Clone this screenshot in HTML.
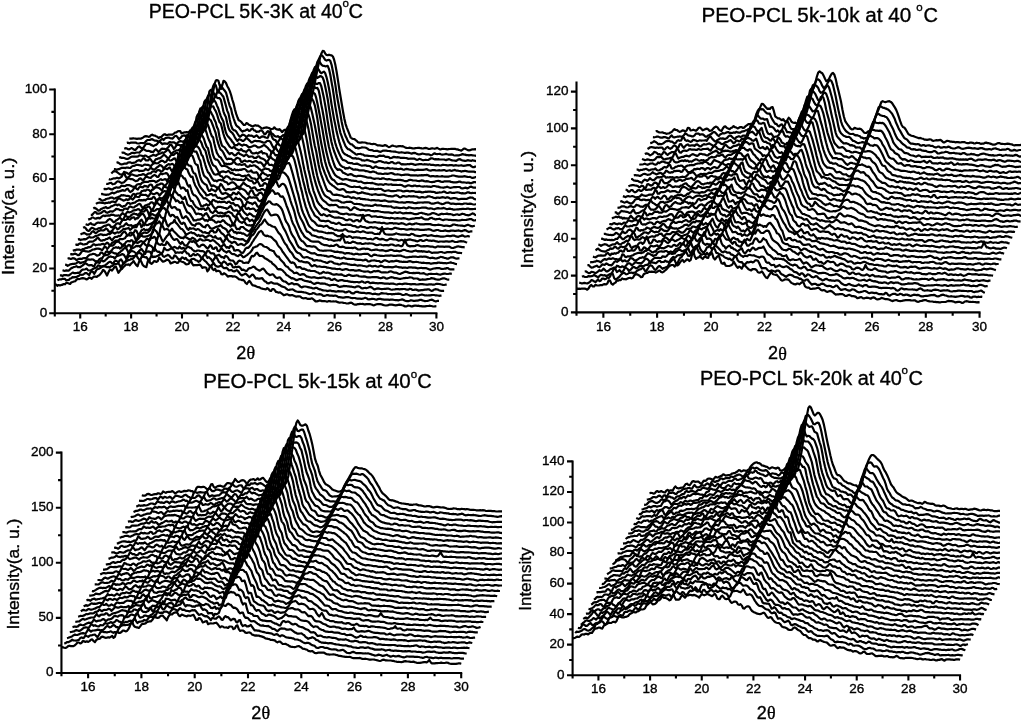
<!DOCTYPE html>
<html><head><meta charset="utf-8"><style>
html,body{margin:0;padding:0;background:#fff;}
svg{display:block;font-family:"Liberation Sans",sans-serif;will-change:transform;}
text{stroke:#000;stroke-width:0.35px;}
</style></head><body>
<svg width="1024" height="720" viewBox="0 0 1024 720">
<rect width="1024" height="720" fill="#fff"/>
<clipPath id="clip0"><rect x="52.8" y="0" width="423.2" height="720"/></clipPath>
<g clip-path="url(#clip0)" fill="none" stroke="#000" stroke-width="2.2" stroke-linejoin="round">
<path d="M54.8 284.3l1.3 0.2 1.2 1.3 1.3-0.8 1.3 0.5 1.3-0.6 1.2-0.1 1.3-0.8 1.3 0.3 1.2-1.4 1.3 0.1 1.3 0.5 1.3 0.5 1.2-1.6 1.3-0.4 1.3-0.5 1.3-0.3 1.2-1.4 1.3-1 1.3 0.3 1.2-0.3 1.3-0.4 1.3-0.3 1.3 0.3 1.2 0.3 1.3 0.8 1.3-0.7 1.2-1.2 1.3 0.2 1.3 1 1.3-1.5 1.2-0.8 1.3 0.2 1.3 0.2 1.2-1 1.3-0.7 1.3-1.5 1.3-1.6 1.2-2.2 1.3 0.8 1.3 2.2 1.3 2.6 1.2-2.7 1.3-2.5 1.3-0.6 1.2 0.8 1.3-1.6 1.3-2 1.3-0.2 1.2 2.9 1.3 3.2 1.3-1.8 1.2-1.5 1.3-0.8 1.3-1.8 1.3-1.1 1.2-1.3 1.3 0.3 1.3-0.4 1.2 0.9 1.3-1.7 1.3-1.1 1.3-1.4 1.2 2.1 1.3 1.8 1.3 1.3 1.3-3.8 1.2-2.7 1.3 1.8 1.3 3.1 1.2 1.3 1.3 0.7 1.3 0.4 1.3-5.7 1.2-1.8 1.3 3.5 1.3 0.7 1.2-1 1.3-1.7 1.3 0.3 1.3 0.5 1.2-0.8 1.3-3.6 1.3 1.5 1.2 1.4 1.3 1.3 1.3-0.3 1.3-0.7 1.2-1.1 1.3 0.2 1.3 1 1.3 2.6 1.2-0.5 1.3-0.5 1.3-0.6 1.2 0.2 1.3 1 1.3-0.4 1.3-2.2 1.2 0.8 1.3 0.5 1.3 0.4 1.2 0.8 1.3 1.2 1.3 0.2 1.3-0.3 1.2-1.5 1.3-1.9 1.3 3.1 1.2 1.7 1.3-0.2 1.3-0.1 1.3 0 1.2-0.2 1.3-0.2 1.3 1.1 1.3 2.1 1.2-0.6 1.3 0 1.3 0.4 1.2 3.7 1.3-1.6 1.3-3.3 1.3-0.4 1.2 3 1.3 1 1.3-1.4 1.2 2.6 1.3-0.4 1.3 0 1.3 0.8 1.2 2.5 1.3 0.2 1.3-1.2 1.2 0.7 1.3 1.1 1.3 1.6 1.3-0.5 1.2 0.1 1.3-0.1 1.3 0.5 1.3-0.3 1.2 0.3 1.3 0.7 1.3 1 1.2 1 1.3 0.2 1.3 0.6 1.3-0.2 1.2 0.9 1.3 2.2 1.3 1 1.2-1.8 1.3-1.4 1.3 1.7 1.3 2.1 1.2 0.9 1.3 0.1 1.3 0.5 1.2 0.7 1.3 0.4 1.3 0.2 1.3 0.9 1.2 0.3 1.3 0.4 1.3 0.2 1.3 0.1 1.2-1.2 1.3 0.9 1.3 1.7 1.2 0.3 1.3-1.8 1.3-0.2 1.3 1.3 1.2 1.7 1.3 0.2 1.3 0.5 1.2-0.4 1.3 0.8 1.3 1 1.3 1.2 1.2-0.4 1.3-0.6 1.3 0.1 1.2 0.7 1.3 0.3 1.3-0.2 1.3 0 1.2 0.5 1.3 0.7 1.3 0.2 1.3-0.3 1.2 0 1.3 0.2 1.3 1.2 1.2 0.4 1.3 0.2 1.3-0.3 1.3 0.4 1.2 0.5 1.3 0 1.3-0.1 1.2-0.5 1.3 0.7 1.3 1.1 1.3 1.3 1.2-0.1 1.3-0.2 1.3-0.7 1.2 0.2 1.3 0.5 1.3 0.1 1.3-0.2 1.2 0.3 1.3 0.4 1.3-0.5 1.3-0.1 1.2 0.3 1.3 0.1 1.3-0.2 1.2 0.2 1.3-0.2 1.3 0.6 1.3 0.5 1.2 0.2 1.3-0.1 1.3 0 1.2 0.4 1.3 0.1 1.3 0.3 1.3 0.2 1.2-0.1 1.3-0.6 1.3-0.2 1.2 0.7 1.3 1 1.3 0.3 1.3 0 1.2-0.4 1.3-0.1 1.3-0.2 1.3 0.1 1.2-0.1 1.3 0.4 1.3 0.1 1.2-0.3 1.3 0.1 1.3-0.2 1.3 0.2 1.2 0.3 1.3 0.6 1.3 0.2 1.2-0.5 1.3-0.5 1.3-0.3 1.3 0.2 1.2-0.1 1.3 0.2 1.3 0.6 1.2 0.3 1.3 0.3 1.3-0.1 1.3-0.3 1.2-0.4 1.3-0.2 1.3 0.2 1.3 0.2 1.2 0.3 1.3 0.1 1.3-0.1 1.2-0.3 1.3-0.2 1.3 0.1 1.3 0.4 1.2 0.3 1.3 0.8 1.3 0 1.2-0.2 1.3-0.6 1.3 0.3 1.3 0.5 1.2 0.1 1.3-0.5 1.3-0.2 1.2 0 1.3 0.1 1.3-0.1 1.3 0.4 1.2 0 1.3 0.3 1.3 0 1.3 0 1.2-0.2 1.3-0.2 1.3-0.1 1.2-0.2 1.3 0.3 1.3 0.3 1.3 0.2 1.2-0.2 1.3-0.1"/>
<path d="M57.4 280.4l1.2-0.7 1.3-0.4 1.3 0.1 1.3-0.6 1.2 0.1 1.3 0 1.3 1.6 1.2-0.4 1.3-0.2 1.3-1.4 1.3-0.3 1.2-1 1.3 0.2 1.3-0.4 1.3 0.1 1.2-0.9 1.3-0.5 1.3-1.2 1.2 0.3 1.3-0.1 1.3-0.8 1.3-0.9 1.2 0.2 1.3 0.9 1.3 0.9 1.2-2.4 1.3-1.5 1.3 0.9 1.3 1.8 1.2-2.2 1.3-2.1 1.3-0.6 1.2-0.3 1.3-0.8 1.3-1 1.3-1 1.2 0.7 1.3 0.2 1.3 0.5 1.3-0.3 1.2 0.8 1.3-1.3 1.3-0.4 1.2-0.9 1.3-1.2 1.3 0.3 1.3-0.4 1.2-0.4 1.3 1.7 1.3 3.3 1.2-3.1 1.3-2.4 1.3-0.4 1.3-1 1.2-0.8 1.3-0.6 1.3-0.3 1.2-0.8 1.3 0.2 1.3-1.5 1.3-1.6 1.2-1.3 1.3 2.7 1.3 1.7 1.3 1.3 1.2-3.2 1.3-1.5 1.3 1.1 1.2 0.4 1.3-0.1 1.3 1.8 1.3 2.6 1.2-3.4 1.3-2.7 1.3 1.7 1.2-0.6 1.3 0.3 1.3-0.7 1.3-0.5 1.2-0.7 1.3-0.7 1.3-0.8 1.2 2.6 1.3 0.8 1.3-0.8 1.3-0.6 1.2-0.7 1.3 0.9 1.3 1.6 1.3 1 1.2 0 1.3-2.8 1.3 0.5 1.2 1.3 1.3 1.7 1.3 0.6 1.3-0.6 1.2-1.6 1.3 0.4 1.3 1 1.2-0.9 1.3 1.9 1.3 0.7 1.3 0.6 1.2-1.3 1.3-0.8 1.3-0.2 1.2 0.5 1.3 1 1.3 0.4 1.3 1.1 1.2-0.5 1.3-1.9 1.3-1.4 1.3 1.8 1.2 1.1 1.3 0.9 1.3 1.7 1.2 1.2 1.3 1.6 1.3-0.9 1.3-1 1.2-1.4 1.3 2.3 1.3 0.9 1.2 0.5 1.3-0.1 1.3-0.6 1.3-0.6 1.2 1.8 1.3 1 1.3-0.1 1.2-0.4 1.3 1.3 1.3 1.5 1.3-0.3 1.2-0.1 1.3 1 1.3 0.3 1.3-0.5 1.2-0.7 1.3 1 1.3 1.6 1.2 1.6 1.3 1.1 1.3-0.8 1.3-0.5 1.2-0.7 1.3 1.2 1.3 1.3 1.2 1.1 1.3-1 1.3-1.5 1.3 0.3 1.2 1.8 1.3 1.9 1.3-0.4 1.2 0.4 1.3 0 1.3-0.2 1.3-0.2 1.2 1.5 1.3 1.5 1.3 0.6 1.3 1.4 1.2 0.2 1.3-0.5 1.3-0.7 1.2 0.6 1.3 0.7 1.3 0.2 1.3 0 1.2-0.1 1.3 1 1.3 0.5 1.2 1 1.3 0.5 1.3 0.4 1.3 0.5 1.2 1.2 1.3 1 1.3 0.3 1.2-0.4 1.3-0.1 1.3-0.2 1.3 0.9 1.2 0.8 1.3 0.5 1.3 0.3 1.3 0 1.2 0 1.3 0.1 1.3 0.3 1.2 0.2 1.3 0.1 1.3 0.5 1.3 0.5 1.2 0.6 1.3-0.1 1.3-0.3 1.2-0.7 1.3 0.3 1.3 0.7 1.3 0.5 1.2 0 1.3-0.4 1.3 0.3 1.2 0.4 1.3 1.1 1.3 0 1.3-0.4 1.2-0.5 1.3 0.2 1.3 0.5 1.3-0.1 1.2 0 1.3 0.2 1.3-0.1 1.2-0.1 1.3 0.7 1.3 0.9 1.3 0 1.2 0.1 1.3 0.3 1.3 0.1 1.2-0.3 1.3-0.3 1.3 0 1.3 0.1 1.2 0.3 1.3 0.5 1.3 0.2 1.2-0.2 1.3 0 1.3 0.4 1.3 0.2 1.2 0 1.3 0 1.3 0.2 1.3-0.1 1.2-0.4 1.3-0.5 1.3 0.4 1.2 0.9 1.3 0.2 1.3-0.1 1.3-0.3 1.2-0.1 1.3 0.2 1.3 0.5 1.2 0.2 1.3-0.6 1.3-0.3 1.3 0.1 1.2 0.4 1.3 0.1 1.3 0.3 1.2 0 1.3 0 1.3 0 1.3 0.2 1.2-0.2 1.3-0.1 1.3 0.1 1.3 0.3 1.2 0.1 1.3 0.1 1.3 0.2 1.2-0.4 1.3-0.3 1.3-0.3 1.3 0.4 1.2 0.7 1.3 0.4 1.3 0.3 1.2-0.1 1.3-0.3 1.3-0.6 1.3 0.3 1.2 0.4 1.3-0.1 1.3-0.1 1.2-0.1 1.3-0.2 1.3-0.6 1.3 0 1.2 0.6 1.3 0.3 1.3 0.4 1.3-0.1 1.2-0.1 1.3-0.4 1.3-0.5 1.2-0.3 1.3 0.1 1.3 1 1.3 0.5 1.2 0 1.3-0.5 1.3 0"/>
<path d="M59.9 275.3l1.3 0 1.3 0.8 1.3-1.1 1.2 0.2 1.3 0 1.3 0.1 1.2 0.1 1.3-0.9 1.3-1 1.3-1 1.2 0.6 1.3 0.1 1.3-0.2 1.2-0.3 1.3 0.2 1.3-1.1 1.3-1.6 1.2-0.6 1.3-0.1 1.3-0.3 1.3-0.6 1.2 1.6 1.3 0.3 1.3-0.1 1.2-0.6 1.3-0.9 1.3-0.6 1.3-0.6 1.2-0.5 1.3-1.9 1.3 0.4 1.2 0.6 1.3 0.1 1.3 0 1.3-0.7 1.2-0.8 1.3-1.1 1.3-1.2 1.2-0.8 1.3 0.1 1.3 1.6 1.3-0.4 1.2-1.9 1.3-0.5 1.3 0.7 1.3 1 1.2-2 1.3-1.1 1.3 1.9 1.2 2.9 1.3-1.6 1.3-2.2 1.3-2.2 1.2-1.9 1.3-0.2 1.3 0.5 1.2-0.3 1.3 0 1.3-0.4 1.3-1.3 1.2-1.6 1.3-1.3 1.3 1.6 1.2 0.6 1.3 3 1.3-2.7 1.3-1.3 1.2-1.4 1.3 0.2 1.3-0.2 1.3 0.6 1.2 2.5 1.3-4.4 1.3-2.4 1.2 1.5 1.3 1.9 1.3 0.7 1.3-0.2 1.2 1.5 1.3 0.6 1.3-2 1.2-3.9 1.3 1.5 1.3 0.9 1.3 0 1.2-0.6 1.3-0.9 1.3-0.3 1.2 1.1 1.3 1.2 1.3 2.5 1.3-0.9 1.2 0.3 1.3 0 1.3-0.3 1.3 0.7 1.2-1.4 1.3-1 1.3 1.2 1.2 1.7 1.3 0 1.3 2.4 1.3 0.2 1.2-1.1 1.3-1.1 1.3 1.3 1.2-0.1 1.3-1 1.3 0.6 1.3 1.2 1.2 1.9 1.3-0.1 1.3-2 1.2-2 1.3 2 1.3 2.1 1.3-0.7 1.2 1.1 1.3 1.2 1.3 2.4 1.3-2.5 1.2-1.5 1.3-0.6 1.3 2.2 1.2 2.5 1.3 0.9 1.3 1.7 1.3-2.2 1.2-0.9 1.3 0.9 1.3 1.5 1.2 1.3 1.3-1.2 1.3-0.2 1.3 1.1 1.2 2.4 1.3 0.3 1.3-0.7 1.2 0.5 1.3-0.6 1.3 0.1 1.3 1.4 1.2 1.8 1.3-0.4 1.3 0.6 1.3 0.7 1.2 0 1.3-1.9 1.3-0.9 1.2 0 1.3-0.7 1.3-0.8 1.3 0.4 1.2 1.5 1.3 0.9 1.3 0.7 1.2 0.6 1.3-0.8 1.3-1 1.3-0.2 1.2 1.4 1.3 1.9 1.3 1.4 1.2 0.7 1.3 1 1.3-0.4 1.3-0.4 1.2 0.5 1.3 1.8 1.3 1.2 1.3 0.3 1.2-0.6 1.3-0.2 1.3 1.7 1.2 1.5 1.3 0.9 1.3 0.1 1.3 0.8 1.2 1 1.3 1 1.3-0.6 1.2-0.5 1.3 0.2 1.3 0.9 1.3-0.1 1.2-0.1 1.3 0.3 1.3 1 1.2 1.2 1.3 0.8 1.3-0.5 1.3-0.4 1.2 0 1.3 0.3 1.3 0.3 1.3 0.3 1.2 0.3 1.3 0.2 1.3 0.6 1.2-0.1 1.3-0.6 1.3 0.1 1.3 0.8 1.2 0.6 1.3 0.1 1.3 0.7 1.2 0.2 1.3 0.2 1.3 0 1.3 0.6 1.2-0.3 1.3-0.2 1.3 0.1 1.2 0.4 1.3 0.1 1.3 0.2 1.3 0.2 1.2-0.2 1.3-0.3 1.3 0.2 1.3 0 1.2 0.1 1.3 0.1 1.3 0.8 1.2 0.1 1.3-0.5 1.3-0.6 1.3 0.5 1.2 1.1 1.3 0.5 1.3-0.1 1.2-1 1.3-0.4 1.3 0 1.3 0.5 1.2 0.2 1.3 0.2 1.3 0.1 1.2-0.1 1.3 0.3 1.3 0.2 1.3-0.1 1.2-0.1 1.3 0.2 1.3 0.5 1.3 0.3 1.2-0.3 1.3-0.1 1.3 0.5 1.2 0.2 1.3-0.1 1.3-0.7 1.3-0.5 1.2 0.2 1.3 0.2 1.3 0 1.2 0.2 1.3 0.4 1.3-0.1 1.3 0 1.2 0.4 1.3-0.2 1.3 0 1.2-0.4 1.3 0.1 1.3-0.3 1.3 0.2 1.2 0.3 1.3 0.7 1.3 0.2 1.3-0.3 1.2-0.6 1.3 0.3 1.3 0.7 1.2 0.5 1.3 0 1.3 0 1.3-0.3 1.2-0.2 1.3 0.3 1.3 0.1 1.2-0.1 1.3-0.4 1.3-0.3 1.3 0 1.2 0.3 1.3 0.5 1.3-0.1 1.2 0.1 1.3-0.2 1.3 0.1 1.3-0.2 1.2-0.2 1.3 0 1.3 0.3 1.3 0.1 1.2 0.1 1.3 0.3 1.3-0.1 1.2-0.1"/>
<path d="M62.5 270.3l1.3 0.3 1.3 0.2 1.2-0.4 1.3 0.2 1.3 0 1.2-1.3 1.3-1.2 1.3-0.5 1.3-0.6 1.2-0.3 1.3-0.5 1.3 0.9 1.2 0 1.3 0.1 1.3-1.1 1.3-0.8 1.2-1.2 1.3-1 1.3 0.9 1.3 0.9 1.2 0.5 1.3-0.2 1.3 0 1.2 0.9 1.3 0 1.3-2.8 1.3-2.2 1.2 1 1.3 1 1.3-2.2 1.2-0.6 1.3 1.1 1.3-0.5 1.3-1.2 1.2-1.1 1.3-1.3 1.3-0.6 1.2-0.3 1.3 0.6 1.3 0 1.3 1.6 1.2-1.8 1.3-0.9 1.3-0.3 1.3-0.3 1.2-0.6 1.3-0.6 1.3 0.4 1.2 1.7 1.3 2.3 1.3-2.7 1.3-2.4 1.2-1.2 1.3-1 1.3 0 1.2 0.3 1.3 1 1.3 1 1.3 0.1 1.2-2.1 1.3-1.5 1.3-1.2 1.2 1.7 1.3 1.5 1.3 1.9 1.3-5.2 1.2-4 1.3 0.4 1.3 0.5 1.3 0.7 1.2 1.6 1.3 3 1.3-6.3 1.2-3.3 1.3 2.3 1.3 0.9 1.3 0.4 1.2-1.1 1.3 1.1 1.3 0.3 1.2-0.4 1.3-3.1 1.3 1.3 1.3 1.8 1.2 1.5 1.3 1.9 1.3-0.6 1.2-0.8 1.3 0.6 1.3 0.9 1.3 0.1 1.2-1.9 1.3 1.6 1.3 0.5 1.3-0.8 1.2 1.1 1.3-0.2 1.3-1.7 1.2-0.4 1.3 1.1 1.3 0.2 1.3 1.6 1.2 1 1.3 0.8 1.3-0.1 1.2-0.7 1.3 0 1.3 0.4 1.3 0.3 1.2-0.2 1.3 0.5 1.3 1.1 1.2 0.3 1.3-2.4 1.3 0.3 1.3 1.9 1.2 0.8 1.3-0.3 1.3 0.4 1.3 2.7 1.2-0.5 1.3-0.5 1.3-0.6 1.2 1.2 1.3 1.2 1.3-0.1 1.3 1.2 1.2-2.3 1.3 0.4 1.3 1.2 1.2 2 1.3 0.9 1.3 0.1 1.3 0.1 1.2 1.3 1.3 2.4 1.3-0.7 1.2-2 1.3-1 1.3 0.4 1.3 0.3 1.2 1.4 1.3 0.3 1.3-0.3 1.3 0 1.2 0.1 1.3-2 1.3-3.1 1.2-1.9 1.3 0.5 1.3-0.9 1.3-2.1 1.2-0.6 1.3 1.8 1.3 1.5 1.2-0.1 1.3 0.1 1.3 0.8 1.3 1.5 1.2 0.4 1.3 0.8 1.3 0.9 1.2 1 1.3 0.3 1.3 1.9 1.3 0.9 1.2 1.1 1.3 1.4 1.3 1.9 1.3 0.5 1.2-0.3 1.3 0.5 1.3 0.8 1.2 1.4 1.3 1.2 1.3 1.9 1.3 0.6 1.2 1 1.3 0.8 1.3 1 1.2-0.1 1.3 0.6 1.3 0.8 1.3 0.5 1.2-0.2 1.3-0.8 1.3-0.1 1.2 0.1 1.3 0.9 1.3 0.6 1.3 0.3 1.2 0.2 1.3 0.3 1.3 0.4 1.3-0.1 1.2 0.9 1.3 0.8 1.3 0.6 1.2-0.6 1.3-0.5 1.3 0 1.3 0.3 1.2 0.5 1.3-0.3 1.3 0.3 1.2-0.2 1.3 0.6 1.3 0.3 1.3 0.7 1.2 0.5 1.3-0.4 1.3-0.2 1.2-0.3 1.3 0.3 1.3 0 1.3 0.6 1.2 0.9 1.3 0.4 1.3-0.3 1.3-0.2 1.2-0.5 1.3 0.2 1.3-0.1 1.2 0.3 1.3 0 1.3 0.3 1.3-0.1 1.2 0.5 1.3 0.2 1.3 0.1 1.2-0.7 1.3-0.2 1.3-0.1 1.3 0.9 1.2 0.9 1.3 0.3 1.3-0.4 1.2-0.1 1.3 0.2 1.3-0.3 1.3-0.5 1.2-0.4 1.3 0.5 1.3 1 1.3 0.9 1.2-0.1 1.3-0.6 1.3-0.2 1.2 0.2 1.3 0.4 1.3 0.1 1.3-0.1 1.2-0.1 1.3 0 1.3-0.2 1.2-0.2 1.3 0.5 1.3 0.5 1.3 0.3 1.2-0.3 1.3 0 1.3-0.4 1.2 0 1.3 0 1.3 0.2 1.3-0.1 1.2-0.1 1.3-0.1 1.3 0 1.3 0.4 1.2 0.2 1.3 0 1.3-0.8 1.2 0.2 1.3 0.8 1.3 0.2 1.3-0.4 1.2 0 1.3 0.5 1.3 0.5 1.2-0.3 1.3-0.1 1.3-0.1 1.3-0.2 1.2-0.2 1.3-0.1 1.3-0.2 1.2-0.1 1.3 0.8 1.3 0.8 1.3-0.2 1.2-1 1.3-0.5 1.3 0.1 1.3 0.3 1.2 0.6 1.3 0.4 1.3 0.2 1.2 0.1 1.3 0"/>
<path d="M65.1 264.6l1.3 0.2 1.2 1 1.3-0.6 1.3-0.9 1.2-0.1 1.3-0.4 1.3 0.1 1.3-0.2 1.2-0.5 1.3-1 1.3-0.1 1.2 1 1.3-0.5 1.3-0.4 1.3-0.4 1.2-0.4 1.3-1.3 1.3-0.9 1.2 0.5 1.3 0 1.3-0.3 1.3 0.1 1.2 0.8 1.3 1 1.3 1.4 1.3-1.8 1.2-1.8 1.3-0.7 1.3 0.2 1.2-2.1 1.3-1.2 1.3-0.1 1.3-0.3 1.2-0.3 1.3-1.2 1.3-1.4 1.2 0.3 1.3 0.5 1.3 0.6 1.3-0.1 1.2 2 1.3-2.1 1.3-0.8 1.2-1.3 1.3-0.8 1.3-1.6 1.3-0.8 1.2 0.3 1.3 2.1 1.3 3.4 1.3-3.2 1.2-1.7 1.3-0.6 1.3-0.6 1.2-0.7 1.3-1 1.3 0.4 1.3-0.5 1.2 1.1 1.3-2 1.3-1.5 1.2-0.8 1.3 2 1.3 1 1.3 0.3 1.2-4.7 1.3-3.4 1.3 0 1.2 0.1 1.3-1.1 1.3 0.8 1.3 3.7 1.2-4.3 1.3-2.7 1.3 2 1.3 3.4 1.2 1.9 1.3-1.8 1.3-2 1.2-1.7 1.3-1.1 1.3-2.5 1.3 2.7 1.2 2.2 1.3 1.7 1.3 0.9 1.2-0.7 1.3-0.3 1.3 1.9 1.3 2.1 1.2 0.8 1.3-1.8 1.3 1.7 1.2 1.7 1.3 0.2 1.3-0.6 1.3-1.9 1.2-1.8 1.3 0.1 1.3 0.5 1.3-1 1.2 1.3 1.3 0.8 1.3 2.4 1.2 1.2 1.3 0 1.3-1.5 1.3-0.4 1.2 0.2 1.3 1.1 1.3 1.5 1.2 0.8 1.3-1 1.3-2.2 1.3 1.3 1.2 2.2 1.3 0.3 1.3-1.4 1.2-0.2 1.3 3.7 1.3 0.3 1.3-1.6 1.2-1.8 1.3 1.9 1.3 1.3 1.3 0.6 1.2 0.8 1.3-1.1 1.3-0.4 1.2 1.5 1.3 1.3 1.3 0.4 1.3-0.2 1.2 1 1.3 0.8 1.3 0.3 1.2-1.1 1.3-0.6 1.3 1.4 1.3 1.5 1.2-0.3 1.3-1.1 1.3-0.8 1.2-1.1 1.3-1 1.3-1.3 1.3-1.7 1.2-2.4 1.3-0.4 1.3-0.6 1.3-0.4 1.2-1.3 1.3-0.8 1.3 0.1 1.2 0.6 1.3 1.5 1.3 0.4 1.3 0.3 1.2 0.6 1.3 0.9 1.3 1.5 1.2 0.2 1.3 0.6 1.3 0.2 1.3 2.7 1.2 1.6 1.3 1.4 1.3 0 1.2 2.3 1.3 1.4 1.3 1.4 1.3 1.3 1.2 2.2 1.3 1.2 1.3 0.4 1.3 1.8 1.2 1.1 1.3 0.9 1.3 0.9 1.2 1.5 1.3-0.1 1.3-0.4 1.3 0.9 1.2 1 1.3 0.4 1.3-0.6 1.2-0.2 1.3 0.3 1.3 1.1 1.3 1.1 1.2 0.1 1.3 0.4 1.3 0.3 1.2 0.2 1.3-0.3 1.3-0.1 1.3 0.4 1.2 0.3 1.3 0.3 1.3-0.3 1.3-0.1 1.2-0.1 1.3-0.4 1.3 0.2 1.2 0.7 1.3 0.3 1.3-0.3 1.3 0.4 1.2 1.2 1.3 0.2 1.3-0.7 1.2-0.4 1.3 0.9 1.3 0.9 1.3 0.1 1.2-0.5 1.3-0.2 1.3 0 1.2 0.6 1.3 0.1 1.3 0.2 1.3-0.1 1.2 0.5 1.3 0.2 1.3 0.2 1.3 0.1 1.2 0.2 1.3 0 1.3-0.1 1.2 0 1.3 0.5 1.3-0.4 1.3-0.7 1.2 0.2 1.3 0.9 1.3 0.3 1.2-0.8 1.3-0.1 1.3 0.5 1.3 0.8 1.2-0.3 1.3-0.2 1.3 0.2 1.2 0.2 1.3 0 1.3 0.2 1.3-0.1 1.2-0.1 1.3 0 1.3 0.2 1.3 0.3 1.2 0 1.3 0.1 1.3 0 1.2 0.1 1.3-0.2 1.3 0 1.3 0 1.2 0.4 1.3 0.3 1.3 0.2 1.2-0.5 1.3-0.2 1.3 0.2 1.3 0.3 1.2-0.4 1.3-0.3 1.3 0 1.2 0.2 1.3 0.2 1.3 0.1 1.3 0.3 1.2-0.2 1.3-0.1 1.3 0 1.3 0.4 1.2 0 1.3-0.2 1.3-0.2 1.2 0.1 1.3-0.1 1.3 0.2 1.3 0.2 1.2 0.2 1.3 0 1.3-0.3 1.2 0 1.3-0.1 1.3 0.4 1.3 0 1.2-0.4 1.3-0.5 1.3 0 1.2 0.2 1.3 0.2 1.3 0.3 1.3 0.4 1.2 0.1 1.3-0.3 1.3-0.1"/>
<path d="M67.6 258.7l1.3-0.5 1.3 0.7 1.3-0.1 1.2-0.6 1.3 0.1 1.3 0.7 1.3 1.2 1.2-0.9 1.3-0.4 1.3-0.2 1.2 0.3 1.3-0.7 1.3-0.3 1.3 0.5 1.2-0.8 1.3-1.6 1.3-1.1 1.2-0.5 1.3-0.2 1.3-0.4 1.3 0.1 1.2 0.6 1.3 1.1 1.3-0.3 1.3-0.7 1.2-2.2 1.3 0.2 1.3 1.2 1.2 0.7 1.3-2.6 1.3-0.9 1.3 1.3 1.2-0.3 1.3-1 1.3-1.4 1.2-1.6 1.3-0.3 1.3-0.6 1.3 0.7 1.2-0.7 1.3 1.3 1.3-0.8 1.2-1.2 1.3-0.9 1.3-0.5 1.3 2.1 1.2-0.9 1.3-1.5 1.3 0.4 1.3 2.9 1.2-2.6 1.3-2.7 1.3-0.6 1.2 0.3 1.3 0.6 1.3-0.9 1.3-0.8 1.2-0.3 1.3 0.8 1.3-0.2 1.2-0.8 1.3-1.8 1.3-0.2 1.3 0.8 1.2 0 1.3-5.8 1.3-3.9 1.2-0.8 1.3 1.4 1.3 1.1 1.3 2.7 1.2 0.6 1.3-7.1 1.3-3.4 1.3 2.6 1.2 2.5 1.3-0.3 1.3-0.4 1.2 0.6 1.3 1.6 1.3-0.4 1.3-2.1 1.2 2.1 1.3 1.3 1.3 1.3 1.2 1.2 1.3 1.4 1.3 1.1 1.3 0.9 1.2-0.2 1.3 0.6 1.3-1.9 1.2 0.9 1.3 0.7 1.3 0.9 1.3 0.5 1.2-0.3 1.3-1.4 1.3 0.6 1.3 0.9 1.2 1.5 1.3 0.5 1.3-1.2 1.2-0.9 1.3 0.4 1.3 0.9 1.3 0.1 1.2-0.1 1.3-0.7 1.3 0.1 1.2 0.4 1.3 1 1.3-0.4 1.3-0.9 1.2 0.7 1.3 1.1 1.3 1.2 1.2 0.9 1.3 1.2 1.3 1.7 1.3-0.4 1.2-1 1.3-1.2 1.3 2 1.3 1.6 1.2-0.6 1.3 1 1.3-2.5 1.2 0.7 1.3 0.8 1.3 3.4 1.3 0.1 1.2-0.6 1.3 0.1 1.3 0.6 1.2 1.3 1.3 1 1.3-0.4 1.3-2.1 1.2-2.1 1.3-0.7 1.3 0.2 1.2-1.4 1.3-1.5 1.3-2.5 1.3-1.9 1.2-2 1.3-1.6 1.3-2.1 1.3-2.1 1.2-1.2 1.3-0.7 1.3 1.1 1.2 2.5 1.3 1 1.3 0.6 1.3-0.5 1.2 0.7 1.3 0.2 1.3 0.6 1.2 1 1.3 1.5 1.3 1 1.3 1.3 1.2 2.6 1.3 2 1.3 1.2 1.2 1.6 1.3 2.4 1.3 1.6 1.3 1.9 1.2 1.6 1.3 1.7 1.3 1.9 1.3 1.8 1.2 0.7 1.3-0.5 1.3 0.6 1.2 1.6 1.3 2.8 1.3 0 1.3-0.3 1.2 0.1 1.3 1.4 1.3 0.2 1.2-0.2 1.3 0.8 1.3 0.5 1.3 0.7 1.2-0.3 1.3 0.7 1.3 0 1.2 0 1.3 0 1.3 0.6 1.3 0.7 1.2 0.3 1.3 1 1.3-0.1 1.3-0.8 1.2-0.9 1.3 0.7 1.3 0.3 1.2-0.1 1.3 0 1.3 0.4 1.3 0.5 1.2 0.6 1.3 0.5 1.3-0.1 1.2-0.4 1.3 0.2 1.3 0.3 1.3-0.1 1.2-0.2 1.3 0.5 1.3 0.7 1.2 0.4 1.3 0 1.3-0.7 1.3-0.7 1.2 0.4 1.3 0.7 1.3 0.2 1.3-0.1 1.2-0.1 1.3-0.3 1.3 0.1 1.2 0.7 1.3 0.3 1.3 0.2 1.3-0.1 1.2-0.2 1.3 0.2 1.3 0.6 1.2 0.1 1.3 0 1.3 0 1.3-0.1 1.2-0.2 1.3 0.1 1.3 0 1.2 0.1 1.3 0.2 1.3 0.5 1.3 0.4 1.2-0.4 1.3-0.5 1.3 0.1 1.3 0.9 1.2 0.2 1.3-0.4 1.3-0.4 1.2-0.5 1.3-0.1 1.3 0.3 1.3 0.7 1.2 0 1.3 0.1 1.3 0.3 1.2 0.2 1.3 0 1.3-0.3 1.3-0.3 1.2-0.1 1.3-0.2 1.3 0.1 1.2-0.3 1.3-0.3 1.3 0.1 1.3 0.3 1.2 0.9 1.3-0.2 1.3 0 1.3 0 1.2 0.9 1.3 0.5 1.3-0.2 1.2-0.3 1.3 0.2 1.3 0.1 1.3-0.3 1.2-0.2 1.3-0.2 1.3-0.3 1.2-0.6 1.3 0.2 1.3 0.3 1.3 0.5 1.2 0.4 1.3 0.2 1.3-0.1 1.2-0.3 1.3-0.5 1.3-0.4 1.3-0.1 1.2 0.4 1.3 0.5 1.3 0.4 1.3 0.1"/>
<path d="M70.2 254.5l1.3-0.4 1.3 0.3 1.2-0.5 1.3-0.2 1.3 0.6 1.3 0.9 1.2-0.3 1.3-1.3 1.3-2 1.2-0.8 1.3 0.1 1.3 0.4 1.3 0 1.2 0.4 1.3-0.3 1.3-0.5 1.2-0.8 1.3-0.6 1.3-0.1 1.3-0.5 1.2-0.3 1.3 0 1.3 0.3 1.2 0.4 1.3 0.9 1.3-1.6 1.3-1.9 1.2 0.3 1.3 2 1.3-1.3 1.3-1.8 1.2-0.4 1.3 0.1 1.3-0.5 1.2-1.4 1.3-1.7 1.3-0.2 1.3-0.3 1.2 1.4 1.3 0.7 1.3 2.2 1.2-1.4 1.3-0.8 1.3-1.7 1.3-0.8 1.2 0.1 1.3 0.1 1.3-1.1 1.2 0.4 1.3 3 1.3-1.8 1.3-1.8 1.2-0.5 1.3-1.5 1.3-1.7 1.3-1 1.2 1.1 1.3 0.3 1.3-0.1 1.2-0.3 1.3-0.2 1.3-0.7 1.3-0.6 1.2-0.9 1.3-1.5 1.3-5.7 1.2-3.2 1.3 0 1.3-0.6 1.3-1.6 1.2 2.1 1.3 2.7 1.3-4.7 1.2-3.8 1.3 3 1.3 4 1.3 1.9 1.2-1.7 1.3-1.2 1.3-0.6 1.3-0.7 1.2-2.5 1.3 2.9 1.3 1.1 1.2 1.6 1.3 1.7 1.3 1.7 1.3 0.3 1.2 1.4 1.3 1.8 1.3 2.8 1.2-1.1 1.3-0.6 1.3-0.7 1.3-0.5 1.2 0.9 1.3-0.1 1.3 0.8 1.2 1 1.3 1.1 1.3-0.9 1.3 1.3 1.2-0.8 1.3 0.1 1.3 0.6 1.3 1.5 1.2-0.7 1.3-0.7 1.3-0.9 1.2 0.1 1.3 0.5 1.3 1.2 1.3 0.3 1.2-1.4 1.3 2 1.3 0.6 1.2 0.1 1.3-0.7 1.3 2.3 1.3 2.2 1.2-1.2 1.3-2.3 1.3-1.5 1.2 2.3 1.3 1.5 1.3 0.4 1.3 1.4 1.2-0.9 1.3-0.4 1.3 0.4 1.3 1.8 1.2 0.9 1.3-0.5 1.3-0.6 1.2 0.2 1.3 0.9 1.3 0.4 1.3-1.5 1.2-1 1.3-1.3 1.3-2.3 1.2-2.6 1.3-1.4 1.3-0.8 1.3-2.1 1.2-2.5 1.3-1.2 1.3-1.7 1.2-1.9 1.3-0.6 1.3-1.4 1.3-2.3 1.2-1.3 1.3 2.2 1.3 1.7 1.3 1.3 1.2 0.2 1.3 0.8 1.3 0.8 1.2 0.3 1.3 0.3 1.3 2 1.3 2.2 1.2 1.9 1.3 1.1 1.3 2.2 1.2 2.6 1.3 2.5 1.3 2.2 1.3 1.3 1.2 2.4 1.3 2.1 1.3 2.1 1.2 1 1.3 1.8 1.3 2.5 1.3 1.3 1.2 0.6 1.3 0.9 1.3 1.3 1.3 0.2 1.2-0.1 1.3 0.7 1.3 0.3 1.2 0.1 1.3-0.2 1.3 0.4 1.3 0.9 1.2 1.7 1.3 1.2 1.3-0.6 1.2-0.6 1.3 0.5 1.3 1 1.3-0.1 1.2-0.1 1.3 0.3 1.3 0.3 1.2-0.1 1.3 0 1.3 0.1 1.3 0.7 1.2 0 1.3 0.3 1.3 0.2 1.3 0.5 1.2-0.2 1.3 0.1 1.3 0.4 1.2 0.1 1.3-0.1 1.3-0.1 1.3 0.6 1.2 0.4 1.3-0.2 1.3-0.5 1.2-0.1 1.3 0.3 1.3 0.6 1.3 0.3 1.2-0.3 1.3 0.2 1.3 0 1.2 0.5 1.3-0.1 1.3-0.2 1.3-0.3 1.2 0.3 1.3 0.6 1.3 0.3 1.3 0.4 1.2-0.1 1.3-0.1 1.3-0.1 1.2 0.4 1.3 0.6 1.3-0.2 1.3-0.6 1.2-0.5 1.3 0.2 1.3-0.1 1.2-0.3 1.3 0.4 1.3 0.7 1.3 0.5 1.2-0.2 1.3 0 1.3 0 1.2 0.2 1.3-0.3 1.3-0.6 1.3-0.3 1.2 0.4 1.3 0.7 1.3 0.2 1.3 0 1.2 0.4 1.3 0.7 1.3 0.3 1.2-0.4 1.3-0.6 1.3-0.6 1.3-0.6 1.2-0.1 1.3 0.4 1.3 0.5 1.2 0.3 1.3 0.1 1.3 0.1 1.3-0.2 1.2 0.2 1.3-0.2 1.3-0.1 1.2 0 1.3 0.7 1.3 0 1.3-0.2 1.2-0.2 1.3 0.8 1.3 0.6 1.3 0.1 1.2-0.6 1.3-0.1 1.3-0.1 1.2 0.2 1.3 0 1.3 0 1.3-0.3 1.2 0.4 1.3 0.4 1.3 0.2 1.2-0.4 1.3-0.4 1.3-0.3 1.3 0.1 1.2 0.3 1.3 0 1.3-0.3 1.2-0.1 1.3 0.2"/>
<path d="M72.8 250.7l1.3-0.5 1.2 0.2 1.3-0.9 1.3 0.1 1.3-0.1 1.2 0.5 1.3-0.3 1.3-0.7 1.2-0.2 1.3-0.7 1.3-0.1 1.3-0.8 1.2 0.1 1.3-0.4 1.3-1.2 1.2-1.3 1.3-0.1 1.3 1 1.3-0.5 1.2-0.1 1.3-0.2 1.3 0.1 1.2-0.5 1.3-0.3 1.3 1 1.3-1.2 1.2-1 1.3 0.9 1.3 2 1.3-1.3 1.2-1.4 1.3-0.4 1.3-1.2 1.2-0.7 1.3 0.2 1.3-0.4 1.3-1.2 1.2-0.1 1.3 0.2 1.3-0.5 1.2-0.4 1.3-1.9 1.3-1.3 1.3-0.1 1.2 0.6 1.3-0.3 1.3-1.4 1.2 1 1.3 3.3 1.3 3.1 1.3-4.5 1.2-2.8 1.3-0.4 1.3 0.6 1.3-1 1.2-0.6 1.3 0 1.3 0.4 1.2-0.5 1.3-1.2 1.3-1.8 1.3-2.2 1.2 0.1 1.3-1.1 1.3-1.5 1.2-6.8 1.3-4.3 1.3 0.2 1.3 2.7 1.2 1.1 1.3 0.6 1.3 2 1.2-6.1 1.3-4.1 1.3 1.6 1.3 3.3 1.2 1.3 1.3-1.5 1.3 0.2 1.3 1.5 1.2 1.2 1.3-0.9 1.3 2.1 1.2 2.5 1.3 2 1.3 0.5 1.3-1.3 1.2 0.8 1.3 3.2 1.3 2.3 1.2 0.9 1.3-1.8 1.3 0.8 1.3-0.3 1.2-0.2 1.3 1 1.3 0.7 1.2-1 1.3 0.3 1.3 1.2 1.3 0.6 1.2 1.2 1.3 0.2 1.3-0.4 1.3 0.9 1.2 0.2 1.3 0.2 1.3-2.1 1.2-0.4 1.3-0.6 1.3 2.1 1.3 0 1.2-0.5 1.3-2.9 1.3 0.7 1.2 1.9 1.3 1.6 1.3 0.8 1.3 1.3 1.2 1.9 1.3-1 1.3-1.7 1.2-0.3 1.3 2.2 1.3 0.6 1.3 0.1 1.2 1.3 1.3 0 1.3 0.3 1.3 0.3 1.2 0.4 1.3 0 1.3-0.2 1.2 0.2 1.3 1.1 1.3 0.9 1.3-0.2 1.2-1.4 1.3-2.5 1.3-3.2 1.2-2.3 1.3-1.2 1.3-2.6 1.3-2 1.2-1.6 1.3-1.6 1.3-1.8 1.2-2.5 1.3-2.8 1.3-2.5 1.3-2 1.2-1.3 1.3-0.2 1.3 2.2 1.3 2.3 1.2 1.3 1.3-0.3 1.3-0.4 1.2-0.1 1.3-0.1 1.3 0.7 1.3 1.9 1.2 2.7 1.3 3.1 1.3 3.2 1.2 2.5 1.3 2.1 1.3 2.8 1.3 3 1.2 3.1 1.3 2.2 1.3 2 1.2 1.9 1.3 2.3 1.3 2.2 1.3 1.7 1.2 0.9 1.3 0.3 1.3 0.9 1.3 1.9 1.2 1.2 1.3 0.4 1.3-0.3 1.2-0.3 1.3 0.4 1.3 0.7 1.3 0.4 1.2 0.3 1.3 1.3 1.3 0.5 1.2-0.4 1.3-0.1 1.3 0.4 1.3 0.1 1.2 0 1.3 0.7 1.3 0.4 1.2 0.3 1.3 0.6 1.3 0.4 1.3-0.8 1.2-0.7 1.3 0 1.3 0.5 1.3 0.9 1.2 0.6 1.3 0.2 1.3 0.1 1.2 0.7 1.3 0 1.3-0.7 1.3-0.6 1.2 0.2 1.3 0.2 1.3 0 1.2 0.5 1.3 0.2 1.3 0.3 1.3 0.2 1.2 0.2 1.3-0.3 1.3 0.2 1.2 0.4 1.3 0.3 1.3-0.2 1.3 0 1.2 0.1 1.3 0.3 1.3 0.2 1.3 0.3 1.2 0.3 1.3-0.4 1.3-0.7 1.2 0.2 1.3 0.6 1.3 0.1 1.3-0.4 1.2-0.1 1.3 0.6 1.3 0.3 1.2-0.4 1.3-0.8 1.3 0.4 1.3 0.5 1.2 0.7 1.3 0 1.3-0.1 1.2-0.2 1.3 0.2 1.3 0.1 1.3 0.2 1.2-0.2 1.3-0.5 1.3-0.3 1.3 0.4 1.2 0.3 1.3 0.3 1.3 0 1.2 0.4 1.3-0.2 1.3 0.1 1.3 0 1.2 0.3 1.3-0.6 1.3-0.1 1.2 0 1.3 0.3 1.3-0.1 1.3 0.1 1.2 0.3 1.3 0.4 1.3-0.1 1.2-0.2 1.3-0.2 1.3 0.4 1.3 0 1.2 0 1.3 0 1.3 0.5 1.3 0.7 1.2 0.2 1.3-0.4 1.3-0.4 1.2-0.3 1.3-0.2 1.3-0.2 1.3 0.1 1.2-0.2 1.3 0.6 1.3 0.2 1.2 0.2 1.3-0.3 1.3-0.1 1.3-0.5 1.2 0.1 1.3 0.9 1.3 0.3 1.2-0.1 1.3 0.1 1.3 0"/>
<path d="M75.4 244.9l1.2-0.3 1.3 0.3 1.3-1.2 1.2-0.3 1.3 0.4 1.3 0.7 1.3-0.1 1.2-0.2 1.3-0.2 1.3-1.5 1.3-0.8 1.2 0 1.3 0 1.3-0.2 1.2-1 1.3-0.8 1.3-1.6 1.3-0.1 1.2 1.7 1.3 0.9 1.3 0.1 1.2-0.6 1.3 0 1.3-0.9 1.3-0.2 1.2-0.8 1.3-0.7 1.3 1.8 1.2 1.1 1.3-2 1.3-1.4 1.3-0.1 1.2-0.1 1.3-0.9 1.3 0.4 1.3-1.4 1.2-1.7 1.3-1.4 1.3 0.1 1.2 1.6 1.3 2 1.3-0.9 1.3-2.1 1.2 0.2 1.3 0.7 1.3-0.9 1.2-2.3 1.3 0.5 1.3 2.8 1.3 2.2 1.2-2.9 1.3-2.5 1.3-0.6 1.2-0.8 1.3 1.5 1.3-0.7 1.3 0.3 1.2-0.8 1.3-1.1 1.3-2.7 1.3-2 1.2-0.9 1.3-0.6 1.3-1.5 1.2-3.5 1.3-5.8 1.3-3 1.3 0.6 1.2-0.4 1.3-0.3 1.3 1.8 1.2 1.4 1.3-5.4 1.3-2.4 1.3 3.3 1.2 1.4 1.3-0.8 1.3-0.3 1.2 0.9 1.3 1.8 1.3-0.1 1.3 0.4 1.2 4.2 1.3 3.5 1.3 0.4 1.3-1.1 1.2-0.9 1.3 1.5 1.3 2.1 1.2 2 1.3 2 1.3 1.2 1.3 0.4 1.2 0.5 1.3-1.9 1.3-0.3 1.2-0.2 1.3 0.4 1.3 1.3 1.3 1.3 1.2 0.5 1.3 0.4 1.3-2.1 1.2-0.4 1.3 1.2 1.3 2.1 1.3 0.6 1.2-0.2 1.3-0.6 1.3-0.6 1.3-0.6 1.2-0.1 1.3-0.5 1.3-1 1.2 1.1 1.3 1.6 1.3 0.3 1.3 0.9 1.2 0.9 1.3 2.7 1.3-1.1 1.2-1.4 1.3-1 1.3 1.7 1.3 1.7 1.2-0.5 1.3 1.5 1.3-1.1 1.2 0.5 1.3-0.2 1.3 0.9 1.3-0.2 1.2 0.7 1.3 1 1.3 0.8 1.3-0.8 1.2-1.5 1.3-1.9 1.3-2.5 1.2-3.4 1.3-3.1 1.3-2.4 1.3-0.8 1.2-1.6 1.3-2.4 1.3-3.3 1.2-1.6 1.3-3.1 1.3-2.4 1.3-1.2 1.2-1 1.3-1.6 1.3 0.2 1.2 1.7 1.3 1 1.3 0.3 1.3 0.2 1.2-0.6 1.3 0.6 1.3 1.1 1.3 1.2 1.2 1.6 1.3 2.7 1.3 4 1.2 4.2 1.3 2.7 1.3 1.7 1.3 2.7 1.2 4 1.3 3.3 1.3 2.1 1.2 1.6 1.3 2.6 1.3 3.3 1.3 2.5 1.2 1.5 1.3 0.4 1.3 1.2 1.2 0.3 1.3 0.5 1.3 0 1.3 1 1.2 0.9 1.3 0.5 1.3 0.8 1.3 0.3 1.2 0 1.3-0.2 1.3 0.7 1.2 0.9 1.3 0.3 1.3 0 1.3 0 1.2 0.4 1.3 0 1.3 0.4 1.2 0 1.3 0.5 1.3 0.3 1.3-0.3 1.2-0.4 1.3 0.1 1.3 0.6 1.2 0.4 1.3 0.5 1.3 0.3 1.3-0.1 1.2 0.7 1.3-0.1 1.3-0.3 1.3-0.7 1.2 0.7 1.3 0.5 1.3 0.2 1.2 0 1.3 0.2 1.3 0 1.3-0.2 1.2 0.2 1.3 0.6 1.3 0.1 1.2 0.2 1.3-0.1 1.3 0.1 1.3 0.1 1.2 0.5 1.3-0.4 1.3-0.5 1.2 0.5 1.3 1.2 1.3 0.2 1.3-0.6 1.2-0.4 1.3 0 1.3-0.2 1.3 0.4 1.2 0.2 1.3 0.1 1.3 0.1 1.2 1 1.3-0.2 1.3-1 1.3-0.6 1.2 0.1 1.3 0.6 1.3 0.6 1.2 0.2 1.3-0.5 1.3-0.1 1.3 0.1 1.2-0.2 1.3-0.4 1.3 0.2 1.2 0.2 1.3 0.5 1.3-0.1 1.3 0.5 1.2-0.3 1.3 0.1 1.3 0.1 1.3 0.1 1.2-0.7 1.3-0.2 1.3 0.4 1.2 0.6 1.3 0.1 1.3-0.2 1.3-0.1 1.2 0.1 1.3 0.3 1.3 0.2 1.2 0.3 1.3 0 1.3-0.1 1.3 0.3 1.2 0.1 1.3 0.1 1.3-0.1 1.2 0.5 1.3 0.1 1.3-0.4 1.3-0.2 1.2 0.1 1.3-0.1 1.3-0.5 1.3-0.1 1.2 0.4 1.3-0.1 1.3 0.3 1.2 0 1.3 0.1 1.3 0.1 1.3-0.3 1.2-0.3 1.3-0.3 1.3 0.4 1.2 0.2 1.3 0.5 1.3 0.5 1.3 0.1"/>
<path d="M77.9 239.3l1.3-0.2 1.3 1 1.2-0.5 1.3-0.2 1.3-0.3 1.3 0.2 1.2-0.6 1.3-1 1.3-0.7 1.3 0.6 1.2-0.1 1.3-0.1 1.3-0.8 1.2-0.5 1.3-0.4 1.3-0.3 1.3-0.9 1.2-0.3 1.3 0.4 1.3 0.5 1.2-0.3 1.3 0.2 1.3-0.4 1.3-0.8 1.2 0.3 1.3-1 1.3-1 1.2 0.7 1.3 0.8 1.3-0.9 1.3-0.5 1.2 0.4 1.3-0.3 1.3-1.3 1.3-1 1.2-1.2 1.3 0.6 1.3-0.9 1.2-0.1 1.3-0.4 1.3 1.9 1.3-1.1 1.2-1.3 1.3-0.2 1.3-0.2 1.2 0.1 1.3-2.7 1.3-1.3 1.3 0.6 1.2 3.5 1.3-2.2 1.3-1 1.2 0.2 1.3 0.8 1.3-0.1 1.3-0.7 1.2-0.4 1.3-0.7 1.3-0.7 1.3-1.7 1.2-1.7 1.3-2.5 1.3-1.2 1.2-3.4 1.3-3.1 1.3-6.4 1.3-2.7 1.2-0.5 1.3 0.4 1.3 0.9 1.2 2.5 1.3 1.9 1.3-5.1 1.3-4.7 1.2 2 1.3 1.5 1.3 2.6 1.2-1 1.3 0.9 1.3 1.5 1.3 0.2 1.2-1.3 1.3 2.2 1.3 3.5 1.3 2.6 1.2 2.5 1.3 0.4 1.3 1.1 1.2 2 1.3 1.9 1.3 2.7 1.3-0.3 1.2 0.3 1.3-1 1.3 0.2 1.2-0.3 1.3-0.6 1.3-0.8 1.3 1.5 1.2 1.1 1.3-0.5 1.3 1.1 1.2-1.6 1.3-0.2 1.3 0.2 1.3 0.6 1.2 0.6 1.3 1.4 1.3 0.5 1.3-1.1 1.2 0.1 1.3 0.5 1.3-1 1.2-1 1.3 0.8 1.3 1.8 1.3 0.8 1.2 1 1.3 0.2 1.3 1.9 1.2-1.4 1.3-1.4 1.3 0 1.3 3.3 1.2 2 1.3-0.4 1.3 0.5 1.2-2.3 1.3 0 1.3 0.2 1.3 1.3 1.2 1 1.3 0.8 1.3 0.9 1.3-0.4 1.2-1 1.3-2.2 1.3-2.6 1.2-2.6 1.3-4.3 1.3-2.7 1.3-2.3 1.2-1.8 1.3-2.1 1.3-0.7 1.2-2.5 1.3-4.1 1.3-4 1.3-2.4 1.2-1.4 1.3-1.6 1.3-2 1.2-0.3 1.3 1.5 1.3 2.1 1.3-0.1 1.2-0.5 1.3 0.8 1.3 2.2 1.3 0.6 1.2-0.4 1.3 2.1 1.3 3.5 1.2 3.7 1.3 3.1 1.3 3.5 1.3 3.5 1.2 4 1.3 3.7 1.3 2.3 1.2 2.5 1.3 3.2 1.3 3.2 1.3 2.8 1.2 2.1 1.3 1.4 1.3 0.6 1.2 1.3 1.3 1.8 1.3 1.4 1.3 0 1.2 0 1.3 0.2 1.3 0.4 1.3-0.3 1.2 0.1 1.3 0.7 1.3 1.3 1.2 1.2 1.3 0.6 1.3 0.2 1.3 0.2 1.2 0.1 1.3-0.3 1.3 0.1 1.2-0.1 1.3 0 1.3 0 1.3 0.1 1.2 0.4 1.3 0.4 1.3 0.5 1.2-0.1 1.3-0.2 1.3 0.4 1.3 0.4 1.2-0.2 1.3 0.3 1.3 0.6 1.3 0.5 1.2-0.4 1.3 0 1.3-0.1 1.2 0.4 1.3 0.1 1.3 0.5 1.3 0.3 1.2-0.5 1.3-0.1 1.3 0.1 1.2 0.6 1.3-0.1 1.3-0.1 1.3-0.3 1.2-0.1 1.3 0 1.3-0.1 1.2 0.1 1.3 1 1.3 1.1 1.3 0.3 1.2-1.1 1.3-0.6 1.3 0.2 1.3 0.4 1.2 0.3 1.3 0.2 1.3 0.2 1.2 0 1.3 0.1 1.3-0.2 1.3-0.3 1.2 0.2 1.3-0.1 1.3 0 1.2-0.2 1.3 0.1 1.3 0.4 1.3 0 1.2 0.1 1.3-0.5 1.3 0.1 1.2-0.1 1.3 0.2 1.3 0.6 1.3 0.3 1.2 0.4 1.3 0.4 1.3 0 1.3-0.2 1.2-0.3 1.3 0.1 1.3-0.4 1.2 0 1.3 0 1.3 0.1 1.3 0.3 1.2-0.1 1.3-0.2 1.3-0.1 1.2 0.2 1.3-0.3 1.3 0.1 1.3 0.2 1.2 0.6 1.3 0.4 1.3 0.3 1.2-0.3 1.3-0.1 1.3 0.4 1.3 0.4 1.2-0.1 1.3-0.4 1.3-0.4 1.3-0.7 1.2 0.1 1.3 0.4 1.3 0.4 1.2 0.2 1.3 0.6 1.3 0.1 1.3-0.6 1.2-0.7 1.3-0.1 1.3 0 1.2 0.7 1.3 0.4 1.3 0.2 1.3-0.3 1.2 0"/>
<path d="M80.5 234.4l1.3-0.6 1.2-0.4 1.3-0.5 1.3 0.8 1.3 0.9 1.2-0.3 1.3 0.3 1.3-0.9 1.2-1.8 1.3-0.8 1.3 1.3 1.3 0.8 1.2-0.9 1.3-1.2 1.3-0.4 1.3-0.7 1.2 0.5 1.3-0.1 1.3-0.6 1.2-1.4 1.3 0.8 1.3 2 1.3 0.9 1.2-0.7 1.3-0.8 1.3-1.9 1.2-1.5 1.3 0.3 1.3 1.9 1.3-0.7 1.2-1.3 1.3-1 1.3 0.1 1.2-0.5 1.3-1.4 1.3-1.4 1.3 1.5 1.2 0.7 1.3-0.1 1.3-0.2 1.3 1.9 1.2-1.3 1.3-0.4 1.3-0.4 1.2-0.5 1.3-1.8 1.3-2 1.3-0.9 1.2 2.1 1.3 3.7 1.3-2.9 1.2-2.7 1.3-1.3 1.3-0.5 1.3 0.6 1.2-1.1 1.3 0.9 1.3 0 1.2 0.4 1.3-2.8 1.3-1.5 1.3-2.8 1.2-2.1 1.3-2.6 1.3-2.3 1.3-6.4 1.2-4.6 1.3-1.6 1.3 0.7 1.2 0.2 1.3 2.3 1.3 1.3 1.3-4 1.2-2.8 1.3 2.3 1.3 1.4 1.2 1.5 1.3-0.1 1.3 1.6 1.3 2.1 1.2 0.2 1.3-2.1 1.3 3 1.2 4.4 1.3 1.3 1.3 0.7 1.3 0 1.2 1.6 1.3 1.8 1.3 2.7 1.3 1.9 1.2-0.5 1.3 0 1.3 0.4 1.2 0 1.3 1.8 1.3-0.4 1.3-1.8 1.2-0.5 1.3 2 1.3 2.1 1.2 2.3 1.3-1.7 1.3-1.4 1.3-0.8 1.2-0.2 1.3-0.1 1.3 0.6 1.2 0.4 1.3-0.7 1.3 0.9 1.3-0.5 1.2 0.1 1.3-1.1 1.3 1.2 1.3-0.6 1.2 1.1 1.3 3 1.3 2.2 1.2 3.7 1.3-2.6 1.3-2.9 1.3-2.9 1.2 2.7 1.3 1.6 1.3 0.6 1.2 0.7 1.3-1.1 1.3 0.3 1.3 2.1 1.2 0.8 1.3 0.3 1.3-0.1 1.2 0.5 1.3-0.7 1.3-0.3 1.3-2.3 1.2-2.9 1.3-3.7 1.3-3.5 1.3-3.5 1.2-2.5 1.3-1.7 1.3-1.8 1.2-2.7 1.3-3.9 1.3-3.3 1.3-3.8 1.2-3 1.3-2.7 1.3-1.6 1.2-2.1 1.3-0.3 1.3 2 1.3 3.3 1.2 2.1 1.3-1 1.3-1.6 1.2-0.4 1.3 0.5 1.3 1.5 1.3 2.9 1.2 3.6 1.3 3.7 1.3 4.5 1.3 3.9 1.2 2.9 1.3 3.8 1.3 5.3 1.2 4.6 1.3 3.3 1.3 3.2 1.3 2.6 1.2 2.2 1.3 1.9 1.3 2.2 1.2 1 1.3 0.9 1.3 0.8 1.3 1 1.2 0.9 1.3 0.4 1.3 0.2 1.2-0.1 1.3 0.2 1.3 0 1.3-0.1 1.2 0.8 1.3 1.1 1.3 0.8 1.3 0.4 1.2 0.5 1.3-0.1 1.3 0.3 1.2 0.3 1.3 0.5 1.3-0.6 1.3 0.4 1.2 0 1.3-0.7 1.3-0.7 1.2 0.5 1.3 1.3 1.3 0.6 1.3 0.1 1.2-0.5 1.3 0.4 1.3 0.6 1.2 0.3 1.3-0.1 1.3 0 1.3 0.2 1.2-0.1 1.3 0.2 1.3-0.4 1.3 0 1.2 0.8 1.3 0.8 1.3 0.2 1.2-0.1 1.3-0.6 1.3-0.2 1.3 0 1.2 0.5 1.3-0.4 1.3 0.1 1.2 0.4 1.3 0.8 1.3 0.3 1.3-0.3 1.2-0.2 1.3-0.1 1.3-0.1 1.2 0.4 1.3 0.3 1.3 0 1.3-0.1 1.2 0.2 1.3 0.3 1.3 0.4 1.3-0.2 1.2-0.2 1.3-0.6 1.3-0.3 1.2 0.2 1.3 0.6 1.3 0.4 1.3-0.3 1.2 0.1 1.3 0.4 1.3 0.1 1.2-0.4 1.3-0.6 1.3-0.4 1.3 0.1 1.2 0.5 1.3 0.5 1.3 0.2 1.2 0.3 1.3 0.2 1.3-0.1 1.3-0.6 1.2-0.3 1.3 0 1.3 0.6 1.3-0.1 1.2 0.1 1.3-0.2 1.3 0.5 1.2-0.4 1.3 0.5 1.3 0.1 1.3 0 1.2-0.4 1.3 0.7 1.3 0.7 1.2 0 1.3-0.3 1.3 0.1 1.3 0.1 1.2-0.1 1.3-0.3 1.3-0.3 1.2 0 1.3 0.5 1.3 0.3 1.3-0.2 1.2-0.4 1.3-0.2 1.3 0.1 1.3 0 1.2 0.2 1.3-0.4 1.3-0.1 1.2 0.1 1.3 0.7 1.3 0.2 1.3 0 1.2 0.2 1.3 0.2"/>
<path d="M83.1 227.8l1.2-0.6 1.3 1 1.3 1.8 1.3 0.9 1.2-0.3 1.3-2 1.3-0.8 1.2 0.4 1.3 1 1.3 0.2 1.3-0.4 1.2-0.6 1.3-0.2 1.3-0.3 1.3-0.6 1.2-1 1.3-0.4 1.3-0.2 1.2-0.6 1.3-0.6 1.3 0.7 1.3 1.8 1.2 0.4 1.3-1 1.3-0.7 1.2-1.8 1.3-0.6 1.3 0.1 1.3 1 1.2-2.6 1.3-1.8 1.3-0.2 1.2 0.2 1.3-0.3 1.3-1 1.3 0.5 1.2 0.4 1.3-1.4 1.3-0.7 1.3-0.2 1.2 2.1 1.3-1.2 1.3 0.1 1.2-1.4 1.3-1.6 1.3-1.4 1.3-0.1 1.2 1.5 1.3 2.4 1.3 3.1 1.2-2.4 1.3-1.3 1.3-2 1.3-1 1.2 0.3 1.3 0.8 1.3 0.5 1.2-1.2 1.3-0.6 1.3-2.3 1.3-1 1.2-3.6 1.3-3 1.3-4.5 1.3-1.8 1.2-5.4 1.3-4.6 1.3-1.3 1.2 0.8 1.3-0.6 1.3 0.6 1.3 2.3 1.2-4.4 1.3-4.4 1.3 1.7 1.2 3.2 1.3 2.9 1.3-0.8 1.3 0 1.2 1.2 1.3 1.9 1.3-0.7 1.2 4.8 1.3 3.6 1.3 2.5 1.3 0.1 1.2 2.7 1.3 1.8 1.3 1.7 1.3 0.4 1.2 1.6 1.3-0.6 1.3 0.6 1.2-0.5 1.3-0.3 1.3 1.5 1.3-0.4 1.2-2.1 1.3 1.1 1.3 2.8 1.2 1 1.3 0.7 1.3-1.5 1.3-1.2 1.2 0.9 1.3 1.4 1.3 0.5 1.2-0.7 1.3 0.4 1.3 0.5 1.3 0.4 1.2-1 1.3-0.2 1.3-0.9 1.3 0.2 1.2 0.9 1.3 0.5 1.3 2.4 1.2 0.8 1.3 1.3 1.3-3.4 1.3-0.7 1.2-0.4 1.3 2.5 1.3 1.9 1.2 1 1.3 1.7 1.3-2 1.3-0.3 1.2 1.1 1.3 1.9 1.3-0.8 1.2-0.6 1.3 1.5 1.3 0.5 1.3-2.4 1.2-3.8 1.3-3.5 1.3-3.9 1.3-3.9 1.2-4.1 1.3-2.8 1.3-2.9 1.2-2.7 1.3-2.4 1.3-3 1.3-2.3 1.2-3.5 1.3-3.4 1.3-3.5 1.2-2.5 1.3-2.6 1.3-0.2 1.3 1.7 1.2 1.8 1.3 0.7 1.3-0.3 1.2 0.5 1.3 1.1 1.3 1.6 1.3 1.6 1.2 3 1.3 4.2 1.3 4.2 1.3 4.4 1.2 3.9 1.3 4.7 1.3 4.6 1.2 5.3 1.3 3.8 1.3 3.2 1.3 2.2 1.2 2.3 1.3 3 1.3 3.3 1.2 2.3 1.3 0.5 1.3 0.7 1.3 1.3 1.2 1.5 1.3 0.1 1.3 0.4 1.2 0.2 1.3 0.8 1.3 0.4 1.3 0 1.2-0.1 1.3 0.1 1.3 1 1.3 0.2 1.2 0.3 1.3 0.2 1.3 0.8 1.2-0.3 1.3 0.2 1.3 0.6 1.3 0.5 1.2-0.2 1.3-0.1 1.3-0.2 1.2-0.4 1.3 0.5 1.3-2.2 1.3-4.2 1.2 5.1 1.3 3.5 1.3 0 1.2-0.4 1.3 0.8 1.3 0 1.3-0.6 1.2-0.8 1.3 0.4 1.3 0.4 1.3 0.7 1.2 0.2 1.3 0.1 1.3-0.3 1.2 0.7 1.3 0.2 1.3-0.3 1.3-0.3 1.2 0.1 1.3 0.1 1.3-0.2 1.2 0.1 1.3 0 1.3 0.3 1.3 0.5 1.2 0.6 1.3 0.3 1.3-0.2 1.2-0.5 1.3 0 1.3 0.5 1.3 0.3 1.2-0.2 1.3-0.1 1.3 0.2 1.3 0.2 1.2-0.5 1.3-0.4 1.3 0 1.2 0.4 1.3 0.6 1.3 0.3 1.3-0.4 1.2-0.2 1.3 0.6 1.3 0.5 1.2-0.4 1.3-2.4 1.3-3.9 1.3 3.7 1.2 2.1 1.3 0.5 1.3 0.5 1.2-0.3 1.3 0 1.3 0.1 1.3-0.2 1.2-0.7 1.3-0.3 1.3 0.5 1.3 0.6 1.2 0.2 1.3 0.1 1.3-0.2 1.2 0.1 1.3-0.2 1.3 0.1 1.3 0.1 1.2 0.4 1.3-0.2 1.3 0.2 1.2 0.4 1.3 0.3 1.3-0.6 1.3-0.5 1.2 0.3 1.3 0 1.3 0 1.2 0.1 1.3 0.1 1.3-0.2 1.3-0.1 1.2 0.1 1.3 0 1.3 0.9 1.3 0.5 1.2 0 1.3-0.6 1.3-0.3 1.2-0.5 1.3-0.3 1.3 0.4 1.3 0.2 1.2 0.2 1.3 0 1.3 0.2"/>
<path d="M85.6 224.2l1.3 0.4 1.3 0.2 1.3-0.9 1.2-0.7 1.3 1.1 1.3 0.3 1.2 0.4 1.3-1.3 1.3-0.8 1.3-0.4 1.2 0.3 1.3-0.2 1.3-0.1 1.2 0.1 1.3-0.1 1.3-0.3 1.3-1.4 1.2-1.2 1.3-0.7 1.3 0.7 1.3 1.3 1.2 1.3 1.3-0.4 1.3-1.5 1.2-0.6 1.3-1 1.3-1 1.3 1.4 1.2 1.1 1.3-1.9 1.3-2.3 1.2 0.2 1.3 0.9 1.3-0.2 1.3-0.2 1.2-1.7 1.3-0.7 1.3-0.9 1.2 0.8 1.3-0.1 1.3 1.4 1.3-1.7 1.2-1 1.3-1.5 1.3 0.4 1.3-0.2 1.2-1.5 1.3-0.4 1.3 2.4 1.2 3.5 1.3-3.1 1.3-2 1.3 0.4 1.2 0.1 1.3-0.7 1.3-1 1.2-0.1 1.3 0.2 1.3-0.5 1.3-1.9 1.2-2.4 1.3-3 1.3-2.9 1.2-3.7 1.3-3.3 1.3-7.8 1.3-5.1 1.2-1.4 1.3 1.4 1.3 0.6 1.3 3 1.2 2.1 1.3-4.2 1.3-5 1.2 0.1 1.3 0.8 1.3 2.2 1.3 0 1.2 2.7 1.3 3.6 1.3 1.9 1.2-1.3 1.3 4.3 1.3 3.9 1.3 1.8 1.2 0.2 1.3 1.1 1.3 1.9 1.2 2.2 1.3 3.4 1.3 2.4 1.3 0 1.2-1 1.3-0.2 1.3-1 1.3 1.2 1.2-0.3 1.3-1.6 1.3-0.1 1.2 2.4 1.3 1.9 1.3 1.4 1.3-1.2 1.2-1 1.3-0.1 1.3 0 1.2 0.5 1.3 0.1 1.3 0.6 1.3 0 1.2 0.9 1.3-0.8 1.3-1.2 1.2-1 1.3 2.2 1.3 2.2 1.3 0.3 1.2-0.3 1.3 0 1.3 2 1.3-1.2 1.2-1.5 1.3-0.8 1.3 2.6 1.2 1.4 1.3 1.1 1.3 1.5 1.3-1 1.2-1 1.3 0.8 1.3 1.1 1.2 1.2 1.3-0.2 1.3 0.6 1.3-2.1 1.2-2.2 1.3-3.5 1.3-3.5 1.2-3.9 1.3-4 1.3-3.6 1.3-2.9 1.2-2.5 1.3-3.8 1.3-3.7 1.3-4.2 1.2-3.3 1.3-3.7 1.3-3 1.2-4 1.3-3.1 1.3-1.4 1.3 0.6 1.2 1.7 1.3 2.2 1.3 1.3 1.2 0.2 1.3-1 1.3-0.3 1.3 0 1.2 2.6 1.3 4.4 1.3 4.5 1.2 4.7 1.3 4.9 1.3 5.5 1.3 4.3 1.2 5.1 1.3 5.3 1.3 5.2 1.3 3.4 1.2 2.7 1.3 2.6 1.3 3.1 1.2 2.8 1.3 2.1 1.3 1.1 1.3 1 1.2 1.3 1.3 0.7 1.3-0.2 1.2 0.4 1.3 0.8 1.3 0.2 1.3 0 1.2 0.1 1.3 0.4 1.3 0.3 1.2 0.5 1.3 0.3 1.3-0.4 1.3 0.3 1.2-0.3 1.3 0.3 1.3 0.2 1.3 1.4 1.2 0.5 1.3 0.8 1.3 0.1 1.2 0 1.3-1.1 1.3 0 1.3 0.4 1.2 0.8 1.3 0.5 1.3 0.1 1.2-0.7 1.3 0.1 1.3 0.9 1.3 0.8 1.2-0.7 1.3 0 1.3 0 1.2 0.4 1.3-0.1 1.3 0.6 1.3 0.1 1.2-0.1 1.3-0.1 1.3 0.1 1.3 0.5 1.2 0.4 1.3-0.1 1.3-0.1 1.2 0.4 1.3 0.2 1.3-1 1.3-0.6 1.2 0.1 1.3 0.9 1.3 0.4 1.2 0.1 1.3-0.5 1.3 0.2 1.3 0.7 1.2 0.3 1.3 0.3 1.3-0.8 1.2-0.7 1.3-0.3 1.3 0.6 1.3 0.2 1.2 0.1 1.3 0 1.3 0.6 1.3 0.6 1.2-0.2 1.3-0.6 1.3 0.1 1.2 0.8 1.3-0.1 1.3-0.3 1.3-0.5 1.2-0.3 1.3-0.2 1.3 0.3 1.2 0.5 1.3 0.2 1.3 0.2 1.3 0.5 1.2 0.2 1.3-0.6 1.3-0.6 1.2 0.1 1.3 0.8 1.3-0.1 1.3-0.7 1.2-0.4 1.3 0.5 1.3 0.4 1.3 0 1.2 0.1 1.3-0.2 1.3 0.1 1.2 0.4 1.3 0.3 1.3 0.4 1.3-0.1 1.2-0.2 1.3 0 1.3 0.2 1.2-0.1 1.3-0.2 1.3-0.1 1.3 0.3 1.2 0 1.3-0.1 1.3-0.6 1.2 0.4 1.3 0.5 1.3 0.2 1.3 0 1.2-0.4 1.3-0.3 1.3-0.2 1.3 0.2 1.2 0 1.3 0.4 1.3 0.5 1.2 0.3"/>
<path d="M88.2 219.6l1.3-0.5 1.3-0.4 1.2-1.2 1.3 0 1.3 1 1.2 0.1 1.3-0.5 1.3-0.2 1.3 0.5 1.2-1 1.3-1.2 1.3-0.6 1.2 0.5 1.3-0.5 1.3 0.1 1.3-0.3 1.2 0.2 1.3-1 1.3 0.2 1.3 0.1 1.2 0.8 1.3 0 1.3 0 1.2-0.4 1.3 0.9 1.3-1.8 1.3-1.3 1.2 1 1.3 1.1 1.3-2.1 1.2-1.5 1.3 0.7 1.3-0.2 1.3-0.3 1.2-1 1.3-0.5 1.3-0.2 1.2-0.2 1.3-0.8 1.3 0.2 1.3 1.6 1.2-0.8 1.3-1.1 1.3-0.9 1.3-0.2 1.2-0.5 1.3-0.6 1.3-0.3 1.2 2 1.3 2.3 1.3-2.1 1.3-2.7 1.2-1.9 1.3-1.4 1.3 1 1.2 1.1 1.3 0.6 1.3-0.6 1.3 0.6 1.2-1.3 1.3-2.1 1.3-5.2 1.2-4.2 1.3-4.7 1.3-3.7 1.3-8.4 1.2-6 1.3-2 1.3 0.9 1.3 0.8 1.2 3.2 1.3 2 1.3-4.2 1.2-4.2 1.3 1.6 1.3-0.3 1.3 1.5 1.2 0.5 1.3 3.5 1.3 2.4 1.2 1.5 1.3-0.3 1.3 4.9 1.3 3.6 1.2 2 1.3 2.2 1.3 2.7 1.2 1.9 1.3 1.4 1.3 1.8 1.3 1.3 1.2-0.3 1.3 0.7 1.3 1.2 1.3 1.1 1.2 1.2 1.3-0.3 1.3-2.2 1.2 0.1 1.3 1.3 1.3 0.1 1.3 0.9 1.2-0.7 1.3 0.6 1.3-0.1 1.2-0.3 1.3-0.2 1.3 0.8 1.3 0.6 1.2-1.2 1.3-0.1 1.3 1.3 1.2 0.6 1.3-0.6 1.3 1.6 1.3 1 1.2-0.6 1.3 0.6 1.3 1.5 1.3 2.2 1.2-2.5 1.3-1.5 1.3 0.3 1.2 3.1 1.3 0.3 1.3-1.2 1.3 1.4 1.2-0.2 1.3-0.3 1.3 0 1.2 0.9 1.3 1.6 1.3-0.8 1.3-1.1 1.2-2.4 1.3-1.4 1.3-3.6 1.2-3.9 1.3-4.7 1.3-3.8 1.3-3.7 1.2-2 1.3-3 1.3-3.5 1.3-5.3 1.2-4.2 1.3-4.5 1.3-3.3 1.2-4 1.3-2.3 1.3-2.7 1.3-1.7 1.2 0 1.3 1.4 1.3 1.4 1.2 0.5 1.3 1.1 1.3 0.9 1.3 1.1 1.2 0 1.3 0.8 1.3 3.1 1.2 4.7 1.3 5.4 1.3 6.3 1.3 5.2 1.2 5.5 1.3 4.9 1.3 6 1.3 4.7 1.2 4.3 1.3 3.6 1.3 3.4 1.2 2.9 1.3 2.3 1.3 1.7 1.3 0.8 1.2 0.9 1.3 1.6 1.3 1.5 1.2 0.5 1.3-0.1 1.3 0.2 1.3 0.2 1.2 0.7 1.3-0.5 1.3-0.4 1.2 0 1.3 1.4 1.3 0.8 1.3 0 1.2 0.4 1.3 0.9 1.3 0.7 1.3-0.4 1.2 0.7 1.3 0.2 1.3 0.1 1.2-0.3 1.3 0.2 1.3-1 1.3-0.4 1.2 0.7 1.3 1.1 1.3 0.5 1.2 0 1.3 0.1 1.3 0.3 1.3 0.2 1.2-0.1 1.3-0.7 1.3 0.1 1.2 0.4 1.3 0.3 1.3-0.3 1.3-0.6 1.2 0.4 1.3 0.7 1.3 0.4 1.3 0.2 1.2-0.4 1.3 0.2 1.3-0.1 1.2 0.6 1.3 0.7 1.3 0.1 1.3-0.1 1.2-0.2 1.3 0.4 1.3-2.5 1.2-4.5 1.3 4.2 1.3 2.5 1.3 0.5 1.2 0.2 1.3 0.1 1.3 0.1 1.2-0.2 1.3 0.2 1.3-0.3 1.3-0.3 1.2-0.8 1.3 0.5 1.3 0.3 1.3 0.4 1.2 0.2 1.3 0 1.3-0.1 1.2 0 1.3 0 1.3 0.4 1.3 0.2 1.2-0.3 1.3-1 1.3 0.1 1.2 0.6 1.3 0.9 1.3 0.2 1.3 0.1 1.2 0.3 1.3 0.1 1.3-0.5 1.2-0.3 1.3-0.3 1.3 0 1.3 0.3 1.2 0.5 1.3-0.2 1.3-0.4 1.3-0.1 1.2 0.4 1.3 0.4 1.3 0.2 1.2-0.3 1.3 0.2 1.3 0.2 1.3 0.4 1.2-0.2 1.3 0.2 1.3-0.2 1.2-0.3 1.3-0.4 1.3 0.1 1.3 0.2 1.2 0 1.3-0.4 1.3-0.2 1.2 0.2 1.3 0.7 1.3 0.2 1.3 0.2 1.2-0.5 1.3-0.4 1.3-0.5 1.3 0.5 1.2 0.7 1.3-0.1 1.3-0.3 1.2 0 1.3 0.5"/>
<path d="M90.8 214.9l1.3 0 1.2-1.3 1.3-1.5 1.3 0.1 1.2 1.5 1.3-0.1 1.3-0.2 1.3-0.4 1.2-0.9 1.3-1 1.3-0.2 1.2 1.3 1.3 0.6 1.3-0.5 1.3-1 1.2 0 1.3 0.4 1.3-0.8 1.2-0.8 1.3-1.2 1.3 0.3 1.3 0.1 1.2 0.9 1.3-0.1 1.3 0.6 1.3-1.6 1.2-0.6 1.3 0.2 1.3 0.6 1.2-2.1 1.3-0.8 1.3 0.6 1.3 0.5 1.2 0 1.3-1.3 1.3-0.5 1.2-1.1 1.3-0.7 1.3 0.4 1.3 2.4 1.2 1.6 1.3-1.7 1.3-1.3 1.2-0.2 1.3-0.6 1.3-0.4 1.3-1.5 1.2-0.3 1.3 0.7 1.3 2.3 1.3-3.3 1.2-2 1.3-0.6 1.3-0.4 1.2 1 1.3 0.3 1.3-0.2 1.3-0.6 1.2 0.5 1.3-0.8 1.3-2.5 1.2-4.6 1.3-4.7 1.3-4.6 1.3-3.6 1.2-8.4 1.3-7.1 1.3-2.5 1.2-0.1 1.3 1.6 1.3 3.7 1.3 2.8 1.2-6 1.3-3.9 1.3 1.7 1.3 3.1 1.2 1.4 1.3 0.2 1.3 0.8 1.2 4.2 1.3 2.5 1.3 0.3 1.3 3.3 1.2 3.6 1.3 4.1 1.3 2.4 1.2 1.7 1.3 1.4 1.3 1.8 1.3 1.3 1.2 2.3 1.3-0.2 1.3-0.5 1.2-0.7 1.3 0 1.3 1.4 1.3-0.1 1.2-0.7 1.3 2.2 1.3 1.2 1.3-0.3 1.2 0.5 1.3 0.9 1.3-0.5 1.2-0.2 1.3-0.5 1.3-0.7 1.3-1 1.2 0.5 1.3 0.3 1.3 2.1 1.2 1 1.3-0.8 1.3-1.6 1.3 1.1 1.2 0.4 1.3-0.5 1.3 1.2 1.2 2.1 1.3 4.2 1.3-0.2 1.3-1.7 1.2-2.9 1.3 1.1 1.3 0.6 1.3 0.1 1.2 1.1 1.3-1.1 1.3-0.9 1.2 1.5 1.3 2.4 1.3 0.8 1.3-1.1 1.2-1.4 1.3-1.4 1.3-2.6 1.2-3.5 1.3-4.8 1.3-4.5 1.3-4.4 1.2-3.5 1.3-3.5 1.3-3.1 1.2-4 1.3-4.1 1.3-3.6 1.3-3.3 1.2-4.1 1.3-4 1.3-2.4 1.3-2.7 1.2-2.5 1.3-1.7 1.3 2 1.2 2.6 1.3 1.7 1.3-0.1 1.3-0.4 1.2-0.5 1.3 0.1 1.3 2.2 1.2 5 1.3 5.2 1.3 5.3 1.3 5.2 1.2 5.9 1.3 6 1.3 5 1.2 5.1 1.3 4.7 1.3 5 1.3 3.9 1.2 3.4 1.3 2.4 1.3 2.2 1.3 2.7 1.2 1 1.3 0.8 1.3 0.9 1.2 2.2 1.3 0.5 1.3 0.1 1.3-0.1 1.2 0.4 1.3 0.1 1.3-0.4 1.2 0 1.3 0.7 1.3 1 1.3 0.3 1.2 0 1.3 0.7 1.3 0.4 1.2-0.6 1.3-0.7 1.3 0.8 1.3 1.1 1.2 0.4 1.3 0 1.3-0.1 1.3-0.3 1.2 0 1.3 0.2 1.3-0.1 1.2 0.6 1.3 0.7 1.3 0.1 1.3 0 1.2 1 1.3 0.4 1.3-0.6 1.2-0.8 1.3 0.5 1.3 0.4 1.3 0.2 1.2 0.2 1.3 0.7 1.3-0.2 1.2-0.5 1.3-0.2 1.3 0 1.3 0.5 1.2-0.4 1.3 0.2 1.3 0.5 1.3 0.9 1.2 0 1.3-0.3 1.3 0.3 1.2 0.1 1.3 0.2 1.3-0.4 1.3-0.1 1.2 0 1.3 0.3 1.3 0.1 1.2 0 1.3-0.6 1.3-0.7 1.3 0.1 1.2 0.5 1.3 0.2 1.3 0.4 1.2 0.1 1.3-0.1 1.3 0 1.3 0.3 1.2 0.3 1.3 0.1 1.3-0.4 1.3-0.1 1.2-0.3 1.3 0.5 1.3 0 1.2 0.3 1.3-0.3 1.3 0 1.3 0.2 1.2 0.2 1.3 0.1 1.3-0.1 1.2 0 1.3-0.2 1.3 0 1.3-0.3 1.2-0.1 1.3 0.4 1.3 0.6 1.2 0.4 1.3 0.2 1.3-0.4 1.3-0.4 1.2 0 1.3 0.5 1.3 0.4 1.3 0.1 1.2 0 1.3-0.4 1.3-0.2 1.2 0.5 1.3 0.3 1.3-0.1 1.3-0.5 1.2 0.1 1.3 0 1.3 0.1 1.2 0 1.3-0.1 1.3-0.3 1.3 0.3 1.2 0.4 1.3 0 1.3-0.6 1.2-0.4 1.3 0.3 1.3 0.8 1.3 0.6 1.2-0.2 1.3-0.3 1.3 0"/>
<path d="M93.3 208.5l1.2-0.7 1.3 0.7 1.3 0.9 1.2 1.3 1.3-0.3 1.3-1.4 1.3-0.4 1.2-0.7 1.3-0.3 1.3-0.5 1.2 1 1.3-0.2 1.3-0.4 1.3-1.2 1.2-0.2 1.3-0.7 1.3-0.6 1.2-0.3 1.3 0.8 1.3-0.8 1.3 0.6 1.2 1.1 1.3 0.7 1.3-0.9 1.3-0.2 1.2-1.1 1.3-1.8 1.3 0.1 1.2 0.9 1.3-0.4 1.3-0.4 1.3-0.4 1.2-0.1 1.3-1.4 1.3-0.4 1.2-0.9 1.3 0.5 1.3-0.3 1.3 0.4 1.2-0.7 1.3 0.6 1.3-1.2 1.2-0.4 1.3 0.2 1.3-0.3 1.3 0.1 1.2-1.6 1.3 0 1.3 2 1.3 2.8 1.2-2.7 1.3-1.4 1.3 0.5 1.2-0.3 1.3-0.4 1.3-1.8 1.3-0.5 1.2-0.2 1.3 0.4 1.3-3.1 1.2-3.2 1.3-5.2 1.3-4 1.3-5.2 1.2-5.8 1.3-9.1 1.3-5 1.2-0.5 1.3 0.7 1.3 0.9 1.3 3 1.2 1.6 1.3-4.4 1.3-3.1 1.3 1.9 1.2 0.1 1.3-0.1 1.3 0.8 1.2 3.1 1.3 4.1 1.3 1.5 1.3 0.4 1.2 5.7 1.3 5.9 1.3 3.6 1.2 1.9 1.3 1.2 1.3 1 1.3 0.6 1.2 3.5 1.3 2.5 1.3-0.3 1.2-1.6 1.3 1 1.3 0.5 1.3 0.9 1.2-1.3 1.3-2.6 1.3 1.4 1.3 2.6 1.2 1.9 1.3 0.6 1.3-0.7 1.2-0.3 1.3 0.5 1.3 0.8 1.3 0.9 1.2 0.1 1.3-0.7 1.3-1.9 1.2 0.4 1.3 1 1.3 0.1 1.3-2 1.2 1 1.3 1.4 1.3 1.5 1.2 1.1 1.3 0.8 1.3 1.8 1.3-0.9 1.2-0.9 1.3-1.5 1.3 1.2 1.3 0 1.2-0.4 1.3 0.4 1.3-0.5 1.2 1.2 1.3 2.2 1.3 0.7 1.3-0.8 1.2-0.9 1.3 0.5 1.3-1 1.2-2.8 1.3-3.8 1.3-3.8 1.3-4.3 1.2-5.7 1.3-5.3 1.3-3.7 1.2-2.9 1.3-2.7 1.3-4.7 1.3-4.9 1.2-4.5 1.3-3.6 1.3-4.2 1.3-3.8 1.2-2.5 1.3-2.4 1.3-0.9 1.2 1.4 1.3 2.7 1.3 1.6 1.3 0.3 1.2-0.2 1.3 0.1 1.3 0.6 1.2 2.6 1.3 4.5 1.3 5 1.3 5.7 1.2 6.7 1.3 6.4 1.3 5.5 1.2 5.1 1.3 6.6 1.3 5.1 1.3 3 1.2 2.9 1.3 4.2 1.3 4 1.3 2.1 1.2 1.7 1.3 1.7 1.3 1.9 1.2 1.1 1.3 0.2 1.3-0.9 1.3 0.6 1.2 0.9 1.3 0.4 1.3-0.8 1.2-0.2 1.3 0.9 1.3 0.8 1.3 0.5 1.2 0.3 1.3-0.1 1.3 0.1 1.2-0.2 1.3 0.3 1.3 0.3 1.3 0.3 1.2 0.5 1.3 0.9 1.3 0.4 1.3 0 1.2-0.7 1.3 0.1 1.3 0.5 1.2 1.2 1.3 0.2 1.3-0.9 1.3-0.5 1.2 0.2 1.3 1.1 1.3 0 1.2-2.2 1.3-4.3 1.3 4.1 1.3 2 1.2 0.5 1.3 0.5 1.3 0.6 1.2 0 1.3 0 1.3-0.2 1.3-0.3 1.2 0.2 1.3 0.3 1.3 0.2 1.3-0.2 1.2 0.5 1.3 0.1 1.3-0.2 1.2 0 1.3 0.6 1.3 0.2 1.3-0.2 1.2-0.4 1.3-0.1 1.3 0.1 1.2 0.5 1.3-0.3 1.3 0.1 1.3 0.1 1.2 0.4 1.3-0.3 1.3-0.4 1.2 0.1 1.3 0.3 1.3 0.7 1.3 0.5 1.2-0.3 1.3-0.6 1.3-0.3 1.3 0.7 1.2 0.1 1.3-0.2 1.3-0.7 1.2-0.1 1.3 0.3 1.3 0.3 1.3 0.4 1.2-0.1 1.3 0.1 1.3 0 1.2-0.2 1.3-0.1 1.3-0.1 1.3 0.1 1.2 0 1.3 0.5 1.3 0.4 1.2 0.1 1.3 0.1 1.3-0.2 1.3-0.3 1.2 0.1 1.3 0.2 1.3 0.3 1.3 0.3 1.2 0.2 1.3-0.1 1.3 0 1.2 0.1 1.3 0.4 1.3-0.3 1.3-0.6 1.2-0.8 1.3 0 1.3 0.5 1.2 0.1 1.3 0.4 1.3 0 1.3 0.1 1.2 0 1.3 0.3 1.3 0.2 1.2-0.6 1.3-0.6 1.3 0 1.3 0.7 1.2 0.6 1.3 0.2 1.3-0.4 1.3-0.3"/>
<path d="M95.9 203.9l1.3-0.8 1.3-0.3 1.2-0.3 1.3 0.1 1.3 0.3 1.3 0 1.2 0.5 1.3-0.5 1.3 0.1 1.2-0.6 1.3 0.4 1.3-0.9 1.3-0.2 1.2 0 1.3 0.6 1.3-1 1.2-2 1.3-1.1 1.3 0.6 1.3 0.8 1.2 0.5 1.3 0.5 1.3-0.6 1.2-0.7 1.3 0.6 1.3-0.5 1.3-1.4 1.2 0.6 1.3 0.9 1.3-1.4 1.3-2.1 1.2 0.7 1.3 0.3 1.3-0.1 1.2-1.7 1.3-0.6 1.3 0.2 1.3 0.2 1.2-0.2 1.3 0.7 1.3 1.3 1.2-1.8 1.3-1.7 1.3 0 1.3 0.9 1.2 0 1.3-0.9 1.3-0.4 1.2 0.8 1.3 2 1.3-1.7 1.3-1.5 1.2-0.8 1.3-0.7 1.3 0.5 1.3-0.3 1.2 0.4 1.3-1.1 1.3-2 1.2-2.8 1.3-2.2 1.3-4.6 1.3-5.5 1.2-7.3 1.3-5.7 1.3-8.8 1.2-5.1 1.3-1.4 1.3 0.6 1.3 1.4 1.2 2.8 1.3 3.2 1.3-4.1 1.2-2.6 1.3 0.9 1.3 2.1 1.3 2.1 1.2 0.1 1.3 0.1 1.3 3 1.3 4 1.2 2.1 1.3 6.2 1.3 5.2 1.2 3.5 1.3 1.1 1.3 1 1.3 1.4 1.2 2.5 1.3 2.6 1.3 2.1 1.2-1 1.3 0.5 1.3 0.6 1.3 1.3 1.2-0.1 1.3-0.8 1.3-2.9 1.2 0.8 1.3 2.4 1.3 1.9 1.3 1.2 1.2-0.8 1.3-0.5 1.3 0.2 1.3 0.5 1.2-0.1 1.3-0.7 1.3 0.2 1.2-1 1.3-0.3 1.3 0.4 1.3 1.1 1.2-1 1.3 0.7 1.3 0.6 1.2 0.6 1.3 1.3 1.3 1.9 1.3 1.3 1.2-2.9 1.3-1.3 1.3 0 1.2 2.9 1.3 1.9 1.3 0 1.3 0 1.2-1.8 1.3-0.7 1.3-0.2 1.3 1.7 1.2 2.3 1.3 0.2 1.3-0.9 1.2-1.4 1.3-2.4 1.3-4.5 1.3-4.5 1.2-4 1.3-5.4 1.3-5.6 1.2-3.6 1.3-3.7 1.3-4.7 1.3-4 1.2-3.8 1.3-4.5 1.3-5.9 1.2-5 1.3-3.8 1.3-2.2 1.3-1.5 1.2 0 1.3 1.9 1.3 1.7 1.3 1.2 1.2 0.5 1.3 0 1.3-0.3 1.2 0.3 1.3 2.5 1.3 4.1 1.3 5.4 1.2 6.1 1.3 7.3 1.3 6.4 1.2 6.7 1.3 5.4 1.3 5.9 1.3 5.2 1.2 4.9 1.3 3.6 1.3 3.5 1.2 3.5 1.3 2 1.3 1.6 1.3 1.1 1.2 1.7 1.3 0.8 1.3 1 1.3-0.3 1.2 0.6 1.3 0.9 1.3 1.2 1.2-0.1 1.3-0.3 1.3 0.2 1.3-0.1 1.2 0.1 1.3 0.5 1.3 0.9 1.2 0.6 1.3 0.2 1.3 0.3 1.3 0 1.2-0.3 1.3-0.3 1.3 0.5 1.2 0.7 1.3 0 1.3-0.4 1.3 0 1.2 0.1 1.3 0.5 1.3 0.3 1.3 0.3 1.2-0.2 1.3-0.1 1.3 0.1 1.2 0.4 1.3 0.1 1.3-0.1 1.3-0.5 1.2-0.2 1.3 0.2 1.3 0.9 1.2 0.7 1.3-0.3 1.3-0.2 1.3 0 1.2 0.5 1.3 0.2 1.3-0.2 1.2 0 1.3 0.2 1.3 0.6 1.3 0.1 1.2 0.1 1.3 0.2 1.3 0.2 1.3 0.2 1.2-0.6 1.3 0.2 1.3 0.3 1.2 0.5 1.3-0.4 1.3-0.2 1.3 0.1 1.2 0.2 1.3 0.1 1.3-0.2 1.2-0.2 1.3 0.1 1.3 0.4 1.3 0.4 1.2 0.2 1.3-0.2 1.3-0.3 1.2-0.2 1.3 0.1 1.3-0.5 1.3-0.2 1.2 0.2 1.3 0 1.3-0.5 1.3-0.3 1.2 0.9 1.3 0.7 1.3 0.4 1.2-0.1 1.3 0.2 1.3-0.7 1.3-0.8 1.2-0.2 1.3 0.8 1.3 0.3 1.2 0.5 1.3-0.3 1.3-0.1 1.3-0.3 1.2 0.5 1.3 0.5 1.3 0.4 1.2-0.4 1.3-0.2 1.3 0 1.3 0.3 1.2 0 1.3 0.1 1.3 0.3 1.3-0.1 1.2-0.1 1.3 0.1 1.3 0.2 1.2 0.2 1.3-0.2 1.3-0.2 1.3-0.3 1.2 0.2 1.3 0 1.3 0 1.2-0.4 1.3-0.2 1.3-0.4 1.3 0.1 1.2 0.6 1.3 0.8 1.3-0.1 1.2-0.3 1.3 0"/>
<path d="M98.5 198.8l1.3 0.2 1.2 0.9 1.3 0.7 1.3-0.3 1.3-0.4 1.2-0.9 1.3-0.3 1.3-0.2 1.2-0.6 1.3-0.4 1.3 0.2 1.3 0.9 1.2-0.1 1.3-0.8 1.3-0.5 1.2-0.5 1.3-0.5 1.3-1 1.3 0.1 1.2-0.1 1.3 0.3 1.3 0.5 1.2-0.1 1.3 0.2 1.3 1.2 1.3-1 1.2-2.1 1.3-0.3 1.3 1.4 1.3-1.5 1.2-0.3 1.3-0.1 1.3-0.2 1.2-2.2 1.3-0.2 1.3-0.4 1.3 0.4 1.2-1.3 1.3 0.3 1.3 0.5 1.2 1.6 1.3-2 1.3-0.5 1.3-1.3 1.2-0.6 1.3-0.2 1.3 0.5 1.2 0.4 1.3 1.3 1.3 1.1 1.3-3.6 1.2-1.2 1.3 1.4 1.3 0.7 1.3-0.7 1.2-1.5 1.3 0.1 1.3 0.5 1.2 0.3 1.3-2.9 1.3-3.9 1.3-5.6 1.2-5.1 1.3-5.8 1.3-4.1 1.2-8.7 1.3-7.3 1.3-3.1 1.3 1.5 1.2 1.5 1.3 1.9 1.3 2 1.2-3.8 1.3-2.4 1.3 0.9 1.3 1.9 1.2 2.4 1.3 0.8 1.3 1.5 1.3 2.5 1.2 3.9 1.3 1.6 1.3 4.5 1.2 4 1.3 4 1.3 3.3 1.3 1.3 1.2 2.2 1.3 2.3 1.3 1.9 1.2 1.1 1.3-0.4 1.3 0.9 1.3-1 1.2-0.4 1.3-0.1 1.3 0.6 1.2-0.6 1.3 1.8 1.3 0.2 1.3 0.6 1.2 1.9 1.3-0.7 1.3-0.9 1.3-0.4 1.2-0.1 1.3 1 1.3 1.3 1.2 1.9 1.3 0.2 1.3 0.7 1.3-1.8 1.2-1.4 1.3-1.6 1.3 1.4 1.2 0.8 1.3 1.1 1.3 0.1 1.3 1 1.2 1.6 1.3-0.3 1.3-0.8 1.2-0.2 1.3 2 1.3 1.4 1.3-0.6 1.2 0 1.3-1.1 1.3 0 1.3 0.8 1.2 0.7 1.3 1.3 1.3-0.1 1.2-0.1 1.3-2.3 1.3-2.4 1.3-3.5 1.2-4 1.3-5.1 1.3-5.6 1.2-5.2 1.3-4.9 1.3-3.3 1.3-4.4 1.2-4.7 1.3-5.2 1.3-3.9 1.2-4.2 1.3-4.5 1.3-3.8 1.3-4.2 1.2-2.8 1.3-1 1.3 1.4 1.3 2.1 1.2 2.2 1.3 1.1 1.3 0.3 1.2-0.1 1.3-0.1 1.3 1.9 1.3 4.3 1.2 5.5 1.3 6.4 1.3 7.6 1.2 6.4 1.3 6.6 1.3 6.8 1.3 6.2 1.2 4.6 1.3 4.6 1.3 4 1.2 3.4 1.3 2.9 1.3 3 1.3 1.8 1.2 1.3 1.3 0.8 1.3 1 1.3 1.5 1.2 0.8 1.3 0.5 1.3-0.5 1.2 0.2 1.3 0.1 1.3-0.4 1.3 0.2 1.2 1 1.3 1.2 1.3 0.2 1.2-0.1 1.3-0.1 1.3 0.1 1.3 0.2 1.2-0.1 1.3 0.4 1.3 1.1 1.2 1.3 1.3-0.3 1.3-1.5 1.3-1.2 1.2 0.5 1.3 0.9 1.3 0.5 1.3 0.6 1.2 0.4 1.3-0.2 1.3-0.1 1.2 0.2 1.3 0.6 1.3-0.2 1.3-0.2 1.2 0 1.3 0.5 1.3 0.3 1.2 0.2 1.3 0.2 1.3-0.3 1.3 0 1.2 0.1 1.3 0.3 1.3 0.3 1.2 0.2 1.3 0.2 1.3 0.1 1.3 0 1.2 0.1 1.3 0 1.3 0.2 1.3 0.3 1.2 0.3 1.3-0.5 1.3-0.5 1.2 0.4 1.3 0.4 1.3-0.4 1.3-0.3 1.2 0.5 1.3 0.5 1.3 0 1.2-0.2 1.3-0.2 1.3 0.3 1.3 0 1.2-0.3 1.3 0.2 1.3 0.4 1.2 0.4 1.3 0.3 1.3-0.1 1.3-0.2 1.2-0.6 1.3-0.3 1.3-0.2 1.3 0.6 1.2 0.1 1.3 0.6 1.3 0.1 1.2 0.4 1.3-0.2 1.3-0.3 1.3-0.8 1.2-0.3 1.3 0.3 1.3 0.4 1.2 0.6 1.3 0.5 1.3-0.2 1.3-0.5 1.2-0.4 1.3 0.4 1.3-0.1 1.2-0.1 1.3-0.3 1.3 0.5 1.3-0.1 1.2 0.2 1.3 0.3 1.3 0.7 1.3-0.2 1.2-0.5 1.3-0.2 1.3 0.5 1.2 0 1.3-0.4 1.3-0.7 1.3 0.3 1.2 0.4 1.3 0.6 1.3 0.1 1.2 0.2 1.3-0.4 1.3-0.8 1.3-0.7 1.2 0.3 1.3 1.1 1.3 0.3 1.2 0.2 1.3-0.1"/>
<path d="M101.1 194.1l1.2-0.2 1.3 0.6 1.3 0.2 1.2 0.2 1.3-0.4 1.3 0.1 1.3-0.7 1.2-0.7 1.3-0.6 1.3 0.8 1.3-0.6 1.2-0.6 1.3-0.8 1.3 0.2 1.2-0.5 1.3-0.5 1.3-0.5 1.3 0.5 1.2 0 1.3-1.5 1.3-0.4 1.2 2 1.3 1.4 1.3-0.7 1.3-1.3 1.2-1.9 1.3-0.5 1.3 1.2 1.2 0.6 1.3-2.1 1.3-0.7 1.3 0.5 1.2 0.1 1.3-1.4 1.3 0.2 1.3 0.3 1.2 0.5 1.3-1.9 1.3-0.5 1.2 0.6 1.3 2.8 1.3-0.3 1.3-1.2 1.2-1.3 1.3-0.5 1.3-0.2 1.2-0.9 1.3 0.1 1.3 1 1.3 2.3 1.2-2.1 1.3-1.7 1.3-1.8 1.2-0.5 1.3 0.9 1.3 0 1.3-0.9 1.2-0.7 1.3 0.4 1.3-1.3 1.3-2.8 1.2-5.6 1.3-5.9 1.3-7.2 1.2-6.6 1.3-8.7 1.3-5.3 1.3-1 1.2 0.3 1.3 1.9 1.3 4.4 1.2 2.3 1.3-5.9 1.3-4.2 1.3 1.4 1.2 1.6 1.3 1.1 1.3 1.9 1.2 1.9 1.3 4 1.3 2.2 1.3 1.7 1.2 4.6 1.3 5.2 1.3 3.5 1.3 3.2 1.2 2.9 1.3 2.4 1.3 1.8 1.2 0.3 1.3-0.1 1.3-0.9 1.3 1.1 1.2 1.3 1.3 0.4 1.3 1.7 1.2-0.2 1.3-1.5 1.3-0.1 1.3 0.6 1.2 1.1 1.3 1.3 1.3 0.3 1.2-1 1.3 0.7 1.3 0.1 1.3 0.4 1.2-0.1 1.3 0.3 1.3-0.4 1.3 0.5 1.2 0.4 1.3-0.9 1.3-1.9 1.2 1.1 1.3 1.3 1.3 0.5 1.3 0.3 1.2 0.3 1.3 2.2 1.3-0.1 1.2-1.1 1.3-1.2 1.3 2.3 1.3 2.7 1.2-0.4 1.3 0.1 1.3-2.3 1.2-0.2 1.3 0.7 1.3 1.8 1.3 0.4 1.2-0.3 1.3-0.1 1.3-0.3 1.3-2.4 1.2-4.4 1.3-6.1 1.3-4.5 1.2-5.2 1.3-3.8 1.3-5.2 1.3-3.7 1.2-5.1 1.3-5.3 1.3-5.5 1.2-4.5 1.3-4.2 1.3-5.6 1.3-4.9 1.2-3.5 1.3-2.2 1.3-0.1 1.2 1.8 1.3 2.6 1.3 0.9 1.3 0.3 1.2 0.2 1.3 0.8 1.3 0.7 1.3 2.2 1.2 4.3 1.3 5.8 1.3 7.5 1.2 7.8 1.3 6.8 1.3 6.3 1.3 6.5 1.2 6.4 1.3 5.9 1.3 4.6 1.2 3.7 1.3 3.3 1.3 3.4 1.3 2.6 1.2 1.8 1.3 1 1.3 0.8 1.2 0.6 1.3 1.2 1.3 0.9 1.3 0.6 1.2 0 1.3 0 1.3-0.1 1.3-0.1 1.2 0.7 1.3 0.5 1.3 0.9 1.2 0.1 1.3 0.1 1.3-0.4 1.3-0.3 1.2 0 1.3-0.1 1.3-0.1 1.2 0.3 1.3 1.1 1.3 0.8 1.3 0.1 1.2-0.1 1.3 0.1 1.3 0.1 1.2 0.2 1.3 0.3 1.3 0.8 1.3 0.3 1.2-0.3 1.3-0.1 1.3 0.3 1.3 0.1 1.2 0.1 1.3 0.2 1.3-0.4 1.2-0.8 1.3-0.1 1.3 0.8 1.3-0.1 1.2-0.1 1.3 0 1.3 0.7 1.2 0.2 1.3 0 1.3-0.1 1.3 0.2 1.2 0.1 1.3 0.1 1.3-0.1 1.2 0.9 1.3 0.4 1.3 0.1 1.3-0.4 1.2 0.2 1.3 0.2 1.3 0.3 1.3-0.1 1.2-0.2 1.3-0.3 1.3 0.5 1.2 0.5 1.3-0.5 1.3-0.8 1.3 0.3 1.2 0.4 1.3 0.3 1.3 0.1 1.2 0.1 1.3-0.3 1.3 0 1.3 0.2 1.2-0.3 1.3-0.3 1.3-0.2 1.2 0.1 1.3 0 1.3 0.3 1.3 0.6 1.2 0.1 1.3-0.3 1.3 0.2 1.3 0.5 1.2 0.3 1.3-0.5 1.3-0.4 1.2-0.3 1.3 0.3 1.3 0.1 1.3-0.1 1.2-0.5 1.3 0.3 1.3 0.6 1.2 0.3 1.3-0.2 1.3-0.3 1.3 0.3 1.2 0.2 1.3 0.6 1.3-0.1 1.2-0.1 1.3-0.1 1.3-0.1 1.3-0.1 1.2-0.1 1.3-0.2 1.3 0 1.3 0.1 1.2-0.1 1.3-0.3 1.3 0.1 1.2 0.4 1.3 0.1 1.3-0.1 1.3-0.1 1.2-0.1 1.3 0 1.3 0.2 1.2 0.7"/>
<path d="M103.6 189.1l1.3-0.2 1.3 0.3 1.2-0.5 1.3-0.4 1.3 0.6 1.3 0.5 1.2 0 1.3-1.1 1.3-0.4 1.3-0.6 1.2 0.4 1.3-0.1 1.3-0.5 1.2-1.5 1.3 0.2 1.3 0.3 1.3-0.1 1.2-0.9 1.3 0 1.3 0 1.2 0.4 1.3 0.7 1.3 0.7 1.3-0.4 1.2 0.4 1.3-2.1 1.3-0.5 1.2-0.3 1.3 0.7 1.3-1.8 1.3-0.4 1.2-0.5 1.3-0.2 1.3 0 1.3 0.1 1.2-0.8 1.3 0.1 1.3-0.4 1.2 0.1 1.3 0.1 1.3 1.3 1.3-0.8 1.2-0.7 1.3-1 1.3-0.6 1.2 0.8 1.3-0.3 1.3-0.5 1.3 0.2 1.2 2.1 1.3-3 1.3-1.1 1.2 0.7 1.3 0.9 1.3 0.1 1.3-2 1.2-1.3 1.3-0.2 1.3 1.7 1.3-1.8 1.2-4.5 1.3-6.5 1.3-5.2 1.2-6.8 1.3-5.5 1.3-8.4 1.3-5.4 1.2-2.9 1.3 1.7 1.3 0.5 1.2 3.1 1.3 1.4 1.3-3.6 1.3-3.7 1.2 0.8 1.3 1.9 1.3 2.2 1.2 2 1.3 2.7 1.3 4.4 1.3 3.3 1.2 1.1 1.3 5.7 1.3 4.6 1.3 4.1 1.2 2.4 1.3 1.1 1.3 0.6 1.2 2.1 1.3 2.4 1.3 2.5 1.3-1.6 1.2-0.4 1.3-0.2 1.3 0.3 1.2 0.5 1.3-0.5 1.3-0.9 1.3 1.2 1.2 1.1 1.3-0.2 1.3 0.8 1.2 0.7 1.3 0.6 1.3-0.1 1.3-0.2 1.2 0.1 1.3 0.9 1.3 0.5 1.3-0.1 1.2-0.4 1.3 0.1 1.3-0.3 1.2-0.8 1.3 1.6 1.3 1.4 1.3 0.8 1.2 0 1.3 0.2 1.3 1.7 1.2-1.2 1.3-1.3 1.3-1.4 1.3 2.6 1.2 1.7 1.3-0.8 1.3-0.6 1.2-1 1.3 0.6 1.3 0.4 1.3 1 1.2 0.8 1.3 1.1 1.3 0.3 1.3-1.2 1.2-2.5 1.3-3 1.3-3.8 1.2-4.7 1.3-6.2 1.3-6 1.3-5.1 1.2-4.9 1.3-5.3 1.3-4.3 1.2-3.7 1.3-4.8 1.3-6.7 1.3-5.2 1.2-3.7 1.3-2.7 1.3-3.8 1.2-0.6 1.3 1.5 1.3 2.9 1.3 0.9 1.2 0 1.3 0 1.3 1.6 1.3 0.9 1.2 2.2 1.3 4.1 1.3 5.6 1.2 7 1.3 7.6 1.3 7 1.3 5.2 1.2 6.8 1.3 7 1.3 5.8 1.2 3.8 1.3 3.5 1.3 3.7 1.3 3.7 1.2 3 1.3 2.5 1.3 0.4 1.2 0.3 1.3 1.2 1.3 1.9 1.3 0.3 1.2 0.1 1.3-0.2 1.3 0.2 1.3 0.3 1.2 0.2 1.3 0.1 1.3 0.5 1.2 0.8 1.3 0.1 1.3 0 1.3-0.5 1.2 0.4 1.3 0.6 1.3 0.7 1.2-0.7 1.3 0.2 1.3 0.7 1.3 0.3 1.2-0.3 1.3-0.3 1.3 0.9 1.2 0 1.3 0.2 1.3 0 1.3 0.3 1.2 0.1 1.3 0.1 1.3 0.4 1.3 0.3 1.2-0.2 1.3-0.1 1.3 0.1 1.2 0.4 1.3-0.2 1.3 0 1.3 0.3 1.2 0.2 1.3 0 1.3-0.2 1.2-0.2 1.3 0.4 1.3 0.4 1.3 0.4 1.2 0 1.3 0 1.3-0.3 1.2 0.1 1.3 0.3 1.3 0.2 1.3 0.2 1.2 0.4 1.3 0 1.3-0.1 1.3 0 1.2 0.3 1.3-0.1 1.3-0.4 1.2-0.2 1.3 0.1 1.3 0.2 1.3 0 1.2 0.1 1.3 0.6 1.3 0.1 1.2 0 1.3-0.5 1.3 0 1.3-0.1 1.2 0 1.3 0.2 1.3-0.3 1.2-0.1 1.3 0 1.3 0.1 1.3 0.1 1.2 0.7 1.3 0.4 1.3 0 1.3-0.2 1.2-0.4 1.3-0.3 1.3-0.1 1.2 0.6 1.3 0.4 1.3 0.6 1.3-0.2 1.2-0.6 1.3-0.6 1.3-0.3 1.2 0.1 1.3 0.6 1.3 0.6 1.3-0.2 1.2 0.1 1.3 0.1 1.3 0.3 1.2-0.2 1.3-0.1 1.3 0.1 1.3 0.3 1.2 0 1.3-0.5 1.3-0.2 1.3 0 1.2 0.4 1.3 0 1.3-0.2 1.2 0.1 1.3 0.4 1.3 0.3 1.3-0.2 1.2-0.3 1.3-0.5 1.3-0.4"/>
<path d="M106.2 183.8l1.3 0.2 1.2-0.5 1.3-0.5 1.3-0.1 1.3 1.4 1.2-0.3 1.3-0.4 1.3-1.4 1.2-0.8 1.3 0.1 1.3 0.8 1.3 0.6 1.2-0.3 1.3-0.4 1.3-1.3 1.3-1.3 1.2-0.9 1.3-0.2 1.3 0.6 1.2-0.1 1.3 0.4 1.3 0.8 1.3 0.9 1.2-0.2 1.3-0.5 1.3-1.6 1.2-0.5 1.3 1.1 1.3 1.5 1.3-2.3 1.2-1.5 1.3-0.5 1.3 0.8 1.2 0.3 1.3 0.3 1.3-1.4 1.3-1 1.2-0.7 1.3 0.8 1.3 1.1 1.3 0 1.2-2.1 1.3-1 1.3 0.6 1.2-0.5 1.3-0.3 1.3-0.4 1.3 0.5 1.2 2 1.3 2.6 1.3-3.1 1.2-1.8 1.3-0.6 1.3-0.5 1.3-0.1 1.2 0.4 1.3 0.3 1.3-1.6 1.2-0.1 1.3-1.5 1.3-3.2 1.3-7.3 1.2-5.9 1.3-4.9 1.3-4.1 1.3-8.3 1.2-6.6 1.3-2 1.3 0 1.2 0.3 1.3 2.4 1.3 1.5 1.3-5 1.2-4.3 1.3 1.3 1.3 1.8 1.2 2.3 1.3 2 1.3 3.6 1.3 4.5 1.2 2.9 1.3 2.7 1.3 6.2 1.2 5.4 1.3 3.3 1.3 1.4 1.3-0.1 1.2 1 1.3 2.1 1.3 2.4 1.3 1.2 1.2-0.4 1.3 0 1.3 0.4 1.2 0.4 1.3 1 1.3 0.9 1.3 0.4 1.2 1.2 1.3 0.1 1.3-1 1.2 1.1 1.3-0.4 1.3 0.4 1.3-0.6 1.2 0.2 1.3-0.5 1.3-0.4 1.2 0 1.3 1 1.3 1.7 1.3-0.2 1.2-0.2 1.3-1 1.3 2 1.3 0.4 1.2-0.1 1.3-0.4 1.3 1.1 1.2 3 1.3-0.6 1.3-2 1.3-1.6 1.2 1.3 1.3 0.8 1.3 0.6 1.2 1.2 1.3-0.8 1.3-0.2 1.3 1.3 1.2 0.4 1.3-0.6 1.3 0.3 1.2 2 1.3 1 1.3-1.2 1.3-3.9 1.2-5.2 1.3-5.4 1.3-6.6 1.3-6.6 1.2-4.9 1.3-3.5 1.3-4.4 1.2-5.7 1.3-5.3 1.3-5 1.3-5 1.2-5.8 1.3-5.2 1.3-4.7 1.2-2.3 1.3 0.2 1.3 2.2 1.3 1.7 1.2 1.4 1.3-0.2 1.3-0.3 1.2-0.4 1.3 1.7 1.3 3.5 1.3 5.2 1.2 5.5 1.3 6.1 1.3 7 1.3 6.8 1.2 7.1 1.3 7.7 1.3 7.5 1.2 5.3 1.3 3.5 1.3 3.4 1.3 3 1.2 3.2 1.3 2 1.3 1.8 1.2 0.8 1.3 1.2 1.3 0.7 1.3 1.1 1.2 0.9 1.3 1 1.3 0.3 1.2 0.2 1.3-0.4 1.3-0.4 1.3 0.6 1.2 1.1 1.3 1.5 1.3 0 1.3 0.2 1.2-0.1 1.3-0.1 1.3-0.3 1.2-0.2 1.3 0.6 1.3 0.3 1.3 0.9 1.2-0.3 1.3-0.2 1.3-0.8 1.2 0.4 1.3 0.6 1.3 0.2 1.3 0.3 1.2 0.1 1.3 0.5 1.3 0.2 1.2 0.4 1.3-0.4 1.3-0.2 1.3-0.1 1.2 0.4 1.3 0.3 1.3 0 1.3-0.3 1.2 0 1.3 0 1.3 0.3 1.2 0.5 1.3 0.4 1.3 0.3 1.3-0.1 1.2 0.4 1.3-0.1 1.3-0.2 1.2-0.6 1.3-0.3 1.3 0.5 1.3 1 1.2 0.7 1.3-0.4 1.3-0.9 1.2-0.1 1.3 0.5 1.3 0.2 1.3-0.2 1.2-0.5 1.3 0.3 1.3 0.1 1.3 0 1.2-0.2 1.3 0.3 1.3 0.1 1.2 0.5 1.3 0.5 1.3 0 1.3-0.6 1.2 0.1 1.3 0.4 1.3 0 1.2-0.5 1.3-0.7 1.3 0 1.3 0.4 1.2 0.3 1.3 0.6 1.3 0.4 1.2 0.1 1.3-0.5 1.3 0 1.3 0.2 1.2-0.1 1.3-0.5 1.3 0.1 1.3 0.3 1.2 0.2 1.3-0.6 1.3 0.4 1.2 0.6 1.3 0.6 1.3-0.4 1.3-0.2 1.2-0.2 1.3 0.3 1.3 0.5 1.2 0.6 1.3-0.2 1.3-0.4 1.3 0.1 1.2 0 1.3 0 1.3 0.1 1.2-0.4 1.3-0.6 1.3-0.6 1.3 0.3 1.2 0 1.3 1 1.3 0.6 1.3-0.1 1.2-0.5 1.3-0.3"/>
<path d="M108.8 179.1l1.2 0.4 1.3-0.3 1.3-0.5 1.3-0.4 1.2 0.2 1.3-0.6 1.3 0 1.2 0.5 1.3-0.7 1.3-0.9 1.3-2.1 1.2-2.9 1.3 4 1.3 2 1.3-0.3 1.2-0.9 1.3-1.4 1.3-0.9 1.2 0.4 1.3 0.5 1.3 0.5 1.3 0.2 1.2-0.3 1.3-0.6 1.3 0 1.2-0.4 1.3-0.5 1.3 0.4 1.3 1.3 1.2-1.1 1.3-1.1 1.3-0.2 1.2 0.1 1.3-1.7 1.3-0.4 1.3-0.1 1.2 0.8 1.3-1.8 1.3-0.3 1.3 0.3 1.2 1.5 1.3-0.5 1.3-1.5 1.2-1.2 1.3 0.1 1.3 0.5 1.3-1.1 1.2-0.6 1.3 2.6 1.3 1.6 1.2-3.3 1.3-1.4 1.3 0.4 1.3-0.6 1.2 0.5 1.3 0.1 1.3 0.4 1.2-1 1.3 0.3 1.3-1.1 1.3-3 1.2-6 1.3-6 1.3-6.7 1.3-5.5 1.2-7.7 1.3-5.6 1.3-3.7 1.2-1.3 1.3 1.3 1.3 3.7 1.3 2.7 1.2-4.8 1.3-4.3 1.3 0.6 1.2 0.9 1.3 2.6 1.3 1.7 1.3 3.7 1.2 4 1.3 3.5 1.3 1.3 1.2 5.8 1.3 5.3 1.3 4.4 1.3 2.1 1.2 1.8 1.3 0.6 1.3 2.3 1.3 1.7 1.2 2.7 1.3-0.6 1.3 0.7 1.2-0.3 1.3 0.2 1.3-0.2 1.3-0.6 1.2-1.8 1.3 0.8 1.3 1.7 1.2 0.5 1.3 0.1 1.3-0.5 1.3 0.7 1.2 0 1.3-0.4 1.3-0.2 1.2 1.8 1.3 0.8 1.3-0.1 1.3-1.4 1.2 0.7 1.3-0.3 1.3-0.4 1.3 0.2 1.2 1.1 1.3 0.5 1.3 1.6 1.2 0.8 1.3 1.3 1.3-1 1.3-0.6 1.2-0.9 1.3 0.6 1.3 0.1 1.2 0.4 1.3 1.7 1.3-0.2 1.3-0.6 1.2-0.6 1.3 0.2 1.3 0.2 1.2 1.5 1.3 1.3 1.3 0.1 1.3-1.5 1.2-2 1.3-4.3 1.3-6.5 1.3-7.1 1.2-5 1.3-4.4 1.3-4.2 1.2-5.3 1.3-5 1.3-6 1.3-6 1.2-6.6 1.3-5.1 1.3-3.9 1.2-3.3 1.3-2.9 1.3-0.7 1.3 1.1 1.2 2.7 1.3 2 1.3 1.1 1.2-0.5 1.3-0.2 1.3-0.2 1.3 2.4 1.2 3.7 1.3 6.3 1.3 7.2 1.3 9.1 1.2 7.9 1.3 7.2 1.3 6.4 1.2 5.9 1.3 5.9 1.3 4.7 1.3 4 1.2 2.8 1.3 3.4 1.3 2.3 1.2 1.2 1.3 0.4 1.3 1.6 1.3 1.5 1.2 1.2 1.3-0.3 1.3-0.2 1.2-0.2 1.3 0.3 1.3 0.2 1.3 0.2 1.2 0.8 1.3 0.6 1.3 0.7 1.3 0.3 1.2 0.3 1.3 0 1.3-0.5 1.2 0.3 1.3 0.2 1.3 0 1.3-0.3 1.2 0.9 1.3 0.8 1.3 0 1.2-0.5 1.3-0.3 1.3 0.5 1.3 0.3 1.2 0.7 1.3-0.4 1.3 0.1 1.2-0.1 1.3 0.7 1.3-0.3 1.3 0 1.2-0.3 1.3 0.2 1.3-0.1 1.3 0.8 1.2 0.8 1.3 0.6 1.3-0.3 1.2-0.3 1.3-0.1 1.3 0.4 1.3 0.4 1.2 0 1.3-0.1 1.3-0.1 1.2-0.2 1.3-0.4 1.3 0 1.3 0.1 1.2 0.2 1.3 0.6 1.3 0.1 1.2-0.3 1.3-0.3 1.3 0.1 1.3 0.4 1.2 0.1 1.3-0.2 1.3-0.2 1.3 0.3 1.2 0.5 1.3 0 1.3 0.1 1.2-0.3 1.3 0.3 1.3 0.5 1.3 0 1.2-0.4 1.3-0.3 1.3 0.2 1.2-0.2 1.3-0.1 1.3 0.1 1.3 0.1 1.2 0.1 1.3 0.1 1.3 0.8 1.2 0.1 1.3-0.2 1.3-0.3 1.3 0.1 1.2-0.3 1.3-0.5 1.3 0 1.3 0.8 1.2 0.5 1.3-0.2 1.3-0.4 1.2 0 1.3 0.6 1.3-0.1 1.3-0.1 1.2-0.3 1.3-0.1 1.3 0.1 1.2 0.4 1.3 0.4 1.3-0.1 1.3 0.1 1.2 0.2 1.3-0.6 1.3-0.6 1.2 0.1 1.3 0.5 1.3 0.2 1.3-0.2 1.2 0.1 1.3-0.1 1.3 0.2 1.3 0 1.2 0.3"/>
<path d="M111.3 173.5l1.3-1.3 1.3-1.1 1.3 0.2 1.2 0.3 1.3 1.1 1.3 0.9 1.2 0.8 1.3 0.1 1.3-0.6 1.3-0.8 1.2-0.8 1.3 0.5 1.3 0.8 1.2 0.2 1.3-1.1 1.3-1.5 1.3-0.7 1.2-0.1 1.3-0.1 1.3-0.3 1.3 0.1 1.2 1 1.3-0.3 1.3 0 1.2 0.1 1.3-0.7 1.3-1.3 1.3 0.8 1.2 0.5 1.3-1.2 1.3-1.6 1.2 1.3 1.3 0.5 1.3 0.3 1.3-1.1 1.2-1.2 1.3-0.7 1.3-1.4 1.2 0.3 1.3 1 1.3 1.9 1.3-1 1.2-1.2 1.3-1.2 1.3-0.8 1.3 0.6 1.2-0.4 1.3-0.4 1.3 0.7 1.2 3.3 1.3-2 1.3-0.2 1.3-0.7 1.2-1.1 1.3-1.1 1.3-0.7 1.2-0.3 1.3-1.1 1.3 0.9 1.3-1.2 1.2-3.1 1.3-6.7 1.3-5.9 1.2-5.6 1.3-5.7 1.3-8.8 1.3-7.6 1.2-2.6 1.3-0.2 1.3 2.1 1.3 4.3 1.2 2.5 1.3-4 1.3-3.8 1.2 1.8 1.3 0.7 1.3 1.2 1.3 1.1 1.2 2.5 1.3 3.4 1.3 3.7 1.2 3.2 1.3 5.8 1.3 4.7 1.3 3.7 1.2 2.6 1.3 0.9 1.3 1.9 1.2 2.5 1.3 2.6 1.3 1.8 1.3-0.7 1.2 0.1 1.3 0 1.3 0.8 1.3 1 1.2-0.5 1.3-1.6 1.3-0.7 1.2 0.5 1.3 0.4 1.3 3.1 1.3 0 1.2-0.8 1.3-0.6 1.3 0.8 1.2 0.3 1.3-0.6 1.3 0.1 1.3 0.6 1.2 0.8 1.3-0.6 1.3-0.6 1.2-0.1 1.3 1.2 1.3 0.5 1.3-0.5 1.2 0.7 1.3 1.4 1.3 2.3 1.3-2.2 1.2-1.6 1.3-0.3 1.3 2.2 1.2 0.2 1.3-0.3 1.3 0.9 1.3-0.4 1.2 0.1 1.3 0.5 1.3 0.3 1.2-0.2 1.3 0.1 1.3 1.9 1.3 1.1 1.2-1.3 1.3-3.3 1.3-3.4 1.2-5.1 1.3-6.6 1.3-6.7 1.3-4.8 1.2-4.9 1.3-5.7 1.3-6.2 1.3-5.4 1.2-4.7 1.3-4.8 1.3-5 1.2-4.4 1.3-4.5 1.3-3 1.3-0.2 1.2 1.6 1.3 1.4 1.3 1.3 1.2 0.5 1.3-0.4 1.3-0.5 1.3 1 1.2 3.5 1.3 5.8 1.3 6.5 1.2 6.1 1.3 7.3 1.3 6.8 1.3 7.8 1.2 6.9 1.3 7 1.3 5.2 1.3 5 1.2 3.8 1.3 2.7 1.3 2.4 1.2 2.5 1.3 2 1.3 1 1.3 0.8 1.2 0.6 1.3 0.9 1.3 0.5 1.2 0.7 1.3-0.3 1.3-0.2 1.3 0 1.2 0.3 1.3 0.6 1.3 0.1 1.2 0.5 1.3-0.1 1.3 0.2 1.3 0 1.2 0.5 1.3 0.3 1.3 0.2 1.3-0.3 1.2 0.6 1.3 0.7 1.3 0.4 1.2 0 1.3-0.3 1.3 0.1 1.3 0 1.2 0.2 1.3-0.3 1.3 0.4 1.2 0.3 1.3 0.6 1.3 0.2 1.3 0.2 1.2-0.2 1.3-0.1 1.3 0.3 1.2 0.3 1.3-0.7 1.3-0.1 1.3 0.4 1.2 0.2 1.3-0.2 1.3-0.1 1.3 0.5 1.2-0.1 1.3 0 1.3 0 1.2 0.2 1.3 0 1.3-0.2 1.3 0.2 1.2 0.6 1.3 0.8 1.3 0.3 1.2-0.7 1.3-0.6 1.3 0 1.3 0.3 1.2 0.4 1.3 0 1.3-0.5 1.2 0 1.3 0.6 1.3 0 1.3-0.4 1.2 0.4 1.3 0.3 1.3 0.2 1.3-0.3 1.2 0.1 1.3-0.1 1.3 0.2 1.2 0.1 1.3 0.1 1.3-0.2 1.3-0.6 1.2 0 1.3 0.3 1.3 0.3 1.2 0 1.3 0.5 1.3 0.3 1.3 0.1 1.2 0.3 1.3-0.4 1.3-0.3 1.2-0.4 1.3 0.6 1.3 0.3 1.3 0.2 1.2-0.3 1.3-0.3 1.3-0.1 1.3 0 1.2-0.1 1.3 0 1.3 0.2 1.2 0.9 1.3 0.3 1.3-0.3 1.3-0.4 1.2 0.2 1.3 0.5 1.3-0.7 1.2-0.8 1.3-0.2 1.3 0.7 1.3 0.3 1.2-0.2 1.3 0.2 1.3-0.1 1.2 0.1"/>
<path d="M113.9 169.0l1.3 0.1 1.3 0.7 1.2-0.4 1.3-0.2 1.3-0.7 1.2-0.6 1.3-0.1 1.3 0 1.3 0.3 1.2-0.5 1.3 0.1 1.3 0.2 1.2 0.1 1.3-1.4 1.3-0.7 1.3 0 1.2-0.7 1.3-0.4 1.3 0.1 1.3 0.3 1.2 0.1 1.3 0.7 1.3-0.5 1.2-1 1.3 0.2 1.3 0.1 1.3 0.1 1.2 0.5 1.3 0.9 1.3-1.7 1.2-0.9 1.3-0.7 1.3 0.2 1.3 0.1 1.2-0.3 1.3-1.1 1.3-1 1.2-0.3 1.3 0.7 1.3 1 1.3-0.5 1.2-1.9 1.3-0.4 1.3 1 1.3-0.2 1.2-0.5 1.3-1.2 1.3-0.2 1.2 2.5 1.3 3 1.3-2.5 1.3-1.8 1.2-0.5 1.3-0.3 1.3 0.4 1.2-0.2 1.3-0.6 1.3-1.3 1.3 0 1.2-1.3 1.3-2.6 1.3-6 1.2-6.5 1.3-6.6 1.3-5.6 1.3-8.9 1.2-7.7 1.3-3.4 1.3 0.8 1.3 3.2 1.2 4.4 1.3 2 1.3-4.7 1.2-3.8 1.3 0.7 1.3 0.3 1.3 2.6 1.2 2.2 1.3 3.6 1.3 2.4 1.2 4.7 1.3 2.7 1.3 7.1 1.3 5.2 1.2 3.7 1.3 1 1.3 0.8 1.2 1.7 1.3 1.8 1.3 1.9 1.3 1.4 1.2-1.1 1.3 0 1.3 1.5 1.3 0.9 1.2-0.5 1.3-1.5 1.3-0.9 1.2 1.4 1.3 0.6 1.3 0.6 1.3 1 1.2-0.7 1.3-1.2 1.3 1.2 1.2 1.4 1.3-0.2 1.3-0.2 1.3 0 1.2 1.4 1.3 0 1.3-0.1 1.2-1.2 1.3-0.3 1.3 1.5 1.3 0.7 1.2 0.2 1.3 0.7 1.3 1 1.3 2.1 1.2-1.6 1.3-1.9 1.3-2.5 1.2 1.7 1.3 1 1.3 0.7 1.3 1.3 1.2-0.9 1.3-0.6 1.3 0.8 1.2 1.1 1.3 0.5 1.3-0.1 1.3 0.3 1.2-1.1 1.3-0.9 1.3-2.1 1.2-2.9 1.3-4.9 1.3-5.6 1.3-6.3 1.2-5 1.3-5.5 1.3-5.9 1.3-6.7 1.2-5.5 1.3-4.5 1.3-4.9 1.2-5.8 1.3-5.1 1.3-3.9 1.3-2.4 1.2 0.3 1.3 1.6 1.3 2.1 1.2 0.4 1.3 0.1 1.3-0.4 1.3 0.8 1.2-0.3 1.3 2.6 1.3 5.9 1.2 7.7 1.3 6.4 1.3 7.3 1.3 7.8 1.2 7.7 1.3 6.9 1.3 6.6 1.3 5 1.2 4.2 1.3 4.2 1.3 3.8 1.2 3.1 1.3 1.5 1.3 1.3 1.3-0.5 1.2 0.4 1.3 0.9 1.3 1.9 1.2 0.4 1.3 0.7 1.3 0.7 1.3 0.7 1.2-0.6 1.3-0.4 1.3 0.3 1.2 0.9 1.3 0.7 1.3 0.2 1.3 0.1 1.2-0.4 1.3-0.1 1.3 0 1.3 0.4 1.2 0.2 1.3 0.2 1.3 0.4 1.2 0.4 1.3 0.2 1.3-0.1 1.3 0.2 1.2 0.6 1.3 0.3 1.3 0.3 1.2-0.4 1.3 0 1.3 0 1.3 0.5 1.2-0.1 1.3-0.5 1.3-0.1 1.2 0.4 1.3 0.4 1.3 0.2 1.3-0.1 1.2 0 1.3 0.3 1.3 0.3 1.3 0.4 1.2 0 1.3-0.1 1.3-0.3 1.2 0.1 1.3 0 1.3 0.2 1.3 0.2 1.2 0.5 1.3 0.3 1.3 0.1 1.2-0.5 1.3-0.6 1.3-0.3 1.3 0.2 1.2 0.5 1.3 0 1.3 0 1.2 0.2 1.3 0.3 1.3 0.1 1.3-0.4 1.2-0.3 1.3 0.2 1.3 0.5 1.3 0.2 1.2-0.1 1.3 0.1 1.3 0.4 1.2 0.3 1.3 0.2 1.3-0.3 1.3-0.1 1.2-0.5 1.3-0.3 1.3-0.1 1.2 0.2 1.3 0.5 1.3 0.2 1.3 0 1.2-0.5 1.3 0.1 1.3-0.1 1.2 0.1 1.3 0 1.3 0.5 1.3 0.2 1.2 0.3 1.3 0 1.3 0 1.3-0.2 1.2-0.5 1.3-0.1 1.3 0.5 1.2 0.4 1.3-0.1 1.3 0.1 1.3 0.3 1.2-0.2 1.3 0 1.3 0.5 1.2 0.1 1.3-0.6 1.3-0.5 1.3 0.1 1.2 0.2 1.3-0.2 1.3-0.1"/>
<path d="M116.5 162.8l1.3-0.4 1.2 0.8 1.3 1 1.3 0.1 1.2-0.2 1.3-0.4 1.3-0.2 1.3 0.1 1.2-1 1.3-0.2 1.3 0 1.2 0.8 1.3-0.4 1.3-0.1 1.3-0.5 1.2-1.2 1.3-0.6 1.3-0.2 1.2 0.9 1.3-1.3 1.3-1.4 1.3 0 1.2 1.9 1.3 0.1 1.3-0.1 1.3-1.7 1.2 1 1.3 1.8 1.3 1.6 1.2-2.1 1.3-1.9 1.3 0.1 1.3-0.8 1.2 0 1.3-0.8 1.3-1.2 1.2-1.3 1.3 0.2 1.3 1.2 1.3 1.4 1.2 0.7 1.3-2 1.3-1.6 1.2-0.2 1.3 0.2 1.3-1.2 1.3-0.9 1.2 0.3 1.3 2.3 1.3 1.6 1.3-2.8 1.2-0.8 1.3 0.1 1.3-0.6 1.2-0.2 1.3 0.9 1.3 1.2 1.3-0.3 1.2-1.2 1.3-2.6 1.3-3.2 1.2-5.5 1.3-6 1.3-6 1.3-6.5 1.2-9.1 1.3-6.7 1.3-1.3 1.2 0 1.3 1.6 1.3 2.8 1.3 2.5 1.2-3.5 1.3-3 1.3-0.3 1.3-0.2 1.2 2.7 1.3 2.1 1.3 3.2 1.2 4.1 1.3 3.7 1.3 1.4 1.3 4.9 1.2 5.1 1.3 4 1.3 2.9 1.2 2.3 1.3 2 1.3 2 1.3 1 1.2 0.4 1.3-1 1.3 0.6 1.2 1.2 1.3 0.6 1.3 0.8 1.3-0.2 1.2-1.1 1.3 1.5 1.3 0.7 1.3 0.2 1.2 0.7 1.3-1.5 1.3-0.8 1.2 0.4 1.3 2.1 1.3 1 1.3 0 1.2-0.2 1.3-0.4 1.3 0.9 1.2-1 1.3-0.5 1.3-0.9 1.3 2.3 1.2-0.5 1.3 0.5 1.3 0.3 1.2 2.7 1.3 1.4 1.3-2.2 1.3-4 1.2-0.5 1.3 2.3 1.3 1.9 1.3-0.4 1.2 0.9 1.3-1 1.3 0.1 1.2 0.7 1.3 0.5 1.3 0.5 1.3 1.3 1.2 1.3 1.3-0.2 1.3-2.5 1.2-2.6 1.3-3.5 1.3-4.8 1.3-6.4 1.2-5.3 1.3-4.7 1.3-4.6 1.2-6.2 1.3-5.5 1.3-6.1 1.3-5 1.2-5.7 1.3-5.7 1.3-4.9 1.3-4.4 1.2-3.3 1.3-1.4 1.3 1.3 1.2 2.4 1.3 2.1 1.3 1.7 1.3-0.2 1.2-0.8 1.3 0.1 1.3 3.1 1.2 5.4 1.3 5.8 1.3 7.2 1.3 7.8 1.2 8.3 1.3 7.8 1.3 7.1 1.2 6.1 1.3 5.1 1.3 4.2 1.3 3.4 1.2 3.1 1.3 3 1.3 2.5 1.3 2.2 1.2 0.9 1.3 0.9 1.3 0.3 1.2 1.4 1.3-0.6 1.3 0.2 1.3-0.9 1.2 0.7 1.3 0.7 1.3 0.8 1.2 0.1 1.3-0.3 1.3 0.3 1.3 0.2 1.2 0.5 1.3 0 1.3-0.1 1.2 0 1.3 0.3 1.3 0.6 1.3 0 1.2 0.3 1.3 0.6 1.3 0.1 1.3-0.5 1.2-0.2 1.3 0.5 1.3 0.4 1.2 0.9 1.3 0.4 1.3-0.1 1.3 0.1 1.2 0.3 1.3 0 1.3-0.5 1.2 0.1 1.3 0.3 1.3-0.2 1.3-0.4 1.2-0.3 1.3 0.4 1.3 0.5 1.2 0.6 1.3 0 1.3-0.3 1.3 0.3 1.2 0.3 1.3 0.5 1.3-0.3 1.3-0.2 1.2-0.2 1.3-0.1 1.3 0.1 1.2 0.3 1.3 0.4 1.3 0 1.3 0 1.2 0 1.3 0.1 1.3 0 1.2 0.3 1.3-0.4 1.3 0 1.3-0.1 1.2 0.2 1.3-0.3 1.3 0.1 1.2-0.3 1.3 0.3 1.3 0.8 1.3 0.5 1.2-0.4 1.3-0.1 1.3 0.3 1.3 0 1.2-0.2 1.3 0.3 1.3 0.1 1.2 0 1.3-0.4 1.3 0.4 1.3 0.1 1.2 0.1 1.3-0.1 1.3 0 1.2-0.3 1.3-0.3 1.3-0.5 1.3 0 1.2 0.3 1.3 0.4 1.3 0.2 1.2 0.2 1.3 0 1.3 0 1.3 0 1.2-0.2 1.3-0.2 1.3 0.5 1.3 0.2 1.2 0.1 1.3-0.1 1.3 0.7 1.2 0.4 1.3-0.4 1.3-0.4 1.3-0.1 1.2 0"/>
<path d="M119.0 157.5l1.3-0.3 1.3 0.8 1.3-0.3 1.2 0.3 1.3 0.6 1.3 0.2 1.3 0.1 1.2-0.7 1.3-0.9 1.3-0.7 1.2 0.1 1.3-0.1 1.3 0.1 1.3-0.1 1.2-0.2 1.3-1 1.3 0.1 1.2 0.3 1.3 0.7 1.3-0.8 1.3-0.1 1.2 0.8 1.3 0.8 1.3-0.5 1.3-0.6 1.2-0.6 1.3-0.8 1.3 0.7 1.2 0.4 1.3-1.1 1.3-0.7 1.3-0.4 1.2-0.4 1.3-0.8 1.3 0.6 1.2-0.9 1.3-0.9 1.3-1.5 1.3 0.3 1.2 1.9 1.3 1.7 1.3-0.6 1.2-1.3 1.3-0.5 1.3-0.9 1.3 0.2 1.2-0.5 1.3-1 1.3 0.7 1.3 3.2 1.2-0.8 1.3-1.3 1.3-0.9 1.2-1 1.3-0.1 1.3-0.9 1.3-0.3 1.2-0.6 1.3 0.2 1.3-0.4 1.2-2.8 1.3-5 1.3-5.9 1.3-6.4 1.2-8.6 1.3-10.4 1.3-5.8 1.2-1.7 1.3 0.6 1.3 0.1 1.3 2.9 1.2 1.6 1.3-3.2 1.3-3 1.3 1.5 1.2 1.6 1.3 3.3 1.3 2.9 1.2 3.9 1.3 3.7 1.3 3 1.3 2.4 1.2 6.1 1.3 4.9 1.3 2.9 1.2 1.5 1.3 1.3 1.3 1.5 1.3 2.1 1.2 1.3 1.3 2.6 1.3-0.6 1.2 0 1.3-1.6 1.3 0.8 1.3 0.8 1.2 0.6 1.3-1.2 1.3 0.5 1.3 0.1 1.2 1 1.3 1.3 1.3-0.2 1.2-0.5 1.3-0.5 1.3-0.6 1.3 0 1.2 0.7 1.3 1 1.3 0 1.2-0.2 1.3-0.6 1.3-0.8 1.3-0.9 1.2 1 1.3 1.1 1.3 1.1 1.2 1.6 1.3 1 1.3 2.4 1.3-1.7 1.2-2.1 1.3-2.1 1.3 2.6 1.3 1.7 1.2 0.3 1.3 0.7 1.3-1.7 1.2 0.5 1.3 1.7 1.3 1.3 1.3-0.3 1.2-1.5 1.3 1 1.3 0.3 1.2 0.2 1.3-3 1.3-4.7 1.3-6 1.2-6.7 1.3-5.3 1.3-4.8 1.2-4.7 1.3-5.6 1.3-5.7 1.3-6.6 1.2-6 1.3-5.6 1.3-5.3 1.3-4.7 1.2-4 1.3-2.7 1.3-0.6 1.2 2.2 1.3 2.6 1.3 1.1 1.3-0.8 1.2-0.9 1.3 0.3 1.3 1 1.2 3.1 1.3 5.5 1.3 6.4 1.3 6.8 1.2 8.2 1.3 8 1.3 7.6 1.2 7.4 1.3 7.4 1.3 5.3 1.3 4 1.2 3.2 1.3 3 1.3 2.6 1.3 2.6 1.2 1.6 1.3 0.1 1.3 0.5 1.2 0.9 1.3 1.2 1.3 0.1 1.3 0.3 1.2-0.1 1.3 0.6 1.3 0.3 1.2-0.2 1.3-0.2 1.3 0.5 1.3 0.7 1.2 0.4 1.3 0.4 1.3-0.1 1.2-0.1 1.3-0.1 1.3 0.6 1.3 0 1.2 0.1 1.3 0.7 1.3 1.1 1.3 0 1.2-1 1.3-0.4 1.3 0.9 1.2 0.5 1.3 0.1 1.3 0.1 1.3 0.2 1.2 0 1.3 0.5 1.3-0.3 1.2-0.5 1.3 0.2 1.3 0.6 1.3-0.2 1.2-0.1 1.3 0.3 1.3 0.1 1.2-0.1 1.3 0.4 1.3 0.1 1.3-0.5 1.2 0.1 1.3 0.7 1.3 0.3 1.3-0.5 1.2-0.4 1.3 0.2 1.3 0.4 1.2 0.2 1.3-0.1 1.3 0.3 1.3 0.4 1.2-0.1 1.3-0.3 1.3-0.2 1.2 0.2 1.3-0.1 1.3 0.1 1.3-0.1 1.2-0.1 1.3-0.3 1.3-0.2 1.2 0.8 1.3 0.5 1.3 0.1 1.3-0.4 1.2-0.1 1.3 0.1 1.3 0.2 1.3 0.1 1.2-0.2 1.3-0.1 1.3 0.3 1.2-0.2 1.3-0.1 1.3-0.1 1.3 0.8 1.2-0.1 1.3-0.3 1.3-0.3 1.2 0.6 1.3-0.2 1.3-0.4 1.3-0.3 1.2 0.7 1.3-0.1 1.3 0.3 1.2 0.2 1.3 0.6 1.3-0.4 1.3-0.1 1.2-0.3 1.3 0.3 1.3 0.3 1.3 0.2 1.2 0.1 1.3 0 1.3-0.2 1.2 0.1 1.3 0.5 1.3 0 1.3-0.5"/>
<path d="M121.6 152.9l1.3-0.4 1.3 0.4 1.2 0.8 1.3 0.6 1.3 0.5 1.3-0.5 1.2-0.6 1.3-0.9 1.3 0.1 1.2 0.2 1.3-0.4 1.3-0.2 1.3 0 1.2 0.1 1.3-1.3 1.3-1.2 1.2-1.2 1.3 0.7 1.3 0.9 1.3 0.5 1.2-0.2 1.3 0.2 1.3 0.9 1.2-0.2 1.3 0.3 1.3-1.9 1.3-0.8 1.2 1.2 1.3 1.5 1.3-1.1 1.3-1.7 1.2-0.6 1.3 0.2 1.3 0.1 1.2 0.6 1.3-1.4 1.3-1.3 1.3-2.2 1.2 0 1.3 2 1.3 2.4 1.2-1.3 1.3-2.1 1.3-0.7 1.3-0.1 1.2 0.7 1.3-0.4 1.3 0 1.2 1.1 1.3 2.3 1.3-1.9 1.3-1.8 1.2-1.1 1.3-1.1 1.3 0.1 1.3 0 1.2 0.9 1.3 0.9 1.3-0.2 1.2-2 1.3-3.9 1.3-5.2 1.3-5.9 1.2-7.2 1.3-6.6 1.3-9.5 1.2-5.4 1.3-3 1.3-0.5 1.3 0.4 1.2 3.6 1.3 2.5 1.3-3.9 1.2-2.3 1.3 2.3 1.3 0.4 1.3 0.1 1.2 1.6 1.3 5.5 1.3 6 1.3 3.5 1.2 2.2 1.3 5.9 1.3 5.2 1.2 2.4 1.3 1.4 1.3 1.1 1.3 1.8 1.2 2.4 1.3 2.2 1.3 1.6 1.2-1.6 1.3 0 1.3 0.6 1.3 0.9 1.2-0.1 1.3-1.3 1.3-1.7 1.2 0.9 1.3 1.2 1.3 1.2 1.3 1.4 1.2-0.4 1.3-0.9 1.3-0.4 1.3 0.3 1.2 0.1 1.3-0.1 1.3 0.2 1.2 0.6 1.3 0.5 1.3 0.2 1.3-0.1 1.2-1.2 1.3-0.5 1.3 0.2 1.2 0.8 1.3 2.6 1.3 2.5 1.3 2.1 1.2-2.6 1.3-2.2 1.3-1.2 1.2 2.2 1.3 0.4 1.3 0.4 1.3 1 1.2-0.4 1.3-0.7 1.3 0.9 1.3 0.8 1.2-0.1 1.3-0.5 1.3 0.8 1.2 0.6 1.3-0.8 1.3-2.8 1.3-4.8 1.2-5 1.3-6.1 1.3-5.5 1.2-5.1 1.3-5 1.3-5.9 1.3-5.9 1.2-5.9 1.3-4.5 1.3-5 1.2-6.1 1.3-5.8 1.3-4.5 1.3-2.6 1.2-0.6 1.3 1.4 1.3 1.9 1.3 2.3 1.2 1.1 1.3-0.8 1.3-0.8 1.2 1.3 1.3 3.9 1.3 5.2 1.3 6.5 1.2 6.9 1.3 8.7 1.3 7.5 1.2 7 1.3 6.3 1.3 6.7 1.3 5.1 1.2 4.6 1.3 4 1.3 3.8 1.2 3 1.3 1.5 1.3 0.9 1.3 0.5 1.2 0.9 1.3 0.3 1.3 0.8 1.3 1 1.2 0.4 1.3-0.1 1.3-0.1 1.2 0.6 1.3-0.3 1.3 0.5 1.3 0.4 1.2 0.9 1.3 0.1 1.3 0.2 1.2-0.3 1.3-0.4 1.3 0.3 1.3 0.6 1.2 0.3 1.3 0.2 1.3 0.6 1.2 0.5 1.3-0.1 1.3-0.6 1.3-0.5 1.2-0.2 1.3 0.3 1.3 0.6 1.3 0.4 1.2 0.3 1.3-0.3 1.3 0.6 1.2 0.2 1.3-0.4 1.3-0.6 1.3 0.1 1.2 0.9 1.3 0.4 1.3-0.1 1.2-0.8 1.3-0.1 1.3 0.9 1.3 0.9 1.2-0.1 1.3 0.1 1.3 0 1.2 0 1.3-0.3 1.3 0.3 1.3-0.4 1.2 0 1.3 0.2 1.3 0.6 1.3 0.2 1.2-0.4 1.3-0.2 1.3-0.1 1.2 0 1.3 0 1.3 0.3 1.3-0.3 1.2 0.2 1.3 0 1.3 0.3 1.2-0.4 1.3 0.5 1.3 0.1 1.3 0 1.2 0.3 1.3 0.1 1.3-0.2 1.2 0 1.3 0.4 1.3 0 1.3-0.6 1.2-0.1 1.3 0.2 1.3 0.1 1.3 0.3 1.2 0 1.3-0.2 1.3-0.2 1.2 0.2 1.3 0.4 1.3-0.2 1.3-0.2 1.2 0.3 1.3 0.1 1.3-0.1 1.2-0.3 1.3 0.5 1.3 0.1 1.3-0.1 1.2-0.3 1.3-0.3 1.3 0 1.2 0.1 1.3 1.1 1.3 0.8 1.3 0.1 1.2-0.6 1.3 0.1 1.3 0.6"/>
<path d="M124.2 148.7l1.3-0.5 1.2 0.1 1.3 0.9 1.3 0.1 1.3-0.7 1.2-0.6 1.3 1 1.3 0.9 1.2-0.1 1.3-1.6 1.3-1.5 1.3-0.3 1.2 1.3 1.3 0.9 1.3-0.8 1.2-1.8 1.3-1.8 1.3-0.6 1.3 0.3 1.2-0.1 1.3 1.1 1.3 0.5 1.2 0.8 1.3-0.9 1.3-0.4 1.3-1.1 1.2-2.1 1.3 0 1.3 1.2 1.3 1.3 1.2-0.6 1.3-0.2 1.3 0.3 1.2 0.1 1.3-1 1.3-0.8 1.3 0.5 1.2-0.2 1.3 0 1.3 0.7 1.2 1.2 1.3-1.4 1.3-1.1 1.3-0.6 1.2 0.2 1.3 0.5 1.3-0.7 1.2-0.6 1.3 0.8 1.3 1.8 1.3-3 1.2-0.9 1.3 0.2 1.3-0.1 1.3-1.2 1.2-0.2 1.3 0.7 1.3 0.1 1.2 0.5 1.3-2.4 1.3-3.2 1.3-6.5 1.2-4.8 1.3-6.8 1.3-6.4 1.2-10.1 1.3-7.5 1.3-1.7 1.3 0.8 1.2 1.9 1.3 1.7 1.3 2 1.2-3.8 1.3-2.1 1.3 2.2 1.3 1.1 1.2 1.6 1.3 1.6 1.3 4.6 1.3 4.6 1.2 4.6 1.3 3 1.3 6.3 1.2 5.1 1.3 3.7 1.3 1.4 1.3 0.3 1.2 1 1.3 2.1 1.3 2 1.2 1.4 1.3-1.1 1.3-1.1 1.3 0.1 1.2 0.8 1.3 1.1 1.3-0.5 1.2-1 1.3 0.6 1.3-0.3 1.3 0.7 1.2 0.8 1.3-0.7 1.3-1 1.3 1.2 1.2 1.3 1.3-0.2 1.3-1 1.2-0.2 1.3 0.2 1.3 0.9 1.3 0.3 1.2-0.2 1.3-3.5 1.3-3.3 1.2 5.4 1.3 2.7 1.3 1 1.3 0.2 1.2 2.6 1.3-1.2 1.3-1.4 1.2-2.4 1.3 1.2 1.3 1.4 1.3 1.3 1.2 1.8 1.3-1 1.3-1 1.3 0.1 1.2 0.6 1.3 0.1 1.3 0.2 1.2 1 1.3 0.2 1.3-0.3 1.3-1.6 1.2-3.3 1.3-6.4 1.3-7.1 1.2-6.7 1.3-5.1 1.3-4.8 1.3-5.9 1.2-5.5 1.3-5.8 1.3-4.2 1.2-5.4 1.3-5.7 1.3-4.8 1.3-5.1 1.2-4.3 1.3-1.8 1.3 2.9 1.3 2 1.2 0.9 1.3 0.2 1.3 0.5 1.2-0.2 1.3-0.3 1.3 3.3 1.3 5.7 1.2 7.1 1.3 7.1 1.3 8.6 1.2 8.5 1.3 7.5 1.3 7.3 1.3 6.6 1.2 5.3 1.3 3.6 1.3 3.6 1.2 2.9 1.3 3.2 1.3 1.8 1.3 1.3 1.2 0.2 1.3 1 1.3 0.9 1.3 1 1.2 0.8 1.3 1.2 1.3 0.3 1.2-0.6 1.3 0 1.3-0.1 1.3 0.6 1.2 0.1 1.3 1 1.3 0 1.2 0 1.3 0.2 1.3 0.2 1.3 0.1 1.2-0.1 1.3 0.1 1.3 0.4 1.2 0.4 1.3-0.1 1.3-0.8 1.3-0.4 1.2 0.2 1.3 0 1.3-0.1 1.3 0.9 1.2 0.3 1.3 0 1.3 0.2 1.2 1 1.3-0.1 1.3-0.6 1.3-0.5 1.2 0.2 1.3 0.2 1.3-0.1 1.2 0.1 1.3 0.5 1.3 0.1 1.3 0 1.2-0.1 1.3 0.2 1.3 0.1 1.2 0.6 1.3 0.1 1.3-0.3 1.3 0.1 1.2 0.1 1.3-0.1 1.3 0.6 1.3 0.7 1.2-0.2 1.3-0.9 1.3 0.5 1.2 0.5 1.3 0.5 1.3-0.3 1.3-0.2 1.2 0.2 1.3 0 1.3-0.7 1.2-1 1.3 0 1.3 0.4 1.3 0.7 1.2-0.2 1.3 0.2 1.3-0.3 1.2 0.4 1.3 0 1.3 0 1.3 0 1.2 0.2 1.3 0.4 1.3-0.5 1.3-0.4 1.2 0.2 1.3 0.7 1.3 0.3 1.2 0.1 1.3 0.1 1.3 0.3 1.3-0.9 1.2-0.7 1.3-0.2 1.3 0.9 1.2 0.4 1.3 0.2 1.3 0.3 1.3-0.3 1.2-0.4 1.3 0.2 1.3 0.3 1.2 0.1 1.3-0.6 1.3 0.5 1.3 0.2 1.2 0.4 1.3-0.3"/>
<path d="M126.8 142.9l1.2-0.3 1.3 0.7 1.3-0.6 1.2 0 1.3-0.1 1.3 0.1 1.3-0.1 1.2 0.6 1.3 0.3 1.3-0.2 1.3-0.3 1.2 0 1.3 0.2 1.3-0.4 1.2-1.4 1.3-1.2 1.3-0.2 1.3 0 1.2-0.6 1.3-0.3 1.3 0.9 1.2 0.6 1.3 0.1 1.3 0.2 1.3 1.4 1.2-1.4 1.3-1.2 1.3-0.9 1.2 1.2 1.3-1.6 1.3-0.6 1.3-0.2 1.2-0.1 1.3 0.6 1.3 0.2 1.3 0.3 1.2-1.4 1.3-1.2 1.3-0.1 1.2 1.4 1.3 1.9 1.3-1 1.3-1.5 1.2-1 1.3-0.3 1.3 0.5 1.2-0.6 1.3-0.2 1.3 1.8 1.3 1.8 1.2-2.7 1.3-0.9 1.3 0.7 1.2-0.6 1.3-1.2 1.3 0.1 1.3 0.2 1.2-0.7 1.3-0.6 1.3-0.9 1.3-2.4 1.2-5.9 1.3-5.8 1.3-5.6 1.2-5.7 1.3-9.6 1.3-7 1.3-4.4 1.2-1.7 1.3 1.3 1.3 4.7 1.2 2.6 1.3-4.4 1.3-3 1.3 2.2 1.2 1.9 1.3 1.3 1.3 2 1.2 4.2 1.3 4.9 1.3 4.4 1.3 2.9 1.2 5.4 1.3 4.1 1.3 3.7 1.3 3 1.2 1.3 1.3 0.8 1.3 1.7 1.2 1.5 1.3 1.1 1.3-0.8 1.3-0.1 1.2-0.8 1.3-0.5 1.3 1.5 1.2-0.2 1.3-1.7 1.3-0.3 1.3 1.7 1.2 0.2 1.3 1.4 1.3-0.5 1.2 0.1 1.3-1.1 1.3-0.1 1.3 1.4 1.2 2.1 1.3 0.2 1.3-1.7 1.3-1.3 1.2 0.9 1.3 0.8 1.3 0.6 1.2 0.8 1.3 1.6 1.3 0.7 1.3 0.2 1.2-0.6 1.3 1.5 1.3-0.5 1.2-0.9 1.3-1.2 1.3 1.3 1.3 0.2 1.2-0.9 1.3 0.8 1.3-0.2 1.2 0.4 1.3 0.5 1.3 0.6 1.3 0.3 1.2 0.4 1.3 1.1 1.3 0.4 1.3-0.5 1.2-2.3 1.3-3.9 1.3-5.4 1.2-6.6 1.3-6.8 1.3-5.3 1.3-5.1 1.2-6.3 1.3-6.5 1.3-5.6 1.2-4.8 1.3-5.9 1.3-6.5 1.3-5.1 1.2-4.1 1.3-2.7 1.3-1.5 1.2 1 1.3 1.9 1.3 2 1.3 0.7 1.2-0.5 1.3-0.3 1.3 1.1 1.3 3.9 1.2 5.9 1.3 6.8 1.3 7.6 1.2 8.4 1.3 7.5 1.3 7 1.3 7.1 1.2 6.9 1.3 6 1.3 4.5 1.2 3.5 1.3 2.6 1.3 3 1.3 1.4 1.2 1.2 1.3 0.1 1.3 1.4 1.2 1 1.3 1.2 1.3 0 1.3 0.5 1.2-0.3 1.3-0.3 1.3-0.4 1.3 0.1 1.2 0 1.3 0.3 1.3 0.6 1.2 1 1.3 0.6 1.3 0.1 1.3 0.1 1.2 0.6 1.3 0.2 1.3-0.2 1.2 0 1.3 0.6 1.3 0.4 1.3-0.2 1.2-0.7 1.3-0.4 1.3 0.2 1.2 0 1.3 0.2 1.3 0.1 1.3 0.2 1.2 0.2 1.3 0.1 1.3 0.1 1.3 0 1.2 0.4 1.3 0.3 1.3 0.4 1.2-0.2 1.3-0.3 1.3 0.3 1.3 0.3 1.2 0.1 1.3-0.3 1.3 0 1.2 0.2 1.3 0.4 1.3 0.5 1.3-0.6 1.2-0.2 1.3 0.2 1.3 0.8 1.2 0.4 1.3 0.1 1.3-0.3 1.3-0.4 1.2 0 1.3 0.3 1.3 0.3 1.3 0.1 1.2-0.1 1.3 0.3 1.3 0.7 1.2-0.3 1.3-1 1.3-0.7 1.3 0.7 1.2 0.1 1.3-0.1 1.3-0.1 1.2 0.4 1.3 0.3 1.3-0.1 1.3-0.3 1.2-0.3 1.3 0.4 1.3 0.3 1.2 0.1 1.3-0.3 1.3 0.2 1.3 0.6 1.2 0.3 1.3-0.2 1.3 0 1.3 0.1 1.2-0.4 1.3-0.4 1.3-0.5 1.2 0.5 1.3 0 1.3 0.5 1.3-0.1 1.2 0.4 1.3-0.2 1.3 0 1.2 0.1 1.3 0.2 1.3 0.1 1.3 0.3 1.2 0"/>
<path d="M129.3 138.6l1.3-0.1 1.3 0.2 1.2-0.5 1.3 0.3 1.3 0.2 1.3 0.2 1.2-0.2 1.3 0 1.3 0 1.3-0.6 1.2-0.8 1.3-1 1.3-0.1 1.2 0.1 1.3 0.5 1.3-0.2 1.3-1.3 1.2-0.7 1.3 0.9 1.3 0.1 1.2 0.6 1.3 0.6 1.3 1.2 1.3-0.8 1.2-0.1 1.3-1.3 1.3-1.2 1.2-0.4 1.3 0.8 1.3 0 1.3-0.5 1.2 0.2 1.3-0.1 1.3 0 1.3-0.9 1.2-1.2 1.3-0.2 1.3-1 1.2-0.3 1.3 0.2 1.3 2.1 1.3-0.4 1.2-0.5 1.3-0.1 1.3-0.2 1.2 0.2 1.3-0.4 1.3-0.4 1.3 0.6 1.2 1.4 1.3-2.1 1.3-1.1 1.2-0.5 1.3-0.6 1.3 0.3 1.3 0 1.2-0.2 1.3-0.2 1.3 0.7 1.3-1.4 1.2-3.1 1.3-6.7 1.3-6.1 1.2-6.3 1.3-5.4 1.3-9.8 1.3-7.2 1.2-3.2 1.3-0.5 1.3 0.7 1.2 4.3 1.3 3.9 1.3-3.5 1.3-4.6 1.2 0.4 1.3 1.7 1.3 3.2 1.2 2 1.3 2.9 1.3 3.9 1.3 5 1.2 3.7 1.3 5.6 1.3 4.6 1.3 3.6 1.2 2.7 1.3 0.7 1.3 1.1 1.2 1.5 1.3 1.4 1.3 0.1 1.3-1.9 1.2 0.5 1.3 1.2 1.3 0.4 1.2 0.8 1.3 0.5 1.3-0.7 1.3-0.6 1.2 0.4 1.3-0.1 1.3 0.9 1.2 0.8 1.3 1.2 1.3 0.1 1.3-0.7 1.2-0.2 1.3-0.2 1.3 0.3 1.3 0.4 1.2 0.9 1.3 0 1.3-0.3 1.2-1.4 1.3 1.5 1.3 0.6 1.3 0.4 1.2-0.7 1.3 1.3 1.3 1.7 1.2-1.2 1.3-1.1 1.3 0 1.3 1.7 1.2 1.2 1.3-0.2 1.3 0.5 1.2-2.3 1.3-0.2 1.3 1 1.3 1.3 1.2 0.1 1.3-0.8 1.3 0.7 1.3 0.7 1.2 1.2 1.3-1.3 1.3-3.9 1.2-7 1.3-7.1 1.3-6 1.3-4.7 1.2-5.5 1.3-5.4 1.3-5.5 1.2-6.3 1.3-6.7 1.3-6.6 1.3-5.7 1.2-5.2 1.3-4.4 1.3-2.5 1.2 0.1 1.3 2.5 1.3 1.4 1.3 0.3 1.2-0.5 1.3 0.4 1.3 0.3 1.3 1.1 1.2 3.2 1.3 5.4 1.3 7.2 1.2 7.5 1.3 8.8 1.3 7.9 1.3 7.8 1.2 7.2 1.3 6.9 1.3 5.7 1.2 3.5 1.3 3.3 1.3 3.3 1.3 3.3 1.2 1 1.3 0.5 1.3 0.2 1.2 1 1.3 1 1.3 1.3 1.3 0.1 1.2 0 1.3-0.2 1.3 0.1 1.3 0 1.2 0.3 1.3 0.6 1.3 0.1 1.2 0 1.3 0.5 1.3 0.2 1.3-0.3 1.2 0.1 1.3 0.6 1.3 0.7 1.2 0 1.3 0.1 1.3 0.3 1.3 0.2 1.2-0.3 1.3-0.5 1.3 0.4 1.2 0.9 1.3 0.7 1.3-0.4 1.3-0.6 1.2-0.6 1.3 0.5 1.3 0.3 1.3 0.4 1.2-0.4 1.3-0.2 1.3-0.1 1.2 0.3 1.3-0.1 1.3 0.7 1.3 0.7 1.2 0.3 1.3 0.1 1.3-0.3 1.2 0.1 1.3 0.3 1.3 0.4 1.3-0.2 1.2-0.2 1.3-0.1 1.3-0.2 1.2 0.1 1.3 0.3 1.3 0.2 1.3 0.1 1.2-0.4 1.3-0.2 1.3 0.3 1.3 0.6 1.2 0.2 1.3-0.4 1.3-0.4 1.2 0.3 1.3 0.3 1.3-0.4 1.3-0.6 1.2 0.8 1.3 0.7 1.3 0 1.2-0.4 1.3 0 1.3 0.1 1.3 0.1 1.2 0.2 1.3-0.2 1.3-0.1 1.2-0.1 1.3-0.1 1.3 0.1 1.3 0 1.2 0.4 1.3 0.1 1.3 0.5 1.3 0.3 1.2 0.4 1.3-0.9 1.3-1 1.2 0 1.3 0.7 1.3 0.7 1.3 0.2 1.2-0.1 1.3-0.6 1.3-0.3 1.2 0 1.3-0.2 1.3 0.3 1.3 0.2"/>
</g>
<path d="M54.80 88.45V313.20H437.40" fill="none" stroke="#000" stroke-width="2.1"/>
<path d="M54.80 313.20v3.3M80.24 313.20v5.3M105.68 313.20v3.3M131.12 313.20v5.3M156.56 313.20v3.3M182.00 313.20v5.3M207.44 313.20v3.3M232.88 313.20v5.3M258.32 313.20v3.3M283.76 313.20v5.3M309.20 313.20v3.3M334.64 313.20v5.3M360.08 313.20v3.3M385.52 313.20v5.3M410.96 313.20v3.3M436.40 313.20v5.3M54.80 313.20h-5.6M54.80 290.82h-3.4M54.80 268.45h-5.6M54.80 246.07h-3.4M54.80 223.70h-5.6M54.80 201.32h-3.4M54.80 178.95h-5.6M54.80 156.57h-3.4M54.80 134.20h-5.6M54.80 111.83h-3.4M54.80 89.45h-5.6" fill="none" stroke="#000" stroke-width="2.1"/>
<text x="80.2" y="330.9" text-anchor="middle" font-size="13.5">16</text>
<text x="131.1" y="330.9" text-anchor="middle" font-size="13.5">18</text>
<text x="182.0" y="330.9" text-anchor="middle" font-size="13.5">20</text>
<text x="232.9" y="330.9" text-anchor="middle" font-size="13.5">22</text>
<text x="283.8" y="330.9" text-anchor="middle" font-size="13.5">24</text>
<text x="334.6" y="330.9" text-anchor="middle" font-size="13.5">26</text>
<text x="385.5" y="330.9" text-anchor="middle" font-size="13.5">28</text>
<text x="436.4" y="330.9" text-anchor="middle" font-size="13.5">30</text>
<text x="47.2" y="316.6" text-anchor="end" font-size="13.5">0</text>
<text x="47.2" y="271.8" text-anchor="end" font-size="13.5">20</text>
<text x="47.2" y="227.1" text-anchor="end" font-size="13.5">40</text>
<text x="47.2" y="182.3" text-anchor="end" font-size="13.5">60</text>
<text x="47.2" y="137.6" text-anchor="end" font-size="13.5">80</text>
<text x="47.2" y="92.9" text-anchor="end" font-size="13.5">100</text>
<clipPath id="clip1"><rect x="574.5" y="0" width="446.5" height="720"/></clipPath>
<g clip-path="url(#clip1)" fill="none" stroke="#000" stroke-width="2.2" stroke-linejoin="round">
<path d="M576.5 288.4l1.3 0.5 1.4-0.2 1.3 0.1 1.4-0.3 1.3 0.2 1.4-0.1 1.3 0.3 1.3 0.8 1.4-1.3 1.3-2.3 1.4-1.2 1.3 1.4 1.4 0.2 1.3-1.7 1.4 0.5 1.3 0.2 1.3-0.2 1.4-0.3 1.3 0.2 1.4-0.8 1.3-0.2 1.4 0.3 1.3-1.1 1.3-3.1 1.4 0.3 1.3 3 1.4 1 1.3-1.2 1.4-0.8 1.3-2 1.3 0.1 1.4-0.8 1.3 0.2 1.4-1.7 1.3 0.7 1.4 0.1 1.3 0.1 1.4-0.7 1.3-0.6 1.3-0.2 1.4 0.6 1.3-0.7 1.4-2.3 1.3-1.3 1.4 0.2 1.3 0.7 1.3 0.7 1.4 1.4 1.3-0.1 1.4-2.7 1.3-0.8 1.4-0.5 1.3-0.2 1.3-1.2 1.4 0.3 1.3-0.3 1.4 0.3 1.3-0.1 1.4 0.8 1.3-0.7 1.4-1.1 1.3-0.3 1.3 1.5 1.4 0.4 1.3-0.8 1.4-1.3 1.3-0.9 1.4-1.8 1.3-1.3 1.3-1 1.4-0.3 1.3 0 1.4 1.6 1.3-1.9 1.4 0.8 1.3-0.9 1.3-2 1.4-1.7 1.3-1.1 1.4 2.2 1.3-1 1.4-1.6 1.3 0.2 1.4 1.4 1.3-1.1 1.3-5.1 1.4-3.4 1.3 5 1.4 2.5 1.3-1.2 1.4-0.3 1.3-1.6 1.3 2.1 1.4 1.1 1.3-1.9 1.4-0.5 1.3 1.1 1.4 0.2 1.3-4.4 1.4-1.1 1.3 1.2 1.3 4.2 1.4 1.7 1.3-1.7 1.4-1.5 1.3-0.5 1.4 4.2 1.3 3.3 1.3 0.5 1.4-1.2 1.3 3 1.4 0.3 1.3 0.1 1.4-0.2 1.3-0.4 1.3-0.8 1.4-3 1.3 2.2 1.4 2.5 1.3 1.5 1.4-1.2 1.3 0.6 1.4 1.4 1.3-2.7 1.3-1.3 1.4 1.9 1.3 1.2 1.4 1.5 1.3 0.7 1.4 0.5 1.3-1.3 1.3 0.1 1.4 0 1.3 0.8 1.4 2.3 1.3 0.3 1.4-0.2 1.3-0.9 1.3 1.7 1.4 2.4 1.3 1.8 1.4 0.7 1.3-2.1 1.4-2.2 1.3-2.2 1.4 2.4 1.3 0.5 1.3 0.3 1.4-0.1 1.3 1.6 1.4 1.5 1.3 1.9 1.4 0.9 1.3-0.3 1.3-0.9 1.4 0.1 1.3-0.1 1.4 0.5 1.3 1.5 1.4 1.5 1.3 0.7 1.3 0.6 1.4 0.3 1.3-0.9 1.4 0 1.3 0.7 1.4-1.3 1.3-0.9 1.4 0.6 1.3 3.4 1.3 1.2 1.4 0.4 1.3 0 1.4 1.1 1.3 0.2 1.4-0.4 1.3 0.1 1.3-0.2 1.4-0.5 1.3-0.4 1.4 1.1 1.3 1.2 1.4 0.6 1.3-0.5 1.3 0.6 1.4 1 1.3 0.2 1.4-0.6 1.3-0.3 1.4 0.5 1.3 1 1.4 1.2 1.3 1 1.3-0.3 1.4 0 1.3-0.2 1.4-0.1 1.3 0.1 1.4 0.8 1.3 1.1 1.3 0 1.4-0.8 1.3-0.4 1.4 0.6 1.3 0.8 1.4 0 1.3 0.2 1.3 0.5 1.4 1.3 1.3-0.3 1.4-0.5 1.3-0.4 1.4 1.1 1.3 0.3 1.4-0.4 1.3-0.4 1.3 0.2 1.4 0.4 1.3 0.5 1.4-0.9 1.3-0.4 1.4 0.5 1.3 1.1 1.3 0.5 1.4-0.3 1.3-0.5 1.4-0.8 1.3 0.3 1.4 0.5 1.3 0.5 1.3-0.2 1.4 0.3 1.3 0.5 1.4 0.6 1.3 0.7 1.4-0.5 1.3-0.3 1.4-0.3 1.3 0.6 1.3 0.3 1.4 0.2 1.3-0.1 1.4-0.4 1.3-0.3 1.4-0.2 1.3-0.1 1.3 0.2 1.4-0.1 1.3 0.3 1.4 0.1 1.3-0.1 1.4 0 1.3 1 1.3 0.4 1.4-0.2 1.3-0.6 1.4-0.1 1.3-0.5 1.4-0.3 1.3 0 1.4 0.6 1.3 0.5 1.3 0.2 1.4 0.1 1.3 0 1.4 0.5 1.3-0.2 1.4 0.3 1.3 0.1 1.3 0.2 1.4-0.1 1.3-0.3 1.4 0 1.3 0 1.4-0.2 1.3-0.5 1.3-0.4 1.4 0.3 1.3-0.1 1.4 0.3 1.3 0.4 1.4 0.6 1.3-0.3 1.4-0.2 1.3-0.1 1.3 0.4 1.4 0.7 1.3-0.3 1.4-1.1 1.3-0.3 1.4 0.1 1.3 0.5 1.3 0 1.4 0.2 1.3-0.2 1.4 0.2 1.3 0.1 1.4 0.2 1.3-0.1 1.4 0.1"/>
<path d="M579.2 282.7l1.4 0.3 1.3 0.5 1.4-0.3 1.3-0.3 1.3 0.3 1.4 0.3 1.3-0.7 1.4-1 1.3-1.7 1.4 0.3 1.3 0.9 1.4 0.8 1.3-1.2 1.3-1.5 1.4 1.7 1.3-0.4 1.4-2 1.3-0.2 1.4 0.8 1.3-0.6 1.3-1.2 1.4 0.5 1.3-1.4 1.4-3.5 1.3 0.9 1.4 4.2 1.3 1.2 1.3-0.5 1.4-1.2 1.3-1.1 1.4-1.8 1.3-1.2 1.4-0.9 1.3 0.6 1.4 1 1.3-0.3 1.3-1 1.4-0.2 1.3-0.3 1.4 0.7 1.3-0.6 1.4-0.2 1.3-1.8 1.3-0.5 1.4-0.7 1.3-0.3 1.4-1.1 1.3 0.6 1.4 2.4 1.3-0.2 1.3-2.1 1.4-2.4 1.3-1.1 1.4 0.5 1.3 1.7 1.4 2.1 1.3 0.4 1.4-1.9 1.3-1.6 1.3-0.3 1.4 1.4 1.3 1.3 1.4-0.8 1.3-0.4 1.4-0.5 1.3-0.9 1.3-2.8 1.4-1.6 1.3-1.3 1.4-1.3 1.3 0.8 1.4 3.4 1.3 0.4 1.3-3 1.4-2.7 1.3-0.7 1.4-2.4 1.3-1.2 1.4-2.9 1.3 2 1.4 2.8 1.3 0.3 1.3-1.5 1.4-3.6 1.3-1.3 1.4-2.2 1.3-1.4 1.4 3.3 1.3 2.9 1.3 1.2 1.4 1.3 1.3-0.5 1.4-0.6 1.3 1.5 1.4-2.3 1.3 1.6 1.3 0.6 1.4-1 1.3-5.2 1.4-1.2 1.3 1.8 1.4 3.5 1.3 0.2 1.4 1.1 1.3 0.1 1.3 0.9 1.4 0.4 1.3 1.5 1.4 0.8 1.3 0.3 1.4 0.9 1.3-0.5 1.3 1.2 1.4 0.7 1.3-2.5 1.4-1.6 1.3 0.7 1.4 3.4 1.3 1.3 1.4 0.4 1.3-0.2 1.3 1.8 1.4 1.2 1.3-1.5 1.4-1.5 1.3 0.5 1.4-0.5 1.3-0.4 1.3 0.8 1.4-0.5 1.3-1.5 1.4-0.1 1.3 0.4 1.4 2.6 1.3 3 1.3 2.1 1.4-0.2 1.3 0 1.4-0.1 1.3 1.6 1.4 1.3 1.3 0 1.4-0.6 1.3 0.3 1.3 0.5 1.4 0.6 1.3-1.1 1.4-0.2 1.3 0.8 1.4 2.3 1.3 0.9 1.3 0.6 1.4 0.9 1.3 0.8 1.4-1.1 1.3-0.8 1.4-0.2 1.3 0.4 1.3 0.5 1.4 1.2 1.3 0.4 1.4 0.2 1.3 0.4 1.4 1.1 1.3-0.2 1.4 1.3 1.3 0.7 1.3-0.1 1.4-1.1 1.3 0 1.4 2 1.3 1.4 1.4 1.7 1.3-0.5 1.3-0.2 1.4-0.1 1.3 1 1.4 0.1 1.3 0 1.4-1 1.3-0.3 1.3 0.4 1.4 1.2 1.3 0.7 1.4 0.2 1.3-0.2 1.4 0.1 1.3 0.9 1.4 0.3 1.3-0.4 1.3-1.3 1.4 0.4 1.3 1.6 1.4 1.6 1.3 0.9 1.4-0.4 1.3-0.3 1.3-0.3 1.4 0.7 1.3 0.7 1.4 0.3 1.3-0.3 1.4-1 1.3 0.1 1.3 0.3 1.4 1.1 1.3 0.8 1.4 0.6 1.3-0.2 1.4-0.3 1.3-0.3 1.4-0.5 1.3 0 1.3 0.7 1.4 1 1.3 0.4 1.4-0.4 1.3 0 1.4 0.2 1.3 0.2 1.3-0.3 1.4 0.7 1.3 0.6 1.4 0.1 1.3 0 1.4 0.3 1.3-0.4 1.3-1.2 1.4 0.5 1.3 1.6 1.4 0.7 1.3-0.8 1.4-0.8 1.3-0.3 1.4 0 1.3 0.8 1.3 0.4 1.4-0.5 1.3-0.7 1.4 0.4 1.3 1 1.4-0.1 1.3-0.5 1.3 0 1.4 0.5 1.3 0.5 1.4 0.2 1.3-0.6 1.4-0.5 1.3 0.1 1.3 0.3 1.4-0.2 1.3 0.4 1.4 0.8 1.3 0.3 1.4 0 1.3-0.4 1.4-0.2 1.3 0.1 1.3-0.2 1.4-0.3 1.3-0.3 1.4 0 1.3-0.2 1.4 0.5 1.3 0.8 1.3 0.1 1.4-0.2 1.3-0.7 1.4-0.5 1.3-0.2 1.4 0.6 1.3 0.2 1.3 0.6 1.4 0.3 1.3 0.1 1.4-0.3 1.3 0.3 1.4 0.1 1.3 0.3 1.4-0.3 1.3-0.1 1.3-0.3 1.4-0.3 1.3-0.1 1.4 0.3 1.3 0.5 1.4-0.1 1.3-0.3 1.3 0.3 1.4 1 1.3 0.2 1.4-0.9 1.3-0.3 1.4 0.2 1.3 0.4 1.3-0.4 1.4 0.3 1.3-0.3 1.4 0.2"/>
<path d="M582.0 276.8l1.3-0.7 1.3 0.8 1.4 0.1 1.3-0.2 1.4-0.7 1.3 0.2 1.4-0.1 1.3-0.3 1.4-0.9 1.3 0.7 1.3 0.8 1.4 0.9 1.3-1.4 1.4-1.2 1.3 0.3 1.4 0.4 1.3-0.4 1.3 0.9 1.4-0.4 1.3-0.8 1.4-0.7 1.3-0.1 1.4-3 1.3-3.5 1.3 1.8 1.4 2.8 1.3-0.9 1.4-1.1 1.3 1.7 1.4-0.1 1.3-1.2 1.4-2.8 1.3 0.3 1.3 1 1.4 2 1.3-1.1 1.4-1.5 1.3-1.4 1.4 0.1 1.3 1 1.3 0 1.4-0.9 1.3-1.3 1.4 0.2 1.3 0.1 1.4-0.1 1.3-0.9 1.3-0.3 1.4-0.1 1.3-1.9 1.4-0.1 1.3-0.6 1.4 0.5 1.3 0.2 1.4 0.4 1.3-1.2 1.3-1.1 1.4-0.2 1.3 1.4 1.4-0.2 1.3-0.2 1.4-1.2 1.3 1 1.3 0.1 1.4 0.8 1.3-2.9 1.4-1.6 1.3-1.1 1.4 1 1.3-1.1 1.3-1.3 1.4-0.5 1.3 0.4 1.4-1.1 1.3 0.3 1.4-1.3 1.3-3.1 1.4-1.4 1.3-0.9 1.3 3.4 1.4 2 1.3 0.8 1.4-1.5 1.3-3.1 1.4-1.5 1.3-1.7 1.3-1.5 1.4 4.1 1.3 2 1.4 1.2 1.3-0.1 1.4-1.8 1.3-2.8 1.3-0.3 1.4-1.5 1.3 2.3 1.4 1.2 1.3-1.1 1.4-2.3 1.3 0.4 1.4 1.2 1.3 1.4 1.3 1.4 1.4 1.6 1.3 0.7 1.4-1 1.3 0.2 1.4 1.1 1.3-0.2 1.3 0.1 1.4 2.1 1.3 0 1.4 0.9 1.3 1.1 1.4-0.9 1.3-1.5 1.3-1.3 1.4 2.2 1.3 0.7 1.4 0.9 1.3-0.9 1.4-0.2 1.3 0.5 1.4-1.2 1.3-0.1 1.3 0.3 1.4 0.3 1.3-0.3 1.4 0.7 1.3 0.6 1.4 0.4 1.3 0.7 1.3-0.8 1.4-0.3 1.3 0.3 1.4 1.8 1.3 3.2 1.4 1 1.3-0.3 1.4 1.5 1.3 1.2 1.3-0.2 1.4-0.2 1.3 2.2 1.4-0.6 1.3-0.5 1.4-0.9 1.3 1.1 1.3 0.8 1.4 0.2 1.3-0.2 1.4-0.8 1.3 0.7 1.4 0.9 1.3 1.4 1.3 0.2 1.4 1.4 1.3 1.1 1.4 0.3 1.3 0.5 1.4 1.2 1.3 1.1 1.4-1.5 1.3-0.1 1.3 1.2 1.4 2 1.3-0.8 1.4-1.4 1.3 0.4 1.4 1 1.3 1.2 1.3 0.4 1.4-0.3 1.3-0.8 1.4 0.2 1.3 1.6 1.4 0.9 1.3 0.5 1.3 0.9 1.4-0.3 1.3-0.9 1.4-0.3 1.3 0.8 1.4 0.8 1.3-0.3 1.4 0.6 1.3-0.2 1.3 0.5 1.4-0.6 1.3-0.1 1.4 0.3 1.3 1 1.4 1.6 1.3 0.8 1.3 0.7 1.4 0.5 1.3-0.1 1.4-0.8 1.3-0.4 1.4 0.9 1.3 0.4 1.3 0.4 1.4 0.4 1.3-0.1 1.4-0.6 1.3-0.9 1.4 1 1.3 0.2 1.4 0.9 1.3-1.2 1.3-0.2 1.4 0.1 1.3 1.4 1.4 0.3 1.3 0 1.4-0.3 1.3 0.1 1.3 0 1.4 0.2 1.3 0.2 1.4 0.7 1.3 0.1 1.4 0.3 1.3-0.4 1.3 0.1 1.4-0.1 1.3 0.1 1.4 0.1 1.3 0 1.4 0.5 1.3-0.6 1.4 0.2 1.3 0.7 1.3 1.5 1.4 0.4 1.3-0.6 1.4-1.3 1.3-0.5 1.4 0.6 1.3 0.5 1.3-0.2 1.4 0 1.3 0.3 1.4 0 1.3 0 1.4-0.1 1.3 0.3 1.3 0 1.4 0.4 1.3-0.5 1.4-0.8 1.3-0.4 1.4 0.8 1.3 1.1 1.4 0.4 1.3-0.2 1.3-0.3 1.4 0.3 1.3 0.2 1.4 0.2 1.3-0.6 1.4-0.5 1.3-0.2 1.3 0.2 1.4 0.2 1.3 0.5 1.4 0.3 1.3-0.2 1.4-0.2 1.3 0 1.3 0.1 1.4-0.3 1.3 0.4 1.4 0.6 1.3 0.3 1.4-0.2 1.3-0.3 1.4 0.1 1.3-0.2 1.3-0.3 1.4-0.1 1.3 0.3 1.4 0 1.3 0 1.4 0.2 1.3 0 1.3 0.3 1.4-0.2 1.3-0.1 1.4 0 1.3 0.7 1.4 0.4 1.3-0.4 1.3-0.1 1.4-0.2 1.3-0.4 1.4-0.5 1.3 0.8 1.4 1 1.3 0.2"/>
<path d="M584.7 271.5l1.3-0.2 1.4 1.1 1.3 0.7 1.4-0.2 1.3-1 1.4 0.1 1.3 0.5 1.3 0.7 1.4-0.8 1.3-1 1.4-1.2 1.3 0.7 1.4-0.6 1.3-1.6 1.3 1.1 1.4 1.6 1.3-0.1 1.4-0.8 1.3-1.3 1.4-0.3 1.3-0.8 1.3 0.3 1.4-0.5 1.3-2.2 1.4 0.4 1.3 1.1 1.4-0.1 1.3-0.8 1.4 0.6 1.3-0.2 1.3-1.5 1.4-1.7 1.3-0.3 1.4 0.6 1.3 1.5 1.4-1 1.3-1.2 1.3-1 1.4 0.7 1.3 0.3 1.4 0 1.3 0.5 1.4-1.4 1.3-1.2 1.3-1.9 1.4-0.4 1.3 0.8 1.4 1.6 1.3 1.3 1.4-2.2 1.3-1.2 1.4-1.1 1.3 0.1 1.3-0.2 1.4 0.1 1.3 0.1 1.4-0.1 1.3-1.6 1.4 0.3 1.3 0.3 1.3-0.8 1.4-1.7 1.3-0.7 1.4-0.4 1.3 0.7 1.4-0.3 1.3-0.2 1.3-1.8 1.4-0.9 1.3-1.2 1.4 0.4 1.3 0.7 1.4 0.8 1.3-1.1 1.4-0.1 1.3-0.5 1.3-2.7 1.4-2 1.3-3.1 1.4 4.1 1.3 2 1.4-0.9 1.3-1.4 1.3-0.4 1.4-1.9 1.3-2.7 1.4-3.2 1.3 5 1.4 1.4 1.3 0.8 1.3-0.9 1.4 0.5 1.3 0 1.4 0.7 1.3-2.8 1.4 1.6 1.3 1.2 1.4-1.3 1.3-5.4 1.3-1.8 1.4 2.6 1.3 4.3 1.4 2.2 1.3 0.6 1.4 2.3 1.3-1.5 1.3-1.1 1.4-0.5 1.3 2.3 1.4-0.2 1.3 1.6 1.4 0.3 1.3 1.2 1.3 0.9 1.4-1.5 1.3-0.9 1.4-0.9 1.3 3.3 1.4 1.6 1.3-0.5 1.4-2.1 1.3-0.8 1.3 1.3 1.4-1.8 1.3-1.7 1.4 0.7 1.3 1.5 1.4-0.4 1.3-1 1.3-0.5 1.4-0.1 1.3-0.2 1.4-1.1 1.3 2.5 1.4 2.8 1.3 2.2 1.3 0.7 1.4 0.5 1.3 1.5 1.4 1.2 1.3 1.4 1.4-1.1 1.3 0.8 1.4-0.5 1.3 0.5 1.3-0.2 1.4 0.5 1.3-0.1 1.4 1.1 1.3 0.8 1.4 1.5 1.3 0.8 1.3 1.1 1.4 0.4 1.3 0.7 1.4-1 1.3 0.3 1.4 0.7 1.3 1.8 1.4 0.7 1.3 0.3 1.3-0.6 1.4-1.1 1.3 0.3 1.4 1.7 1.3 1.5 1.4-0.2 1.3-0.3 1.3 0.8 1.4 0.8 1.3 0.1 1.4 0.5 1.3 0.7 1.4 0.8 1.3-0.3 1.3 0 1.4-0.2 1.3 0 1.4 0.1 1.3 0.5 1.4 0.5 1.3 1 1.4 0.2 1.3-0.1 1.3-0.3 1.4-0.1 1.3-0.7 1.4 0.3 1.3 0.7 1.4 1 1.3 0.5 1.3 1.2 1.4 0.6 1.3 0.1 1.4-0.5 1.3 0 1.4 0.4 1.3-0.1 1.3-0.3 1.4 0.1 1.3 0.7 1.4 0.6 1.3 0.7 1.4 0.4 1.3 0.1 1.4-0.2 1.3-0.3 1.3-0.3 1.4 0.8 1.3 0.4 1.4-0.6 1.3-0.7 1.4 0.7 1.3 0.6 1.3 0.4 1.4-0.2 1.3 0.6 1.4 0.2 1.3 0.8 1.4-0.1 1.3 0.3 1.3-0.1 1.4-0.4 1.3 0.1 1.4 0.7 1.3 0.5 1.4-1 1.3-0.6 1.4 0.5 1.3 0.5 1.3-0.4 1.4-0.1 1.3-0.1 1.4 0.7 1.3 0.5 1.4 0.8 1.3-0.2 1.3 0.1 1.4-0.4 1.3-0.2 1.4-0.4 1.3 0.2 1.4 0.1 1.3-0.1 1.3-0.4 1.4 0 1.3 0.2 1.4 0.3 1.3 0.9 1.4 0.6 1.3 0.2 1.4 0.2 1.3 0.4 1.3-0.3 1.4-0.2 1.3-0.1 1.4 0.1 1.3-0.2 1.4 0 1.3-0.1 1.3-0.2 1.4-0.1 1.3 0.2 1.4 0.1 1.3 0.3 1.4 0.1 1.3-0.2 1.3-0.4 1.4 0.3 1.3 0.7 1.4-0.2 1.3-0.4 1.4-0.3 1.3 0.6 1.4 0 1.3-0.3 1.3 0 1.4-0.1 1.3 0.2 1.4-0.3 1.3-0.2 1.4-0.6 1.3 0.7 1.3 0.3 1.4 0 1.3-0.2 1.4 0.8 1.3 0.2 1.4-0.5 1.3 0.1 1.3 0.4 1.4 0 1.3-0.8 1.4-0.5 1.3 0 1.4 0.4 1.3 0.5 1.4 0.6 1.3-0.2 1.3-0.1"/>
<path d="M587.4 265.2l1.4 0 1.3 1.4 1.4 1.1 1.3-0.2 1.3-0.7 1.4-0.6 1.3-0.5 1.4 1.1 1.3 0.4 1.4-1.2 1.3-1.7 1.3 0.4 1.4 0.1 1.3-1.4 1.4 0.7 1.3 0.9 1.4 0.2 1.3 0.2 1.3-1.6 1.4-1.9 1.3-0.8 1.4 0.8 1.3-1 1.4-2.2 1.3 0.8 1.4 1.9 1.3-0.6 1.3-0.5 1.4 1.2 1.3-0.1 1.4-1.4 1.3-2 1.4 0.3 1.3 0.7 1.3 1.4 1.4 0 1.3-0.6 1.4-0.9 1.3-1 1.4 0 1.3-0.7 1.3 0.7 1.4-1.3 1.3-1.8 1.4-1.6 1.3 0.4 1.4 0.8 1.3 0.6 1.4 1 1.3-0.7 1.3-0.2 1.4-2.1 1.3-1.2 1.4-0.3 1.3-0.2 1.4 0.3 1.3 0.1 1.3-0.7 1.4 0 1.3 1.1 1.4 0 1.3-0.7 1.4 0.6 1.3-0.1 1.3-1.6 1.4-1.5 1.3-0.3 1.4-0.5 1.3-0.8 1.4-2.7 1.3-1.2 1.4 1.3 1.3 1.9 1.3-1 1.4-3.1 1.3-0.6 1.4-1.5 1.3 0.1 1.4-4.6 1.3 2.2 1.3 2.6 1.4 0.7 1.3-1.5 1.4-1.8 1.3-1.1 1.4-2.2 1.3-2.6 1.3 4.1 1.4 2.8 1.3-0.4 1.4 0.1 1.3 0.7 1.4 2.3 1.3 0.1 1.4-3 1.3 0.5 1.3 0.6 1.4-1.4 1.3-3.4 1.4-1.4 1.3 1.2 1.4 2.1 1.3 2 1.3 0.7 1.4-0.1 1.3 1 1.4 1.7 1.3 1.5 1.4-1.8 1.3 0 1.3 2.9 1.4 0.7 1.3 0.8 1.4 0.4 1.3-2.1 1.4-3.3 1.3-1.7 1.4 3.6 1.3 2.4 1.3 0 1.4-1.3 1.3-0.8 1.4 0.1 1.3-3.5 1.4-1.8 1.3 0.2 1.3 2.1 1.4 1.5 1.3-0.3 1.4-1.7 1.3-2 1.4 1.3 1.3 0.5 1.3 2.8 1.4 2.3 1.3 1.8 1.4 1.1 1.3 1.7 1.4 0.6 1.3 1 1.4 1.3 1.3 1.6 1.3 0 1.4 0.3 1.3 1.5 1.4 0.1 1.3-0.4 1.4-0.5 1.3 2.8 1.3 1.8 1.4 0.5 1.3-0.7 1.4-0.3 1.3 0.5 1.4 0.2 1.3-0.2 1.3-0.3 1.4-0.7 1.3 1.5 1.4 2.1 1.3 1.2 1.4-0.9 1.3-0.4 1.4 1.1 1.3 1.3 1.3 1.7 1.4 0.9 1.3-0.8 1.4-0.7 1.3-0.7 1.4 0.4 1.3 0 1.3 0.5 1.4-0.4 1.3 0.4 1.4 1.4 1.3 0.8 1.4 0.9 1.3 0.2 1.4-0.6 1.3-0.4 1.3 0.6 1.4 1 1.3 0.6 1.4 0.7 1.3-0.1 1.4-0.7 1.3-0.9 1.3 0.2 1.4 0.8 1.3 0.6 1.4-0.2 1.3 0.5 1.4 1.5 1.3 1.2 1.3-0.5 1.4-1.1 1.3 0 1.4 1.3 1.3 0.5 1.4-0.5 1.3-0.3 1.4 0.9 1.3 0.8 1.3 0.1 1.4 0.2 1.3-0.5 1.4-0.7 1.3 0.9 1.4 1 1.3-0.6 1.3-0.7 1.4 0.4 1.3 1.1 1.4-0.1 1.3 0 1.4-0.1 1.3 0.4 1.3 0.4 1.4-0.3 1.3 0 1.4-0.3 1.3 0.9 1.4 0.6 1.3 0.3 1.4-0.5 1.3-0.2 1.3 0.1 1.4 0 1.3-0.3 1.4-0.6 1.3 0.2 1.4 1.3 1.3 1.3 1.3-0.1 1.4-0.6 1.3-0.6 1.4 0.2 1.3-0.3 1.4 0.4 1.3 0 1.3 0.7 1.4 0.2 1.3 0.1 1.4-0.3 1.3 0.3 1.4-0.1 1.3-0.3 1.4-0.3 1.3 0.2 1.3-0.2 1.4 0.2 1.3 0.2 1.4 0.7 1.3-0.6 1.4-0.5 1.3-0.6 1.3 1.3 1.4 0.6 1.3 0.2 1.4-0.7 1.3 0 1.4-0.3 1.3 0 1.3-0.2 1.4 0.3 1.3 0.2 1.4 0.5 1.3 0.3 1.4-0.3 1.3-0.2 1.4-0.2 1.3 0.6 1.3 0.2 1.4 0 1.3-0.2 1.4 0.1 1.3 0.3 1.4-0.3 1.3-0.5 1.3-0.5 1.4 0.6 1.3 0.1 1.4 0.3 1.3 0 1.4 0.5 1.3 0.3 1.3-0.2 1.4-0.5 1.3-0.1 1.4 0.4 1.3 0.1 1.4-0.4 1.3-0.2 1.4-0.1 1.3 0.4 1.3 0.3 1.4 0.2 1.3-0.5 1.4 0"/>
<path d="M590.1 262.4l1.3-0.2 1.3-0.1 1.4-0.4 1.3-0.1 1.4-0.9 1.3 0.5 1.4 0.3 1.3 0.9 1.3-1.5 1.4-1.2 1.3-0.7 1.4 0.8 1.3-0.6 1.4-0.8 1.3 0.5 1.3-0.1 1.4-0.6 1.3 0.6 1.4 0.4 1.3 0 1.4 0.4 1.3 0.5 1.4-2 1.3-3.8 1.3 0.2 1.4 2.2 1.3 0.4 1.4-0.8 1.3 0 1.4 0 1.3-0.7 1.3-0.4 1.4-0.9 1.3-0.5 1.4-0.6 1.3-0.3 1.4-0.1 1.3 0.4 1.3-0.6 1.4-0.5 1.3-1.4 1.4 0.1 1.3-1.3 1.4 0.5 1.3 1 1.4 1.2 1.3 0.1 1.3-0.9 1.4 0.2 1.3-2.5 1.4-0.4 1.3-1.4 1.4 0.8 1.3 0.1 1.3 0.1 1.4-0.8 1.3-0.7 1.4-1 1.3 0.4 1.4 0.6 1.3-0.2 1.3-1.5 1.4-0.2 1.3 0.9 1.4-0.1 1.3-1.5 1.4-1.3 1.3 0.8 1.4 1 1.3-3 1.3-1.8 1.4 0.4 1.3 2.6 1.4-1.8 1.3 0 1.4-3 1.3-3.5 1.3-2.4 1.4-1.8 1.3 2.2 1.4 1.7 1.3 0.9 1.4 0.3 1.3 0.3 1.3-0.2 1.4-3.6 1.3-4.6 1.4 3.2 1.3 3.9 1.4 1 1.3-0.8 1.4-1.8 1.3 0.8 1.3 1 1.4-0.9 1.3 1.2 1.4 1.6 1.3-1.3 1.4-4.1 1.3-1.8 1.3 0.8 1.4 4.2 1.3 2.8 1.4 2.7 1.3 0.1 1.4-1.8 1.3-0.6 1.3 1.1 1.4 0.7 1.3-0.3 1.4 2.5 1.3 0.1 1.4 0.6 1.3 0.5 1.4-1.1 1.3-1.4 1.3-1.5 1.4 1.2 1.3 0.4 1.4-2.5 1.3-3.2 1.4-1.7 1.3 0.5 1.3-2.8 1.4-1 1.3 1.1 1.4 1.9 1.3 0.3 1.4-0.1 1.3-1.1 1.3-0.9 1.4-0.3 1.3 0.4 1.4 2.9 1.3 3.7 1.4 2.3 1.3 1.1 1.4 0.9 1.3 0.8 1.3 1.2 1.4 1.8 1.3 1.8 1.4 1.8 1.3 0.5 1.4 0.2 1.3 0.5 1.3-0.8 1.4-0.9 1.3 0.2 1.4 1.2 1.3 1.3 1.4 0.3 1.3 1.1 1.3 0.8 1.4 0.8 1.3-1.8 1.4-0.1 1.3 1 1.4 2 1.3 0.9 1.4 0.9 1.3 0 1.3-0.9 1.4-0.5 1.3 1.5 1.4 2.2 1.3 0 1.4-1.2 1.3 1.4 1.3 1.8 1.4 0.6 1.3-0.5 1.4 1.3 1.3 0.8 1.4-0.9 1.3-1.5 1.3-0.6 1.4 0.7 1.3 0.6 1.4-0.2 1.3-0.2 1.4 1 1.3 2.1 1.4 0.7 1.3-0.5 1.3-1.2 1.4-0.3 1.3 0.2 1.4 0.8 1.3 1 1.4 0.9 1.3-0.1 1.3 0.1 1.4 0.7 1.3 1.8 1.4 0.4 1.3-0.4 1.4-1.1 1.3-0.3 1.4 0.2 1.3 0.9 1.3 0.9 1.4 0.3 1.3-1.6 1.4-3.3 1.3 2.7 1.4 1.6 1.3 0.2 1.3 0.5 1.4-0.2 1.3-0.7 1.4-0.8 1.3 0.8 1.4 1.1 1.3 0.6 1.3 0.1 1.4 0.4 1.3 0.1 1.4 0.1 1.3 0.2 1.4 0.9 1.3 0 1.4-0.6 1.3-0.5 1.3 0.1 1.4 0 1.3-0.6 1.4 0.4 1.3 0.7 1.4 0.6 1.3 0.1 1.3 0.1 1.4-0.4 1.3-0.4 1.4-0.4 1.3 0.6 1.4 0.2 1.3 0.1 1.3-0.5 1.4 0.6 1.3 0.6 1.4 0 1.3-0.5 1.4 0 1.3 0.1 1.4 0.4 1.3 0.7 1.3 0.1 1.4 0.1 1.3 0.2 1.4-0.3 1.3-0.7 1.4-0.1 1.3 0.5 1.3 0.3 1.4 0 1.3 0.1 1.4-0.5 1.3-0.6 1.4-0.1 1.3 0.5 1.3 0.3 1.4-0.6 1.3-0.5 1.4 0.7 1.3 1.1 1.4 0.4 1.3-0.5 1.4 0 1.3 0.4 1.3 0 1.4-0.3 1.3 0.5 1.4 0.2 1.3-0.5 1.4-0.3 1.3 0.8 1.3 0.6 1.4-0.3 1.3-0.5 1.4-0.9 1.3-0.3 1.4 0.2 1.3 0.3 1.3 0.1 1.4-0.1 1.3-0.2 1.4 0.3 1.3 0.4 1.4 0.1 1.3-0.4 1.4 0.1 1.3 0.1 1.3 0.1 1.4 0 1.3 0.3 1.4 0.2 1.3 0.1 1.4 0.1 1.3 0.2"/>
<path d="M592.9 256.6l1.3 0.4 1.4 0.3 1.3-0.8 1.4-0.9 1.3 0 1.3-0.2 1.4 0.2 1.3 0.1 1.4-0.2 1.3-1.7 1.4-0.9 1.3 1.3 1.3 1.1 1.4-1.8 1.3 0.4 1.4-0.7 1.3 0.5 1.4-0.8 1.3-0.3 1.4-1.8 1.3-0.1 1.3 1 1.4-0.2 1.3-3.1 1.4 0.1 1.3 2.5 1.4 0 1.3-0.5 1.3-0.4 1.4 0.6 1.3-0.3 1.4-1.8 1.3-1.9 1.4 0.1 1.3 3.5 1.3 0.5 1.4-1.4 1.3-2.1 1.4 0.5 1.3 1.4 1.4 0 1.3-1.3 1.4-2 1.3 0.1 1.3 0.5 1.4-0.3 1.3-0.5 1.4-0.3 1.3 2.1 1.4-1.8 1.3-1.4 1.3-3.2 1.4-0.8 1.3 0.9 1.4 1.3 1.3 0.5 1.4-1.1 1.3-1.9 1.3-0.7 1.4 0.7 1.3 1.1 1.4-0.3 1.3-0.8 1.4-0.5 1.3-1 1.4-0.9 1.3 0.8 1.3 0.7 1.4 0 1.3-2.3 1.4-1.1 1.3 0.6 1.4 2.1 1.3-0.2 1.3-0.1 1.4-1.5 1.3-3.1 1.4-2.5 1.3-3.1 1.4 0.9 1.3 0.6 1.3-1.2 1.4-0.3 1.3-1.1 1.4 0 1.3-2.1 1.4-2.2 1.3 3.2 1.4 2.6 1.3 2.9 1.3 0.3 1.4-1.1 1.3-0.6 1.4 1 1.3-1.6 1.4 1 1.3 0.2 1.3-3.5 1.4-4.4 1.3-0.1 1.4 2.3 1.3 2.9 1.4 2.2 1.3 2.4 1.3 0 1.4-0.4 1.3 0.8 1.4 1.4 1.3 0.1 1.4-0.4 1.3 2.1 1.4-0.8 1.3-0.8 1.3 1.3 1.4 0.2 1.3-1 1.4-1.8 1.3 1.4 1.4-0.8 1.3-4.9 1.3-3.4 1.4-1.4 1.3 1.8 1.4-1.1 1.3 0.8 1.4 0.4 1.3 1.1 1.3-0.8 1.4 0.9 1.3-2.1 1.4-1.5 1.3-0.5 1.4 1.7 1.3 1.6 1.4 2.3 1.3 1.8 1.3 3.1 1.4 0.4 1.3 1.7 1.4 2.4 1.3 3.9 1.4 1.4 1.3 0.7 1.3 0.4 1.4-0.1 1.3 1.5 1.4 0.4 1.3 0.8 1.4-0.1 1.3 0.1 1.3 0.4 1.4-0.2 1.3 0.4 1.4 1.6 1.3 1.4 1.4-0.8 1.3-1.1 1.4 0.4 1.3 0.5 1.3 1.1 1.4 0.6 1.3 0.9 1.4-0.3 1.3 0.5 1.4 0.4 1.3 1.1 1.3 0.2 1.4 0.7 1.3 0.7 1.4 0.1 1.3-0.6 1.4 0.5 1.3 1.8 1.3 0.5 1.4-0.3 1.3-0.5 1.4 0.9 1.3-0.9 1.4-0.3 1.3-0.9 1.4 1 1.3 0.5 1.3 0.6 1.4 0.2 1.3 0.5 1.4 0.7 1.3 0 1.4 1.1 1.3 0.9 1.3 1 1.4-0.6 1.3-0.2 1.4 0.6 1.3 1.4 1.4 0.3 1.3-0.5 1.3-0.4 1.4 0.3 1.3 0.2 1.4-0.4 1.3-0.7 1.4-0.3 1.3 0.5 1.4 0.7 1.3 0.6 1.3 0.6 1.4-0.1 1.3 0.2 1.4 0.5 1.3 0.2 1.4-0.2 1.3 0 1.3 0.6 1.4 0.1 1.3 0.2 1.4 0.2 1.3 0.6 1.4 0 1.3-0.9 1.4-0.7 1.3 0.6 1.3 0.2 1.4 0.4 1.3-0.2 1.4 0.2 1.3-0.7 1.4 0.8 1.3 0.6 1.3 0.7 1.4-0.1 1.3 0 1.4-0.5 1.3 0.2 1.4 0.7 1.3-0.1 1.3-0.9 1.4-0.2 1.3 0.2 1.4-0.1 1.3-0.2 1.4 0.8 1.3 0.8 1.4 0.5 1.3-0.1 1.3-0.4 1.4-0.3 1.3 0 1.4-0.2 1.3 0.1 1.4 0.1 1.3 0.4 1.3 0.2 1.4 0.1 1.3-0.4 1.4 0.4 1.3 0.1 1.4-0.2 1.3-0.8 1.3 0.4 1.4 0.5 1.3 0.4 1.4-0.5 1.3 0.2 1.4 0.9 1.3 0.6 1.4-0.5 1.3-0.2 1.3 0.3 1.4-0.2 1.3-0.7 1.4-0.5 1.3 0 1.4 0.4 1.3 0.4 1.3 0.1 1.4 0.1 1.3 0.3 1.4-0.2 1.3-0.6 1.4 0.5 1.3 0.2 1.3 0 1.4-0.3 1.3 0.5 1.4 0.7 1.3-0.1 1.4-0.1 1.3-0.2 1.4 0 1.3-0.8 1.3-0.5 1.4 0.3 1.3 0.4 1.4-0.2 1.3-0.5 1.4 0 1.3 0.2 1.3 0.4 1.4 0.4 1.3 0.4"/>
<path d="M595.6 250.5l1.4-1.4 1.3-0.5 1.3 1.5 1.4 0.7 1.3 0.3 1.4 0.2 1.3 0.4 1.4-0.8 1.3-0.8 1.3-0.3 1.4-1.4 1.3 0.5 1.4-0.4 1.3-1.4 1.4-0.2 1.3 1.5 1.3 0.2 1.4-1.3 1.3-1 1.4 0.8 1.3-0.1 1.4-0.4 1.3-1 1.4-2.4 1.3 0.7 1.3 2.7 1.4 1.6 1.3-1.3 1.4-0.5 1.3-0.5 1.4-0.1 1.3-2.2 1.3-0.9 1.4-0.2 1.3 1.4 1.4-1.2 1.3-2.8 1.4-3.5 1.3 3.6 1.4 3.3 1.3 0.2 1.3-1.2 1.4-2.8 1.3 0.3 1.4 1.3 1.3 0.8 1.4-0.7 1.3 0.1 1.3 0.4 1.4-2.3 1.3-1.2 1.4-0.8 1.3 0.6 1.4 1.5 1.3 0.9 1.3-0.7 1.4-2.2 1.3-1.9 1.4-1.1 1.3-1 1.4 0.4 1.3 1.2 1.4 0.7 1.3 0.4 1.3-0.3 1.4-0.8 1.3-0.4 1.4-0.5 1.3-0.9 1.4-2.7 1.3 0.1 1.3 1.4 1.4 0.4 1.3-1.6 1.4-0.6 1.3-0.1 1.4-3.7 1.3-1.5 1.3-2.6 1.4 2.4 1.3-0.7 1.4-1.1 1.3 1.2 1.4-0.2 1.3-0.4 1.4-3.1 1.3-1.9 1.3 3.2 1.4 3.3 1.3 1.7 1.4 0.9 1.3-2.8 1.4-1.9 1.3-0.7 1.3 1.3 1.4 2.5 1.3 2.6 1.4-3 1.3-6.1 1.4-1.5 1.3 3.5 1.3 3.3 1.4 1.3 1.3 0.5 1.4 1.2 1.3-1.3 1.4 1.8 1.3 2.1 1.4 0.6 1.3-0.7 1.3 1.5 1.4-1.6 1.3-1.9 1.4 1.5 1.3 2.4 1.4 1.1 1.3-1.8 1.3-0.6 1.4-3.1 1.3-6.3 1.4-6.1 1.3-2 1.4 2.3 1.3-0.9 1.3-0.5 1.4 0.8 1.3 0.7 1.4-0.2 1.3 0.5 1.4 0.6 1.3-1.7 1.4 0 1.3 0.4 1.3 3.1 1.4 1.1 1.3 3 1.4 3.8 1.3 2.6 1.4 1.9 1.3 4.3 1.3 4.2 1.4 0.5 1.3-1.6 1.4-0.4 1.3 0.2 1.4 1.8 1.3 0.4 1.3-0.6 1.4 0.4 1.3 1.3 1.4 0.1 1.3-0.2 1.4 1.4 1.3 1.6 1.4 0.5 1.3-0.1 1.3-0.1 1.4-0.3 1.3-0.1 1.4 1.5 1.3 1 1.4-0.3 1.3-0.5 1.3 0.8 1.4 1.6 1.3 0.9 1.4 0.4 1.3-0.7 1.4-0.2 1.3 0.8 1.3 1.2 1.4 0.9 1.3 0.3 1.4 0.3 1.3-0.3 1.4 0 1.3 0.4 1.4 0.5 1.3 0.1 1.3 0 1.4 1 1.3 0.7 1.4 0 1.3-0.7 1.4-0.7 1.3 0 1.3 0.4 1.4 0.6 1.3 1 1.4 1.2 1.3 0.2 1.4-0.8 1.3 0.1 1.3 0.6 1.4 0.7 1.3 0.5 1.4 0.7 1.3-0.3 1.4-0.4 1.3-0.3 1.4 0.3 1.3-0.3 1.3 1.1 1.4-0.1 1.3 0.9 1.4 0.5 1.3 0.6 1.4-1.4 1.3-0.3 1.3-0.1 1.4 0.3 1.3 0 1.4 0.4 1.3 0.5 1.4 0.8 1.3 0.1 1.3-0.7 1.4-0.4 1.3 0.6 1.4 0.4 1.3 0.5 1.4 0.2 1.3-0.3 1.4-0.2 1.3 0.2 1.3 0.9 1.4-0.2 1.3-0.2 1.4-0.3 1.3 0.1 1.4-0.2 1.3 0.2 1.3-0.6 1.4 0.5 1.3 0.7 1.4 0.4 1.3-0.4 1.4 0 1.3 0.2 1.4-0.2 1.3 0 1.3 0.2 1.4 0.8 1.3 0 1.4-0.5 1.3 0 1.4 0.2 1.3 0 1.3-0.6 1.4-0.1 1.3-0.2 1.4 0.4 1.3 0.9 1.4 0.4 1.3 0 1.3-0.1 1.4 0.5 1.3-0.3 1.4-0.8 1.3-0.7 1.4 0 1.3 0.9 1.4 0.9 1.3 0.3 1.3-0.6 1.4 0.1 1.3 0.1 1.4 0 1.3 0.1 1.4-0.3 1.3 0.1 1.3-0.1 1.4 0.2 1.3 0 1.4 0.2 1.3 0.4 1.4-0.1 1.3-0.2 1.3 0 1.4 0.4 1.3 0.1 1.4-0.4 1.3-0.4 1.4-0.2 1.3-0.3 1.4 0.1 1.3 0.8 1.3 0.5 1.4-0.5 1.3-0.6 1.4 0 1.3 0.2 1.4 0.2 1.3 0.3 1.3-0.3 1.4-0.4 1.3-0.1 1.4 0.8 1.3-0.3 1.4 0"/>
<path d="M598.3 244.7l1.4 0.2 1.3 1 1.4-0.9 1.3-0.5 1.4-0.3 1.3 0.3 1.3 0.9 1.4 0.7 1.3-0.6 1.4-0.7 1.3-0.5 1.4 0.2 1.3-0.9 1.3-1.4 1.4 1.6 1.3 0.6 1.4-0.4 1.3-1 1.4-0.3 1.3-1.1 1.4-0.9 1.3 0.4 1.3-1.1 1.4-3.6 1.3-0.1 1.4 2.7 1.3 1.1 1.4-0.6 1.3-0.2 1.3 0.3 1.4-0.1 1.3-1.5 1.4-0.9 1.3 0.8 1.4 1.4 1.3-1.1 1.3-0.2 1.4-0.8 1.3-0.5 1.4-0.5 1.3 0.4 1.4 0.1 1.3-1.4 1.4 0.2 1.3-1.2 1.3-0.5 1.4-0.2 1.3 2.1 1.4 0.5 1.3-1.6 1.4-0.7 1.3 0.3 1.3-0.1 1.4-0.5 1.3-1.4 1.4-0.2 1.3 0.6 1.4-0.6 1.3-0.7 1.4-0.2 1.3 1 1.3 0.5 1.4 0 1.3-1 1.4-1.6 1.3-1.4 1.4 0.2 1.3-0.1 1.3-0.1 1.4-1.9 1.3-0.2 1.4 0.6 1.3 0.6 1.4-1.6 1.3-1.1 1.3-1.4 1.4-2.6 1.3-2.5 1.4-3 1.3 0.6 1.4 0.8 1.3-0.6 1.4-0.4 1.3-1.2 1.3-0.5 1.4 0.1 1.3-0.1 1.4 4.1 1.3 1.9 1.4 0.7 1.3-0.1 1.3-2.1 1.4 1.5 1.3 1.2 1.4-1.5 1.3 0.8 1.4 2.9 1.3-2.9 1.3-5.6 1.4-0.3 1.3 4.1 1.4 3.3 1.3 0.1 1.4-0.3 1.3 0.5 1.4 0.4 1.3 1.2 1.3-0.1 1.4-0.8 1.3-0.6 1.4 3.4 1.3 1 1.4 1 1.3-0.4 1.3-1.2 1.4-2.7 1.3-3.6 1.4-2.1 1.3-3.1 1.4-2.9 1.3-4.3 1.3-2.1 1.4 0.2 1.3-0.3 1.4 1.4 1.3 1.3 1.4 1 1.3-0.2 1.4 0.4 1.3-1.8 1.3-1.6 1.4 0 1.3 1.9 1.4 2.9 1.3 3.9 1.4 3.1 1.3 2.6 1.3 2.5 1.4 1.9 1.3 2.8 1.4 1.9 1.3 1.8 1.4 0.3 1.3 0.8 1.3 0.4 1.4 1.5 1.3-0.8 1.4 0 1.3 2.2 1.4 1.5 1.3 0.1 1.4-1.1 1.3 1.2 1.3 1.1 1.4 1.1 1.3-0.2 1.4-0.1 1.3 0.7 1.4 1.1 1.3 0.1 1.3-0.1 1.4-0.5 1.3 0.8 1.4 0.6 1.3 1.1 1.4 0.2 1.3 0.4 1.3 0.2 1.4 0.4 1.3 0.3 1.4 0.3 1.3 0.8 1.4 0.4 1.3-0.1 1.4-0.4 1.3 0.4 1.3 0.8 1.4 0.5 1.3 0.8 1.4-0.5 1.3 0.3 1.4-0.2 1.3 0.9 1.3 0.1 1.4 0.4 1.3-0.6 1.4 0 1.3 0.6 1.4 0.1 1.3 0.4 1.3 0.4 1.4 0.5 1.3 0.4 1.4 0.6 1.3 1.2 1.4 0.3 1.3-0.3 1.4-0.7 1.3 0.1 1.3 1 1.4 0 1.3-0.3 1.4-0.1 1.3 1.4 1.4 0.5 1.3-0.4 1.3-0.9 1.4-0.2 1.3 0.6 1.4 0.3 1.3-0.2 1.4-0.3 1.3 0.4 1.3-0.1 1.4-0.1 1.3 0.7 1.4 1.2 1.3 0.3 1.4-0.3 1.3-0.5 1.4 0.1 1.3-0.1 1.3 0 1.4 0.5 1.3 0.7 1.4 0 1.3-1 1.4 0.2 1.3 0.8 1.3 0.5 1.4-0.2 1.3 0.1 1.4-0.6 1.3 0.1 1.4 0.1 1.3 0.5 1.3 0 1.4 0.5 1.3-0.4 1.4 0 1.3 0.3 1.4 0.2 1.3-0.2 1.4-0.1 1.3-0.5 1.3-0.5 1.4-0.3 1.3 0.4 1.4 0.8 1.3 0.9 1.4-0.1 1.3-0.2 1.3 0.9 1.4 1 1.3-0.1 1.4-1.4 1.3-0.5 1.4 0.3 1.3 0.2 1.4-0.6 1.3-0.1 1.3-0.1 1.4 0.2 1.3 0.3 1.4 0.3 1.3 0.3 1.4-0.1 1.3-0.1 1.3-0.1 1.4 0.1 1.3-0.1 1.4-0.7 1.3-0.2 1.4 0.7 1.3 0.8 1.3 0.1 1.4 0 1.3-0.1 1.4 0.1 1.3-0.7 1.4 0.1 1.3 0.5 1.4 0.5 1.3-0.2 1.3-0.1 1.4 0.1 1.3 0.2 1.4-0.2 1.3 0 1.4-0.2 1.3 0 1.3 0.2 1.4 0.1 1.3-0.2 1.4-0.3 1.3 0 1.4 0.3 1.3 0.3 1.3 0.2 1.4 0.1"/>
<path d="M601.1 238.8l1.3-0.1 1.4 0.7 1.3 0.5 1.3-0.5 1.4 0.6 1.3-0.1 1.4 0.2 1.3-0.2 1.4 0.2 1.3-0.4 1.3-0.8 1.4 0.1 1.3-1.6 1.4-1.5 1.3 1.9 1.4 1.3 1.3 0 1.4-1.5 1.3-0.8 1.3-1 1.4 0.6 1.3 0 1.4-2.3 1.3-2.3 1.4 2.2 1.3 3.4 1.3 0 1.4-1.1 1.3-0.5 1.4-1.3 1.3-0.9 1.4-1.2 1.3 0.1 1.3 0.2 1.4 0.9 1.3-1.1 1.4-1.6 1.3 0 1.4 0.8 1.3 0.6 1.4-0.6 1.3 0.3 1.3-0.3 1.4-2 1.3-1 1.4 1.3 1.3 0.8 1.4 0.1 1.3 0.5 1.3-1.1 1.4-1.8 1.3-1.6 1.4 1.2 1.3 0.3 1.4 0.3 1.3-0.4 1.3 0.6 1.4-0.7 1.3-0.5 1.4-0.7 1.3-0.6 1.4-1.3 1.3-0.3 1.4-0.1 1.3 1.1 1.3-0.6 1.4-1.7 1.3-1 1.4-0.7 1.3 0.6 1.4-1.7 1.3 0.7 1.3-0.2 1.4 0.2 1.3-0.4 1.4-1.6 1.3-3.1 1.4-2.1 1.3-2.1 1.4 1.5 1.3 0.6 1.3-0.6 1.4 0.9 1.3 0 1.4-0.7 1.3-3.3 1.4-3.2 1.3 3.2 1.3 3.2 1.4 0.7 1.3 0.9 1.4-0.5 1.3 1.9 1.4-0.4 1.3-1.6 1.3-0.1 1.4 1.5 1.3-1.9 1.4-3.3 1.3-0.2 1.4 2 1.3 2.5 1.4 1 1.3 1.8 1.3 1.3 1.4-2.2 1.3 0.1 1.4 2.3 1.3 2.5 1.4-1.3 1.3 1.3 1.3 0.6 1.4 0.6 1.3-1.3 1.4-1.4 1.3-2.1 1.4-3.2 1.3-2.7 1.3-3 1.4-4.4 1.3-3.7 1.4-1.4 1.3 0.9 1.4-0.6 1.3 0.1 1.4 0.8 1.3 0.1 1.3 1.1 1.4 0.6 1.3-1.2 1.4-2.9 1.3 0.6 1.4 2.7 1.3 4.3 1.3 2.6 1.4 1.6 1.3 2.4 1.4 3.2 1.3 3.7 1.4 4.1 1.3 2.6 1.3 1 1.4 1.6 1.3 2.1 1.4 0.5 1.3 0.6 1.4-1.2 1.3-1 1.4-1.1 1.3 1.8 1.3 2.1 1.4 0 1.3-1 1.4 0 1.3 2.2 1.4 1 1.3 0.2 1.3-1.3 1.4 1.6 1.3 1.4 1.4 1.8 1.3-1 1.4 0.8 1.3-1 1.3 0.3 1.4 0.3 1.3 0.2 1.4-0.4 1.3 0.4 1.4 0.7 1.3-0.1 1.4 0.4 1.3 0.8 1.3 0.1 1.4-0.3 1.3 0 1.4 0.4 1.3 0.7 1.4 0.6 1.3-0.3 1.3-0.1 1.4 0.6 1.3 1.2 1.4-0.5 1.3-0.2 1.4 0.8 1.3 0.6 1.3-0.1 1.4 0.1 1.3 0.7 1.4 0.8 1.3 0.6 1.4 0.7 1.3-0.4 1.4 0.7 1.3 0 1.3-0.5 1.4-0.9 1.3 0.7 1.4 1 1.3 0.6 1.4-0.6 1.3-0.2 1.3-0.1 1.4 1.2 1.3 0.8 1.4 0.1 1.3-0.7 1.4 0.2 1.3 0.2 1.3-0.7 1.4-1.1 1.3 0.6 1.4 0.4 1.3 0.4 1.4 0.3 1.3 0.7 1.4 0.3 1.3-0.4 1.3 0 1.4 0 1.3 0 1.4 0.3 1.3 0.8 1.4 0.1 1.3-0.5 1.3-0.5 1.4 0.6 1.3 0.2 1.4 0.5 1.3 0 1.4 0 1.3-0.3 1.3 0 1.4 0.4 1.3 0.2 1.4 0.1 1.3-0.2 1.4 0.1 1.3 0.4 1.4 0 1.3-0.4 1.3-0.3 1.4 0 1.3 0.4 1.4 0.1 1.3 0.1 1.4-0.2 1.3 0 1.3 0.6 1.4 0.6 1.3 0 1.4 0 1.3 0.2 1.4 0.3 1.3-0.4 1.3-0.4 1.4 0.1 1.3 0.2 1.4 0 1.3-0.4 1.4-0.2 1.3-0.1 1.4 0.5 1.3 0.6 1.3 0.3 1.4-0.3 1.3-0.6 1.4-0.4 1.3 0.2 1.4 0.7 1.3 0 1.3 0.1 1.4 0.5 1.3 0.1 1.4-0.7 1.3-0.5 1.4 0.3 1.3 0.1 1.4 0 1.3-0.1 1.3 0 1.4 0.4 1.3 0.5 1.4 0.1 1.3 0 1.4 0.1 1.3 0.3 1.3 0 1.4-0.5 1.3-0.6 1.4-0.2 1.3 0.6 1.4 0.4 1.3-0.4 1.3-0.5 1.4-0.4 1.3 0.7 1.4 0.1 1.3 0.5"/>
<path d="M603.8 233.9l1.3-0.1 1.4 0.7 1.3 0.1 1.4 0.4 1.3-0.1 1.4 0.2 1.3-0.2 1.3-0.6 1.4-1.4 1.3 0.3 1.4 1.3 1.3 0.6 1.4-1.8 1.3-2.1 1.4 1.4 1.3 0.5 1.3-0.7 1.4-2 1.3-0.7 1.4 0.2 1.3 1.4 1.4 0.9 1.3-1.3 1.3-2.9 1.4 0.2 1.3 2.1 1.4 0.5 1.3-0.8 1.4 0.4 1.3-0.9 1.3-0.3 1.4-1.7 1.3 0.5 1.4 0.5 1.3 0.9 1.4-1.6 1.3-0.6 1.4-0.1 1.3 0.5 1.3 0.3 1.4-0.3 1.3-0.8 1.4-1.6 1.3-1.3 1.4 0.5 1.3 1.6 1.3 1.6 1.4-0.2 1.3-0.2 1.4-3.5 1.3-1.1 1.4-1.2 1.3 1.5 1.3 0 1.4-0.6 1.3-0.5 1.4 0 1.3 0.5 1.4-1 1.3-0.6 1.4-0.7 1.3 0.6 1.3 1 1.4 0 1.3-1.2 1.4-1.6 1.3 0.3 1.4-0.6 1.3-2.1 1.3-1.6 1.4 0.3 1.3 1.1 1.4-0.8 1.3 0 1.4 0.2 1.3-1.2 1.3-2.6 1.4-2.4 1.3-3.8 1.4 0.9 1.3 1.4 1.4 0.1 1.3-1.4 1.4-0.2 1.3-0.3 1.3-0.2 1.4-1.1 1.3 3.7 1.4 1 1.3 0.7 1.4 0.1 1.3 1 1.3 0.4 1.4 1.5 1.3-3 1.4 1.2 1.3 1.3 1.4-1.7 1.3-3.6 1.4-1.8 1.3 3 1.3 3.6 1.4 1.5 1.3-0.9 1.4 0 1.3 0 1.4 0.5 1.3 0.9 1.3 0.5 1.4-0.5 1.3 2.8 1.4 0.7 1.3 0.9 1.4-0.9 1.3-2.3 1.3-3.7 1.4-3.9 1.3-1.6 1.4-1.8 1.3-4 1.4-4.6 1.3-2.1 1.4 0.7 1.3-2.2 1.3 0.2 1.4 2.6 1.3 2.4 1.4 0.4 1.3-1.7 1.4-1.9 1.3-2.2 1.3 1.7 1.4 0.7 1.3 2.6 1.4 3 1.3 4.3 1.4 4.1 1.3 3.9 1.3 2.2 1.4 1.2 1.3 4.3 1.4 1.6 1.3 0.9 1.4 2.8 1.3 0.8 1.4 0.4 1.3-2.2 1.3-0.7 1.4 0.4 1.3 1.4 1.4 0 1.3-0.2 1.4 2.4 1.3 1.9 1.3 0.7 1.4-0.8 1.3-0.4 1.4-0.1 1.3 0.8 1.4 1.5 1.3 0.6 1.3-0.1 1.4-0.4 1.3 0 1.4 0.6 1.3-0.1 1.4 0.1 1.3 0.8 1.4 1.4 1.3 0.8 1.3-1 1.4-0.1 1.3 1.9 1.4 2 1.3-0.6 1.4-1.8 1.3-0.8 1.3 1.1 1.4 1 1.3-0.2 1.4-0.3 1.3 1.7 1.4 1.2 1.3-0.5 1.3-1.2 1.4 0.2 1.3 0.5 1.4 1.1 1.3 0.5 1.4-0.6 1.3-1.1 1.4 0.2 1.3 1 1.3 1.5 1.4 0.7 1.3 0.3 1.4-0.6 1.3 0.1 1.4-0.3 1.3 0.8 1.3 0 1.4-0.2 1.3-0.3 1.4 1.2 1.3 0.9 1.4-0.3 1.3-0.4 1.3-0.1 1.4 1 1.3 0.1 1.4-0.2 1.3-0.5 1.4 1.2 1.3 0.7 1.4 0.1 1.3-0.7 1.3 0.6 1.4 0.1 1.3-0.4 1.4-0.7 1.3 0.6 1.4 0.9 1.3 0.2 1.3 0.1 1.4-0.1 1.3-0.5 1.4-0.6 1.3 0.2 1.4 1.2 1.3 0.7 1.3-0.6 1.4-0.8 1.3-0.6 1.4 0.6 1.3 0.5 1.4 0.5 1.3-0.2 1.4-0.3 1.3 0.1 1.3 0.2 1.4 0.2 1.3 0.1 1.4 0.2 1.3-0.4 1.4 0.1 1.3 0.4 1.3 0.4 1.4 0 1.3 0.4 1.4 0.3 1.3-0.8 1.4-0.4 1.3 0.1 1.3 0.9 1.4 0 1.3-0.1 1.4-0.5 1.3-0.2 1.4 0 1.3-0.2 1.4 0.6 1.3 0.2 1.3 0 1.4 0.1 1.3 0.4 1.4 0.4 1.3 0.2 1.4 0.3 1.3-0.8 1.3-0.2 1.4 0.1 1.3 0.2 1.4 0.1 1.3 0.3 1.4-0.2 1.3 0.1 1.3 0.2 1.4-0.3 1.3-0.7 1.4 0 1.3 0.4 1.4-2.2 1.3-4 1.4 3.7 1.3 2.2 1.3 0 1.4 0.8 1.3 0.1 1.4-0.3 1.3-0.4 1.4 0.5 1.3 0.5 1.3 0 1.4 0.1 1.3 0.1 1.4-0.2 1.3-0.6 1.4-0.5 1.3 0.3 1.4 0.5"/>
<path d="M606.5 229.4l1.4-0.7 1.3-0.9 1.4-0.2 1.3 1 1.3 0.7 1.4 0.1 1.3-1.1 1.4 0.1 1.3-0.4 1.4 1.1 1.3 0.1 1.4-0.3 1.3-2.1 1.3-1.8 1.4 1.4 1.3 0.1 1.4 0 1.3-0.7 1.4 0.4 1.3-1 1.3-0.1 1.4 0.3 1.3-1.4 1.4-3.5 1.3 0.3 1.4 3.1 1.3 0.7 1.3-0.4 1.4 0.4 1.3-0.9 1.4-0.7 1.3-0.6 1.4 0.1 1.3 0.5 1.4 1.5 1.3-0.4 1.3-1.8 1.4-0.6 1.3 0.6 1.4 0.9 1.3-1.5 1.4-0.5 1.3-0.3 1.3 0.2 1.4-1.2 1.3-0.7 1.4 0.3 1.3 0.8 1.4 0.4 1.3-1.5 1.3-1.3 1.4-0.4 1.3 0.2 1.4-0.9 1.3-1.5 1.4 0.3 1.3 1.8 1.4-0.2 1.3-0.9 1.3-1.5 1.4-0.2 1.3 2.5 1.4 1.5 1.3-0.9 1.4-2.3 1.3-0.8 1.3 0.1 1.4-0.9 1.3 1.6 1.4 0.6 1.3 0.3 1.4-1.6 1.3-0.9 1.3-1.7 1.4-1.1 1.3-0.9 1.4-1.7 1.3-2.4 1.4-4.3 1.3 0 1.4 1.7 1.3 0.7 1.3 1.2 1.4-1.6 1.3-1.5 1.4-2.9 1.3-1.6 1.4 3.2 1.3 3.4 1.3 2.2 1.4 1.3 1.3-1.7 1.4 0.1 1.3 2.6 1.4-0.6 1.3-0.5 1.3-0.1 1.4-2.3 1.3-3.7 1.4-2.6 1.3 2.5 1.4 3.1 1.3 2.7 1.4 2.1 1.3 0.6 1.3-0.9 1.4 0.7 1.3 1.4 1.4-1.5 1.3-1.6 1.4 2.7 1.3 0.8 1.3 0.2 1.4-1.9 1.3-1.3 1.4-3.8 1.3-3.1 1.4-2.4 1.3-1 1.4-4.1 1.3-5.3 1.3-3.1 1.4 0.5 1.3 0.3 1.4 1.2 1.3 2 1.4 0.7 1.3-0.5 1.3-0.8 1.4-0.5 1.3-0.6 1.4 0.1 1.3 0.3 1.4 2.4 1.3 3.8 1.3 3.7 1.4 3.2 1.3 3.5 1.4 2.5 1.3 5.2 1.4 2.8 1.3 1.4 1.4 0 1.3 0.5 1.3 0.2 1.4 0.9 1.3 1.1 1.4-0.3 1.3-0.4 1.4 1.6 1.3 1.9 1.3 1.4 1.4 0.4 1.3 0.3 1.4-0.5 1.3-0.8 1.4 0.9 1.3 1.3 1.3 1.1 1.4 0.6 1.3 1.1 1.4 0.4 1.3-0.7 1.4-1.2 1.3-0.5 1.4-1.6 1.3 1.6 1.3 0.7 1.4 0.9 1.3 1.4 1.4-0.4 1.3-0.8 1.4 0.5 1.3 0.5 1.3 0.3 1.4-0.4 1.3 0.8 1.4 0.3 1.3 0.4 1.4 0.1 1.3 0.9 1.3 0.7 1.4 0.7 1.3-0.4 1.4-0.2 1.3 0.1 1.4 0.7 1.3 0 1.4-0.2 1.3 0 1.3 1.4 1.4 0 1.3 0.5 1.4 0.8 1.3 1.4 1.4 0 1.3-0.5 1.3-0.5 1.4-0.3 1.3 1.1 1.4 0.9 1.3-0.3 1.4-0.1 1.3 0.2 1.3 0.8 1.4 0 1.3-0.5 1.4-0.4 1.3 0.6 1.4 0.7 1.3-0.3 1.4-0.6 1.3 0.3 1.3 0.2 1.4 0.6 1.3 0.1 1.4 0.5 1.3-0.2 1.4-0.3 1.3-0.5 1.3 0.6 1.4 0.3 1.3 0.1 1.4-0.3 1.3 0.5 1.4-0.1 1.3-0.4 1.3 0.2 1.4 0.6 1.3 0.6 1.4-0.3 1.3 0.1 1.4-0.3 1.3-0.1 1.4 0.1 1.3 1.2 1.3 0.7 1.4-0.5 1.3-0.9 1.4-0.5 1.3 0 1.4-0.1 1.3 0.8 1.3 0.7 1.4 0.3 1.3-0.2 1.4-0.1 1.3-0.6 1.4-0.4 1.3-0.1 1.3 0.6 1.4 0.1 1.3 0.3 1.4 0 1.3 0.5 1.4 0.3 1.3-0.4 1.4-0.4 1.3-0.3 1.3 0.5 1.4-0.2 1.3 0 1.4 0.3 1.3 0.6 1.4 0.1 1.3 0 1.3 0.1 1.4 0.1 1.3-0.3 1.4 0.2 1.3 0.1 1.4-0.4 1.3-0.5 1.3 0.3 1.4 0.6 1.3 0.1 1.4-0.6 1.3-0.4 1.4-0.3 1.3 0.5 1.4 0.4 1.3 0.2 1.3 0.2 1.4 0.1 1.3-0.4 1.4-0.5 1.3 0.6 1.4 0.3 1.3-0.3 1.3 0 1.4 0.5 1.3-0.1 1.4-0.6 1.3-0.4 1.4 0.3 1.3 0.3 1.3-0.1 1.4 0.2 1.3 0.5 1.4 0.3"/>
<path d="M609.3 224.0l1.3 0.2 1.3 0.2 1.4-1 1.3-0.2 1.4 0.7 1.3 0.4 1.4-0.8 1.3 0.1 1.4 0.7 1.3-0.7 1.3-1.1 1.4 0.5 1.3-0.5 1.4-2.1 1.3 0.2 1.4 0.6 1.3 0.2 1.3-0.6 1.4-0.5 1.3-0.4 1.4 0.8 1.3 0.3 1.4-1.7 1.3-2.3 1.3 0.7 1.4 1.8 1.3-0.9 1.4-0.1 1.3 0.7 1.4 0.2 1.3-0.7 1.4-0.5 1.3 0 1.3-0.1 1.4 0.6 1.3-0.8 1.4-1 1.3-0.4 1.4 0.5 1.3-0.2 1.3-0.5 1.4 0.2 1.3-0.4 1.4-0.7 1.3-1.1 1.4-0.2 1.3 0.5 1.3 2.2 1.4 0.8 1.3-2.6 1.4-2.2 1.3-1.2 1.4-0.2 1.3 0.7 1.4 1.9 1.3 1.3 1.3-0.9 1.4-1.9 1.3-0.6 1.4-0.1 1.3-0.2 1.4-0.1 1.3 0.7 1.3 1.1 1.4-0.8 1.3-1 1.4-0.3 1.3 1.1 1.4-1.2 1.3-2.2 1.3-1.1 1.4 1.5 1.3 0.3 1.4-1.2 1.3-1.4 1.4-1.4 1.3-3.3 1.4-3.3 1.3-4.7 1.3 0.4 1.4 1.5 1.3-0.2 1.4-0.5 1.3 0.5 1.4 0.2 1.3-2.3 1.3-1.5 1.4 5.6 1.3 3.6 1.4-0.1 1.3-0.3 1.4-1 1.3 2 1.3 2 1.4-1.8 1.3-0.2 1.4-0.2 1.3-0.3 1.4-2.3 1.3-0.4 1.4 0.6 1.3 1.9 1.3 1.5 1.4 0.5 1.3 0.1 1.4-0.3 1.3 1.8 1.4 0.9 1.3-1.7 1.3 0 1.4 3.6 1.3 0.5 1.4-1.4 1.3-0.2 1.4-1.1 1.3-2.9 1.3-5.1 1.4-4.4 1.3-4 1.4-4.5 1.3-3 1.4-2 1.3 1.7 1.4-1.6 1.3 0.1 1.3 2.2 1.4 3.6 1.3 1 1.4-1.5 1.3-1.8 1.4-2.1 1.3 0.2 1.3 0 1.4 2.8 1.3 3.1 1.4 4.1 1.3 3.2 1.4 3.6 1.3 4.5 1.4 4.3 1.3 1.8 1.3 1.5 1.4 2.2 1.3 1.3 1.4 0.1 1.3 0.6 1.4 0.6 1.3 0.4 1.3 0.6 1.4 1.2 1.3 1 1.4 0.1 1.3-0.1 1.4-0.4 1.3 1.6 1.3 0.2 1.4 0.9 1.3-0.7 1.4 0.5 1.3 0.3 1.4 0.7 1.3-0.2 1.4 0.1 1.3-0.3 1.3 1.1 1.4-0.1 1.3-0.5 1.4-1.3 1.3-0.6 1.4 0.5 1.3 0.9 1.3 1.4 1.4 0 1.3-0.1 1.4-0.3 1.3 0.5 1.4 0.9 1.3 0.8 1.3-0.2 1.4-0.8 1.3 0.5 1.4 1.5 1.3 1.6 1.4 0.2 1.3-0.4 1.4-0.1 1.3 0.3 1.3 0.8 1.4 0.2 1.3 0.9 1.4-0.2 1.3 0.9 1.4 0.3 1.3 0.4 1.3 0.2 1.4 0.9 1.3 0.2 1.4-0.8 1.3-0.7 1.4 0.4 1.3 0.8 1.3 0.1 1.4-0.4 1.3 0 1.4 0.4 1.3 0.2 1.4 0.3 1.3 0.6 1.4 0.6 1.3-0.2 1.3-0.4 1.4-0.1 1.3 1.2 1.4 0.9 1.3-0.3 1.4-0.6 1.3 0.1 1.3 0.4 1.4-0.5 1.3-0.4 1.4 1 1.3 1.4 1.4 0.1 1.3-0.4 1.3-0.6 1.4 0 1.3-0.9 1.4 0.1 1.3 0.2 1.4 0.8 1.3-0.3 1.4 0.2 1.3-0.1 1.3 0.2 1.4-0.2 1.3 0.5 1.4 0 1.3 0 1.4-0.7 1.3-0.2 1.3 0.1 1.4 0.7 1.3 0.4 1.4 0.2 1.3-0.5 1.4-0.3 1.3 0.5 1.3 0.2 1.4-0.2 1.3-0.1 1.4 0.6 1.3 0.2 1.4 0.2 1.3 0.2 1.4 0.2 1.3 0.1 1.3-0.8 1.4-0.1 1.3 0.3 1.4 0.2 1.3-0.6 1.4-0.2 1.3 0.3 1.3 0.6 1.4 0.5 1.3 0.1 1.4-0.1 1.3 0 1.4 0.3 1.3-0.2 1.3 0 1.4-0.6 1.3 0.3 1.4 0.2 1.3 0.7 1.4-0.2 1.3-0.1 1.4-0.1 1.3 0.1 1.3-0.1 1.4-0.4 1.3 0.2 1.4 0.7 1.3 0.2 1.4-0.4 1.3-0.3 1.3 0 1.4 0 1.3-0.6 1.4-0.3 1.3-0.2 1.4 0.7 1.3 0.1 1.3-0.2 1.4-0.7 1.3 0.2 1.4 0.2 1.3 0.7 1.4 0.3 1.3 0.3"/>
<path d="M612.0 218.7l1.3-1 1.4-0.5 1.3-0.5 1.4 0.6 1.3-1 1.4 1.3 1.3-0.2 1.3 1.2 1.4-0.8 1.3 0.6 1.4 0 1.3 0.4 1.4-1.1 1.3-2.1 1.3 1.6 1.4 1.7 1.3 0 1.4-1.1 1.3-1.5 1.4-0.4 1.3 0.6 1.3 0.7 1.4-2.1 1.3-3.4 1.4 1.1 1.3 2.8 1.4-0.6 1.3-1.2 1.4 0.3 1.3 0 1.3-1.4 1.4-1 1.3 0.2 1.4-0.2 1.3 1 1.4 0 1.3 0 1.3-1 1.4-0.4 1.3 0.4 1.4-0.7 1.3-1 1.4-1.2 1.3 0.1 1.3-0.2 1.4 0.5 1.3 0.1 1.4 0.5 1.3 0.1 1.4-0.5 1.3-0.6 1.4-1.2 1.3-0.1 1.3-0.1 1.4-0.2 1.3 0.2 1.4 0.5 1.3-1 1.4-1.5 1.3-0.6 1.3 2.1 1.4 1.3 1.3 0 1.4-1.6 1.3-1.3 1.4-0.7 1.3-0.3 1.3 1.1 1.4 0.5 1.3-0.9 1.4-1.7 1.3-0.9 1.4-0.6 1.3-0.9 1.4 0.7 1.3-2.1 1.3-3.9 1.4-2.6 1.3-3.1 1.4 0.6 1.3 1.1 1.4 1.3 1.3 0.2 1.3-1 1.4-1.9 1.3-1.7 1.4-1.3 1.3 4.7 1.4 2.2 1.3 0.8 1.3 0.4 1.4-0.5 1.3 1.8 1.4 1.6 1.3-0.4 1.4 0.1 1.3-0.5 1.4-1.5 1.3-1.7 1.3 0.2 1.4 0.8 1.3 0.5 1.4 0.9 1.3 0.1 1.4 0.4 1.3 0.3 1.3 1.4 1.4 1.9 1.3 0.6 1.4-0.8 1.3 1.5 1.4 0.4 1.3 1.7 1.3-1.1 1.4-4.1 1.3-6.2 1.4-4.3 1.3-1.2 1.4-1.7 1.3-4.8 1.4-4.1 1.3-1.5 1.3 0.6 1.4-1.9 1.3 0.6 1.4 3.4 1.3 1.7 1.4 0.1 1.3-1.5 1.3-1.3 1.4-2.4 1.3 1.4 1.4 1.7 1.3 3.7 1.4 2.4 1.3 3.4 1.3 3.7 1.4 3.2 1.3 2.5 1.4 4.1 1.3 3.8 1.4 1.6 1.3 0.7 1.4 0.7 1.3 0.3 1.3 2.1 1.4 0.2 1.3-0.4 1.4-0.5 1.3 0.3 1.4 1.3 1.3 1.5 1.3 2.1 1.4 0 1.3-0.1 1.4-0.2 1.3-0.2 1.4 0.2 1.3 1.8 1.4 2.1 1.3 0.8 1.3-0.6 1.4-0.6 1.3-0.5 1.4 0.5 1.3 0.2 1.4 0 1.3-2 1.3-1.8 1.4-0.4 1.3 1 1.4 1.4 1.3 0.7 1.4-0.2 1.3-0.9 1.3 0.2 1.4 0.5 1.3 0.1 1.4 0.7 1.3 0.4 1.4 0.7 1.3 0.7 1.4 1.2 1.3 0.8 1.3-0.3 1.4 0.2 1.3 0.4 1.4 0.6 1.3 0.1 1.4 0.7 1.3 1.2 1.3 0.7 1.4 0.4 1.3 0.5 1.4 0.5 1.3 0.4 1.4-0.5 1.3-0.2 1.3-0.1 1.4 0.5 1.3 0.3 1.4 0.8 1.3 0.3 1.4-0.6 1.3-0.5 1.4 0.6 1.3 0.2 1.3 0.2 1.4-0.2 1.3 0.4 1.4-1.2 1.3-0.2 1.4 0.6 1.3 1.3 1.3 0.1 1.4-0.4 1.3 0.2 1.4 1.1 1.3 0.8 1.4-0.2 1.3-0.7 1.3-0.4 1.4 0.5 1.3 0.8 1.4 0.7 1.3-0.2 1.4-0.8 1.3-0.7 1.4 1 1.3 1.3 1.3-0.2 1.4-1.2 1.3-0.5 1.4 0.7 1.3 0.5 1.4-0.6 1.3-0.9 1.3 0.3 1.4 0.6 1.3 0.1 1.4-0.3 1.3 0.5 1.4 0.7 1.3-0.2 1.3-0.7 1.4-0.4 1.3 0.7 1.4-0.4 1.3-0.4 1.4 0.2 1.3 0.8 1.4 0.6 1.3 0.3 1.3-0.2 1.4-0.7 1.3-0.1 1.4 0.3 1.3 0.3 1.4 0.4 1.3 0.1 1.3 0.1 1.4 0.3 1.3-0.4 1.4-0.6 1.3 0.1 1.4 1 1.3 0.1 1.3-0.7 1.4-0.3 1.3 0.1 1.4 0.6 1.3-0.3 1.4 0 1.3 0.2 1.4 0.4 1.3 0.4 1.3 0.1 1.4 0.3 1.3-0.4 1.4-0.6 1.3-0.8 1.4 0.4 1.3 0.8 1.3 0.2 1.4-0.5 1.3 0 1.4 0 1.3 0 1.4-0.2 1.3-0.1 1.3 0.2 1.4 0.4 1.3 0.3 1.4 0 1.3-0.6 1.4 0 1.3-0.1 1.4 0.3 1.3-0.2 1.3 0.3"/>
<path d="M614.7 212.3l1.4 0 1.3 1.5 1.4-0.2 1.3-1.3 1.3-1.4 1.4 0.4 1.3 0 1.4 0.4 1.3 0.1 1.4 0.5 1.3 0.6 1.3-0.2 1.4-1.7 1.3-1.4 1.4 2.9 1.3 1.1 1.4-0.6 1.3-0.2 1.3-0.7 1.4-1 1.3-0.7 1.4-0.2 1.3-2 1.4-3.4 1.3 0.7 1.4 2.8 1.3 1.3 1.3-0.1 1.4 0.3 1.3-0.4 1.4-1.1 1.3-1.6 1.4-0.6 1.3 1.8 1.3 2 1.4-0.1 1.3-3 1.4-1.7 1.3 0 1.4 1.7 1.3 0 1.3-0.7 1.4-1.8 1.3-1.2 1.4-1.1 1.3 0.8 1.4 0.7 1.3 0.1 1.4 0.3 1.3-0.9 1.3-0.4 1.4-1.6 1.3 1 1.4 0.4 1.3 1.2 1.4-0.9 1.3 0.9 1.3-0.7 1.4 1.2 1.3-0.7 1.4-1.8 1.3-2.4 1.4-0.4 1.3 1.7 1.3-0.5 1.4-0.6 1.3-0.3 1.4-0.1 1.3-1.7 1.4-0.5 1.3 0.4 1.4 1 1.3-0.9 1.3-0.9 1.4-0.9 1.3-1.7 1.4-2.7 1.3-3.7 1.4-3.5 1.3-0.1 1.3 1.4 1.4-0.6 1.3 1 1.4 1.9 1.3 0.6 1.4-1.6 1.3-1.8 1.3 4.7 1.4 2.1 1.3 0.7 1.4 0.6 1.3-0.1 1.4 0.1 1.3 0.9 1.4-1.1 1.3-0.1 1.3-0.7 1.4-2.2 1.3-1.9 1.4 0.1 1.3 1.1 1.4 1.9 1.3 2.1 1.3 1.3 1.4 0.1 1.3 0.1 1.4 2.2 1.3 0.7 1.4-0.4 1.3-1.4 1.3 2.2 1.4 0.2 1.3-0.1 1.4-0.2 1.3-3.3 1.4-3.6 1.3-5.5 1.4-2 1.3-3.5 1.3-5.4 1.4-5.1 1.3-2 1.4 0.2 1.3-1.3 1.4 1.4 1.3 2.6 1.3 1.3 1.4 0.8 1.3 0.1 1.4-1.5 1.3-2.3 1.4 0.3 1.3 0.7 1.3 3.1 1.4 4.2 1.3 4.1 1.4 3.5 1.3 3.8 1.4 2.8 1.3 3.7 1.4 2.7 1.3 2.7 1.3 2.3 1.4 1.3 1.3 0.1 1.4 2.3 1.3 0.3 1.4-1.7 1.3-2.9 1.3 1.3 1.4 1.4 1.3 1.4 1.4 0.8 1.3 0.6 1.4 1.1 1.3 0.5 1.3 1.1 1.4 0.4 1.3 0.5 1.4 0.5 1.3 0.1 1.4 0 1.3-0.5 1.4 0.4 1.3-0.5 1.3-0.4 1.4-0.6 1.3-0.8 1.4-1.5 1.3-1 1.4 0.6 1.3 0.9 1.3 0.6 1.4-0.2 1.3-0.2 1.4-0.5 1.3 0.6 1.4 0.5 1.3 0.9 1.4 0.8 1.3 1.5 1.3 0.8 1.4 0.7 1.3 0.3 1.4 0.5 1.3 0.7 1.4 1.6 1.3 0.3 1.3 0.5 1.4 0 1.3 0.3 1.4-0.5 1.3-0.3 1.4 0.7 1.3 1.3 1.3 0.9 1.4-0.6 1.3-0.3 1.4 0.1 1.3 0.6 1.4-0.3 1.3 0.3 1.4 0.4 1.3 0.3 1.3 0 1.4 0.3 1.3 0.1 1.4 0.5 1.3 1.3 1.4 0.4 1.3-1.3 1.3-0.4 1.4 1 1.3 0.8 1.4-0.5 1.3-0.6 1.4-0.1 1.3 0.7 1.3 0.5 1.4-0.1 1.3-0.2 1.4-0.3 1.3 0.2 1.4-0.1 1.3 0.2 1.4-0.5 1.3-0.2 1.3 0.4 1.4 1.6 1.3 1.1 1.4-0.2 1.3-0.6 1.4-0.4 1.3 0.3 1.3 0.5 1.4 0.7 1.3-0.3 1.4-0.5 1.3-0.8 1.4-0.5 1.3 0.4 1.3 0.6 1.4 0.4 1.3-0.2 1.4-0.7 1.3-0.6 1.4 0.1 1.3 0.6 1.4 0.1 1.3 0.6 1.3 0.7 1.4 0.5 1.3 0.3 1.4 0 1.3-0.1 1.4-0.2 1.3 0.1 1.3-0.3 1.4-0.6 1.3-0.6 1.4 0.3 1.3 0.3 1.4 0.1 1.3-0.4 1.3 0.2 1.4 0.6 1.3 0 1.4-0.5 1.3-0.1 1.4 0.5 1.3 0.4 1.4-0.4 1.3-0.5 1.3 0.3 1.4 0.3 1.3 0.8 1.4-0.1 1.3-0.4 1.4-0.4 1.3 0.2 1.3 0 1.4-0.5 1.3 0.2 1.4 0.3 1.3 0.3 1.4 0.1 1.3 0.6 1.3 0.2 1.4-0.2 1.3-0.4 1.4 0.2 1.3 0.2 1.4-0.3 1.3-0.2 1.4 0 1.3 0.3 1.3 0 1.4 0.5 1.3-0.1 1.4 0"/>
<path d="M617.5 207.9l1.4-0.2 1.3-0.3 1.4-1.1 1.3 0 1.4 0.1 1.3 0.7 1.4 0.4 1.3-0.3 1.3-0.8 1.4-0.3 1.3 0.6 1.4 0.4 1.3-0.6 1.4-1.7 1.3 0.4 1.3 0.4 1.4 1 1.3 0.1 1.4 0.1 1.3-1.2 1.4-0.8 1.3 0.1 1.4-0.6 1.3-2.6 1.3-0.9 1.4 1.9 1.3 0.7 1.4 0.9 1.3 1 1.4-0.5 1.3-1.1 1.3-1.9 1.4 0.3 1.3-0.3 1.4 1.3 1.3-0.8 1.4-0.2 1.3-0.4 1.3-0.6 1.4-0.5 1.3-1.6 1.4-0.7 1.3-1.4 1.4 1.2 1.3-0.5 1.4 0.8 1.3 0.2 1.3 2 1.4 0.6 1.3-1.9 1.4-1.1 1.3-0.9 1.4-0.8 1.3 0.2 1.3 0.9 1.4 0.8 1.3-1 1.4-1 1.3-0.5 1.4-0.2 1.3-0.3 1.3 0.6 1.4 0.7 1.3-0.6 1.4-0.6 1.3-0.4 1.4 1 1.3-1.4 1.4-1.1 1.3-1.1 1.3 1.2 1.4 0.3 1.3-1.1 1.4-2.6 1.3-0.7 1.4-0.3 1.3-2.9 1.3-3.2 1.4-4.9 1.3 1 1.4 1.1 1.3 0 1.4-0.9 1.3 0 1.3 0.1 1.4-1 1.3-1.2 1.4 4.4 1.3 2.3 1.4 1 1.3 1.6 1.4 1.1 1.3 0.8 1.3 0.5 1.4-2.1 1.3 0.4 1.4 1.1 1.3-0.2 1.4-3.7 1.3-1.5 1.3 0.8 1.4 3.2 1.3 1.7 1.4 1.8 1.3 0.6 1.4-0.7 1.3-0.9 1.3 0.3 1.4 0.3 1.3-0.8 1.4 2 1.3 0.6 1.4 1.8 1.3-0.8 1.4-4.5 1.3-7 1.3-5.4 1.4-1.7 1.3-2.5 1.4-4.6 1.3-4.8 1.4-1.1 1.3 2 1.3-0.1 1.4-0.5 1.3 1.1 1.4 3.2 1.3 1.7 1.4 0 1.3-3.8 1.3-3.4 1.4-0.4 1.3 1.4 1.4 4.8 1.3 3.3 1.4 3 1.3 3.2 1.4 5.9 1.3 4.5 1.3 3.1 1.4 3.7 1.3 3.1 1.4 1.8 1.3 0 1.4-0.5 1.3 0.3 1.3-0.4 1.4 0.3 1.3 0.7 1.4 0.7 1.3 0.8 1.4 1.1 1.3 1.4 1.3 0.8 1.4 0.9 1.3-0.8 1.4-0.2 1.3-0.8 1.4 1.2 1.3 0.5 1.4 1.2 1.3-0.2 1.3-0.2 1.4 0.7 1.3 0.5 1.4-1 1.3-2.5 1.4-2.2 1.3-0.8 1.3-0.5 1.4-0.3 1.3 0.4 1.4 1.8 1.3 0.2 1.4-0.2 1.3 0 1.3 0.8 1.4 0.3 1.3 0.7 1.4 0.8 1.3 0.4 1.4 1.5 1.3 0.8 1.4 1.2 1.3 1.2 1.3 1.7 1.4 0.2 1.3-0.3 1.4-0.1 1.3 0.8 1.4 0.3 1.3 0.5 1.3-0.4 1.4 1.2 1.3 0.4 1.4 0.9 1.3-1 1.4 0.2 1.3 0 1.4 1 1.3 0.2 1.3 0 1.4-0.5 1.3 0.9 1.4 0.7 1.3 0.3 1.4-0.2 1.3 0.2 1.3 0.5 1.4-0.4 1.3-0.1 1.4-0.5 1.3 0.5 1.4-0.2 1.3 0 1.3 0.2 1.4 1 1.3 0.5 1.4-0.1 1.3-0.8 1.4 0.2 1.3 0.5 1.4 1.1 1.3 0.5 1.3 0.1 1.4-1.1 1.3-0.4 1.4 0 1.3 0.7 1.4 0.4 1.3 0 1.3-0.4 1.4-0.8 1.3 0.5 1.4-0.1 1.3 0.5 1.4-0.3 1.3 0.4 1.3-0.3 1.4 0.3 1.3 0.1 1.4 0 1.3-0.3 1.4-0.4 1.3 0.1 1.4 0.3 1.3 0.6 1.3 0.1 1.4 0.1 1.3 0 1.4-0.1 1.3 0 1.4 0.1 1.3 0.8 1.3 0 1.4-0.2 1.3-0.4 1.4 0.3 1.3-0.3 1.4-0.5 1.3 0.2 1.3 0.6 1.4 0.3 1.3 0 1.4 0 1.3 0.4 1.4-0.1 1.3 0.3 1.4-0.1 1.3-0.1 1.3-0.2 1.4 0 1.3 0 1.4 0.1 1.3 0.3 1.4 0.2 1.3 0 1.3 0 1.4-0.4 1.3-0.8 1.4-0.7 1.3-0.2 1.4 0.7 1.3 0.8 1.3 0.7 1.4 0.1 1.3 0.5 1.4-0.2 1.3-0.6 1.4-0.3 1.3 0.3 1.4 0.4 1.3-0.3 1.3-0.1 1.4-0.5 1.3 0.1 1.4 0 1.3 0.7 1.4 0 1.3 0.2"/>
<path d="M620.2 201.8l1.3-0.6 1.4 0.7 1.3 0.7 1.4-0.4 1.3-0.7 1.3 0.9 1.4 0.7 1.3 0.5 1.4-0.5 1.3-1.2 1.4-2.1 1.3-0.7 1.3-0.1 1.4-0.3 1.3 1.3 1.4 0.1 1.3-0.5 1.4 0 1.3 0.5 1.4 0 1.3-0.3 1.3 0.5 1.4-1.3 1.3-2 1.4 0.3 1.3 1.5 1.4-1.5 1.3-0.4 1.3 1.2 1.4 0.8 1.3-0.7 1.4-2 1.3-0.6 1.4 1 1.3 2.9 1.3-0.2 1.4-1.6 1.3-1.4 1.4 0.3 1.3 0.7 1.4-1.4 1.3-0.4 1.4-0.7 1.3 0.5 1.3-0.7 1.4 0.5 1.3 1 1.4-0.2 1.3-0.6 1.4-1.7 1.3 0.2 1.3-1.4 1.4-1 1.3-0.3 1.4 1.1 1.3 0.3 1.4 0 1.3 0.1 1.3 0.5 1.4-0.7 1.3-0.3 1.4 0.3 1.3-0.2 1.4-1.2 1.3-0.9 1.4 0 1.3 0.5 1.3-0.1 1.4-1 1.3-0.4 1.4-0.4 1.3 0.2 1.4 0.2 1.3-0.2 1.3-2.1 1.4-3.6 1.3-5.6 1.4-2 1.3-3 1.4 1.5 1.3 0.6 1.3 0.7 1.4 0.3 1.3-1.4 1.4 0.2 1.3-0.7 1.4 0.7 1.3 4.3 1.4 2.2 1.3-0.3 1.3-0.4 1.4-0.3 1.3 3 1.4 2.3 1.3-3 1.4-2.1 1.3 1.6 1.3-0.7 1.4-2.4 1.3-0.7 1.4 1.4 1.3 1.5 1.4 1.2 1.3 2.5 1.3 1.3 1.4-0.1 1.3 0.6 1.4 1.3 1.3 1 1.4-1.5 1.3 2.3 1.4-0.3 1.3-0.3 1.3-3.2 1.4-4.1 1.3-4.9 1.4-5.9 1.3-3.8 1.4-3.9 1.3-4.1 1.3-4 1.4-0.8 1.3 1.8 1.4 0.1 1.3 0.5 1.4 0.6 1.3 1.8 1.3 0.1 1.4-0.3 1.3-2.6 1.4-1.1 1.3 0.5 1.4 2 1.3 2.9 1.4 3.9 1.3 5 1.3 4.7 1.4 3 1.3 2.5 1.4 5.3 1.3 4.8 1.4 2 1.3 1.8 1.3 0.4 1.4 0.3 1.3 0.2 1.4 1.1 1.3-0.6 1.4-0.1 1.3 0.3 1.3 0.6 1.4-0.2 1.3 0.4 1.4 1.1 1.3 1.8 1.4 1 1.3 0.3 1.4-0.7 1.3-0.4 1.3 0.3 1.4 0.8 1.3 0.4 1.4-0.3 1.3 0.8 1.4-0.3 1.3-1.3 1.3-3 1.4-2.1 1.3-2.1 1.4-0.3 1.3 0.7 1.4 1.5 1.3 0.3 1.3-0.6 1.4-0.3 1.3 0.4 1.4 0.6 1.3 0.4 1.4 1.3 1.3 1.1 1.4 1.4 1.3 1.7 1.3 2.6 1.4 1.2 1.3-0.3 1.4-0.3 1.3 0.4 1.4 1.1 1.3-0.3 1.3 0.2 1.4 0.7 1.3 1.7 1.4 1.6 1.3 0.8 1.4-0.1 1.3-0.5 1.3-0.8 1.4-0.7 1.3 0.4 1.4 0.7 1.3-0.1 1.4 0 1.3 1 1.4 0.7 1.3-0.1 1.3-0.5 1.4-0.4 1.3 0.7 1.4 1.1 1.3 0.1 1.4-0.9 1.3-0.1 1.3 0.4 1.4 0.1 1.3-0.6 1.4 0.4 1.3 0.9 1.4 1.4 1.3 0.1 1.4-0.5 1.3-0.3 1.3 0.2 1.4 0.6 1.3 0.3 1.4 0 1.3-1.1 1.4-1.4 1.3 0.4 1.3 1.6 1.4 0.7 1.3-1.2 1.4 0.3 1.3 0.9 1.4 0 1.3-0.7 1.3 0 1.4 0.2 1.3 0.5 1.4 0.2 1.3 0.5 1.4 0.6 1.3 0.4 1.4-0.7 1.3-1.2 1.3-0.6 1.4 0.8 1.3 1 1.4 0 1.3-0.7 1.4-0.2 1.3 0.2 1.3 0.3 1.4 0.6 1.3 0.7 1.4 0 1.3-0.4 1.4-0.1 1.3 0.3 1.3-0.3 1.4-0.3 1.3-0.1 1.4 0.2 1.3-0.6 1.4 0.4 1.3 0.6 1.4 0.1 1.3 0.2 1.3-0.3 1.4-0.2 1.3-0.4 1.4 0.3 1.3-0.2 1.4 0.3 1.3-0.1 1.3 0.3 1.4 0.7 1.3 0.4 1.4-0.8 1.3-1.1 1.4-0.7 1.3-0.1 1.3 0.6 1.4 0.6 1.3 0.8 1.4 0.3 1.3 0.1 1.4-0.2 1.3-0.2 1.4-0.2 1.3 0.3 1.3 0.3 1.4-0.4 1.3-0.4 1.4 0 1.3-0.2 1.4-0.2 1.3 0.2 1.3 0.8 1.4 0.4 1.3 0.2"/>
<path d="M622.9 196.1l1.4 0.5 1.3 0.6 1.3-0.9 1.4-0.3 1.3 0.5 1.4-0.2 1.3-0.3 1.4 0.5 1.3 0.5 1.3 0.4 1.4-0.4 1.3-0.1 1.4-0.9 1.3-1.6 1.4 0.8 1.3 0.5 1.3 0.1 1.4-0.2 1.3-0.7 1.4-0.3 1.3-0.1 1.4 0.4 1.3-1.8 1.4-3.2 1.3 0.8 1.3 3 1.4-0.1 1.3-1.2 1.4-0.4 1.3 0.2 1.4-0.2 1.3-0.8 1.3-0.8 1.4 0.3 1.3 0.9 1.4-0.2 1.3-0.3 1.4 0 1.3 0 1.4 0.9 1.3 0.5 1.3-0.3 1.4-2.8 1.3-1.8 1.4-0.7 1.3 0.2 1.4 0.8 1.3 1 1.3 1 1.4-0.7 1.3-0.3 1.4-0.9 1.3 0.1 1.4 0.4 1.3-0.5 1.3-2 1.4 0.8 1.3 0.3 1.4 1 1.3-0.4 1.4 0.1 1.3-0.7 1.4 0 1.3 0.4 1.3-0.9 1.4-2.4 1.3-0.7 1.4 0.5 1.3 0.7 1.4-0.7 1.3-1.3 1.3-1 1.4 0.5 1.3 0.6 1.4 0.2 1.3-3.4 1.4-4.3 1.3-3.7 1.3-2.4 1.4 0.8 1.3 1.1 1.4 0.1 1.3 1.3 1.4-1.2 1.3-1.6 1.4-2.4 1.3-0.6 1.3 4 1.4 3.5 1.3 1 1.4 1.6 1.3 0.4 1.4 0.7 1.3-0.2 1.3-2 1.4 0.8 1.3 2.4 1.4-0.7 1.3-2.9 1.4-0.9 1.3 1.3 1.3 1.3 1.4 0.7 1.3 1.1 1.4 0.6 1.3 0.8 1.4 1.9 1.3 1.6 1.4-0.3 1.3-1.4 1.3 2.3 1.4 0.9 1.3-0.2 1.4-2.8 1.3-5.7 1.4-6.9 1.3-6.5 1.3-2.7 1.4-2.4 1.3-3.9 1.4-3.7 1.3-1.5 1.4 1.9 1.3-0.1 1.3 1 1.4 1.6 1.3 1.7 1.4-1.1 1.3 0 1.4-0.2 1.3-1.6 1.4-1.9 1.3-0.3 1.3 3.2 1.4 5 1.3 5.4 1.4 4.3 1.3 2.7 1.4 3.2 1.3 5 1.3 4.8 1.4 2.6 1.3 1.1 1.4 0.5 1.3-0.7 1.4 1.4 1.3 1.1 1.3 0.6 1.4-1.2 1.3 0.2 1.4 1.3 1.3 1.6 1.4 0.8 1.3 0.5 1.4 0.2 1.3 0.9 1.3 1 1.4-0.3 1.3-0.2 1.4-0.2 1.3 0.3 1.4-1 1.3 0.2 1.3 1 1.4 0.6 1.3-2.5 1.4-4.3 1.3-3.2 1.4-0.5 1.3 0.3 1.3-0.3 1.4 0.2 1.3 1 1.4-0.1 1.3-0.2 1.4 0.8 1.3 0.8 1.4 0.3 1.3 1.9 1.3 2 1.4 1.8 1.3 1.1 1.4 1.2 1.3 0.5 1.4 1.4 1.3 0.9 1.3 0.1 1.4-0.1 1.3 0.2 1.4 0.8 1.3 1 1.4 1 1.3 0.5 1.3-0.2 1.4 0.2 1.3 0.6 1.4-0.1 1.3 0.1 1.4 0.5 1.3 1 1.4 0 1.3 0.2 1.3-0.2 1.4-0.5 1.3 0 1.4 0.7 1.3 0.4 1.4 0 1.3 1 1.3 0.5 1.4-0.4 1.3-0.6 1.4 0.1 1.3 0.7 1.4 0.3 1.3 0.7 1.3-0.3 1.4-0.9 1.3-0.3 1.4 0.1 1.3 0.8 1.4-0.5 1.3 0.3 1.4 0.5 1.3 0.5 1.3-0.2 1.4-0.3 1.3 0.4 1.4-0.1 1.3 0.1 1.4 0 1.3 0 1.3 0.2 1.4 0.4 1.3-0.1 1.4-0.7 1.3 0 1.4 0.1 1.3 0.1 1.4-0.4 1.3-0.3 1.3 0 1.4 1 1.3 0.4 1.4-0.4 1.3-0.3 1.4 0.5 1.3 0 1.3 0 1.4 0.4 1.3 0.6 1.4 0 1.3 0.1 1.4 0.2 1.3 0.5 1.3 0.3 1.4-0.2 1.3-0.2 1.4-0.5 1.3 0 1.4-0.2 1.3 0 1.4-0.2 1.3 0.1 1.3 0.3 1.4 1.1 1.3 0.2 1.4-0.5 1.3-1.3 1.4 0.1 1.3 0.3 1.3 0.5 1.4 0.2 1.3 0.2 1.4-0.1 1.3 0 1.4 0.6 1.3 0.4 1.3 0.1 1.4-0.5 1.3-0.2 1.4 0.2 1.3 0.3 1.4 0 1.3-0.8 1.4-0.3 1.3 0.3 1.3 0.5 1.4-0.2 1.3-0.2 1.4-0.2 1.3-0.1 1.4 0.2 1.3 0.4 1.3 0 1.4-0.3 1.3 0.1 1.4 0"/>
<path d="M625.6 189.7l1.4 0.3 1.3 1.6 1.4 0 1.3-1.5 1.4-0.1 1.3 1.6 1.3 0.7 1.4-0.6 1.3-1.3 1.4-0.4 1.3 0.8 1.4 0 1.3-1.2 1.3-1.7 1.4 1.9 1.3 0 1.4-0.1 1.3 0 1.4 0 1.3-1.4 1.4-0.4 1.3 0.5 1.3-0.2 1.4-2.1 1.3 0.5 1.4 1.5 1.3-0.3 1.4-0.8 1.3 0.9 1.3-0.4 1.4-1.2 1.3-1.7 1.4 0.5 1.3 1 1.4 1 1.3-0.2 1.3-0.6 1.4 0.4 1.3-0.1 1.4 0.2 1.3-1.1 1.4-0.1 1.3-1.2 1.4-0.8 1.3-0.3 1.3 1.5 1.4 1.2 1.3 0.7 1.4 0.5 1.3-1.7 1.4-1.5 1.3-1.6 1.3-1 1.4-0.3 1.3 0.8 1.4 1.6 1.3 0.7 1.4 0.2 1.3-0.8 1.4-0.1 1.3-0.6 1.3 0.6 1.4-1 1.3 0.4 1.4-0.8 1.3-1.4 1.4-1.8 1.3 0.4 1.3 0 1.4-1.2 1.3-0.3 1.4 1.2 1.3 0 1.4-1.3 1.3-0.7 1.3-1.6 1.4-5 1.3-4.3 1.4-4.5 1.3 1.4 1.4 0.2 1.3 1 1.4 1.3 1.3 0.6 1.3-0.7 1.4-2.3 1.3-0.6 1.4 5.6 1.3 3.2 1.4 0.9 1.3 0.8 1.3 0.4 1.4 0.7 1.3 1 1.4-2.7 1.3-0.8 1.4 0.8 1.3-0.6 1.3-1.9 1.4 0.1 1.3 3.3 1.4 2.1 1.3 1.6 1.4-0.3 1.3 0.6 1.4-1.1 1.3 1.4 1.3 0.4 1.4 0.1 1.3-2.2 1.4 2.2 1.3 0.6 1.4 0.2 1.3-2.4 1.3-5.2 1.4-6.9 1.3-6.9 1.4-2.8 1.3-2.7 1.4-4 1.3-4.5 1.3-1.8 1.4 1.4 1.3 0 1.4 0.1 1.3 1.6 1.4 1 1.3 0.4 1.4-0.3 1.3 0.6 1.3-2 1.4-0.4 1.3 0.2 1.4 4.1 1.3 3.8 1.4 4.9 1.3 4.6 1.3 4.3 1.4 3.7 1.3 4.6 1.4 3.9 1.3 3.1 1.4 2.1 1.3 1.1 1.3-0.9 1.4 0.3 1.3-0.5 1.4-0.6 1.3 0.8 1.4 1.2 1.3 1 1.4-0.6 1.3 1.4 1.3 1.4 1.4 0.1 1.3-0.7 1.4 0.1 1.3 1.1 1.4 0 1.3 0.9 1.3 0.9 1.4 1 1.3-0.6 1.4-0.6 1.3-0.8 1.4-1.3 1.3-3.8 1.3-3.9 1.4-2.3 1.3 0.5 1.4 0.3 1.3-0.4 1.4 0.4 1.3 0.5 1.4 0.7 1.3 0.2 1.3 0.6 1.4 0.9 1.3 1.3 1.4 1.6 1.3 1.4 1.4 2.4 1.3 2.4 1.3 0.8 1.4 0.4 1.3-0.1 1.4 1 1.3 0.3 1.4 0.7 1.3 0.4 1.3 1.5 1.4 1.4 1.3 0.7 1.4 0.3 1.3 0.8 1.4-0.4 1.3-1.3 1.4-0.8 1.3 0.6 1.3 0.8 1.4 0.4 1.3-0.4 1.4 0.3 1.3-0.3 1.4 0.6 1.3 0 1.3 0.9 1.4 0.1 1.3 0.7 1.4-0.2 1.3-0.1 1.4-0.1 1.3 1.1 1.3-0.1 1.4-0.2 1.3-0.1 1.4 1.1 1.3 0.3 1.4-0.2 1.3-0.6 1.4 0.3 1.3-0.1 1.3 0.3 1.4 0.2 1.3 0.3 1.4-0.6 1.3-0.3 1.4 0.7 1.3 0.6 1.3 0.5 1.4-0.1 1.3-0.1 1.4-0.6 1.3 0.4 1.4 0.4 1.3 0.2 1.3-0.5 1.4-0.4 1.3-0.7 1.4-0.2 1.3 0.4 1.4 0.6 1.3 0.3 1.4 0.5 1.3 0.1 1.3-0.4 1.4-0.4 1.3-0.2 1.4 0.2 1.3 0.1 1.4 0.3 1.3 0.4 1.3 0.6 1.4 0.7 1.3-0.3 1.4-0.2 1.3-0.5 1.4 0.3 1.3 0.1 1.4 0.1 1.3-0.1 1.3-0.3 1.4-0.2 1.3-0.2 1.4 0.2 1.3 0.1 1.4 0.5 1.3-0.2 1.3 0 1.4-0.4 1.3 0.3 1.4-0.5 1.3 0.3 1.4 0.7 1.3 0.4 1.3 0.1 1.4-0.1 1.3-0.2 1.4-0.4 1.3-0.2 1.4 0 1.3 0 1.4 0.5 1.3 0.1 1.3 0 1.4-0.1 1.3 0.8 1.4 0.1 1.3-0.8 1.4-1.1 1.3 0.8 1.3 0.5 1.4-0.1 1.3-0.2 1.4 0.5 1.3 0.4"/>
<path d="M628.4 186.2l1.3-0.5 1.4-0.4 1.3-0.2 1.3 0.1 1.4 0.3 1.3 0.2 1.4 0.3 1.3 1.3 1.4-0.6 1.3-1 1.3 0.3 1.4 2.3 1.3-0.5 1.4-3.4 1.3-0.2 1.4 0.9 1.3 0.5 1.4-0.7 1.3-1.7 1.3-0.6 1.4 0.4 1.3 1.8 1.4-1.1 1.3-3.5 1.4-0.9 1.3 2.5 1.3 1.4 1.4 0 1.3 0 1.4-1.2 1.3-0.8 1.4-1.7 1.3-0.2 1.3 0.3 1.4 1.9 1.3-0.2 1.4-0.8 1.3-0.5 1.4 0 1.3 0.9 1.4-0.6 1.3-0.2 1.3-1.4 1.4 0.2 1.3-0.2 1.4-0.4 1.3-0.5 1.4 1.5 1.3 0.9 1.3-1.8 1.4-1.9 1.3-0.5 1.4 0.7 1.3-0.1 1.4-0.2 1.3-1.2 1.3 0.4 1.4 0.8 1.3 2 1.4-0.9 1.3-1.2 1.4-0.5 1.3 0.5 1.4 0.3 1.3 0.1 1.3 0.9 1.4-0.3 1.3-0.3 1.4-1.3 1.3-2 1.4-0.8 1.3 0.7 1.3 1.4 1.4-1.9 1.3-1.9 1.4-2.7 1.3-3.5 1.4-3.4 1.3-4.1 1.4 1 1.3 1 1.3-0.2 1.4 0.1 1.3-0.2 1.4 0.6 1.3-1.1 1.4-1.3 1.3 4.3 1.3 2.6 1.4 2.1 1.3 0.5 1.4 1.3 1.3 0.1 1.4 0.5 1.3-2.1 1.3 2.1 1.4 1.6 1.3-1.2 1.4-3.8 1.3-0.4 1.4 2 1.3 3.2 1.4 1.7 1.3-0.5 1.3-0.7 1.4-0.4 1.3 1.1 1.4 0.2 1.3-0.7 1.4-0.1 1.3 2 1.3 0.2 1.4-1.8 1.3-2.4 1.4-5.3 1.3-5.9 1.4-6.6 1.3-2.8 1.3-2.9 1.4-3.5 1.3-4.8 1.4-3 1.3 0.9 1.4 0.9 1.3 2 1.4 2.3 1.3 1.9 1.3 0.9 1.4-0.9 1.3-2.5 1.4-3.4 1.3-0.6 1.4 0.9 1.3 4.3 1.3 4.4 1.4 4.8 1.3 5 1.4 5.6 1.3 5.3 1.4 5 1.3 1.5 1.3 1.2 1.4 1.7 1.3 2.5 1.4-1.1 1.3 0.9 1.4 0.5 1.3 0.9 1.4-0.6 1.3 0.6 1.3 1.1 1.4 0.9 1.3 0.5 1.4 0.4 1.3 1.3 1.4 0.9 1.3 0.9 1.3 0 1.4-0.1 1.3 0.2 1.4 0 1.3 0.2 1.4-0.3 1.3-0.4 1.3-0.9 1.4-3.4 1.3-4.3 1.4-3.4 1.3-1.3 1.4-0.7 1.3 0.1 1.4 1.1 1.3 0.9 1.3-0.3 1.4-0.2 1.3 1.3 1.4 1.8 1.3 0.4 1.4 1.3 1.3 1.9 1.3 1.6 1.4 1.2 1.3 2.1 1.4 2.1 1.3 1.5 1.4 0.6 1.3 0 1.3-0.1 1.4 0.5 1.3 0.6 1.4 0.7 1.3 1.3 1.4 0.7 1.3 0.9 1.4 0.4 1.3 0.1 1.3-0.2 1.4-0.4 1.3 0.1 1.4 0 1.3 0.5 1.4 0.2 1.3 0 1.3 0.8 1.4 1.2 1.3 0.8 1.4-0.5 1.3-0.3 1.4 0.2 1.3-0.1 1.3-0.9 1.4-0.2 1.3 0.4 1.4 0.2 1.3-0.4 1.4 0.4 1.3 0.7 1.4 0.8 1.3-0.1 1.3 0 1.4 0.1 1.3-0.1 1.4-0.1 1.3 0.5 1.4 0.8 1.3-0.7 1.3-1.5 1.4-0.1 1.3 2.1 1.4 1 1.3-0.4 1.4-0.9 1.3 0.1 1.3 0.1 1.4-0.1 1.3-0.3 1.4 0.2 1.3 1 1.4-0.1 1.3-0.3 1.4-0.1 1.3 0 1.3-0.4 1.4 0.1 1.3 0.4 1.4-0.1 1.3 0 1.4 0.1 1.3 0.4 1.3-0.5 1.4-0.4 1.3 0.3 1.4 0.5 1.3-0.1 1.4-0.3 1.3 0.5 1.3 0.1 1.4 0.2 1.3 0.4 1.4 0.2 1.3 0.1 1.4 0.3 1.3-0.1 1.4-0.4 1.3-0.2 1.3 0.4 1.4-0.2 1.3 0.1 1.4-0.1 1.3-0.2 1.4 0.1 1.3-0.1 1.3 0.2 1.4 0.1 1.3 0.9 1.4-0.3 1.3 0.4 1.4-0.1 1.3 0.3 1.4-0.5 1.3-0.1 1.3 0.1 1.4-0.1 1.3-0.5 1.4-0.3 1.3 0.4 1.4 0.4 1.3 0 1.3-0.4 1.4-0.3 1.3 0.2 1.4 0 1.3-0.2 1.4-0.3"/>
<path d="M631.1 179.0l1.3 0.2 1.4 1.3 1.3 0.1 1.4 0.3 1.3 0 1.4 0.9 1.3 0.5 1.3 0.5 1.4-1.9 1.3-1.2 1.4 0.3 1.3 0.9 1.4-1.1 1.3-1.7 1.4 1.2 1.3 0.9 1.3-0.1 1.4-1.2 1.3-1.3 1.4-0.5 1.3 0.2 1.4-0.1 1.3-0.4 1.3-1 1.4 0.5 1.3 1.5 1.4-0.6 1.3 0.3 1.4-0.4 1.3 0.2 1.3-0.1 1.4 0.8 1.3-0.5 1.4-0.4 1.3 0.5 1.4-0.1 1.3-0.4 1.4-0.4 1.3 0.2 1.3 0.1 1.4-0.7 1.3-1.2 1.4-1.9 1.3-0.1 1.4-0.7 1.3-0.2 1.3 1 1.4 1.7 1.3 1.5 1.4-1.2 1.3-0.7 1.4-0.7 1.3 0.4 1.3-0.3 1.4 0 1.3 0.1 1.4-0.5 1.3-0.9 1.4 0.2 1.3 0.2 1.4-0.9 1.3-0.8 1.3-0.4 1.4 0.2 1.3-0.3 1.4-0.2 1.3-0.6 1.4 0 1.3-0.8 1.3-1.1 1.4-1.7 1.3 0.9 1.4 1.5 1.3-1 1.4-3.1 1.3-3.3 1.3-3.6 1.4-2.2 1.3-3.1 1.4 0.5 1.3 0.1 1.4 0.4 1.3 2.1 1.4 1 1.3 0 1.3-1.4 1.4-0.9 1.3 3.7 1.4 2.2 1.3 0.8 1.4 1.2 1.3 1.1 1.3 1.6 1.4 0.6 1.3-2.5 1.4-0.1 1.3 0.8 1.4-0.7 1.3-3.7 1.4-0.1 1.3 1.3 1.3 3.9 1.4 2.2 1.3 1.4 1.4-1.6 1.3-1 1.4 2.5 1.3 2 1.3-1.4 1.4-1.8 1.3 2.1 1.4-1.5 1.3-3.8 1.4-3.8 1.3-3.7 1.3-6.5 1.4-6.4 1.3-2.9 1.4-1.9 1.3-4 1.4-4.1 1.3-1.5 1.4 1 1.3 0.9 1.3 1.3 1.4 2.2 1.3 1.6 1.4 0.5 1.3 0.1 1.4-2.7 1.3-2.3 1.3-0.7 1.4 1.3 1.3 3.6 1.4 4.1 1.3 4.9 1.4 5.3 1.3 5.8 1.3 4.7 1.4 4.3 1.3 2.9 1.4 2.2 1.3 2.9 1.4 2.1 1.3 0.3 1.4 0 1.3-0.3 1.3-0.9 1.4 0.7 1.3 1.4 1.4 1.6 1.3 0.6 1.4 0.3 1.3-0.1 1.3 0.3 1.4 0.3 1.3-0.4 1.4 0.1 1.3 1 1.4 0.6 1.3-0.4 1.3-0.2 1.4 0.1 1.3-1.4 1.4-3 1.3-3.8 1.4-3.3 1.3-2.5 1.4-0.5 1.3-0.2 1.3-0.2 1.4-0.4 1.3 0.9 1.4 0.5 1.3 0.8 1.4 0.2 1.3-0.2 1.3 0.8 1.4 2.5 1.3 2.3 1.4 1.6 1.3 2 1.4 2.8 1.3 1.3 1.3 1 1.4 0.9 1.3 1.1 1.4 0 1.3 0.2 1.4 1.1 1.3 1.4 1.4 0.7 1.3 0.3 1.3-0.5 1.4 0.4 1.3 0.5 1.4 0.5 1.3-0.8 1.4 0.2 1.3 0.8 1.3 0.9 1.4-0.5 1.3-0.6 1.4 0.7 1.3 1 1.4 0.4 1.3-0.9 1.3 0 1.4 0.6 1.3 0.7 1.4-0.6 1.3-1.1 1.4 0.5 1.3 1.4 1.4 0.8 1.3-0.3 1.3-0.5 1.4-0.2 1.3-0.1 1.4 0.1 1.3 0.7 1.4 1.1 1.3 0.2 1.3-0.4 1.4-0.4 1.3 0.1 1.4-0.3 1.3-0.1 1.4 0.1 1.3 0.7 1.3 0.2 1.4-0.1 1.3-0.3 1.4 0.3 1.3 0.3 1.4-0.1 1.3-0.3 1.4-0.4 1.3-0.2 1.3 0.4 1.4 1.1 1.3-0.2 1.4-0.3 1.3-0.1 1.4 0.5 1.3-0.3 1.3 0 1.4 0.4 1.3 0.6 1.4-0.5 1.3-0.6 1.4 0.2 1.3 0.4 1.3 0.2 1.4 0.3 1.3 1 1.4 0 1.3-0.6 1.4-1.1 1.3-0.3 1.4-0.2 1.3 0.2 1.3 0.2 1.4 0.8 1.3 0.5 1.4 0.4 1.3-0.5 1.4 0.2 1.3 0 1.3 0 1.4-0.6 1.3 0 1.4 0.2 1.3 0.5 1.4-0.2 1.3-0.1 1.3-0.1 1.4 0.1 1.3 0 1.4 0.1 1.3 0.2 1.4-0.1 1.3-0.1 1.4 0.1 1.3-0.4 1.3-0.2 1.4 0.5 1.3 0.3 1.4-0.5 1.3-0.6 1.4 0.2 1.3 0.5"/>
<path d="M633.8 175.3l1.4-0.3 1.3 0.4 1.4 0 1.3 0.4 1.3 0 1.4-0.8 1.3-1 1.4-0.1 1.3 0.4 1.4 0.5 1.3-0.1 1.4-0.2 1.3-1 1.3-1.3 1.4 1.1 1.3 0.4 1.4 0.7 1.3-0.8 1.4-0.5 1.3-0.3 1.3 1.1 1.4 0 1.3-1 1.4-2.3 1.3 0.7 1.4 1.1 1.3 0.4 1.3-0.6 1.4 0.1 1.3-1.4 1.4 0.2 1.3-0.2 1.4-0.1 1.3 0 1.4 1.1 1.3-0.2 1.3-2.1 1.4-0.6 1.3 1 1.4 1.9 1.3 0.2 1.4 0.4 1.3-1.4 1.3-0.6 1.4-1.6 1.3 0.6 1.4-0.9 1.3 0.2 1.4 0.4 1.3-1.2 1.3 0.1 1.4 0.5 1.3 1.4 1.4-1.6 1.3-0.4 1.4 0.4 1.3 1.1 1.4-1.3 1.3-0.6 1.3-0.6 1.4 0.6 1.3 0.5 1.4-0.7 1.3-1.8 1.4-1.5 1.3-1.1 1.3 1.3 1.4 0.7 1.3 0.2 1.4-1.1 1.3 0.1 1.4 1.1 1.3 0.2 1.3-2.1 1.4-3.2 1.3-3.6 1.4-3.3 1.3-3 1.4-3.4 1.3 0.9 1.4 0.2 1.3-0.4 1.3 1.7 1.4 0.8 1.3 0.5 1.4-1.4 1.3 0.4 1.4 2.3 1.3 2.3 1.3 0.8 1.4 2.2 1.3 1.1 1.4 1.7 1.3 1.1 1.4-2.2 1.3 0.6 1.3 0.3 1.4-1.4 1.3-2.9 1.4-0.8 1.3 0.6 1.4 2.4 1.3 2.2 1.4 1.5 1.3 0.4 1.3 0.3 1.4 0.8 1.3 0.6 1.4-0.2 1.3-0.2 1.4 0.4 1.3-2.6 1.3-3.2 1.4-3.5 1.3-4.4 1.4-6.2 1.3-6.1 1.4-3.4 1.3-1.4 1.4-2.7 1.3-3.2 1.3-1.5 1.4 0.1 1.3-0.8 1.4 0.9 1.3 2.5 1.4 2.3 1.3 0.5 1.3-1.4 1.4-2.3 1.3-3.4 1.4-1.6 1.3 0.4 1.4 5.5 1.3 5.4 1.3 5.6 1.4 5.5 1.3 5.3 1.4 4.2 1.3 5.4 1.4 3.7 1.3 1.9 1.4 1.4 1.3 1.2 1.3-0.1 1.4 0.4 1.3 0.3 1.4 0.1 1.3 0.9 1.4 2 1.3 1.2 1.3-0.2 1.4-0.4 1.3 0.6 1.4 1.4 1.3 0.6 1.4 0.1 1.3-0.3 1.3 1.4 1.4 0.7 1.3 0.1 1.4-1.4 1.3-1.6 1.4-2.6 1.3-2.4 1.4-3 1.3-3.5 1.3-4.1 1.4-1.3 1.3 0.3 1.4 0.8 1.3-0.1 1.4 0.8 1.3-0.1 1.3-0.2 1.4 0.6 1.3 2.2 1.4 1.5 1.3 0.7 1.4 1.5 1.3 2.4 1.3 3.2 1.4 2 1.3 0.7 1.4 0.6 1.3 1.7 1.4 1.8 1.3 1.2 1.4 0.2 1.3 0.9 1.3 0.4 1.4 0.6 1.3-0.2 1.4 0.6 1.3 0.9 1.4 0.7 1.3-0.1 1.3-0.9 1.4 0.3 1.3 0.2 1.4 0.6 1.3-0.2 1.4 0.6 1.3-0.3 1.3 0.2 1.4 0.2 1.3 0.4 1.4 0.2 1.3 0.5 1.4 0.2 1.3-0.5 1.4-0.6 1.3 0.9 1.3 0.6 1.4-0.5 1.3-1.1 1.4 0 1.3 0.6 1.4 0.9 1.3 0 1.3 0.2 1.4 0.2 1.3 0.8 1.4 0.8 1.3 0.5 1.4-0.3 1.3-0.8 1.3-0.4 1.4 0.4 1.3 0.5 1.4 0.2 1.3 0 1.4-0.2 1.3-0.3 1.4 0 1.3 0.4 1.3 0 1.4-0.4 1.3-0.2 1.4 0.6 1.3 0.9 1.4 0.2 1.3-0.7 1.3-0.5 1.4 0.5 1.3 0.2 1.4-0.4 1.3-0.6 1.4 0 1.3 0.4 1.3 0.7 1.4 0.5 1.3 0.5 1.4 0.1 1.3-0.3 1.4-1.1 1.3-0.4 1.4 0.2 1.3 0.6 1.3 0.2 1.4 0.2 1.3-0.1 1.4-0.2 1.3 0.1 1.4 0.3 1.3 0.9 1.3 0.1 1.4-0.1 1.3-0.6 1.4-0.1 1.3-0.8 1.4-0.3 1.3 0.6 1.3 1.1 1.4 0.5 1.3-0.6 1.4-0.2 1.3 0 1.4 0.7 1.3-0.3 1.4 0 1.3-0.3 1.3 0.1 1.4-0.4 1.3 0 1.4 0.3 1.3 0.4 1.4 0.3 1.3-0.4 1.3-0.7"/>
<path d="M636.6 169.7l1.3-0.1 1.3 1.1 1.4-0.8 1.3 0.1 1.4-0.6 1.3-0.1 1.4-0.5 1.3 0.6 1.4 1 1.3-0.3 1.3-0.6 1.4-0.2 1.3 0 1.4-1 1.3 1.7 1.4 0.5 1.3-0.3 1.3-0.8 1.4-0.5 1.3-1.3 1.4-0.7 1.3 0.7 1.4-0.9 1.3-2.1 1.3 0.4 1.4 3.4 1.3 0.2 1.4-0.6 1.3-1.1 1.4-0.2 1.3-0.9 1.4 0.2 1.3-0.5 1.3 0.4 1.4 1.3 1.3 0.1 1.4-1.1 1.3-0.7 1.4-0.1 1.3-0.2 1.3-0.3 1.4 0.4 1.3-0.4 1.4-0.9 1.3-0.3 1.4-0.2 1.3-0.1 1.3-0.4 1.4 0.4 1.3-1.3 1.4-0.2 1.3 0.1 1.4 1.2 1.3 1.1 1.4 0.4 1.3-1.3 1.3-2.1 1.4-1.5 1.3 1 1.4 0.5 1.3 0.5 1.4 0.7 1.3 0.6 1.3-0.8 1.4-1.9 1.3-0.4 1.4-0.3 1.3-0.2 1.4-1.3 1.3 0.8 1.3-0.3 1.4 0.4 1.3-1.2 1.4-1.5 1.3-2.4 1.4-2.1 1.3-3.9 1.4-2.5 1.3-3.5 1.3 0.9 1.4-0.8 1.3 0 1.4 1.1 1.3 1.1 1.4-0.8 1.3-0.1 1.3 0.5 1.4 4.8 1.3 0.9 1.4 1 1.3 1 1.4 0.9 1.3 1.2 1.3 2.4 1.4-0.9 1.3 0.5 1.4 0.4 1.3-1.5 1.4-3 1.3-1.4 1.4 1.1 1.3 2.7 1.3 2.4 1.4 1.1 1.3 0.4 1.4-0.7 1.3-0.1 1.4 0.7 1.3 1.1 1.3 1.3 1.4 0.3 1.3-3.3 1.4-4.6 1.3-2.9 1.4-4.7 1.3-4.6 1.3-7.2 1.4-3.3 1.3-3.1 1.4-3.5 1.3-4.3 1.4-2.2 1.3 1.1 1.4-0.5 1.3 1.5 1.3 2.3 1.4 1.6 1.3 0 1.4-0.8 1.3-2.4 1.4-2 1.3 0.6 1.3 1.2 1.4 2.9 1.3 4.6 1.4 5.6 1.3 6.3 1.4 5.8 1.3 4.7 1.4 4 1.3 3.2 1.3 2.6 1.4 2.2 1.3 1.6 1.4-0.2 1.3 1 1.4 0 1.3-0.4 1.3 0.6 1.4 1.4 1.3 0.5 1.4 0 1.3 1 1.4 0.5 1.3 0.8 1.3 0.4 1.4 0.7 1.3-0.2 1.4-0.6 1.3-0.2 1.4 0.5 1.3 0.3 1.4-0.9 1.3-1.8 1.3-2.7 1.4-4.2 1.3-4.7 1.4-3.4 1.3-0.2 1.4 0.6 1.3-0.2 1.3-0.4 1.4 0 1.3 0.2 1.4 0.6 1.3 1 1.4 1.1 1.3 1.1 1.3 2 1.4 1.3 1.3 1.9 1.4 2.9 1.3 2.3 1.4 0.3 1.3 0.5 1.4 2.6 1.3 2 1.3 0.8 1.4 0.8 1.3 2 1.4 0.7 1.3 0.2 1.4 0.3 1.3 0.7 1.3 0 1.4 0 1.3 0.3 1.4 1 1.3 0 1.4 0.1 1.3-0.1 1.3 0.4 1.4-0.3 1.3 0.3 1.4 0.2 1.3 0.8 1.4 0.2 1.3-0.1 1.4-0.2 1.3-0.5 1.3-0.6 1.4-0.3 1.3 1 1.4 0.4 1.3-0.3 1.4-0.4 1.3 0.9 1.3 0.3 1.4-0.4 1.3-0.6 1.4 0.1 1.3 0.5 1.4 0 1.3 0.5 1.3 0 1.4 0 1.3-0.2 1.4 0.5 1.3 0.1 1.4 0.1 1.3-0.3 1.4 0.2 1.3 0 1.3 0.9 1.4 0.3 1.3 0.4 1.4-0.2 1.3 0 1.4-0.2 1.3 0 1.3-0.1 1.4 0.7 1.3 0.1 1.4-0.2 1.3-0.8 1.4 0.4 1.3 0.9 1.3 0.3 1.4-0.3 1.3-0.5 1.4-0.1 1.3 0 1.4 0.1 1.3 0 1.4 0.4 1.3 0.5 1.3 0.2 1.4-0.2 1.3-0.2 1.4-0.4 1.3-0.2 1.4 0.1 1.3 0.1 1.3 0 1.4 0.4 1.3 0.5 1.4 0 1.3-0.2 1.4-0.1 1.3 0.4 1.3 0.3 1.4-0.2 1.3-0.3 1.4 0 1.3 0.4 1.4 0.5 1.3-0.2 1.4-0.1 1.3-0.6 1.3-0.3 1.4-0.9 1.3 0.3 1.4 0.6 1.3 0.8 1.4-0.1 1.3 0 1.3 0 1.4 0.1"/>
<path d="M639.3 164.8l1.3-0.3 1.4 0 1.3-0.3 1.4-0.5 1.3 0.6 1.4 0.5 1.3-0.4 1.3-0.8 1.4-0.1 1.3-0.1 1.4 0.8 1.3 0.5 1.4-0.5 1.3-1.7 1.3 0.7 1.4-1 1.3-0.7 1.4 0.1 1.3 0.8 1.4 0.3 1.3 0.2 1.3 0.2 1.4-1.3 1.3-2.9 1.4 0.4 1.3 2.2 1.4 0.9 1.3-0.1 1.4-0.3 1.3-0.8 1.3-0.3 1.4-0.4 1.3 0.6 1.4-0.9 1.3 0.9 1.4-0.6 1.3 1.3 1.3-0.5 1.4 0.4 1.3-0.9 1.4-0.9 1.3-0.6 1.4 0.2 1.3 1 1.3 0.3 1.4-0.6 1.3 0.2 1.4-0.2 1.3 1.4 1.4-1.6 1.3-0.1 1.4-1.9 1.3-0.5 1.3-0.7 1.4 0.6 1.3-0.2 1.4-0.4 1.3-1.5 1.4 0.5 1.3-0.2 1.3-0.6 1.4-0.3 1.3 1.8 1.4 1.3 1.3-1.7 1.4-1 1.3-0.3 1.3 0.1 1.4-0.6 1.3-1.2 1.4-0.5 1.3-1.1 1.4 1 1.3-0.8 1.4-2.2 1.3-4.4 1.3-3.4 1.4-0.8 1.3-3.1 1.4 0.4 1.3-0.3 1.4 0.5 1.3 0.6 1.3 1.4 1.4 0.4 1.3-1 1.4-1.2 1.3 3.8 1.4 4.7 1.3 1 1.3-0.3 1.4-0.8 1.3 1.5 1.4 0.7 1.3-2.2 1.4 1.8 1.3 1.4 1.4-1.3 1.3-3.8 1.3 0.1 1.4 1.3 1.3 2.6 1.4 1.9 1.3 1.6 1.4 0.3 1.3-0.7 1.3 1.2 1.4 0.7 1.3-0.1 1.4-2 1.3 0.3 1.4-1.9 1.3-2.7 1.3-4.7 1.4-5.6 1.3-5.7 1.4-5.6 1.3-3.6 1.4-3.9 1.3-3.5 1.4-3.6 1.3-0.8 1.3 2.2 1.4 1.2 1.3 0.6 1.4 0.5 1.3 1.4 1.4 1.1 1.3 0.2 1.3-2.2 1.4-3.5 1.3-1.8 1.4 0.9 1.3 4.8 1.4 5.6 1.3 4.2 1.3 5.1 1.4 6 1.3 5.2 1.4 5.1 1.3 3.8 1.4 3 1.3 1.8 1.4 2.4 1.3-0.3 1.3 0.2 1.4 0 1.3 0.9 1.4-0.1 1.3 0.1 1.4 0.3 1.3 1.4 1.3 1.7 1.4 1.5 1.3 0.8 1.4-0.9 1.3-1 1.4-0.1 1.3 0.5 1.4 0.2 1.3 0.6 1.3 0.4 1.4-2.3 1.3-3.2 1.4-3.5 1.3-3.4 1.4-4.2 1.3-3.1 1.3-1.8 1.4 0.5 1.3 0.8 1.4 1.2 1.3 0 1.4 0.3 1.3-1 1.3 0.4 1.4 0.3 1.3 1.7 1.4 2.1 1.3 2.5 1.4 2.7 1.3 2.9 1.4 3.1 1.3 1.6 1.3 1 1.4 1.3 1.3 1.4 1.4 0.9 1.3 0.9 1.4 1.3 1.3 0.6 1.3 0 1.4 0.3 1.3 0.6 1.4 0.5 1.3 0 1.4-0.1 1.3 0.2 1.3 0.3 1.4 0.3 1.3 0.2 1.4 0.5 1.3-0.5 1.4-0.3 1.3 0.4 1.4 0.6 1.3 0.4 1.3-0.2 1.4 1.1 1.3-0.3 1.4-0.5 1.3-0.7 1.4 1 1.3 0.6 1.3 0.5 1.4-0.3 1.3 0.3 1.4 0 1.3 0.4 1.4-0.6 1.3-0.2 1.3-0.5 1.4 1.1 1.3 0.6 1.4 0.4 1.3 0 1.4-0.2 1.3-0.7 1.4 0 1.3 0.4 1.3 0 1.4-0.4 1.3 0.1 1.4 1 1.3 0.1 1.4 0.2 1.3-0.6 1.3-0.1 1.4-0.5 1.3 0.3 1.4 0.7 1.3 0.3 1.4 0.1 1.3-0.4 1.3 0.3 1.4 0.2 1.3 0.2 1.4-0.7 1.3 0.2 1.4 0.4 1.3 0.2 1.4-0.1 1.3-0.1 1.3 0.4 1.4 0.3 1.3 0.4 1.4 0.1 1.3-0.4 1.4-0.8 1.3-0.3 1.3 0.6 1.4 0.4 1.3-0.5 1.4 0 1.3 0.4 1.4 0.6 1.3-0.5 1.3-0.2 1.4-0.7 1.3 0.6 1.4 0.1 1.3 0.4 1.4 0 1.3 0.5 1.4 0.1 1.3-0.1 1.3-0.2 1.4 0.1 1.3-0.1 1.4-0.2 1.3-0.6 1.4 0 1.3 0.8 1.3 0.9 1.4 0.1 1.3-0.3"/>
<path d="M642.0 159.0l1.4 0.5 1.3 0.6 1.4-0.3 1.3-0.4 1.3 0.2 1.4 0.6 1.3 0 1.4 0.1 1.3-0.4 1.4-1.1 1.3-1.7 1.3 0.1 1.4 0 1.3-0.7 1.4 1.4 1.3 1.3 1.4 0.2 1.3-0.5 1.3-0.2 1.4-0.2 1.3-0.6 1.4-0.3 1.3-0.8 1.4-3.3 1.3-0.3 1.4 2.9 1.3 2.4 1.3-0.7 1.4-0.6 1.3-0.4 1.4 0 1.3-0.8 1.4-0.4 1.3 0.4 1.3 0.5 1.4-1 1.3-1 1.4-0.3 1.3 0.6 1.4 0.6 1.3 0.5 1.3-0.6 1.4-1.5 1.3 0 1.4 0.5 1.3 0.1 1.4 0.3 1.3 0.7 1.4 0 1.3-1.3 1.3-0.5 1.4-0.8 1.3-1 1.4-0.3 1.3-0.9 1.4 0.9 1.3 1.8 1.3-0.2 1.4-0.8 1.3-1.6 1.4 0.5 1.3-0.6 1.4 0.3 1.3-0.3 1.3 0.8 1.4 0.3 1.3-0.3 1.4-0.6 1.3-0.2 1.4-0.5 1.3 0.2 1.4 0 1.3-0.4 1.3-3.2 1.4-1.8 1.3-3.5 1.4-2.3 1.3-2.6 1.4-3.1 1.3-0.8 1.3-0.3 1.4-0.6 1.3 1.1 1.4 1.6 1.3 0.8 1.4-2.5 1.3-1.7 1.3 3.7 1.4 4 1.3 2.1 1.4 1.2 1.3-0.3 1.4 1.1 1.3 0.5 1.4 0.2 1.3 2.6 1.3 2.2 1.4-1.7 1.3-3.4 1.4-1.8 1.3 0.5 1.4 1.7 1.3 2.4 1.3 0.2 1.4 0.1 1.3-0.2 1.4 2.7 1.3 1.5 1.4-0.7 1.3-1.8 1.3 0.4 1.4-3.4 1.3-5.7 1.4-5.2 1.3-5.4 1.4-5.5 1.3-4.7 1.4-1.1 1.3-2.3 1.3-5.2 1.4-4.6 1.3-2 1.4 1.7 1.3 0.5 1.4 2 1.3 2.1 1.3 2 1.4-0.4 1.3-0.6 1.4-2.3 1.3-2.4 1.4-0.4 1.3 1.1 1.3 3.1 1.4 4.2 1.3 5.6 1.4 7.1 1.3 5.9 1.4 4.4 1.3 4 1.4 3.3 1.3 3.5 1.3 3.2 1.4 2.9 1.3-0.3 1.4 0.2 1.3 0 1.4 0.4 1.3 1.1 1.3 1.1 1.4 0.5 1.3-0.2 1.4 0.9 1.3 0.4 1.4-0.7 1.3-0.9 1.3 0.5 1.4 1.4 1.3 1.1 1.4 1.3 1.3-0.3 1.4-2 1.3-3.9 1.4-3.3 1.3-3.4 1.3-4 1.4-3.6 1.3-2.8 1.4-0.7 1.3-0.7 1.4 0.9 1.3 0.7 1.3 1.2 1.4-0.4 1.3 0 1.4 0.4 1.3 1.2 1.4 1.7 1.3 2.9 1.4 2 1.3 2.4 1.3 3.1 1.4 3.4 1.3 2.2 1.4 0.8 1.3 0.5 1.4 0.1 1.3 1.5 1.3 1.3 1.4 1.7 1.3 0.3 1.4-0.3 1.3-0.2 1.4 1.6 1.3 1 1.3 0.1 1.4-0.8 1.3 0.1 1.4 0.1 1.3 1 1.4 0.1 1.3 0 1.4-0.3 1.3 0.4 1.3 0.5 1.4-0.1 1.3 0.2 1.4 0.4 1.3 0.8 1.4-0.1 1.3-0.4 1.3-0.6 1.4 0.1 1.3 0 1.4 0.4 1.3 0.4 1.4 0.8 1.3 1.1 1.3 0.4 1.4-0.6 1.3-0.8 1.4 0 1.3 1.2 1.4 0.2 1.3-0.1 1.4-1.3 1.3-0.3 1.3 0.3 1.4 0.3 1.3 0.5 1.4 0.5 1.3 0 1.4-0.5 1.3 0.4 1.3 0.3 1.4 0.4 1.3-0.2 1.4 0.6 1.3-0.5 1.4-0.3 1.3 0 1.3 0.1 1.4 0 1.3-0.4 1.4 0.2 1.3 0 1.4 0 1.3-0.3 1.4 0 1.3 0.4 1.3 0.7 1.4 0 1.3-0.3 1.4-0.4 1.3 0.7 1.4 0.6 1.3 0.2 1.3-0.6 1.4-0.5 1.3 0.1 1.4 0.6 1.3 0.1 1.4-0.3 1.3-0.1 1.3 0.7 1.4 0.9 1.3 0.1 1.4-0.4 1.3-0.4 1.4 0.6 1.3 0.3 1.4-0.5 1.3-1 1.3-0.2 1.4 0.6 1.3 0 1.4-0.2 1.3-0.2 1.4 0.3 1.3-0.1 1.3-0.2 1.4 0.5 1.3 1.1 1.4-0.1"/>
<path d="M644.8 154.0l1.3-0.6 1.3 0.2 1.4 0.7 1.3 1.1 1.4-0.8 1.3-0.8 1.4-1.9 1.3 0.3 1.3 0.7 1.4 1.6 1.3-0.4 1.4 0.8 1.3-0.6 1.4-2.3 1.3 0.3 1.3 1.5 1.4 1.1 1.3-1.2 1.4-0.6 1.3-1 1.4 0 1.3-0.1 1.4-0.8 1.3-2.7 1.3 1.2 1.4 2.7 1.3 0.3 1.4-1.4 1.3-0.7 1.4 0.1 1.3 0.2 1.3-0.4 1.4-1.1 1.3-0.2 1.4 0.5 1.3 0 1.4 0 1.3 0.1 1.3 0 1.4-0.9 1.3 0.6 1.4 0.3 1.3-0.6 1.4-0.2 1.3 0 1.4-0.2 1.3-0.2 1.3 1.4 1.4 0.7 1.3-2.2 1.4-1.6 1.3-1 1.4 0.8 1.3 1.8 1.3 0.5 1.4 0.4 1.3 0.5 1.4-1.3 1.3-2.4 1.4-1.5 1.3 1 1.3 1.4 1.4 0.8 1.3 0.3 1.4-1.2 1.3-0.9 1.4-0.3 1.3-0.2 1.4-0.5 1.3-0.8 1.3 0.6 1.4 0.6 1.3-0.7 1.4-3.5 1.3-3.5 1.4-3.2 1.3-3.6 1.3-2.1 1.4-3.1 1.3 0.4 1.4 0.3 1.3 0.8 1.4 2.4 1.3 1.6 1.3 0.5 1.4-2.3 1.3-1.7 1.4 5 1.3 3.7 1.4 1.2 1.3 0.3 1.4 0.8 1.3 1.6 1.3 0.2 1.4-2.2 1.3 1 1.4 2.3 1.3 0.1 1.4-3.8 1.3-0.1 1.3 1.7 1.4 2.9 1.3 0.6 1.4 0.8 1.3 0.6 1.4-1.7 1.3 0.1 1.3 0.3 1.4 0.5 1.3-2.4 1.4 0.2 1.3-3.6 1.4-3.5 1.3-3.9 1.4-4.6 1.3-6 1.3-5.9 1.4-3.5 1.3-4.6 1.4-5.3 1.3-3.9 1.4-0.7 1.3 1.7 1.3 0.4 1.4 1.1 1.3 2.9 1.4 2.2 1.3 1 1.4-1 1.3-3.3 1.3-3.7 1.4-0.9 1.3 1.3 1.4 5 1.3 6.6 1.4 5.6 1.3 4.5 1.4 5.6 1.3 6.9 1.3 6.4 1.4 4.2 1.3 1.8 1.4 1.4 1.3 1.6 1.4 0.3 1.3-0.1 1.3-0.5 1.4 0.7 1.3 1.3 1.4 1.8 1.3 0.1 1.4 0.1 1.3 0.9 1.3 0.5 1.4 0.1 1.3-0.7 1.4 0 1.3 0.4 1.4 0.5 1.3 0.5 1.4-0.2 1.3-1.3 1.3-3.6 1.4-3.7 1.3-3 1.4-3.7 1.3-4.1 1.4-3 1.3-1.1 1.3 0.5 1.4 0.2 1.3 0.5 1.4-0.1 1.3 0.2 1.4-0.2 1.3 0.3 1.3 1.2 1.4 2.2 1.3 3 1.4 2.5 1.3 2.7 1.4 3.6 1.3 2.7 1.4 1.1 1.3 0.8 1.3 2 1.4 0.9 1.3 0.5 1.4 1 1.3 2.4 1.4 1.1 1.3 1 1.3-0.5 1.4 0.2 1.3 1 1.4 0.9 1.3-0.3 1.4-0.8 1.3 0.7 1.4 0.5 1.3 0.7 1.3-0.2 1.4 0 1.3 0.1 1.4 0.2 1.3-0.4 1.4-0.4 1.3-0.5 1.3 1.3 1.4 0.7 1.3-0.8 1.4-1.2 1.3 0.9 1.4 1.5 1.3 0.1 1.3 0 1.4 0.1 1.3 0.3 1.4-0.6 1.3-0.4 1.4 0.7 1.3 0.5 1.4 0 1.3-0.6 1.3 0.3 1.4 0 1.3-0.5 1.4-0.8 1.3 0.9 1.4 1.7 1.3-0.2 1.3-0.5 1.4-0.9 1.3 1.1 1.4-0.1 1.3 0.4 1.4-0.6 1.3 0.2 1.3-0.1 1.4-0.1 1.3 0.3 1.4 0.2 1.3 0.1 1.4 0.2 1.3 0.2 1.4 0.4 1.3 0.6 1.3 0.1 1.4-0.4 1.3-0.5 1.4-0.1 1.3 0.2 1.4 0.7 1.3 0.2 1.3 0.2 1.4 0.1 1.3 0.2 1.4-0.2 1.3-0.7 1.4-0.5 1.3-0.5 1.3 0.2 1.4-0.2 1.3 0.7 1.4 0.7 1.3 0.5 1.4-0.2 1.3 0 1.4 0 1.3-0.6 1.3-0.3 1.4 0.3 1.3 0.2 1.4 0.2 1.3 0.3 1.4 0.4 1.3-0.2 1.3-0.1 1.4-0.3 1.3 0.1 1.4 0 1.3 0.4"/>
<path d="M647.5 149.0l1.3-0.8 1.4-0.9 1.3-0.3 1.4 0.3 1.3 0.3 1.3 0.3 1.4-0.4 1.3 0.3 1.4-0.1 1.3-0.2 1.4 0.2 1.3 1.9 1.3-0.2 1.4-1.8 1.3-0.7 1.4 1.2 1.3 0.7 1.4-0.7 1.3-1.8 1.4-1 1.3 0.9 1.3 1.1 1.4 0.3 1.3-3.3 1.4-0.3 1.3 2.2 1.4 1.6 1.3-1.5 1.3-1.3 1.4-0.6 1.3 1.2 1.4 0 1.3-0.3 1.4 0 1.3 0.6 1.3-1.3 1.4-0.3 1.3 1 1.4 1.2 1.3-0.4 1.4-1.2 1.3-0.7 1.4 0.3 1.3-0.2 1.3-0.4 1.4-0.6 1.3 1 1.4 0.6 1.3 1.8 1.4-1.7 1.3-1 1.3-2.2 1.4 0.4 1.3 0.6 1.4 1.2 1.3 0.2 1.4-0.9 1.3-1.2 1.3 0 1.4-0.7 1.3-0.9 1.4-0.4 1.3 1.5 1.4 1.6 1.3-0.6 1.4-1.9 1.3-0.1 1.3 0.7 1.4-0.3 1.3-1.9 1.4-0.4 1.3 0.2 1.4 0.2 1.3-1.5 1.3-2.8 1.4-4.6 1.3-4.7 1.4-2.3 1.3-2.1 1.4-0.6 1.3-0.1 1.3 0.5 1.4 2.6 1.3 0.1 1.4 0 1.3-0.7 1.4 0.4 1.3 4.4 1.4 4.1 1.3 2 1.3 0.4 1.4-0.7 1.3 1.7 1.4 2.1 1.3-0.7 1.4 0 1.3-0.6 1.3-1.4 1.4-3.3 1.3-1.3 1.4 2 1.3 3.3 1.4 1.3 1.3-0.4 1.3 0.6 1.4 0.8 1.3 0.4 1.4 0.5 1.3-0.8 1.4-1.4 1.3-0.6 1.4-3.6 1.3-4.3 1.3-4.3 1.4-4.9 1.3-5.3 1.4-5.5 1.3-2 1.4-3.1 1.3-6 1.3-6.2 1.4-1.8 1.3 2.4 1.4 1.3 1.3 1.7 1.4 3.1 1.3 2.9 1.3 0.6 1.4-1.1 1.3-3.6 1.4-3 1.3-0.5 1.4 1.4 1.3 3.4 1.4 4.8 1.3 6.4 1.3 6 1.4 6 1.3 5.7 1.4 6.4 1.3 3.5 1.4 1.8 1.3 1.3 1.3 1.7 1.4 1.3 1.3 1.1 1.4 0 1.3-0.1 1.4 0.5 1.3 0.7 1.3 1 1.4-0.3 1.3 0.5 1.4 0.3 1.3 1.8 1.4-0.3 1.3 0.1 1.4-0.1 1.3 1.2 1.3 0.3 1.4-0.1 1.3-2.8 1.4-4 1.3-5.5 1.4-3.7 1.3-3.9 1.3-3.8 1.4-3.1 1.3-0.6 1.4 1.3 1.3 0.3 1.4 0.2 1.3-0.5 1.3 0.4 1.4-0.2 1.3 0.8 1.4 1.7 1.3 2.1 1.4 2.5 1.3 2.3 1.4 3.3 1.3 3 1.3 3.7 1.4 2.1 1.3 1.6 1.4 1.6 1.3 1.4 1.4 0.4 1.3 0.2 1.3 1.5 1.4 1.5 1.3 0.5 1.4 0.1 1.3 0.4 1.4 1.1 1.3 0.5 1.3 0.3 1.4 0.2 1.3 0.6 1.4 0.4 1.3-0.9 1.4-0.4 1.3 0.6 1.4 1.1 1.3-0.2 1.3 0 1.4-0.2 1.3 0.2 1.4-0.1 1.3 0 1.4-0.3 1.3 0.7 1.3 0.8 1.4-0.1 1.3-0.2 1.4-0.3 1.3 0.6 1.4-0.5 1.3 0.2 1.4-0.3 1.3 1 1.3 0 1.4 0.3 1.3-0.1 1.4-0.3 1.3 0 1.4-0.1 1.3 0.5 1.3 0.1 1.4 0.6 1.3 0 1.4 0.3 1.3-0.3 1.4 0.2 1.3-0.2 1.3 0.2 1.4-0.3 1.3 0.6 1.4-0.6 1.3-0.5 1.4-0.1 1.3 0.6 1.4 1 1.3 0.5 1.3-0.3 1.4-0.9 1.3 0.1 1.4-0.1 1.3 0.2 1.4-0.1 1.3-0.3 1.3 0 1.4 0.4 1.3 0.3 1.4 0.1 1.3 0.1 1.4-0.5 1.3-0.2 1.3 0.9 1.4 0.4 1.3-0.5 1.4-0.4 1.3 0.3 1.4 0.6 1.3 0.5 1.4 0.4 1.3-0.6 1.3-0.6 1.4-0.1 1.3 0.2 1.4 0.1 1.3 0.2 1.4 0.3 1.3-0.1 1.3-0.3 1.4 0 1.3 0.6 1.4 0.3 1.3-0.2 1.4-0.4"/>
<path d="M650.2 143.2l1.4-0.3 1.3-0.8 1.3-0.9 1.4 0.7 1.3 0.9 1.4 1.5 1.3-0.4 1.4 0.4 1.3-0.5 1.3-0.6 1.4-1.2 1.3-0.9 1.4 0 1.3-0.4 1.4 1 1.3-0.2 1.3 0.9 1.4 1.1 1.3-0.5 1.4-2.1 1.3-0.7 1.4 0.6 1.3-0.3 1.4-2.9 1.3-0.1 1.3 2.6 1.4 0.8 1.3-0.5 1.4 0.8 1.3 0.7 1.4-0.6 1.3-1.5 1.3 0.3 1.4 0.4 1.3 0.8 1.4-0.5 1.3-0.5 1.4 0.4 1.3-0.2 1.4 0 1.3-0.3 1.3 0.7 1.4-2.3 1.3-1.5 1.4-0.6 1.3 2 1.4 1.4 1.3 1.2 1.3 0.5 1.4-1.5 1.3-0.6 1.4-1.2 1.3 0.3 1.4-0.2 1.3 0.5 1.3-0.1 1.4-0.5 1.3-1.6 1.4-1 1.3-0.1 1.4 1.4 1.3 1.3 1.4 0.7 1.3-1.7 1.3-0.6 1.4-0.5 1.3 0.7 1.4-0.3 1.3-0.9 1.4-0.1 1.3 0.4 1.3-0.8 1.4-2.5 1.3-2.6 1.4-1.9 1.3-2.8 1.4-2.9 1.3-2.4 1.3-4.3 1.4-0.6 1.3 1.6 1.4 1.6 1.3 0.3 1.4-0.1 1.3 1.1 1.4-0.3 1.3-0.2 1.3 4.2 1.4 3.5 1.3-0.4 1.4 0.7 1.3 0.9 1.4 2.1 1.3 1.3 1.3-1.1 1.4 1.6 1.3 0.2 1.4-1.7 1.3-3.8 1.4 0.5 1.3 2.5 1.3 2.5 1.4 0 1.3 0.1 1.4 0.5 1.3 0.2 1.4 0.7 1.3 0.2 1.4-0.7 1.3-1.6 1.3-1.3 1.4-4.8 1.3-4.8 1.4-3.6 1.3-5.1 1.4-6 1.3-5.5 1.3-2.7 1.4-3.9 1.3-4.3 1.4-4.2 1.3-1 1.4 0.8 1.3 1 1.3 1.5 1.4 3.5 1.3 1.7 1.4-0.8 1.3-0.9 1.4-2.4 1.3-2 1.4-1.4 1.3 1.7 1.3 4.1 1.4 5.1 1.3 5.1 1.4 5.5 1.3 6.5 1.4 6 1.3 6.7 1.3 4.8 1.4 2.4 1.3 1.2 1.4 1.3 1.3 0.4 1.4 0.7 1.3 0.1 1.3-0.1 1.4 1 1.3 1.6 1.4 1.4 1.3 0.1 1.4 1.1 1.3 0.6 1.4 0.5 1.3-0.4 1.3-0.3 1.4-0.4 1.3 0.2 1.4 1 1.3-1.5 1.4-3.7 1.3-4.6 1.3-3.4 1.4-3.7 1.3-4 1.4-3.5 1.3-2.9 1.4-1.9 1.3-0.3 1.3 1.1 1.4 0.6 1.3 0.4 1.4 0.1 1.3 0.8 1.4 0.5 1.3 1.8 1.4 2.4 1.3 3 1.3 2.5 1.4 2.8 1.3 3.4 1.4 3 1.3 2.5 1.4 1.3 1.3 1 1.3 1.6 1.4 1.4 1.3 0.9 1.4 1 1.3 1.4 1.4 0.3 1.3 0.3 1.3 1.1 1.4 0.5 1.3-0.4 1.4 0.2 1.3 0.7 1.4-0.1 1.3-0.3 1.4-0.1 1.3 0.9 1.3 0.2 1.4 0.2 1.3 0 1.4 0.7 1.3 0.4 1.4 0.2 1.3 0.1 1.3-0.3 1.4-0.8 1.3-0.1 1.4 1.1 1.3 1.3 1.4 0.1 1.3-0.5 1.3-0.4 1.4-0.1 1.3-0.3 1.4-0.5 1.3 0.3 1.4 0.6 1.3 0.5 1.4 0 1.3-0.1 1.3-0.1 1.4 0.4 1.3 0 1.4 0.2 1.3 0.1 1.4 0.5 1.3-0.5 1.3-0.6 1.4 0.2 1.3 0.8 1.4 0.7 1.3-0.2 1.4-0.2 1.3-0.4 1.4 0.4 1.3-0.1 1.3 0.6 1.4 0.4 1.3 0.2 1.4-0.6 1.3-0.7 1.4-0.3 1.3-0.3 1.3 0.3 1.4 0.6 1.3 0.1 1.4 0.6 1.3 0 1.4 0.2 1.3-0.2 1.3 0.5 1.4-0.1 1.3 0 1.4-0.5 1.3-0.2 1.4 0.2 1.3 0.9 1.4-0.3 1.3-0.3 1.3-0.4 1.4 0.6 1.3-0.1 1.4 0.3 1.3 0 1.4 0.1 1.3-0.4 1.3-0.5 1.4 0.2 1.3 1 1.4 0.6 1.3-0.5 1.4-0.4 1.3 0.3"/>
<path d="M652.9 137.2l1.4 0.1 1.3-0.3 1.4-0.4 1.3 0 1.4 0.8 1.3 0.2 1.3 0 1.4-0.5 1.3 0 1.4 0.4 1.3 0.8 1.4-0.2 1.3-1.5 1.3-1.2 1.4 1.7 1.3 0.3 1.4-0.4 1.3-0.3 1.4 0 1.3-0.4 1.4 0.4 1.3-0.3 1.3-1 1.4-2 1.3 0.6 1.4 1.3 1.3 0.4 1.4 0.1 1.3 0.6 1.3-0.1 1.4-0.9 1.3-1.7 1.4-0.2 1.3 0.2 1.4 1.1 1.3-0.5 1.3 0 1.4 0.9 1.3 1.4 1.4 0.1 1.3-1.2 1.4-0.5 1.3-0.8 1.4-0.9 1.3-1.3 1.3 0.2 1.4 1.1 1.3 1.7 1.4 1.1 1.3-1.7 1.4-0.7 1.3-0.6 1.3 0.4 1.4-0.5 1.3-0.7 1.4-0.3 1.3 0.9 1.4 0 1.3 0.1 1.4-0.6 1.3 0.4 1.3-1 1.4 0.6 1.3 0.2 1.4 0 1.3-1 1.4-0.3 1.3-0.2 1.3-0.7 1.4-0.3 1.3-0.9 1.4 0.3 1.3-1.7 1.4-2.6 1.3-2.7 1.3-4 1.4-4.6 1.3-2.9 1.4-2 1.3 0.3 1.4-0.1 1.3 0.1 1.4 1.6 1.3 1.4 1.3 1 1.4 0.3 1.3 0.1 1.4 3.5 1.3 2.5 1.4 2.2 1.3 1.9 1.3 0 1.4 2 1.3 0.6 1.4-1.7 1.3-0.4 1.4 2.5 1.3-1.2 1.3-3.5 1.4-1.3 1.3 2.6 1.4 3.5 1.3 2.1 1.4 0.1 1.3-0.1 1.4-0.2 1.3 1.4 1.3-0.3 1.4-0.9 1.3-3 1.4-1.9 1.3-4.7 1.4-4.4 1.3-3.9 1.3-5.2 1.4-6.1 1.3-5.8 1.4-2.3 1.3-2.4 1.4-2.9 1.3-4.3 1.3-2.6 1.4-0.2 1.3 1 1.4 2.3 1.3 3.1 1.4 2.1 1.3-0.7 1.4-1.4 1.3-2.7 1.3-2.1 1.4-0.8 1.3 1.2 1.4 3.7 1.3 5.6 1.4 5.9 1.3 6.7 1.3 6.4 1.4 6.2 1.3 5.5 1.4 4.2 1.3 2.3 1.4 2.2 1.3 1.5 1.3 0.9 1.4 1.1 1.3 0.5 1.4 0 1.3-0.1 1.4 1 1.3 0.5 1.4-0.2 1.3 0.5 1.3 0.4 1.4 1.6 1.3 0 1.4 0.9 1.3-0.6 1.4 0.2 1.3-0.5 1.3-2 1.4-3.5 1.3-4.7 1.4-4.3 1.3-3.9 1.4-3.7 1.3-4.2 1.3-4 1.4-1 1.3 0.2 1.4 1 1.3 0.2 1.4 0.6 1.3 0.5 1.4 0.7 1.3 1 1.3 1.5 1.4 1.6 1.3 2.6 1.4 2.8 1.3 3.7 1.4 3 1.3 3.1 1.3 2 1.4 2.5 1.3 2.3 1.4 2.1 1.3 1 1.4 0.6 1.3 1.6 1.3 1.6 1.4 1.1 1.3-0.1 1.4 0.2 1.3 0.4 1.4 0.1 1.3-0.3 1.4 0.3 1.3 1.1 1.3 0.3 1.4-0.6 1.3 0.1 1.4 0.7 1.3-0.4 1.4-0.2 1.3 0.1 1.3 0.6 1.4-0.2 1.3 0.9 1.4 0.6 1.3 0.1 1.4-0.8 1.3 0.1 1.3 0.9 1.4 0.1 1.3-0.5 1.4 0 1.3 0.1 1.4-0.2 1.3-0.5 1.4 0.7 1.3 0.7 1.3 0.3 1.4 0.2 1.3-0.2 1.4-0.5 1.3-0.6 1.4 0.2 1.3 0.8 1.3 0.4 1.4 0.2 1.3-0.3 1.4-0.3 1.3-0.3 1.4-0.2 1.3 0.2 1.3 0.2 1.4 0.4 1.3-0.3 1.4 0.2 1.3 0.3 1.4 0.2 1.3-0.5 1.4-0.3 1.3 0 1.3 0.5 1.4 0.5 1.3 0.3 1.4-0.1 1.3-0.1 1.4 0 1.3 0.4 1.3-0.7 1.4-0.4 1.3-0.1 1.4 0.5 1.3 0.3 1.4 0.6 1.3 0.2 1.4-0.4 1.3 0 1.3 0 1.4-0.3 1.3-0.5 1.4 0.4 1.3 1.2 1.4 0.3 1.3-0.3 1.3-0.5 1.4 0.5 1.3 0.3 1.4-0.4 1.3-0.3 1.4 0 1.3 0.2 1.3 0.2"/>
<path d="M655.7 131.4l1.3-0.4 1.4 1.1 1.3 0.3 1.3 0.1 1.4-0.2 1.3 0.7 1.4 0.2 1.3 0.6 1.4-0.3 1.3-0.1 1.3-0.9 1.4-0.6 1.3-1.5 1.4-1.3 1.3 0.9 1.4 0.2 1.3 1.1 1.4 0.6 1.3-0.7 1.3-0.8 1.4 0.3 1.3 1 1.4-1.2 1.3-2.7 1.4 0.2 1.3 2.5 1.3-0.3 1.4-0.5 1.3 0.5 1.4 0.6 1.3-1.2 1.4-1.8 1.3-0.3 1.3 1.2 1.4 1.7 1.3-0.7 1.4-0.6 1.3-0.5 1.4 0.7 1.3 1.5 1.4-0.1 1.3-0.7 1.3-1.6 1.4-1.2 1.3-0.6 1.4 0.8 1.3 1.9 1.4 1.2 1.3 0.4 1.3-2.4 1.4-1.9 1.3-0.2 1.4 1.5 1.3 0.7 1.4 0.6 1.3-1.2 1.3-0.5 1.4-1.4 1.3 1 1.4 0.4 1.3 1 1.4-0.8 1.3-0.7 1.4 0.1 1.3 0.9 1.3-0.4 1.4-1.5 1.3-0.9 1.4-1.1 1.3 0.1 1.4-0.3 1.3 1 1.3-1.2 1.4-3.2 1.3-3.3 1.4-3.5 1.3-3.8 1.4-3.3 1.3-2.8 1.4 0.3 1.3 1.6 1.3 1.6 1.4 1.5 1.3-0.1 1.4 0.3 1.3-1.6 1.4-0.2 1.3 4 1.3 5.1 1.4 1.1 1.3 0.9 1.4 0 1.3 1.2 1.4 0.7 1.3-1.1 1.3 2 1.4 0.8 1.3-1.9 1.4-2.3 1.3 1.3 1.4 2.6 1.3 0.9 1.4 0.3 1.3-0.2 1.3 1 1.4 0.3 1.3 0.9 1.4-0.8 1.3-1.8 1.4-2.8 1.3-1 1.3-4.1 1.4-4.8 1.3-4.8 1.4-5.2 1.3-5.3 1.4-4.7 1.3-2.9 1.3-4.6 1.4-5.5 1.3-3.9 1.4-1.2 1.3 1.1 1.4 0.8 1.3 2.3 1.4 3.2 1.3 2.4 1.3-0.7 1.4-1.5 1.3-2.9 1.4-2.3 1.3-0.8 1.4 1.8 1.3 4.2 1.3 6.1 1.4 5.4 1.3 5.6 1.4 6 1.3 7.4 1.4 6.8 1.3 4.5 1.3 2.1 1.4 1.9 1.3 1.7 1.4 2 1.3 0.9 1.4-0.2 1.3-1.3 1.4 0.5 1.3 0.4 1.3 0.1 1.4-0.2 1.3 0.6 1.4 1.4 1.3 1.7 1.4 0.6 1.3-0.1 1.3-1.3 1.4-0.5 1.3-0.7 1.4-1.3 1.3-3.8 1.4-5.3 1.3-4.9 1.3-2.9 1.4-2.9 1.3-3.8 1.4-3.5 1.3-0.8 1.4 0.5 1.3 0.4 1.4-0.4 1.3-0.4 1.3-0.1 1.4 0.7 1.3 1.2 1.4 2.2 1.3 2.1 1.4 2.5 1.3 3.2 1.3 3.8 1.4 4.3 1.3 3.5 1.4 2.3 1.3 0.5 1.4 1.8 1.3 2.2 1.3 2.3 1.4 1 1.3 0.7 1.4 0.5 1.3 0.2 1.4 0.6 1.3 0.5 1.4 0.5 1.3 0.5 1.3-0.4 1.4 0.6 1.3 0.3 1.4 0.8 1.3 0 1.4 0.2 1.3-0.2 1.3-0.2 1.4 0.1 1.3 1.1 1.4 0.2 1.3-0.3 1.4-0.3 1.3 0.2 1.3-0.3 1.4-0.3 1.3 1.1 1.4 1.4 1.3 0.1 1.4-1 1.3-0.6 1.4 0.2 1.3 0.6 1.3 0 1.4 0.2 1.3 0.1 1.4 0.4 1.3-0.2 1.4 0.1 1.3 0.1 1.3 0.2 1.4-0.3 1.3-0.2 1.4 0.2 1.3 0.5 1.4 0.4 1.3 0.1 1.3-0.6 1.4 0 1.3 0.2 1.4 0.7 1.3-0.2 1.4-0.6 1.3 0.3 1.4 0.2 1.3 0.7 1.3-0.2 1.4 0 1.3-0.8 1.4-0.3 1.3 0.5 1.4 0.1 1.3 0.4 1.3 0.5 1.4 0.6 1.3-0.1 1.4-0.2 1.3-0.8 1.4-0.6 1.3 0.2 1.3 0.6 1.4 0.1 1.3 0.1 1.4 0.2 1.3-0.4 1.4-0.2 1.3 0.2 1.4 0.3 1.3 0.2 1.3 0.7 1.4 0.4 1.3-0.2 1.4-0.1 1.3-0.1 1.4 0.1 1.3-0.3 1.3-0.1 1.4-0.2"/>
</g>
<path d="M576.50 81.40V312.40H980.55" fill="none" stroke="#000" stroke-width="2.1"/>
<path d="M576.50 312.40v3.3M603.37 312.40v5.3M630.24 312.40v3.3M657.11 312.40v5.3M683.98 312.40v3.3M710.85 312.40v5.3M737.72 312.40v3.3M764.59 312.40v5.3M791.46 312.40v3.3M818.33 312.40v5.3M845.20 312.40v3.3M872.07 312.40v5.3M898.94 312.40v3.3M925.81 312.40v5.3M952.68 312.40v3.3M979.55 312.40v5.3M576.50 312.40h-5.6M576.50 294.00h-3.4M576.50 275.60h-5.6M576.50 257.20h-3.4M576.50 238.80h-5.6M576.50 220.40h-3.4M576.50 202.00h-5.6M576.50 183.60h-3.4M576.50 165.20h-5.6M576.50 146.80h-3.4M576.50 128.40h-5.6M576.50 110.00h-3.4M576.50 91.60h-5.6" fill="none" stroke="#000" stroke-width="2.1"/>
<text x="603.4" y="330.8" text-anchor="middle" font-size="13.5">16</text>
<text x="657.1" y="330.8" text-anchor="middle" font-size="13.5">18</text>
<text x="710.9" y="330.8" text-anchor="middle" font-size="13.5">20</text>
<text x="764.6" y="330.8" text-anchor="middle" font-size="13.5">22</text>
<text x="818.3" y="330.8" text-anchor="middle" font-size="13.5">24</text>
<text x="872.1" y="330.8" text-anchor="middle" font-size="13.5">26</text>
<text x="925.8" y="330.8" text-anchor="middle" font-size="13.5">28</text>
<text x="979.5" y="330.8" text-anchor="middle" font-size="13.5">30</text>
<text x="568.5" y="315.8" text-anchor="end" font-size="13.5">0</text>
<text x="568.5" y="279.0" text-anchor="end" font-size="13.5">20</text>
<text x="568.5" y="242.2" text-anchor="end" font-size="13.5">40</text>
<text x="568.5" y="205.4" text-anchor="end" font-size="13.5">60</text>
<text x="568.5" y="168.6" text-anchor="end" font-size="13.5">80</text>
<text x="568.5" y="131.8" text-anchor="end" font-size="13.5">100</text>
<text x="568.5" y="95.0" text-anchor="end" font-size="13.5">120</text>
<clipPath id="clip2"><rect x="59.45" y="0" width="442.55" height="720"/></clipPath>
<g clip-path="url(#clip2)" fill="none" stroke="#000" stroke-width="2.2" stroke-linejoin="round">
<path d="M61.5 647.5l1.4-0.3 1.3 0.5 1.3 0.3 1.4-0.7 1.3-1.2 1.3-0.4 1.4 0.4 1.3 0.1 1.3-0.1 1.4-0.8 1.3-1.3 1.3-1.5 1.4 0 1.3 1 1.3-0.6 1.4-1.9 1.3 0.4 1.3 0.5 1.4-0.6 1.3 0.6 1.3-0.8 1.4-1.3 1.3-0.5 1.3 1.7 1.4 1.2 1.3-2 1.3-1.1 1.4-0.2 1.3-0.5 1.3-1.6 1.4-0.1 1.3 0.7 1.3 0.4 1.4-0.2 1.3-0.4 1.3 0.4 1.4-0.8 1.3-0.9 1.3 2 1.4-1.1 1.3-3.8 1.3-1.1 1.3 1 1.4-0.1 1.3-0.8 1.3-1.4 1.4 0.1 1.3 0.6 1.3-0.1 1.4-1.9 1.3-2.1 1.3-3.7 1.4-1.5 1.3 3.2 1.3 1.6 1.4 0.5 1.3 0.1 1.3 0.6 1.4-1.6 1.3-1.9 1.3-0.7 1.4 0 1.3-0.4 1.3-1.2 1.4-0.4 1.3-0.4 1.3 0 1.4-1.4 1.3-1.8 1.3-3 1.4 2.5 1.3 0.1 1.3-0.2 1.4-1.3 1.3-0.7 1.3 0.1 1.4 1.7 1.3 1.2 1.3 1.8 1.4-3.5 1.3-1.8 1.3-0.7 1.3 0 1.4-1.4 1.3-0.4 1.3-0.4 1.4 0.9 1.3 2.5 1.3 0.6 1.4-1.6 1.3 0.3 1.3 0.7 1.4 0.4 1.3 0.4 1.3-0.9 1.4 0.2 1.3 0.1 1.3-0.5 1.4-0.4 1.3 2.3 1.3 2.7 1.4 0.1 1.3-1.8 1.3 0.1 1.4 1.6 1.3 2.5 1.3-0.4 1.4-0.7 1.3-0.1 1.3 3 1.4-0.7 1.3-0.1 1.3 0.1 1.4-0.1 1.3-0.4 1.3-0.3 1.4 1.2 1.3 1.7 1.3 1.7 1.4-1 1.3 0.2 1.3 1 1.3 0 1.4-0.1 1.3 0.6 1.3-1.5 1.4 0 1.3 0.3 1.3 2.3 1.4-0.6 1.3-2.6 1.3-0.6 1.4 3.8 1.3 1.9 1.3-0.5 1.4 0 1.3 0.8 1.3 1.3 1.4 0.4 1.3-0.5 1.3-0.1 1.4 0.7 1.3 1.5 1.3 0.3 1.4 0.7 1.3-0.2 1.3 0.2 1.4 0 1.3 0.6 1.3 0.2 1.4 0.5 1.3 0.5 1.3 1 1.4 0.2 1.3 0.3 1.3 0.2 1.4 0.9 1.3-0.1 1.3 0.2 1.4 0.3 1.3 1.2 1.3 0.8 1.3-0.8 1.4 0 1.3 1.2 1.3 1.1 1.4 0.1 1.3-0.2 1.3 0.7 1.4 0.6 1.3 1 1.3 0.5 1.4 0.2 1.3 0.2 1.3 0.2 1.4-0.4 1.3-0.5 1.3-0.3 1.4 0.8 1.3 0.7 1.3 1.2 1.4 0.1 1.3 0.5 1.3 0.2 1.4 1.2 1.3 0.5 1.3 0.1 1.4-0.3 1.3 0.9 1.3 1.1 1.4 0.2 1.3-0.3 1.3-0.4 1.4 0.2 1.3-0.1 1.3 0.1 1.4 0 1.3 0.8 1.3 0.7 1.4 0.1 1.3 0.3 1.3-0.1 1.3 0 1.4-0.2 1.3 0.2 1.3 0.4 1.4 0.3 1.3 0.6 1.3 0.1 1.4 0.2 1.3 0.4 1.3 0.1 1.4 0.2 1.3 0 1.3 0.2 1.4-0.2 1.3 0.3 1.3 0.7 1.4 0.4 1.3-0.1 1.3 0.1 1.4-0.2 1.3 0.1 1.3-0.2 1.4 0.7 1.3 0.2 1.3 0.2 1.4-0.3 1.3 0.3 1.3 0.3 1.4 0.3 1.3 0.1 1.3-0.2 1.4 0 1.3 0.2 1.3 0.3 1.4 0.3 1.3 0.4 1.3 0.3 1.4-0.6 1.3-0.6 1.3-0.1 1.3 0.6 1.4 0 1.3 0.2 1.3 0 1.4 0 1.3 0.3 1.3 0.1 1.4 0.4 1.3 0.2 1.3 0.5 1.4-0.1 1.3 0.1 1.3 0.1 1.4-0.2 1.3-0.5 1.3-0.2 1.4 0.2 1.3 0.1 1.3 0.1 1.4 0.2 1.3 0.2 1.3-0.4 1.4 0.5 1.3 0.4 1.3 0.5 1.4-0.2 1.3 0 1.3-0.1 1.4-0.4 1.3-0.1 1.3 0 1.4 0.2 1.3-1 1.3-1.4 1.4 2.3 1.3 1.1 1.3 0 1.4 0 1.3-0.3 1.3 0 1.3-0.1 1.4-0.1 1.3-0.3 1.3 0.4 1.4 0 1.3-0.2 1.3-0.3 1.4 0.3 1.3 0.7 1.3 0.3 1.4 0 1.3 0 1.3 0.1 1.4 0 1.3-0.2 1.3-0.4 1.4 0.1 1.3 0.3"/>
<path d="M64.2 643.4l1.4-0.3 1.3-1 1.3 0.1 1.4-0.7 1.3-0.7 1.3-1.1 1.3 0.8 1.4 0 1.3 0.2 1.3-0.4 1.4-0.4 1.3-1.9 1.3-0.6 1.4 0.7 1.3-0.5 1.3-2.4 1.4 0.9 1.3 0.7 1.3-1 1.4-0.5 1.3-0.2 1.3-0.3 1.4-0.3 1.3 1.4 1.3 1.3 1.4-2.2 1.3-2.4 1.3-1 1.4 0 1.3 0.5 1.3 0 1.4 0.4 1.3-0.5 1.3-0.2 1.4-0.5 1.3 0.9 1.3 0.6 1.4-0.8 1.3 0.8 1.3-1.6 1.4-3.2 1.3-1.5 1.3-0.9 1.4-0.5 1.3 0 1.3 0 1.3-0.3 1.4 0 1.3-0.5 1.3-0.8 1.4-0.8 1.3-3.1 1.3-1.1 1.4 2.8 1.3 1.7 1.3-1.1 1.4-0.2 1.3-0.4 1.3-0.2 1.4-1.2 1.3 0.6 1.3-0.4 1.4-1.6 1.3-1.8 1.3 0.1 1.4 0.1 1.3-0.3 1.3-0.6 1.4-1.8 1.3-2.7 1.3 1 1.4 0.6 1.3-0.5 1.3 0.2 1.4-1.1 1.3 0 1.3 0 1.4 0.7 1.3 1.3 1.3-2.7 1.4-1.4 1.3-0.6 1.3 0.3 1.4 0.6 1.3 1.1 1.3-1.5 1.3-1.4 1.4 1.1 1.3 0.8 1.3-0.4 1.4 1 1.3 0.2 1.3 0.2 1.4 0.4 1.3-0.6 1.3-0.7 1.4 0.2 1.3-0.1 1.3 1.1 1.4 2 1.3 1.5 1.3-0.2 1.4-0.6 1.3 1 1.3 0.9 1.4 0.5 1.3-0.3 1.3 1.1 1.4 1.2 1.3 1.8 1.3-2.2 1.4 0.2 1.3 0.5 1.3 0 1.4-1.4 1.3-0.9 1.3 1 1.4 2.2 1.3 0.2 1.3-2.2 1.4-1.5 1.3 1.1 1.3-0.1 1.4 1.7 1.3 1.6 1.3-1 1.3-0.6 1.4 0.3 1.3 2.8 1.3 0.5 1.4-2 1.3-0.3 1.3 4 1.4 2 1.3-0.7 1.3-0.3 1.4 1.2 1.3 0.1 1.3-0.5 1.4-0.9 1.3 1.8 1.3 1.9 1.4 1.8 1.3-0.2 1.3 0.3 1.4 0 1.3 0.5 1.3 0.4 1.4 0.3 1.3 0.3 1.3 0.4 1.4 0.3 1.3 0.1 1.3 0.3 1.4 0.1 1.3 0.5 1.3 0.8 1.4 0.2 1.3-0.7 1.3 0.2 1.4 1.3 1.3 0.7 1.3-1 1.4 0.1 1.3 0.6 1.3 1 1.3 0.5 1.4 0.1 1.3 0.2 1.3 0 1.4 0.5 1.3 0.1 1.3 0.9 1.4 0.2 1.3 0 1.3 0.5 1.4 0.4 1.3 0.9 1.3 0.8 1.4 0.8 1.3 0.3 1.3-0.3 1.4 0 1.3 0.3 1.3 1.1 1.4 0.8 1.3 0.4 1.3 0.4 1.4 1.6 1.3 0.5 1.3-0.1 1.4-0.8 1.3-0.1 1.3 0 1.4 0.6 1.3 0.4 1.3-0.1 1.4 0.4 1.3 0.6 1.3 0.3 1.4 0.3 1.3-0.1 1.3 0 1.4 0.1 1.3 0.8 1.3 0.2 1.3-0.1 1.4-0.3 1.3-0.3 1.3 0.6 1.4 1.2 1.3 1.1 1.3 0.3 1.4 0.2 1.3-0.3 1.3-0.8 1.4-0.3 1.3 0.6 1.3 0.7 1.4 0.1 1.3-0.1 1.3-0.1 1.4 0.2 1.3 0.1 1.3 0.2 1.4-0.2 1.3 0.2 1.3-0.2 1.4 0.4 1.3 0.4 1.3 0.6 1.4 0.3 1.3 0.6 1.3-0.1 1.4-0.4 1.3-0.5 1.3 0.4 1.4 0.4 1.3 0.6 1.3-0.4 1.4-0.4 1.3-0.4 1.3 0.7 1.4 0.6 1.3 0.5 1.3-0.4 1.3-0.4 1.4 0.5 1.3 0 1.3-0.1 1.4-0.3 1.3 0.5 1.3 0.4 1.4 0.4 1.3 0.2 1.3-0.4 1.4-0.6 1.3 0.1 1.3 0.1 1.4 0 1.3 0 1.3 0.1 1.4 0.2 1.3-0.1 1.3 0.1 1.4 0.1 1.3 0.3 1.3 0.2 1.4 0.4 1.3-0.3 1.3-0.6 1.4-0.2 1.3 0.5 1.3 0.3 1.4 0 1.3 0.3 1.3 0.3 1.4-0.5 1.3 0 1.3 0.2 1.4 0.4 1.3-0.5 1.3-0.1 1.4 0.4 1.3 0.1 1.3 0 1.3-0.2 1.4 0.1 1.3-0.1 1.3 0.3 1.4 0.2 1.3-0.3 1.3 0 1.4 0 1.3-0.1 1.3-0.1 1.4 0.4 1.3 0.2 1.3 0 1.4 0.1"/>
<path d="M67.0 638.1l1.3-0.3 1.4-0.6 1.3-0.3 1.3-0.7 1.4-1 1.3-0.6 1.3 0.4 1.4-0.2 1.3-0.4 1.3-0.8 1.3-0.3 1.4-0.2 1.3 0.3 1.3 0.1 1.4-2.1 1.3-2.3 1.3 1.3 1.4 1.2 1.3-1 1.3-0.1 1.4-0.2 1.3-0.1 1.3-0.6 1.4 0.2 1.3 0.8 1.3-0.5 1.4-0.3 1.3-0.9 1.3-1.6 1.4-1.3 1.3 0.3 1.3 1 1.4-0.3 1.3-1.2 1.3-1 1.4 1.1 1.3 1.3 1.3-0.1 1.4 1 1.3-2.1 1.3-2.8 1.4-0.6 1.3 0.1 1.3-0.9 1.4 0.2 1.3-0.5 1.3-0.7 1.4-0.1 1.3 0.7 1.3-1.4 1.3-2.7 1.4-3.7 1.3-0.2 1.3 2.7 1.4 1.6 1.3-0.4 1.3-0.3 1.4-1.4 1.3-0.1 1.3 0.5 1.4 0.6 1.3-0.8 1.3-0.9 1.4-0.7 1.3-1.3 1.3-1.5 1.4 0.2 1.3-1.1 1.3-2.1 1.4-3.4 1.3 2.5 1.3 1.8 1.4-0.2 1.3-2 1.3-1.6 1.4 0.9 1.3 0.9 1.3 0.2 1.4 1.3 1.3-2.2 1.3-0.7 1.4-0.1 1.3-0.2 1.3-0.8 1.4-0.1 1.3-2.1 1.3-0.8 1.4 2.7 1.3 1.8 1.3-1.1 1.3 0.2 1.4 0 1.3 0.3 1.3 1 1.4-0.3 1.3 0.4 1.3-1.3 1.4 0.1 1.3-0.5 1.3 0.2 1.4 2.9 1.3 1.7 1.3-0.6 1.4 0.6 1.3 0.9 1.3 2.7 1.4-0.5 1.3 0.1 1.3 0.1 1.4 2.9 1.3-2.2 1.3 0.4 1.4-0.6 1.3-0.9 1.3-3.7 1.4-2.2 1.3-1.9 1.3 0.6 1.4 0.3 1.3-1.4 1.3-0.9 1.4 0.9 1.3 0.4 1.3 1.8 1.4 1.2 1.3-0.2 1.3 0.7 1.4 1.4 1.3 2.4 1.3 1.1 1.3-0.6 1.4-0.2 1.3 3.6 1.3 1.7 1.4-0.1 1.3 0.6 1.3 1.7 1.4 1.1 1.3 0.2 1.3-0.3 1.4 0.6 1.3 1.1 1.3 1 1.4 0.7 1.3 1 1.3 0.2 1.4-0.3 1.3 0.7 1.3 0 1.4 0.2 1.3-0.3 1.3 0.9 1.4 0.7 1.3 1.3 1.3 0 1.4 0.5 1.3 1.1 1.3 0.8 1.4-1.3 1.3-1.2 1.3-0.3 1.4 0.3 1.3-0.2 1.3 0.6 1.4 0.5 1.3 0.1 1.3-0.3 1.4 0 1.3 0.9 1.3 1 1.3 1.1 1.4 0.5 1.3 0.8 1.3-0.1 1.4-0.1 1.3-0.1 1.3 0.9 1.4 0.9 1.3 1.7 1.3 0.8 1.4 1.1 1.3-0.6 1.3-0.2 1.4-0.9 1.3 0.7 1.3 0.6 1.4 1.5 1.3 0.3 1.3 1 1.4 0.7 1.3 0.7 1.3 0 1.4 0.2 1.3-0.1 1.3 0.3 1.4 0.4 1.3-0.2 1.3-0.1 1.4 0.3 1.3 0.4 1.3 0.3 1.4 0.3 1.3 0.1 1.3 0.2 1.4 0.3 1.3 0.2 1.3 0.1 1.4 0.2 1.3-0.3 1.3 0.4 1.3 0.6 1.4 0.2 1.3-0.1 1.3 0.6 1.4 0.6 1.3 0 1.3 0.1 1.4 0.4 1.3 0 1.3-0.6 1.4-0.1 1.3 0 1.3 0.5 1.4 0.1 1.3-0.3 1.3-0.3 1.4 0.6 1.3 0.6 1.3 0.1 1.4 0.5 1.3 0.5 1.3 0.1 1.4-0.2 1.3 0.1 1.3 0.1 1.4-0.5 1.3 0.3 1.3 0.4 1.4 0.7 1.3-0.3 1.3-0.3 1.4-0.1 1.3 0.5 1.3 0.3 1.4 0.1 1.3-0.1 1.3-0.1 1.4 0.2 1.3 0.1 1.3 0.1 1.3 0.1 1.4 0.3 1.3 0 1.3-0.3 1.4 0.2 1.3-0.1 1.3-0.1 1.4 0.3 1.3 0.2 1.3-0.1 1.4 0 1.3 0.2 1.3 0.3 1.4-0.2 1.3 0.2 1.3 0.2 1.4 0.5 1.3-0.2 1.3-0.3 1.4-0.4 1.3-0.3 1.3 0.1 1.4 0.2 1.3 0.1 1.3-0.2 1.4 0 1.3 0.7 1.3 0.1 1.4 0.3 1.3 0 1.3 0.1 1.4-0.3 1.3-0.3 1.3 0.4 1.4 0 1.3-0.1 1.3-0.5 1.4 0.3 1.3 0.4 1.3 0.1 1.3 0.3 1.4-0.1 1.3 0 1.3-0.3 1.4 0.1 1.3-0.1 1.3 0.1 1.4 0.3 1.3 0.3 1.3 0"/>
<path d="M69.8 632.2l1.3-0.2 1.3-0.3 1.4-0.2 1.3-0.9 1.3-0.5 1.4 0.4 1.3 0.6 1.3-0.6 1.4-1.2 1.3-1 1.3-0.7 1.4-0.3 1.3 0.2 1.3 0.6 1.3-1.6 1.4-2.3 1.3 0.6 1.3 1 1.4-0.6 1.3 0.8 1.3 0.3 1.4 0 1.3-1.3 1.3 0.3 1.4-0.1 1.3-1.6 1.3-0.5 1.4 0.8 1.3-0.5 1.3-0.7 1.4-0.7 1.3 1.1 1.3-0.6 1.4-0.9 1.3-1.6 1.3 0.5 1.4 1.1 1.3 0.2 1.3 1.2 1.4-2.1 1.3-3.8 1.3-0.8 1.4 0.8 1.3-0.3 1.3-1.1 1.4-1.2 1.3 0.2 1.3 0.5 1.4 0.3 1.3-1 1.3-2 1.4-3.6 1.3-0.6 1.3 2.1 1.3 1.4 1.4 0 1.3 0.4 1.3-0.7 1.4-0.6 1.3-1.6 1.3-1.1 1.4 2.9 1.3 0 1.3-2.5 1.4-1.5 1.3-0.5 1.3 0.3 1.4-1 1.3-2 1.3-2.7 1.4 2.7 1.3 0.8 1.3-0.3 1.4-0.8 1.3-0.6 1.3 0.2 1.4 0.2 1.3 2 1.3 0.7 1.4-3 1.3-2 1.3 0.4 1.4 0.1 1.3-1.5 1.3-0.4 1.4-1.7 1.3-0.5 1.3 1.5 1.4 0.9 1.3-0.3 1.3 0.5 1.4 0 1.3 0.6 1.3 1 1.3-0.5 1.4 1 1.3 0.5 1.3 1.3 1.4 0.7 1.3 0.5 1.3-0.2 1.4-1.1 1.3 0.3 1.3 0.4 1.4 1.6 1.3 1.8 1.3 0.1 1.4-0.5 1.3-1 1.3 2.3 1.4-0.8 1.3 0.9 1.3-0.7 1.4-1.7 1.3-5.6 1.3-5.6 1.4-4 1.3 0.8 1.3 1 1.4-0.8 1.3-0.6 1.3 0.6 1.4 0 1.3 0.9 1.3 1.9 1.4-0.5 1.3 0.8 1.3 1.6 1.4 5 1.3 2.4 1.3-1.1 1.4 0.1 1.3 5.4 1.3 4.1 1.3 0 1.4 0.7 1.3 0.3 1.3 1.9 1.4 0 1.3 0.1 1.3 0.1 1.4 2.1 1.3 1.5 1.3 0.4 1.4 0.5 1.3 0.1 1.3 0.2 1.4 0.2 1.3 0 1.3 0 1.4 0.1 1.3 1 1.3 0.5 1.4 1 1.3-0.2 1.3 1.1 1.4 0.7 1.3 0.2 1.3-2.6 1.4-1.8 1.3 0.1 1.3 1 1.4-0.5 1.3-0.1 1.3 0.6 1.4 1.3 1.3 0.8 1.3 0.1 1.4-0.6 1.3 0.4 1.3 1.1 1.4 1.1 1.3 0.4 1.3 0.3 1.3 0.3 1.4 0.9 1.3 0.8 1.3 0.4 1.4 0.6 1.3 1.2 1.3 1.1 1.4-0.1 1.3-0.1 1.3 0.6 1.4 1.7 1.3 1.4 1.3-0.1 1.4-0.3 1.3 0.6 1.3 0.6 1.4 0.5 1.3 0 1.3 0.3 1.4-0.4 1.3 0.1 1.3 0.3 1.4 0.3 1.3 0.1 1.3 0.1 1.4 0.3 1.3 0.8 1.3 0.5 1.4-0.2 1.3 0.1 1.3 0.2 1.4 0 1.3-0.5 1.3 0.5 1.4 0.5 1.3 0.8 1.3 0.3 1.4 0.1 1.3-0.1 1.3-0.4 1.3 0.1 1.4 0.3 1.3 0.8 1.3 0.2 1.4 0.1 1.3-0.2 1.3 0 1.4 0 1.3 0.3 1.3 0.7 1.4 0.1 1.3-0.1 1.3 0 1.4 0.3 1.3 0.4 1.3 0.5 1.4 0.2 1.3-0.3 1.3 0.1 1.4 0.3 1.3 0.1 1.3 0 1.4 0.2 1.3 0 1.3 0.1 1.4 0 1.3 0.1 1.3-0.2 1.4 0 1.3 0.1 1.3 0.4 1.4 0.4 1.3-0.4 1.3 0.1 1.4 0.2 1.3 0.2 1.3 0.1 1.4 0 1.3 0 1.3-0.2 1.3 0.4 1.4-0.1 1.3-0.2 1.3-0.1 1.4-0.4 1.3-0.2 1.3 0.5 1.4 0.8 1.3 0.3 1.3-0.6 1.4 0.2 1.3 0.2 1.3 0.5 1.4-0.2 1.3-0.2 1.3-0.1 1.4 0.4 1.3 0.3 1.3-0.2 1.4-0.4 1.3-0.1 1.3 0.5 1.4 0.2 1.3-0.1 1.3 0.2 1.4 0.3 1.3 0 1.3-0.2 1.4-0.1 1.3 0.1 1.3 0 1.4 0.4 1.3-0.1 1.3-0.3 1.4 0 1.3 0.3 1.3 0.3 1.4-0.2 1.3 0 1.3-0.2 1.3 0.1 1.4-0.2 1.3 0.1 1.3-0.1 1.4 0.3 1.3 0.1"/>
<path d="M72.5 627.1l1.4-0.4 1.3-0.1 1.3 0.2 1.4-0.4 1.3-1.3 1.3-0.5 1.4 0.4 1.3 0.3 1.3-0.6 1.4-0.8 1.3-0.7 1.3-0.5 1.4 0.1 1.3 0.1 1.3-1.1 1.4-2.3 1.3 1.1 1.3 0.9 1.3-0.7 1.4-0.1 1.3 0 1.3-0.9 1.4-0.7 1.3 0.5 1.3 1.6 1.4-1.1 1.3-0.8 1.3 0 1.4-0.4 1.3-0.9 1.3-1.6 1.4-0.5 1.3 0.4 1.3 0.4 1.4-1.1 1.3-0.3 1.3-0.1 1.4 0.3 1.3 2.1 1.3-0.3 1.4-3.5 1.3-2 1.3 0.1 1.4-0.2 1.3-0.4 1.3-1.8 1.4 0 1.3 0.8 1.3 0 1.4-0.4 1.3-1.3 1.3-3.5 1.4-2 1.3 2.1 1.3 2.7 1.4 0.4 1.3 0.8 1.3-1.3 1.3-0.7 1.4-1.4 1.3 0.2 1.3-0.1 1.4-0.2 1.3-1.9 1.3-0.7 1.4-0.3 1.3 1.3 1.3 0.3 1.4-1.8 1.3-3.9 1.3 0.2 1.4 0.2 1.3 0.7 1.3 0.9 1.4-0.5 1.3-0.2 1.3-0.2 1.4 1.3 1.3-0.3 1.3-2.9 1.4-1.6 1.3-0.3 1.3-1.1 1.4-0.1 1.3 0.3 1.3-0.6 1.4-0.2 1.3 3 1.3-0.2 1.4-1.8 1.3-0.2 1.3 0.3 1.4 0.7 1.3 0.9 1.3 0.4 1.4-0.4 1.3-0.4 1.3 0.5 1.3 0.6 1.4 0.7 1.3 0.7 1.3 1.4 1.4 0.9 1.3 0.8 1.3 0.3 1.4 1.2 1.3-0.2 1.3-0.6 1.4 0.1 1.3 2.4 1.3-0.7 1.4 0 1.3-0.9 1.3-3.8 1.4-6.7 1.3-5.9 1.3-3.5 1.4 0.3 1.3 1.2 1.3-0.1 1.4-0.9 1.3 0.1 1.3 0.4 1.4 2.3 1.3 3 1.3-0.5 1.4 1 1.3 1.6 1.3 4.2 1.4 1.7 1.3-1 1.3 0.7 1.4 4.4 1.3 3 1.3 0.1 1.4 1.6 1.3 2.5 1.3 1.5 1.3-0.9 1.4 0.1 1.3 1.5 1.3 1.8 1.4 0.6 1.3 0.7 1.3 1.1 1.4-0.1 1.3-1 1.3-0.1 1.4 0.5 1.3 0.6 1.3 0.1 1.4 1 1.3 1.1 1.3 1 1.4-0.1 1.3-0.5 1.3-0.4 1.4-1.2 1.3-1.2 1.3-1.4 1.4 1.1 1.3 1 1.3 0 1.4-0.1 1.3 0.4 1.3 0.2 1.4-0.2 1.3 0.4 1.3 1.1 1.4 1 1.3 1 1.3 0.4 1.4 0.3 1.3 0.2 1.3-0.1 1.4 0.4 1.3 0.7 1.3 1.3 1.3 1.8 1.4 1.2 1.3 0.9 1.3-0.7 1.4 0.1 1.3 0.4 1.3 1.5 1.4 0.8 1.3 0.6 1.3 0.2 1.4 1 1.3 0.6 1.3 0.1 1.4 0.1 1.3 0.2 1.3-0.1 1.4 0 1.3 0.6 1.3 0.2 1.4-0.2 1.3 0.1 1.3 0.2 1.4 0.7 1.3 0.3 1.3 0.2 1.4-0.1 1.3 0.8 1.3 0.4 1.4-0.1 1.3-0.3 1.3 0.1 1.4 0.6 1.3 1 1.3 0.7 1.4 0.5 1.3-0.3 1.3-0.7 1.4-1 1.3 0.4 1.3 0.8 1.3 0.2 1.4-0.3 1.3 0.6 1.3 0.2 1.4 0 1.3 0 1.3 0 1.4-0.3 1.3 0 1.3 0.1 1.4 0.5 1.3 0.8 1.3 0.5 1.4-0.3 1.3 0.1 1.3 0.2 1.4 0.2 1.3-0.1 1.3 0.3 1.4 0.1 1.3 0.3 1.3-0.3 1.4-0.2 1.3 0.2 1.3 0.4 1.4 0.3 1.3-0.2 1.3 0.1 1.4-0.2 1.3 0.3 1.3-0.1 1.4 0.2 1.3 0.4 1.3 0.3 1.4-0.2 1.3-0.3 1.3 0.1 1.4 0 1.3-0.1 1.3 0 1.3 0.1 1.4-0.4 1.3 0.1 1.3 0.1 1.4 0.3 1.3-0.3 1.3 0.4 1.4 0.5 1.3 0.2 1.3 0.3 1.4 0.2 1.3-0.1 1.3-0.3 1.4 0 1.3 0.1 1.3-0.2 1.4 0.1 1.3-0.1 1.3 0.7 1.4 0.2 1.3 0.6 1.3-0.3 1.4-0.2 1.3-0.4 1.3 0.2 1.4 0.1 1.3-0.3 1.3-0.1 1.4 0.2 1.3 0.4 1.3 0.1 1.4-0.2 1.3-0.1 1.3-0.1 1.4 0 1.3-0.1 1.3 0.5 1.4 0.3 1.3-0.3 1.3-0.4 1.3 0.3 1.4 0.3"/>
<path d="M75.3 621.8l1.3-0.1 1.4-0.2 1.3-0.1 1.3-1.1 1.4-1 1.3-0.4 1.3 0.8 1.4-0.4 1.3-0.6 1.3-0.4 1.4-0.4 1.3-0.4 1.3 0 1.4 0.1 1.3-1.6 1.3-2 1.4 1.8 1.3 0.6 1.3-1.6 1.4-0.2 1.3 0.1 1.3-0.3 1.3-1.2 1.4 0.4 1.3 1.8 1.3-0.1 1.4-0.9 1.3-0.9 1.3-0.3 1.4-0.1 1.3-0.6 1.3-0.4 1.4-0.7 1.3-0.6 1.3-0.7 1.4 0.3 1.3 0.2 1.3 0.2 1.4 1.4 1.3-1.5 1.3-3.7 1.4-0.4 1.3 0.3 1.3-0.9 1.4-0.9 1.3 0 1.3 0.2 1.4 0.3 1.3 0.1 1.3 0.2 1.4-1.8 1.3-4.3 1.3-1.8 1.4 2.9 1.3 1.4 1.3-1 1.4-0.6 1.3-0.5 1.3 0.7 1.4 0.4 1.3 0.8 1.3 0.1 1.3-0.7 1.4-1.9 1.3-1.5 1.3-2.6 1.4-2.8 1.3 2.3 1.3 0.5 1.4-2.2 1.3 1.8 1.3 0.7 1.4-0.6 1.3-1.8 1.3-0.6 1.4 0.4 1.3 1.4 1.3 0.2 1.4 1.1 1.3-3.4 1.3-1.1 1.4-0.3 1.3 0.7 1.3-0.3 1.4 0.8 1.3-1.2 1.3-1.9 1.4 0.8 1.3 0.6 1.3-0.2 1.4 0 1.3 0.6 1.3 0.3 1.4 1.6 1.3 0.4 1.3 0.1 1.4-1.6 1.3 0 1.3 1.2 1.4 1.9 1.3 1.8 1.3 0.2 1.3-1.4 1.4 0.1 1.3 1.4 1.3 2.1 1.4-1 1.3-0.6 1.3-1.2 1.4 1.8 1.3-0.6 1.3 0.9 1.4-0.7 1.3-4.2 1.3-6.8 1.4-7.4 1.3-4.2 1.3 0 1.4 2.7 1.3 0.2 1.3-0.6 1.4-0.5 1.3 0.1 1.3 1.2 1.4 2.9 1.3-0.2 1.3-0.3 1.4 4.2 1.3 5.3 1.3 3.3 1.4-0.7 1.3 0.5 1.3 4.5 1.4 3.6 1.3 0.9 1.3 0.9 1.4 1.1 1.3 0.5 1.3 0.5 1.4 0.3 1.3 0.1 1.3 1 1.3 2.5 1.4 1.4 1.3 0.6 1.3-0.5 1.4-0.3 1.3 0.5 1.3 1.4 1.4 0.7 1.3-0.9 1.3-0.5 1.4 0.7 1.3 0.6 1.3-0.2 1.4-0.2 1.3 0 1.3-1.1 1.4-1.7 1.3-1.1 1.3 0 1.4-0.3 1.3-0.2 1.3 0.7 1.4 0.7 1.3 0.1 1.3-0.2 1.4 0.6 1.3 1.2 1.3 1.1 1.4 0.2 1.3-0.4 1.3 1.1 1.4 1.6 1.3 1.5 1.3-0.3 1.4 0.2 1.3 1.2 1.3 2.2 1.4 1.4 1.3 0.5 1.3-0.1 1.3 0.2 1.4 0.5 1.3 0.9 1.3 0.9 1.4 0.4 1.3 0.4 1.3 1.1 1.4 0.6 1.3 0.5 1.3 0 1.4-0.1 1.3-0.2 1.3 0.3 1.4 0.6 1.3-0.1 1.3 0.3 1.4 0.5 1.3 0.7 1.3 0 1.4-0.2 1.3 0.1 1.3 0.5 1.4 0.1 1.3-0.1 1.3-0.1 1.4-0.3 1.3-1.3 1.3 2.2 1.4 1.4 1.3 0.6 1.3 0 1.4-0.4 1.3-0.1 1.3 0.1 1.4 0.3 1.3-0.2 1.3-0.3 1.4-0.3 1.3 0.4 1.3 0.7 1.3 0.4 1.4 0.4 1.3 0.1 1.3 0.1 1.4 0 1.3 0.3 1.3 0.1 1.4 0 1.3 0 1.3 0.1 1.4 0.9 1.3 0.2 1.3-0.3 1.4-0.6 1.3 0.5 1.3 0.7 1.4 0.5 1.3-0.2 1.3-0.4 1.4-0.1 1.3 0.1 1.3-0.2 1.4 0 1.3 0.2 1.3 0.4 1.4 0.3 1.3 0 1.3-0.5 1.4-0.5 1.3 0.1 1.3 0.6 1.4 0.7 1.3 0.4 1.3-0.2 1.4-0.3 1.3 0.1 1.3 0.4 1.4 0.2 1.3 0.2 1.3-0.2 1.3 0 1.4-0.3 1.3 0.1 1.3 0.4 1.4 0.5 1.3-0.3 1.3-0.3 1.4-0.3 1.3 0.2 1.3 0.2 1.4 0.1 1.3-0.1 1.3 0.1 1.4-0.1 1.3 0.4 1.3-0.2 1.4 0.3 1.3-0.1 1.3 0 1.4-0.1 1.3 0.1 1.3 0.2 1.4 0 1.3 0 1.3-0.2 1.4-0.2 1.3 0.3 1.3 0.1 1.4 0.5 1.3-0.2 1.3-0.2 1.4-0.4 1.3 0.5 1.3 0.4 1.4 0.2 1.3-0.2 1.3-0.1 1.4-0.1"/>
<path d="M78.1 616.6l1.3-0.3 1.3-0.4 1.4 0.1 1.3-0.4 1.3-0.5 1.4-1.1 1.3 0.3 1.3-0.4 1.4-0.6 1.3 0.1 1.3 0.1 1.4-0.6 1.3-1.1 1.3 0 1.4-0.8 1.3-1.7 1.3 1.2 1.4 0.7 1.3-1.1 1.3-0.2 1.4 0.1 1.3-0.5 1.3-0.8 1.4 0.5 1.3 1.6 1.3-1.1 1.3-1.4 1.4-1.3 1.3 0.4 1.3 0.4 1.4-0.4 1.3-0.8 1.3 0.3 1.4 0.4 1.3-0.3 1.3 0.1 1.4-0.5 1.3-0.6 1.3 2.3 1.4-0.5 1.3-3.7 1.3-1.7 1.4 0.7 1.3-0.4 1.3-0.4 1.4-0.8 1.3 0.5 1.3-0.9 1.4-0.2 1.3-0.7 1.3-0.4 1.4-3.6 1.3-0.8 1.3 2.7 1.4 0.8 1.3-1.5 1.3-0.4 1.4 0 1.3-0.3 1.3-0.6 1.4-0.6 1.3 0 1.3-0.3 1.4-0.4 1.3-0.9 1.3-0.9 1.3 0.7 1.4 0.2 1.3-0.3 1.3-3.5 1.4 0.8 1.3-0.1 1.3-0.9 1.4-0.5 1.3-1.4 1.3-0.1 1.4 0.2 1.3 2.4 1.3 1.7 1.4-4.2 1.3-3 1.3 0.1 1.4 1 1.3-0.3 1.3-0.4 1.4-1.3 1.3-0.1 1.3 1.9 1.4 0.7 1.3-1.1 1.3 0.6 1.4 2.2 1.3 0.4 1.3 0.4 1.4-1.7 1.3 0.6 1.3-0.4 1.4 0.6 1.3-0.2 1.3 0.3 1.4 0.5 1.3 1.1 1.3 0.4 1.4 0.4 1.3 0.8 1.3 1.6 1.3-0.4 1.4-0.4 1.3-0.4 1.3 2.7 1.4-1.2 1.3 0 1.3-2.9 1.4-4.8 1.3-7.4 1.3-6.6 1.4-3.6 1.3 0.7 1.3 2.1 1.4-1 1.3-0.3 1.3 0.4 1.4-0.2 1.3 0.2 1.3 1.7 1.4 0.4 1.3 2.6 1.3 3.7 1.4 4.5 1.3 2.9 1.3-0.6 1.4 1.7 1.3 5.5 1.3 4.5 1.4-0.3 1.3 0.8 1.3 1.1 1.4 1.7 1.3 0.2 1.3 1.2 1.4 1.1 1.3 1 1.3 1.5 1.4-0.1 1.3 0.2 1.3-0.9 1.3 0.6 1.4 0.8 1.3 0.6 1.3-0.2 1.4 0.4 1.3 0.6 1.3 0.2 1.4 0.1 1.3 0.3 1.3 0.2 1.4-0.7 1.3-1.1 1.3-2.3 1.4-1.4 1.3-0.8 1.3-0.2 1.4-0.6 1.3 0.7 1.3 1.7 1.4 0.9 1.3-0.3 1.3-0.2 1.4 0.4 1.3 0.4 1.3 1 1.4 1.2 1.3 1.7 1.3 0.8 1.4-0.2 1.3-0.2 1.3 0.6 1.4 1.3 1.3 2.7 1.3 1.7 1.4 1.3 1.3-1.8 1.3-1.6 1.4 2.5 1.3 2.8 1.3 0.9 1.3 0.6 1.4 0.2 1.3 1 1.3 0.1 1.4-0.1 1.3 0.3 1.3 0.9 1.4 0 1.3 0.1 1.3 0 1.4 0 1.3-0.2 1.3 1 1.4 0.4 1.3 0.2 1.3-0.7 1.4 0.1 1.3 0.6 1.3 0.9 1.4 0.3 1.3 0 1.3-0.4 1.4-0.7 1.3 0.7 1.3 1.1 1.4 0.2 1.3 0 1.3 0 1.4 0.3 1.3-0.4 1.3 0.5 1.4 0.7 1.3 0.1 1.3-0.7 1.4 0 1.3 0.2 1.3 0.3 1.4 0.2 1.3 0.2 1.3 0 1.3 0.1 1.4 0.2 1.3 0.2 1.3 0.1 1.4 0.5 1.3 0.5 1.3 0.2 1.4-0.2 1.3-0.4 1.3-0.1 1.4-0.5 1.3-1.6 1.3 2.1 1.4 0.5 1.3-0.3 1.3-0.2 1.4 1.1 1.3 0.8 1.3 0.1 1.4-0.3 1.3-0.7 1.3 0.3 1.4 0.1 1.3 0.2 1.3-0.4 1.4 0.1 1.3 0.3 1.3 0.2 1.4 0.1 1.3 0 1.3-0.1 1.4 0.3 1.3 0.2 1.3 0.2 1.4-0.2 1.3 0 1.3 0.1 1.4 0.2 1.3 0.4 1.3 0.3 1.3 0 1.4-0.1 1.3 0.2 1.3-0.2 1.4-0.4 1.3-0.2 1.3 0.2 1.4 0.1 1.3 0 1.3 0 1.4 0.5 1.3 0.2 1.3 0.5 1.4-0.1 1.3-0.3 1.3-0.3 1.4 0.1 1.3 0.3 1.3-0.1 1.4-0.1 1.3-0.1 1.3 0 1.4 0 1.3 0.2 1.3 0.6 1.4-0.3 1.3-0.4 1.3-0.3 1.4 0.3 1.3 0 1.3 0.3 1.4 0.2 1.3 0 1.3 0"/>
<path d="M80.8 611.3l1.4-0.9 1.3-0.5 1.3 0.4 1.4 0.2 1.3-0.9 1.3-0.6 1.4 0.6 1.3 0.1 1.3-0.4 1.4-0.5 1.3-0.4 1.3-0.9 1.4-0.3 1.3-0.3 1.3-1.4 1.4-1.6 1.3 1.1 1.3 0 1.4-1.2 1.3 1.4 1.3 0.6 1.4-0.4 1.3-1 1.3 0.7 1.4 0.8 1.3-2.1 1.3-1.3 1.4 0.2 1.3 0.4 1.3-0.1 1.3-0.2 1.4 0.1 1.3-1.1 1.3-0.7 1.4-0.6 1.3 0.3 1.3 0.1 1.4-0.1 1.3 1.6 1.3-1.1 1.4-2.7 1.3-1.3 1.3 0.6 1.4 0.2 1.3-0.5 1.3-2.4 1.4-0.7 1.3 1.5 1.3 0.3 1.4-0.7 1.3-1.5 1.3-3.7 1.4-1.7 1.3 1.8 1.3 1.9 1.4 0.3 1.3 0.2 1.3-0.9 1.4-0.4 1.3 0 1.3 0.2 1.4-0.5 1.3-0.1 1.3-1.2 1.4-0.1 1.3-1.4 1.3 0 1.4-0.9 1.3-1.9 1.3-3.3 1.3 1.8 1.4 1.8 1.3 0.3 1.3-0.9 1.4-1.1 1.3-1 1.3 0.7 1.4 0.4 1.3 0.9 1.3-3.5 1.4-0.6 1.3 0.7 1.3 0.1 1.4-1.2 1.3-0.2 1.3-1.4 1.4-1 1.3 0.8 1.3-0.4 1.4 0.6 1.3 1.2 1.3 1.1 1.4 1.2 1.3 0.2 1.3 0.2 1.4-0.4 1.3 0 1.3-0.4 1.4 1.3 1.3 0.6 1.3 1.2 1.4 0.5 1.3 0.6 1.3-0.3 1.4 0.5 1.3 1.7 1.3 0.7 1.4-0.7 1.3-0.9 1.3 2.1 1.3-0.9 1.4-0.4 1.3-3.9 1.3-6.2 1.4-8.1 1.3-6.2 1.3-4.2 1.4 0.1 1.3 1.7 1.3 0.2 1.4-1.1 1.3-0.2 1.3 0.2 1.4 2.1 1.3 2.8 1.3 1.2 1.4 2.5 1.3 1.7 1.3 4.1 1.4 3.2 1.3 2.6 1.3 2.7 1.4 4.7 1.3 1.6 1.3 0.2 1.4 1.3 1.3 2.3 1.3 1.7 1.4 0.6 1.3 0.7 1.3 0.8 1.4 0.5 1.3 0.1 1.3 1.1 1.4 2 1.3 0.5 1.3-0.6 1.4-0.4 1.3 0.4 1.3 0.6 1.3-0.1 1.4 0.4 1.3 0.8 1.3 1.2 1.4-0.6 1.3-0.6 1.3-1 1.4-1.5 1.3-2.4 1.3-1.4 1.4 0 1.3-0.1 1.3-1 1.4 0 1.3 1.3 1.3 1.1 1.4 0 1.3-0.3 1.3 0.5 1.4 1.8 1.3 1.2 1.3 0.3 1.4 0.2 1.3 1.1 1.3 1.2 1.4 0.8 1.3 0.9 1.3 1 1.4 1.6 1.3 0.8 1.3 1.2 1.4 0.4 1.3 0.3 1.3-0.1 1.4 1.5 1.3 1.9 1.3 0.9 1.4-0.1 1.3 0.6 1.3 0.3 1.3-0.3 1.4-0.1 1.3 0.7 1.3 0.5 1.4 0.2 1.3 0.2 1.3 0.3 1.4 0.4 1.3 0.6 1.3-0.1 1.4 0 1.3 0 1.3 0.3 1.4 0.3 1.3 0.1 1.3 0.1 1.4-0.3 1.3 0 1.3-0.1 1.4 1 1.3 0.8 1.3 0.3 1.4-0.3 1.3-0.3 1.3 0.1 1.4 0.1 1.3 0.7 1.3 0.5 1.4 0.3 1.3-0.1 1.3 0.1 1.4-0.2 1.3-0.1 1.3 0.1 1.4 0.4 1.3-0.1 1.3 0.1 1.4 0.2 1.3 0.8 1.3 0.3 1.3 0.3 1.4-0.1 1.3 0.3 1.3-0.2 1.4-0.3 1.3 0 1.3 0.5 1.4 0.1 1.3 0.2 1.3 0 1.4 0.2 1.3-0.3 1.3 0.5 1.4 0.3 1.3 0.2 1.3-0.2 1.4 0.1 1.3 0.2 1.3-0.1 1.4-0.3 1.3 0 1.3 0.2 1.4 0.1 1.3 0.2 1.3 0.1 1.4-0.2 1.3-0.1 1.3 0.5 1.4 0.2 1.3-0.1 1.3-0.5 1.4-0.1 1.3 0.3 1.3 0.3 1.4 0.3 1.3 0.1 1.3 0.3 1.4-0.2 1.3-0.2 1.3-0.1 1.3 0.1 1.4 0.1 1.3-0.1 1.3 0.3 1.4 0 1.3 0.1 1.3 0.3 1.4 0 1.3 0.3 1.3-0.1 1.4-0.1 1.3 0 1.3 0.5 1.4 0.4 1.3-0.2 1.3-0.4 1.4-0.5 1.3-0.3 1.3 0.1 1.4 0.5 1.3 0.4 1.3-0.3 1.4-0.2 1.3-0.3 1.3 0.5 1.4 0.4 1.3 0.8 1.3-0.3 1.4-0.3 1.3-0.4"/>
<path d="M83.6 606.3l1.3-0.6 1.4-0.6 1.3 0.7 1.3-0.7 1.4-0.9 1.3-0.9 1.3 0.5 1.4-0.2 1.3 0.2 1.3-0.1 1.4-0.6 1.3-0.3 1.3 0.3 1.4 0.3 1.3-2.1 1.3-2.6 1.4 1 1.3 0.7 1.3-1.3 1.4-0.2 1.3 0.6 1.3 0.4 1.4-1 1.3 0.3 1.3 1 1.4-1.3 1.3-1.1 1.3 0.2 1.4 0.1 1.3-0.6 1.3-0.8 1.4 0.7 1.3-0.2 1.3-0.8 1.3-0.8 1.4 0.2 1.3 0.5 1.3-0.3 1.4 2.3 1.3-1.7 1.3-3.1 1.4-0.8 1.3 0.4 1.3-1.1 1.4-1.3 1.3-0.9 1.3-0.1 1.4 0.7 1.3 0.3 1.3 0.1 1.4-0.7 1.3-3.2 1.3-1.8 1.4 1.8 1.3 1.1 1.3 0.2 1.4-0.2 1.3-0.4 1.3-1 1.4 0 1.3 0.2 1.3 0.9 1.4-0.3 1.3-1.9 1.3-0.8 1.4-1.5 1.3-0.7 1.3-0.4 1.4-0.4 1.3-2.5 1.3 1.6 1.4 1.9 1.3 0.2 1.3-1.6 1.3-1.7 1.4 0.5 1.3 1 1.3 1.2 1.4 0.4 1.3-3.3 1.3-2 1.4 0 1.3-0.4 1.3-0.7 1.4-0.1 1.3-1.4 1.3-2 1.4 1.3 1.3 1.8 1.3 0.3 1.4 1 1.3 1.2 1.3 0.5 1.4 0.3 1.3-0.6 1.3 0.5 1.4-0.4 1.3-0.2 1.3 0.6 1.4 1.5 1.3 1.2 1.3 0.1 1.4-0.4 1.3 0.4 1.3 1.3 1.4 2.1 1.3-0.4 1.3-0.9 1.4-0.5 1.3 2.6 1.3-1.4 1.4-2.3 1.3-5.8 1.3-7.1 1.3-7.4 1.4-6.6 1.3-3.9 1.3 0.1 1.4 2.6 1.3-0.3 1.3-0.2 1.4 0.2 1.3-0.1 1.3 0.5 1.4 2.5 1.3 1.7 1.3 2.8 1.4 2.4 1.3 4.9 1.3 3.5 1.4 1.6 1.3 2.3 1.3 6.1 1.4 3.5 1.3 0.1 1.3 0.1 1.4 1.7 1.3 2.1 1.3 0.5 1.4-0.3 1.3 0.5 1.3 1.9 1.4 2.5 1.3 0.9 1.3 0.1 1.4-1.2 1.3 0 1.3 0.8 1.4 0.5 1.3-0.1 1.3 0.6 1.4 0.9 1.3 0.5 1.3 0.4 1.3 0.2 1.4-1.2 1.3-1.7 1.3-1.6 1.4-2 1.3-1.7 1.3-0.4 1.4 0.5 1.3 0.4 1.3 0.1 1.4 0.2 1.3 0.6 1.3 0.2 1.4 0.3 1.3 0.6 1.3 1 1.4 0.2 1.3 0.2 1.3 1.1 1.4 1 1.3 0.8 1.3 1.1 1.4 1.5 1.3 1.3 1.3 1.4 1.4 1.7 1.3 1.5 1.3 0.2 1.4 0 1.3 0.3 1.3 1.3 1.4 1.5 1.3 0.7 1.3-0.5 1.4 0 1.3 0.8 1.3 0.9 1.4 0.3 1.3 0.1 1.3 0.3 1.3 0.6 1.4 0.5 1.3 0.2 1.3 0.2 1.4 0.1 1.3-0.5 1.3 0.2 1.4 0.1 1.3 0.9 1.3 0 1.4 0.3 1.3-0.2 1.3 0.2 1.4 0.4 1.3-0.2 1.3 0.5 1.4 0.5 1.3 0.5 1.3-0.4 1.4-0.2 1.3 0 1.3 0.2 1.4 0.4 1.3 0.5 1.3 0.2 1.4-0.1 1.3 0.1 1.3-1 1.4-2.3 1.3 2.1 1.3 1.4 1.4 0.4 1.3 0.2 1.3-0.1 1.4 0.4 1.3 0.4 1.3 0 1.4-0.3 1.3 0.9 1.3 0.3 1.3 0.1 1.4-0.4 1.3 0.3 1.3 0 1.4 0.1 1.3-0.1 1.3-0.2 1.4-0.3 1.3-0.1 1.3 0.4 1.4 0.3 1.3 0.3 1.3-0.2 1.4 0.4 1.3-0.1 1.3-0.1 1.4 0 1.3 0.6 1.3 0.1 1.4 0.1 1.3 0 1.3 0.1 1.4-0.3 1.3 0.3 1.3-0.9 1.4-1.6 1.3 1.4 1.3 1 1.4 0.2 1.3 0 1.3-0.1 1.4 0 1.3 0.3 1.3 0.5 1.4 0.2 1.3-0.3 1.3-0.2 1.4 0.1 1.3 0.1 1.3-0.2 1.3 0 1.4-0.1 1.3 0.3 1.3 0 1.4 0.5 1.3 0.3 1.3 0.1 1.4-0.2 1.3-0.2 1.3 0.3 1.4-0.1 1.3 0.1 1.3-0.2 1.4-0.1 1.3 0 1.3 0 1.4 0.5 1.3 0 1.3 0.1 1.4-0.1 1.3 0.4 1.3 0 1.4-0.2 1.3-0.3 1.3 0.2 1.4 0.1"/>
<path d="M86.4 600.2l1.3-0.3 1.3 0.2 1.4 0.7 1.3-1.2 1.3-0.6 1.4-0.4 1.3 1.1 1.3-0.4 1.4-0.3 1.3-0.2 1.3-0.3 1.4-0.2 1.3-0.4 1.3-0.3 1.4-1.5 1.3-2.1 1.3 1.1 1.4-0.1 1.3-0.3 1.3 0.6 1.4 0.3 1.3-1 1.3-0.9 1.4 0.9 1.3 0.8 1.3-1.8 1.4-0.4 1.3 0 1.3-0.1 1.4-0.8 1.3 0.4 1.3 0.5 1.4-0.3 1.3-1.3 1.3-1 1.4 0.5 1.3 0.8 1.3-0.3 1.3 1 1.4-1.8 1.3-3.5 1.3-1 1.4 0.5 1.3-0.3 1.3-0.2 1.4-1 1.3 0.1 1.3 0.2 1.4 0.8 1.3-0.1 1.3-1.1 1.4-4 1.3-1.5 1.3 2.5 1.4 1.3 1.3-0.9 1.3-0.8 1.4-0.5 1.3-0.6 1.3 0.1 1.4 0.3 1.3 0.4 1.3 0.4 1.4-0.9 1.3-1.5 1.3-1.5 1.4 0.2 1.3 0 1.3-1 1.4-2.7 1.3 1.7 1.3 0.6 1.4-0.4 1.3-0.8 1.3-1 1.4-0.2 1.3 0.2 1.3 2.3 1.3 3.4 1.4-2.6 1.3-3.5 1.3-2 1.4 0.3 1.3 0.5 1.3 1 1.4-2.1 1.3-2.6 1.3 1.3 1.4 1.9 1.3-0.5 1.3 0.5 1.4 0.7 1.3 0.6 1.3 0.4 1.4-0.6 1.3 0.2 1.3-0.8 1.4-0.2 1.3 0.6 1.3 2.4 1.4 2.3 1.3 0.6 1.3-0.7 1.4-0.1 1.3 1.1 1.3 1.5 1.4 0.3 1.3 0.1 1.3 0.1 1.4 1 1.3-3.1 1.3-3.2 1.4-6 1.3-8.1 1.3-8.4 1.4-6.7 1.3-4.1 1.3-0.4 1.3 2.5 1.4 0.7 1.3 0 1.3 0.1 1.4-0.1 1.3 1.4 1.3 3.2 1.4 2.3 1.3 3.3 1.3 3.4 1.4 5.2 1.3 3.7 1.3 1.1 1.4 1.6 1.3 5 1.3 3.2 1.4 1.4 1.3 1.8 1.3 2.1 1.4 1.4 1.3 0.4 1.3-0.4 1.4 0.4 1.3 1.6 1.3 2 1.4 0.2 1.3 0.2 1.3-0.3 1.4 0.6 1.3 0.8 1.3 0 1.4 0 1.3 0.2 1.3 1.5 1.4 0.9 1.3 0.4 1.3-0.8 1.4-1.4 1.3-0.9 1.3-2.2 1.3-2.4 1.4-2.1 1.3 0.1 1.3 0.1 1.4-0.2 1.3 0 1.3 0.7 1.4 1.2 1.3 0.7 1.3 0.3 1.4 0.9 1.3 1 1.3 0.8 1.4 0.6 1.3 1 1.3 0.5 1.4 0.5 1.3 0.9 1.3 0.8 1.4 0.7 1.3 1.7 1.3 1.8 1.4 1.4 1.3 0 1.3 0.8 1.4 0.4 1.3 1.5 1.3 0.8 1.4 0.6 1.3-0.1 1.3 0.9 1.4 1.1 1.3 0.6 1.3 0.2 1.4 0.3 1.3 0.3 1.3-0.1 1.4-0.2 1.3-0.2 1.3 0.2 1.3 0.2 1.4 0.2 1.3 0.4 1.3 0.4 1.4 0.2 1.3 0.4 1.3 0.3 1.4 0.4 1.3-0.5 1.3-0.2 1.4-0.2 1.3 0.5 1.3 1.3 1.4 0.3 1.3-0.1 1.3-0.5 1.4 0.4 1.3 0.1 1.3 0 1.4 0.3 1.3 0.3 1.3-0.1 1.4 0.4 1.3 0.2 1.3 0.1 1.4-0.2 1.3 0.1 1.3-0.2 1.4 0.4 1.3 0.1 1.3 0 1.4-0.2 1.3 0.6 1.3 0.3 1.4 0.5 1.3 0.1 1.3 0.2 1.4 0.2 1.3 0.4 1.3 0 1.3-0.3 1.4-0.3 1.3 0 1.3 0.4 1.4 0.5 1.3 0.4 1.3 0.3 1.4-0.4 1.3-0.6 1.3 0.1 1.4 0.6 1.3 0.4 1.3-0.2 1.4 0.1 1.3 0.1 1.3 0.2 1.4 0 1.3-0.2 1.3-0.3 1.4 0 1.3-0.4 1.3 0.2 1.4 0.6 1.3 0.6 1.3-0.2 1.4-0.4 1.3 0 1.3 0.5 1.4 0.5 1.3 0.1 1.3-0.3 1.4-0.2 1.3 0 1.3 0.1 1.4-0.1 1.3-0.3 1.3 0.1 1.4 0.4 1.3 0.6 1.3-0.1 1.3 0.2 1.4-0.1 1.3 0 1.3-0.2 1.4 0.1 1.3 0.1 1.3-0.2 1.4 0.2 1.3 0.3 1.3 0.2 1.4-0.3 1.3 0.2 1.3 0.1 1.4-0.2 1.3-0.3 1.3 0 1.4 0.2 1.3 0 1.3 0.5 1.4-0.1 1.3-0.1 1.3 0"/>
<path d="M89.2 595.7l1.3-0.1 1.3-0.2 1.3-0.3 1.4-0.4 1.3-1 1.3 0.1 1.4 0.3 1.3 0.1 1.3-1 1.4-0.7 1.3-0.8 1.3-0.6 1.4-0.2 1.3 0.7 1.3-1.2 1.4-2.5 1.3 0.1 1.3 0.8 1.4-0.1 1.3 0.9 1.3 0.5 1.4-0.2 1.3-1.1 1.3 0.3 1.4 0.9 1.3-1.7 1.3-1.4 1.4 0.1 1.3 1.3 1.3 1 1.4-0.1 1.3-0.5 1.3-1.6 1.4-1.4 1.3-0.5 1.3 1.3 1.4 0.9 1.3-1 1.3 0.8 1.4-2 1.3-3.4 1.3-0.4 1.3 1 1.4 0.2 1.3-1.1 1.3-1.2 1.4-0.3 1.3 1.2 1.3 0.5 1.4 0.3 1.3-0.6 1.3-3.5 1.4-2.5 1.3 0.3 1.3 0.3 1.4 0.5 1.3 1.3 1.3 0.1 1.4-1.4 1.3 0 1.3 1.4 1.4 0.8 1.3-1.2 1.3-1.8 1.4-0.4 1.3-1 1.3-1.1 1.4-1.2 1.3-1 1.3-2.3 1.4 1.5 1.3 0.9 1.3-0.2 1.4 0 1.3-1.6 1.3-0.4 1.4 0.4 1.3 1.6 1.3 1.4 1.4-2.9 1.3-1.2 1.3-0.7 1.3-0.7 1.4-0.7 1.3 0.6 1.3-0.5 1.4-1.4 1.3 1.2 1.3 1.2 1.4 0.5 1.3 1.2 1.3 0.7 1.4-0.7 1.3-0.5 1.3-0.4 1.4 1 1.3-0.1 1.3 0 1.4 1.2 1.3 0.5 1.3-1.1 1.4 2 1.3 0.7 1.3-0.3 1.4 0.5 1.3 1.2 1.3-0.1 1.4 0 1.3 0.3 1.3 2.5 1.4-2.2 1.3-4.6 1.3-7.5 1.4-8.4 1.3-9.1 1.3-7.5 1.4-2.7 1.3 1.9 1.3 2.7 1.4 0.1 1.3 0 1.3 0.1 1.3-0.2 1.4 1.2 1.3 2.9 1.3 1.8 1.4 3.1 1.3 3.4 1.3 5 1.4 3.7 1.3 1.4 1.3 2.3 1.4 6.5 1.3 3.5 1.3 0.4 1.4 1.1 1.3 3 1.3 2.2 1.4-0.8 1.3 0.3 1.3 1.9 1.4 2.7 1.3 0.7 1.3-0.2 1.4 0.9 1.3 0.5 1.3 0.3 1.4-0.2 1.3-0.2 1.3 0.1 1.4 0.4 1.3 0.8 1.3 1.2 1.4-0.1 1.3-1.9 1.3-2.7 1.4-0.7 1.3-1.2 1.3-1.9 1.4-2.2 1.3 0.1 1.3 0.8 1.3 0.3 1.4-0.1 1.3 0.3 1.3 0.5 1.4-0.1 1.3-0.1 1.3 0.7 1.4 1.2 1.3 1 1.3 1 1.4 1.4 1.3 0.5 1.3 0.4 1.4 1 1.3 1.8 1.3 1.4 1.4 1.9 1.3 1.7 1.3 1 1.4-0.2 1.3-0.2 1.3 0.8 1.4 1.3 1.3 1 1.3 0.7 1.4 0.4 1.3 0.8 1.3 0.6 1.4 0.3 1.3-0.4 1.3-0.1 1.4 0.7 1.3 0.6 1.3 0.1 1.4-0.2 1.3 0.3 1.3 0.6 1.4 0.7 1.3 0.7 1.3 0.3 1.3-0.1 1.4-0.2 1.3 0.2 1.3-0.1 1.4-0.2 1.3 0.2 1.3-0.1 1.4 0.2 1.3 0.9 1.3 1.1 1.4 0.1 1.3-0.1 1.3 0.1 1.4 0.2 1.3-0.2 1.3 0.5 1.4 0.1 1.3-0.2 1.3-0.3 1.4 0.2 1.3 0.1 1.3 0.1 1.4 0.1 1.3 0.2 1.3 0.2 1.4 0.4 1.3 0.6 1.3 0.3 1.4-0.1 1.3-0.2 1.3 0.3 1.4 0 1.3-0.1 1.3-0.3 1.4 0.2 1.3 0.2 1.3 0.6 1.4-0.1 1.3-0.4 1.3-0.3 1.3 0.6 1.4 0.2 1.3 0.1 1.3 0.1 1.4 0.4 1.3 0.3 1.3-0.3 1.4-0.1 1.3 0.1 1.3 0.6 1.4 0.4 1.3 0 1.3-0.1 1.4-0.4 1.3-0.2 1.3 0.1 1.4-0.1 1.3-0.3 1.3 0.2 1.4 0.5 1.3 0.4 1.3-0.1 1.4 0.3 1.3-0.1 1.3 0.1 1.4-0.3 1.3 0.4 1.3 0 1.4 0 1.3-0.3 1.3 0.2 1.4 0.2 1.3-0.1 1.3 0 1.4 0.1 1.3 0.1 1.3 0.5 1.4 0 1.3-0.1 1.3 0 1.3 0.4 1.4 0.2 1.3-0.1 1.3-0.2 1.4-0.3 1.3-0.2 1.3 0.1 1.4 0.3 1.3 0.6 1.3-0.2 1.4-0.1 1.3-0.3 1.3 0.3 1.4 0.1 1.3 0.4 1.3 0 1.4-0.2 1.3-0.2"/>
<path d="M91.9 591.0l1.4 0.3 1.3-0.7 1.3-0.7 1.4-1 1.3-0.6 1.3-0.5 1.3-0.1 1.4 0.4 1.3-0.4 1.3 0.3 1.4-0.6 1.3-0.7 1.3-0.7 1.4 0.9 1.3-0.8 1.3-2.6 1.4 0.3 1.3 1.1 1.3-0.5 1.4 0.3 1.3-0.1 1.3-0.6 1.4-1 1.3 0.5 1.3 1.5 1.4-1.2 1.3-0.7 1.3 0.1 1.4 0.1 1.3-1.2 1.3-1.3 1.4-0.1 1.3 0.9 1.3 0.2 1.4-0.3 1.3-0.5 1.3 0.3 1.4-0.9 1.3 1.4 1.3-1.8 1.4-2.2 1.3-0.3 1.3 0.9 1.4-0.7 1.3-0.6 1.3-0.8 1.3-0.2 1.4 0.2 1.3-0.3 1.3-0.6 1.4-1.4 1.3-2.8 1.3-0.4 1.4 2.7 1.3 0.5 1.3-0.7 1.4 0.4 1.3-0.2 1.3-1 1.4-0.9 1.3 0.3 1.3 0.4 1.4-1 1.3-1 1.3-0.9 1.4-0.9 1.3-1 1.3-0.8 1.4-1.1 1.3-2 1.3 2.7 1.4 0.2 1.3-1.5 1.3-0.2 1.4-0.2 1.3 0.7 1.3 0.2 1.4 1.6 1.3 1 1.3-2.9 1.4-1.4 1.3 0 1.3-0.5 1.4-0.9 1.3 0.2 1.3-1.1 1.3-1 1.4 2 1.3 1.7 1.3-0.7 1.4-0.1 1.3 0.9 1.3 0.7 1.4 0.7 1.3-0.9 1.3-0.2 1.4-1.3 1.3-0.6 1.3 2.1 1.4 3.3 1.3 2.3 1.3-0.9 1.4-1.2 1.3 0 1.3 0.5 1.4 0.8 1.3 0 1.3 0.6 1.4 0.2 1.3 1.5 1.3-2.8 1.4-4.1 1.3-7.3 1.3-9 1.4-8.6 1.3-6.3 1.3-3.9 1.4 0.2 1.3 2.1 1.3 0.4 1.4-0.4 1.3-0.1 1.3-0.1 1.4 1 1.3 3.1 1.3 1.1 1.3 3.7 1.4 4.1 1.3 5.6 1.3 3.8 1.4 2.1 1.3 3.3 1.3 5.7 1.4 3.2 1.3 0.1 1.3 1.5 1.4 2.7 1.3 2.1 1.3 0.3 1.4 0.2 1.3 0.4 1.3 0.5 1.4 1.2 1.3 1.4 1.3 1.7 1.4 0.3 1.3 0.3 1.3 0 1.4 0.2 1.3-0.3 1.3 0.3 1.4 0.4 1.3 0.7 1.3 0 1.4-0.9 1.3-1.7 1.3-1.6 1.4-1.8 1.3-1.6 1.3-1.4 1.4-0.2 1.3-0.3 1.3-1 1.4-0.2 1.3 0.7 1.3 1 1.3 0.1 1.4 0.3 1.3 1.2 1.3 1.3 1.4 1 1.3 0.8 1.3 1.4 1.4 0.7 1.3 0.6 1.3 0 1.4 1.5 1.3 1.7 1.3 2.1 1.4 1.5 1.3 1.9 1.3 0.4 1.4 0.1 1.3-0.1 1.3 1.2 1.4 1.3 1.3 1.3 1.3 0 1.4 0.2 1.3 0.5 1.3 0.8 1.4 0.2 1.3 0.3 1.3 0.3 1.4 0.5 1.3-0.3 1.3-0.4 1.4-0.3 1.3 0.4 1.3 0.2 1.4 0.2 1.3 0.5 1.3 0.6 1.4 0.4 1.3 0 1.3 0.2 1.3 0.2 1.4 0.1 1.3 0.3 1.3 0.4 1.4 0.5 1.3 0 1.3-0.1 1.4-0.4 1.3-0.2 1.3 0.1 1.4 0.6 1.3 0.3 1.3 0.1 1.4 0 1.3 0.5 1.3 0.1 1.4-0.1 1.3-0.1 1.3 0.2 1.4 0.3 1.3 0.3 1.3 0.2 1.4 0.5 1.3 0.6 1.3 0.3 1.4-0.3 1.3-0.1 1.3 0.2 1.4 0 1.3 0.1 1.3 0 1.4 0.2 1.3-0.1 1.3-0.1 1.4-0.2 1.3 0 1.3 0.6 1.4 0.2 1.3-0.2 1.3-0.3 1.3 0.3 1.4 0.3 1.3 0.1 1.3 0 1.4 0.1 1.3 0.7 1.3 0 1.4-0.1 1.3-0.2 1.3 0.3 1.4-0.1 1.3-0.1 1.3 0 1.4 0.1 1.3 0.2 1.3 0.2 1.4 0.1 1.3 0 1.3-0.1 1.4 0.2 1.3 0.1 1.3 0 1.4 0.1 1.3-0.1 1.3-0.1 1.4 0 1.3 0 1.3 0 1.4-0.3 1.3 0.3 1.3 0.3 1.4 0.3 1.3 0.4 1.3 0 1.4-0.1 1.3-0.1 1.3 0.3 1.4 0.4 1.3-0.1 1.3-0.2 1.3-0.6 1.4-0.3 1.3 0 1.3 0.5 1.4 0.3 1.3 0 1.3 0.1 1.4-0.1 1.3 0.2 1.3 0.1 1.4 0.2 1.3 0 1.3 0.1 1.4-0.1"/>
<path d="M94.7 584.3l1.3 0 1.4 0.2 1.3-0.1 1.3-1 1.4-0.9 1.3-0.2 1.3 0.5 1.4 0.2 1.3-0.1 1.3-0.1 1.3-0.3 1.4-1.1 1.3-0.5 1.3 0.8 1.4-0.9 1.3-2.6 1.3 0.2 1.4 0.8 1.3-0.4 1.3 1.2 1.4 0.3 1.3-0.2 1.3-1 1.4 0.2 1.3 0.5 1.3-1.4 1.4-0.4 1.3-0.4 1.3 0.5 1.4-0.4 1.3-0.4 1.3-0.4 1.4 0 1.3 0.4 1.3-0.3 1.4 0.2 1.3 0 1.3-0.7 1.4 1.7 1.3-1.4 1.3-3 1.4-2.3 1.3-0.2 1.3-0.5 1.4 0.8 1.3-0.5 1.3-0.2 1.4 0.4 1.3 0.9 1.3-0.7 1.3-1.9 1.4-4 1.3-1.3 1.3 2.3 1.4 1.7 1.3-0.2 1.3 0.5 1.4-0.1 1.3-0.3 1.3-1.4 1.4-0.4 1.3 0.8 1.3 0.2 1.4-0.8 1.3-2.2 1.3-0.7 1.4-0.4 1.3 0.1 1.3-1.1 1.4-2.5 1.3 1.2 1.3 0.9 1.4 0.1 1.3-0.5 1.3-2.2 1.4-0.8 1.3 0.5 1.3 2.5 1.4 2.1 1.3-2.9 1.3-1.6 1.4 0.1 1.3-0.9 1.3-2.3 1.4-0.3 1.3 0.7 1.3 0.8 1.4 1.5 1.3 0.5 1.3-0.6 1.3 0.5 1.4 0.7 1.3-0.2 1.3 0.9 1.4-0.5 1.3 1 1.3-0.6 1.4 0.8 1.3 0.7 1.3 0.9 1.4 0.5 1.3 0 1.3 0.1 1.4 0 1.3 1 1.3 1 1.4 0.2 1.3-0.1 1.3-0.3 1.4 1.3 1.3-3.5 1.3-5.1 1.4-8.1 1.3-7.6 1.3-9 1.4-6.7 1.3-3.8 1.3 1.4 1.4 1.2 1.3-0.1 1.3 0.2 1.4 0.5 1.3-0.7 1.3 1.6 1.4 3.6 1.3 2 1.3 2.9 1.4 4.1 1.3 5.6 1.3 4.1 1.3 0.9 1.4 3 1.3 5.7 1.3 4 1.4 1.2 1.3 2.8 1.3 1.7 1.4 1.4 1.3-0.5 1.3 0.9 1.4 0.7 1.3 2.5 1.3 1.5 1.4 0.8 1.3-0.4 1.3-0.6 1.4 0.1 1.3 0.6 1.3-0.1 1.4 0.5 1.3 0.5 1.3 0.7 1.4 0.6 1.3 0.9 1.3-1.4 1.4-2.7 1.3-2.4 1.3-2.9 1.4-2 1.3-1 1.3 0.8 1.4 0.2 1.3-0.1 1.3 0 1.4 0.7 1.3 1.3 1.3 0.8 1.4-0.1 1.3 0.4 1.3 0.9 1.3 0.9 1.4 0 1.3 0.8 1.3 0.6 1.4 1.5 1.3 1.1 1.3 2.5 1.4 1.4 1.3 1.7 1.3 0.3 1.4 1.8 1.3 0.9 1.3 1 1.4 0 1.3 1.3 1.3 1.3 1.4 0.8 1.3 0.2 1.3 0.8 1.4 0.5 1.3-0.2 1.3-0.1 1.4 0.7 1.3 0.5 1.3 0 1.4 0 1.3-0.2 1.3 0.2 1.4 0.5 1.3 0.5 1.3-0.1 1.4-0.1 1.3 0.1 1.3 0.7 1.4 0.2 1.3 0.3 1.3-0.2 1.4 0.1 1.3-0.4 1.3 0.7 1.3 0.7 1.4 0.3 1.3 0 1.3-0.2 1.4 0.4 1.3-0.1 1.3 0.2 1.4 0 1.3 0.4 1.3-0.1 1.4 0.4 1.3 0.3 1.3 0 1.4 0.2 1.3 0.3 1.3-0.1 1.4-0.2 1.3 0.1 1.3 0.5 1.4 0.5 1.3 0.3 1.3 0.1 1.4 0 1.3 0.1 1.3-0.2 1.4 0.3 1.3 0.5 1.3 0.3 1.4 0.1 1.3-0.5 1.3 0 1.4 0 1.3 0.3 1.3-0.1 1.4 0.1 1.3 0.1 1.3-0.3 1.4 0.4 1.3 0 1.3 0.2 1.3-0.2 1.4 0.5 1.3 0 1.3 0.1 1.4-0.2 1.3 0 1.3-0.2 1.4 0.2 1.3-0.2 1.3 0.1 1.4 0 1.3 0.2 1.3 0 1.4 0.1 1.3 0.2 1.3 0.2 1.4 0.3 1.3 0.3 1.3 0.2 1.4-0.3 1.3-0.3 1.3 0.1 1.4 0.4 1.3 0 1.3-0.1 1.4-0.2 1.3 0.2 1.3-0.3 1.4 0.2 1.3 0 1.3 0.2 1.4-0.3 1.3 0.4 1.3 0.6 1.4-0.1 1.3-0.3 1.3-0.1 1.4 0.3 1.3-0.1 1.3-0.2 1.3 0.1 1.4 0.1 1.3 0.2 1.3-0.2 1.4 0.3 1.3 0 1.3 0.3 1.4-0.2 1.3 0 1.3-0.1"/>
<path d="M97.5 580.0l1.3 0 1.3 0.2 1.4 0.1 1.3-0.9 1.3-1.3 1.4-0.5 1.3 0.8 1.3 0.2 1.4-0.8 1.3-0.7 1.3-0.4 1.4-0.4 1.3 0.2 1.3 1.1 1.3-1.3 1.4-2.7 1.3 0.6 1.3 0.9 1.4-1 1.3-0.2 1.3-0.6 1.4-0.2 1.3 0.4 1.3 1.2 1.4 1.6 1.3-2.2 1.3-0.6 1.4-1 1.3 0.3 1.3-0.7 1.4 0 1.3-0.2 1.3-0.3 1.4-0.8 1.3-0.6 1.3 0.4 1.4 0.1 1.3 0.3 1.3 1.7 1.4-1.4 1.3-4.7 1.3-0.5 1.4 1.1 1.3 0.6 1.3-0.2 1.4-0.6 1.3-0.2 1.3 0.1 1.4 1 1.3-0.9 1.3-1.6 1.4-3 1.3-0.5 1.3 2.2 1.3 0.7 1.4-0.9 1.3-1.2 1.3-0.6 1.4 0 1.3 0.2 1.3 0 1.4 0.3 1.3 0.4 1.3-0.8 1.4-1.2 1.3-1.5 1.3-0.1 1.4-0.9 1.3-1.6 1.3-2 1.4 2.5 1.3 0.6 1.3-1.1 1.4-1.7 1.3 0 1.3 1 1.4 0.5 1.3 1.1 1.3 1.7 1.4-1.9 1.3-2.1 1.3-0.1 1.4-0.6 1.3-1.6 1.3-0.5 1.4-0.7 1.3 0.4 1.3 1.5 1.4 0.4 1.3-0.5 1.3 0.3 1.4 0.6 1.3-0.3 1.3 1.2 1.3-0.4 1.4-0.4 1.3-1.3 1.3 0.5 1.4 2.4 1.3 2.8 1.3 0.2 1.4-0.5 1.3-1 1.3 0.6 1.4-0.1 1.3 1.7 1.3-0.3 1.4-0.3 1.3-0.4 1.3 1.7 1.4-3.1 1.3-4.6 1.3-7.5 1.4-8.9 1.3-9.3 1.3-7.4 1.4-3.9 1.3 1 1.3 2.7 1.4 0.3 1.3 0 1.3-0.3 1.4 0 1.3 2.1 1.3 3.8 1.4 0.9 1.3 3.2 1.3 3.5 1.4 6.4 1.3 4.3 1.3 3.1 1.4 2.1 1.3 5 1.3 2.5 1.3 1.9 1.4 2.7 1.3 2.8 1.3 1 1.4-0.1 1.3 0.4 1.3 0.6 1.4 1.7 1.3 1.2 1.3 1.2 1.4 0.4 1.3-0.1 1.3-0.3 1.4 0.9 1.3 0.6 1.3-0.3 1.4 0.3 1.3 0.4 1.3 0.2 1.4-0.4 1.3-1.1 1.3-2.1 1.4-2 1.3-2.1 1.3-2 1.4-1.5 1.3 0.4 1.3 0.2 1.4-0.6 1.3-0.3 1.3 1.3 1.4 0.9 1.3 0.3 1.3-0.4 1.4 0.7 1.3 1.1 1.3 0.7 1.4 0.6 1.3 1.3 1.3 1.6 1.3 1 1.4 1 1.3 1.6 1.3 1.1 1.4 1.8 1.3 1.7 1.3 1.9 1.4 0.5 1.3 0.4 1.3 0.6 1.4 1.4 1.3 1.2 1.3 0.2 1.4-0.5 1.3 1 1.3 1 1.4 0.4 1.3-0.3 1.3 0.8 1.4 0.2 1.3-0.1 1.3-0.2 1.4 0 1.3 0.3 1.3 0.5 1.4 0.2 1.3 0.3 1.3 0.3 1.4 0 1.3 0 1.3 0.5 1.4 0.4 1.3 0.2 1.3 0.2 1.4-0.2 1.3 0.1 1.3 0.5 1.4 0.7 1.3-0.1 1.3 0.1 1.3-0.2 1.4 0.2 1.3 0 1.3 0.9 1.4 0.1 1.3-0.1 1.3-0.5 1.4 0.3 1.3 0.2 1.3 0.4 1.4 0 1.3 0.1 1.3 0.1 1.4 0 1.3 0.4 1.3 0.1 1.4 0.6 1.3 0 1.3 0.4 1.4-0.2 1.3 0 1.3-0.4 1.4 0.4 1.3 0.2 1.3 0.6 1.4-0.4 1.3-0.4 1.3-0.1 1.4 0.8 1.3 0.3 1.3 0.1 1.4 0 1.3 0.2 1.3 0 1.4 0 1.3-0.1 1.3 0.1 1.4-0.2 1.3 0.1 1.3 0.3 1.3 0.6 1.4-0.4 1.3 0 1.3 0.2 1.4 0.3 1.3-0.2 1.3-0.3 1.4 0 1.3 0.1 1.3 0.2 1.4 0.4 1.3 0.3 1.3 0.2 1.4-0.3 1.3 0 1.3-0.4 1.4 0.2 1.3 0.1 1.3 0.3 1.4-0.3 1.3 0.1 1.3-0.1 1.4 0.4 1.3-0.1 1.3 0.4 1.4 0 1.3 0.5 1.3 0.3 1.4 0 1.3-0.2 1.3-0.5 1.4 0 1.3-0.2 1.3-0.1 1.4-0.1 1.3 0.1 1.3 0.2 1.4 0.1 1.3 0.1 1.3 0 1.3 0.1 1.4 0 1.3 0 1.3-0.2 1.4 0.4 1.3 0.2"/>
<path d="M100.2 574.5l1.4-0.8 1.3-0.5 1.3-0.1 1.4 0.2 1.3-0.2 1.3-0.3 1.4 0 1.3 0 1.3 0.1 1.4-0.3 1.3-0.9 1.3-0.4 1.4 0.5 1.3 0.8 1.3-1.6 1.4-3 1.3 0.7 1.3 0.3 1.3-0.2 1.4 0.6 1.3 0.6 1.3-1 1.4-1 1.3 1.1 1.3 1.8 1.4-0.8 1.3-1.5 1.3-0.7 1.4-0.3 1.3-0.6 1.3-0.6 1.4 0.5 1.3 0.2 1.3-0.7 1.4-1.7 1.3 0.2 1.3 1 1.4-0.7 1.3 0.8 1.3-1.4 1.4-1.7 1.3-0.1 1.3 0.7 1.4-0.5 1.3-0.7 1.3-1.1 1.4-0.3 1.3 1 1.3 0.3 1.4-0.2 1.3-1.9 1.3-2.7 1.4-0.7 1.3 3.1 1.3 0.3 1.4-0.9 1.3 0.2 1.3-0.5 1.3-0.9 1.4-0.7 1.3 1 1.3 0.1 1.4-0.6 1.3-1.7 1.3-0.6 1.4-0.9 1.3 0.3 1.3-0.7 1.4-1.2 1.3-2.9 1.3 2.1 1.4 0.7 1.3-0.4 1.3-0.5 1.4-1.5 1.3-0.3 1.3 1.1 1.4 1.3 1.3 0.7 1.3-3.1 1.4-0.2 1.3-0.2 1.3-0.3 1.4-1 1.3 0.8 1.3-0.5 1.4-2 1.3 0.6 1.3 0.2 1.4 0.8 1.3 0.1 1.3 2.4 1.4 1 1.3 2 1.3-1.7 1.4-0.7 1.3-1.6 1.3 0.9 1.3 1.2 1.4 1.6 1.3 0.5 1.3-0.5 1.4-0.4 1.3 0.3 1.3 0.8 1.4 0.7 1.3 0.4 1.3 0.6 1.4 0.3 1.3 1.4 1.3-3.9 1.4-5.8 1.3-9 1.3-9.2 1.4-9.4 1.3-6.7 1.3-4.1 1.4 1.1 1.3 2.5 1.3 1.3 1.4-0.7 1.3-0.7 1.3-0.3 1.4 2 1.3 3 1.3 1.9 1.4 3.7 1.3 4.6 1.3 5.8 1.4 5.1 1.3 2.3 1.3 2.5 1.4 5 1.3 3.8 1.3 1.7 1.4 1.2 1.3 1.6 1.3 1.5 1.3 0.8 1.4 0.9 1.3 1.4 1.3 1.6 1.4 1.5 1.3 0 1.3 0.5 1.4 0.1 1.3 0.8 1.3-0.2 1.4-0.2 1.3 0.2 1.3 0 1.4 0.4 1.3 0.5 1.3 0 1.4-1.6 1.3-2.2 1.3-2 1.4-2.2 1.3-2 1.3-1.4 1.4-0.2 1.3 0.1 1.3 0.2 1.4-0.1 1.3 0.6 1.3 0.3 1.4 0.2 1.3 0.4 1.3 1 1.4 0.9 1.3 0.6 1.3 1.3 1.4 1.9 1.3 1.1 1.3 0.8 1.4 1 1.3 1.6 1.3 1.2 1.3 1.7 1.4 2.2 1.3 1.5 1.3 0.1 1.4 0.1 1.3 0.9 1.3 1.4 1.4 1.3 1.3 0.3 1.3-0.1 1.4 0.8 1.3 1.2 1.3 0.4 1.4-0.4 1.3 0.1 1.3 0.2 1.4 0.4 1.3 0.4 1.3 0.3 1.4 0 1.3 0.2 1.3 0 1.4 0.4 1.3 0.1 1.3 0 1.4-0.2 1.3 0.3 1.3 0.7 1.4 0.1 1.3 0.2 1.3-0.2 1.4 0.9 1.3 0.6 1.3 0.1 1.4-0.4 1.3-0.1 1.3 0.3 1.4 0.2 1.3 0.2 1.3 0.4 1.3 0.4 1.4-0.3 1.3-0.1 1.3-0.1 1.4 0.5 1.3 0.3 1.3 0 1.4-0.2 1.3 0.1 1.3 0.2 1.4 0.8 1.3 0.4 1.3 0.1 1.4-0.1 1.3 0.3 1.3-0.1 1.4-0.5 1.3-0.1 1.3 0.3 1.4 0.6 1.3 0.1 1.3-0.3 1.4-0.2 1.3 0.3 1.3 0.5 1.4 0.4 1.3 0.2 1.3 0 1.4-0.3 1.3 0.3 1.3-0.2 1.4 0 1.3 0 1.3 0.4 1.4 0.1 1.3-0.2 1.3-0.2 1.4 0.1 1.3 0.2 1.3 0.3 1.3-0.2 1.4-0.2 1.3 0.3 1.3 0.6 1.4 0.3 1.3-0.4 1.3 0 1.4 0 1.3 0.7 1.3 0.1 1.4 0.1 1.3-0.4 1.3-0.3 1.4-0.1 1.3 0.1 1.3 0.1 1.4-0.2 1.3 0.2 1.3 0.4 1.4-0.1 1.3 0.6 1.3 0 1.4-0.1 1.3-0.6 1.3 0.1 1.4 0.4 1.3 0.1 1.3 0.2 1.4-0.3 1.3-0.2 1.3 0.1 1.4 0.3 1.3 0.4 1.3-0.1 1.4-0.2 1.3-0.3 1.3 0.3 1.4 0.2 1.3 0.2 1.3-0.3 1.3 0.2 1.4 0.1"/>
<path d="M103.0 569.7l1.3 0 1.4-0.3 1.3-0.3 1.3-0.8 1.4-1.1 1.3-0.5 1.3 0.3 1.4 0.2 1.3-0.3 1.3 0.2 1.4-0.4 1.3-0.3 1.3-0.1 1.4 0.7 1.3-1.4 1.3-2.7 1.4 0.6 1.3 0.8 1.3 0.2 1.4 0.6 1.3 0.1 1.3-1.2 1.3-0.5 1.4 1.1 1.3 1.2 1.3-1.7 1.4-0.7 1.3-0.4 1.3-0.5 1.4-1.2 1.3 0 1.3 0.4 1.4-0.4 1.3-0.6 1.3-0.3 1.4 1.6 1.3 0.9 1.3-0.4 1.4 0.5 1.3-1.5 1.3-3.3 1.4-0.8 1.3 0.7 1.3 0.5 1.4-0.4 1.3-2 1.3-0.7 1.4 0.5 1.3 1.1 1.3-0.6 1.4-1.7 1.3-3.8 1.3-1.3 1.4 2.5 1.3 1.7 1.3 0.3 1.4 0.2 1.3 0.2 1.3-0.6 1.4-1.2 1.3-0.5 1.3 0.3 1.3-0.8 1.4-1.8 1.3-0.5 1.3 0.4 1.4 0.5 1.3-0.3 1.3-1.8 1.4-3 1.3 1.6 1.3 0.8 1.4 0.3 1.3-0.4 1.3-1.3 1.4-0.9 1.3 0 1.3 1.8 1.4 1.6 1.3-2.4 1.3-2 1.4-0.7 1.3 0.3 1.3-0.2 1.4 0.4 1.3-2 1.3-1.1 1.4 1.8 1.3 2 1.3 0.2 1.4-0.1 1.3 0.4 1.3 0.7 1.4 0.1 1.3-1.3 1.3 0.7 1.4 0.3 1.3-0.2 1.3-0.2 1.4 1.5 1.3 1.9 1.3 0.4 1.3-0.4 1.4 0.5 1.3 1.1 1.3 1.6 1.4 0 1.3 0.1 1.3-1.4 1.4 0.4 1.3-5.1 1.3-6.1 1.4-8.4 1.3-8.2 1.3-9 1.4-6.4 1.3-3.7 1.3 0.9 1.4 1.6 1.3 0.1 1.3 0.2 1.4 0.9 1.3 0.8 1.3 1 1.4 2.7 1.3 1.9 1.3 4.2 1.4 3.9 1.3 6 1.3 4.5 1.4 2.7 1.3 2.2 1.3 5.5 1.4 4.1 1.3 2.4 1.3 2.3 1.4 2.3 1.3 1 1.3 0.1 1.4-0.1 1.3 1.2 1.3 1.5 1.3 0.8 1.4-0.4 1.3 0.9 1.3 0.9 1.4 0.8 1.3 0 1.3 0.8 1.4 0.1 1.3-0.2 1.3 0.6 1.4 0.8 1.3-0.6 1.3-3 1.4-3.2 1.3-1.8 1.3-1.7 1.4-1.8 1.3-2 1.3-0.1 1.4 0.2 1.3-0.1 1.3 0.5 1.4 0.7 1.3 0.3 1.3-0.1 1.4-0.1 1.3 0.4 1.3 1.1 1.4 1.5 1.3 1.3 1.3 1.9 1.4 1.7 1.3 0.9 1.3 0.6 1.4 1.1 1.3 1.2 1.3 2 1.4 2.2 1.3 1.9 1.3 0.8 1.3 0.1 1.4 0 1.3 0.9 1.3 1.6 1.4 1.2 1.3 0.5 1.3 1.1 1.4 0.8 1.3-0.3 1.3-0.6 1.4 0.1 1.3 0.5 1.3 0 1.4 0.3 1.3 0.5 1.3 0.4 1.4 0.3 1.3-0.3 1.3 0.6 1.4 0.1 1.3 0.6 1.3 0.1 1.4 0.3 1.3 0.2 1.3-0.1 1.4 0 1.3 0.1 1.3 0.7 1.4 0.4 1.3 0.1 1.3 0 1.4-0.2 1.3-0.2 1.3 0.1 1.4 0.5 1.3 0.1 1.3 0.3 1.4-0.2 1.3 0 1.3-0.1 1.3 0.4 1.4 0.4 1.3 0.1 1.3 0 1.4-0.2 1.3 0.1 1.3 0.5 1.4 0.4 1.3 0.3 1.3 0 1.4 0.4 1.3 0.1 1.3 0 1.4-0.5 1.3 0.2 1.3 0.5 1.4 0.6 1.3-0.6 1.3-0.3 1.4 0 1.3 0.6 1.3 0.1 1.4 0.2 1.3 0.3 1.3-0.1 1.4-0.2 1.3-0.2 1.3 0.2 1.4 0.1 1.3 0.1 1.3 0.1 1.4 0.2 1.3 0.1 1.3-0.4 1.4-0.1 1.3 0.2 1.3 0.5 1.4-0.1 1.3 0 1.3 0.2 1.3 0.1 1.4-0.2 1.3 0 1.3 0.3 1.4 0.2 1.3 0 1.3 0 1.4 0.1 1.3 0.1 1.3 0.2 1.4 0.3 1.3-0.2 1.3-0.4 1.4 0 1.3 0.6 1.3 0.3 1.4 0.3 1.3 0.1 1.3-0.3 1.4-0.4 1.3 0.1 1.3 0.5 1.4-0.1 1.3-0.1 1.3-0.3 1.4-0.1 1.3-0.1 1.3 0.2 1.4 0.5 1.3 0.2 1.3-0.1 1.4-0.5 1.3 0.1 1.3 0.1 1.4 0.3 1.3-0.1 1.3 0 1.4 0"/>
<path d="M105.8 564.5l1.3-0.2 1.3-0.2 1.4 0.1 1.3-1 1.3-0.9 1.4-0.2 1.3 0.9 1.3-0.5 1.4-0.6 1.3 0.1 1.3-0.1 1.4-1.2 1.3-1.1 1.3 0.2 1.4-0.9 1.3-2.1 1.3 1.2 1.4 1.1 1.3-0.4 1.3-0.3 1.4-0.5 1.3-0.4 1.3 0.2 1.4 0.9 1.3 0.9 1.3-1.2 1.3-0.6 1.4-0.5 1.3 0.2 1.3 0.1 1.4 0.2 1.3-0.7 1.3-0.8 1.4-1.2 1.3-0.3 1.3 0.7 1.4 0.8 1.3-0.1 1.3 2 1.4-0.9 1.3-3.4 1.3-1.4 1.4 0.5 1.3 0.1 1.3-0.6 1.4-1 1.3-0.7 1.3 0 1.4 0 1.3 0.1 1.3-0.3 1.4-2.7 1.3-1.1 1.3 2.1 1.4 1.1 1.3-0.8 1.3-0.2 1.4-0.9 1.3-0.6 1.3-0.3 1.4 0.7 1.3-0.2 1.3-0.7 1.4-1.1 1.3-0.3 1.3 0.1 1.3 0.5 1.4-1 1.3-1.7 1.3-1.9 1.4 2.5 1.3 0.4 1.3-1.1 1.4-1.4 1.3-0.8 1.3 0.1 1.4 0.1 1.3 0.9 1.3 2.1 1.4-2.6 1.3-2 1.3-0.2 1.4 1.4 1.3-0.1 1.3-1.2 1.4-2.2 1.3-0.2 1.3 2.7 1.4 0.7 1.3-1.1 1.3 0.1 1.4 1.8 1.3 0.6 1.3 0.5 1.4-1.7 1.3 0.5 1.3-0.4 1.4 0.7 1.3 0.5 1.3 1.8 1.4 0.6 1.3-0.5 1.3-0.6 1.4 1.1 1.3 1.4 1.3 1.4 1.3-0.1 1.4-0.8 1.3-0.8 1.3 0.3 1.4-5 1.3-5.8 1.3-7.3 1.4-9 1.3-10.7 1.3-7.6 1.4-3 1.3 1.9 1.3 2.6 1.4 0.2 1.3-1.3 1.3-0.6 1.4-0.2 1.3 3.2 1.3 4.3 1.4 1.5 1.3 2.8 1.3 3.9 1.4 6.5 1.3 5.5 1.3 2.8 1.4 2.4 1.3 5.7 1.3 4.3 1.4 1.7 1.3 1.6 1.3 2.3 1.4 1.4 1.3-0.1 1.3 0.3 1.4 1.1 1.3 1.6 1.3 1.1 1.4 1.2 1.3 0.7 1.3-0.5 1.3-0.1 1.4 0.8 1.3 0.7 1.3 0 1.4-0.2 1.3 0.3 1.3-0.1 1.4-1.1 1.3-2.2 1.3-2.6 1.4-2.3 1.3-2.8 1.3-1.8 1.4-1.5 1.3 0.3 1.3 0.5 1.4 0.3 1.3 0.8 1.3 0.6 1.4 0 1.3-0.1 1.3 0.6 1.4 0.5 1.3 0.7 1.3 1.2 1.4 1.2 1.3 1.3 1.3 1.5 1.4 1.6 1.3 1.4 1.3 1.6 1.4 1.4 1.3 1.9 1.3 1.7 1.4 2 1.3 0.4 1.3 0.1 1.4 0.1 1.3 1.7 1.3 1.3 1.3 0.8 1.4-0.1 1.3 0.9 1.3 0.8 1.4 0.7 1.3-0.4 1.3-0.5 1.4 0.2 1.3 0.5 1.3 0.3 1.4 0.2 1.3 0.5 1.3 0.6 1.4-0.5 1.3 0.4 1.3 0.5 1.4 0.7 1.3-0.3 1.3 0.1 1.4-0.1 1.3-0.1 1.3-0.1 1.4 0.3 1.3 0.6 1.3 0.7 1.4 0.3 1.3 0.1 1.3-0.3 1.4 0 1.3-0.3 1.3 0.4 1.4 0.5 1.3 0.4 1.3-0.3 1.4-0.3 1.3 0.1 1.3 0 1.4 0.3 1.3 0 1.3 0.4 1.3 0.5 1.4 0.4 1.3 0.2 1.3 0.1 1.4-0.1 1.3 0.1 1.3 0.6 1.4 0.1 1.3-0.4 1.3-0.5 1.4 0.4 1.3 0.1 1.3 0.2 1.4 0 1.3 0.1 1.3-0.3 1.4 0.4 1.3 0.2 1.3 0.3 1.4-0.1 1.3 0 1.3 0.4 1.4 0.1 1.3 0 1.3-0.1 1.4 0.4 1.3 0.2 1.3 0 1.4 0.2 1.3-0.1 1.3-0.4 1.4 0.1 1.3 0.2 1.3-0.1 1.4-0.2 1.3 0.2 1.3 0.6 1.4 0 1.3-0.1 1.3 0.2 1.3 0.4 1.4 0.2 1.3-0.2 1.3-0.4 1.4-0.3 1.3 0 1.3 0.5 1.4 0.1 1.3 0.2 1.3-0.1 1.4 0.6 1.3 0.2 1.3 0.4 1.4-0.3 1.3-0.4 1.3-0.1 1.4-0.1 1.3 0.5 1.3-0.2 1.4 0 1.3-0.4 1.3 0.3 1.4 0 1.3 0 1.3 0.3 1.4-0.1 1.3-0.4 1.3-0.2 1.4 0.4 1.3 0.1 1.3 0 1.4 0 1.3 0"/>
<path d="M108.5 558.9l1.4-0.5 1.3-0.7 1.3-0.1 1.4-0.3 1.3-0.6 1.3-1 1.4 1 1.3 0.2 1.3 0.2 1.4-0.7 1.3 0.3 1.3-0.7 1.4-0.2 1.3 0.5 1.3-1 1.4-2.7 1.3 0.4 1.3 1.2 1.4-0.2 1.3 0.7 1.3 0.5 1.4-0.4 1.3-1.6 1.3-0.2 1.4 1.3 1.3-0.2 1.3-0.4 1.4-0.7 1.3-0.4 1.3-0.7 1.3-0.4 1.4 0.2 1.3 0.1 1.3-0.5 1.4-1.1 1.3 0.6 1.3 0.8 1.4-0.2 1.3 0.9 1.3-1.7 1.4-2.7 1.3-0.4 1.3 0.4 1.4-0.8 1.3-0.8 1.3-0.3 1.4 0.3 1.3 0.6 1.3-0.1 1.4-1.1 1.3-1.6 1.3-2.1 1.4-0.2 1.3 2.8 1.3 1.1 1.4-0.1 1.3-0.6 1.3-0.6 1.4 0 1.3 0.2 1.3-0.3 1.4-1.2 1.3-1.5 1.3-0.8 1.4-0.6 1.3-0.7 1.3-0.2 1.4-0.2 1.3-1.2 1.3-2.2 1.3 0.9 1.4 1.4 1.3 0.5 1.3-0.4 1.4-1.9 1.3 0 1.3 1.1 1.4 1.8 1.3 0.5 1.3-2.5 1.4-1.4 1.3 0.4 1.3-1.2 1.4-0.7 1.3 0.7 1.3-0.1 1.4-1.1 1.3 1.4 1.3 1.1 1.4-0.6 1.3 0.2 1.3 1.3 1.4 0.6 1.3-0.2 1.3-0.9 1.4 0.5 1.3-0.2 1.3 0.2 1.4 0.8 1.3 1.2 1.3 1.2 1.4 0.5 1.3-0.2 1.3-0.2 1.4 0.7 1.3 1.2 1.3-1.3 1.4-1.2 1.3-0.4 1.3 1.3 1.3-5.3 1.4-6.7 1.3-9 1.3-9.2 1.4-9.6 1.3-6.6 1.3-2.5 1.4 1.4 1.3 2.2 1.3-0.1 1.4 0 1.3 0.6 1.3-0.2 1.4 0.9 1.3 3 1.3 2.9 1.4 4.3 1.3 4.4 1.3 5.9 1.4 4.5 1.3 1.5 1.3 2.5 1.4 6.6 1.3 5.5 1.3 1.9 1.4 1.7 1.3 1.7 1.3 1.9 1.4 0.2 1.3 0.5 1.3 1 1.4 2.5 1.3 1.4 1.3 0 1.4-0.1 1.3-0.2 1.3 0.2 1.4 0.6 1.3 0.6 1.3 0.1 1.3 0.2 1.4 0.4 1.3 0.4 1.3-1.4 1.4-2.3 1.3-2.5 1.3-2.1 1.4-3.1 1.3-3 1.3-1 1.4 0.5 1.3 0.2 1.3 0 1.4 0.8 1.3 1.4 1.3-0.1 1.4-0.5 1.3-0.2 1.3 1.1 1.4 1.4 1.3 1 1.3 0.9 1.4 1.3 1.3 1.1 1.3 1.1 1.4 1.3 1.3 2 1.3 1.5 1.4 1.8 1.3 1.7 1.3 2.2 1.4 1 1.3 0.5 1.3-0.1 1.4 1.3 1.3 1.3 1.3 0.8 1.4 0 1.3 1 1.3 0.5 1.3 0.6 1.4 0.3 1.3 0.5 1.3-0.4 1.4 0 1.3 0.2 1.3 0.2 1.4 0.3 1.3 0.4 1.3 0 1.4 0 1.3 0.4 1.3 0.3 1.4-0.1 1.3 0.2 1.3 0.2 1.4-0.3 1.3-0.2 1.3 0 1.4 0.9 1.3 0.8 1.3 0.9 1.4-0.1 1.3-0.3 1.3-0.6 1.4 0 1.3 0.4 1.3 0.4 1.4 0 1.3 0.3 1.3 0.3 1.4 0 1.3-0.2 1.3 0.1 1.4 0.1 1.3-0.1 1.3 0.3 1.4 0.3 1.3 0.6 1.3 0.4 1.3 0.3 1.4 0 1.3 0.3 1.3 0.1 1.4 0 1.3-0.5 1.3-0.2 1.4 0 1.3 0.6 1.3 0.2 1.4-0.2 1.3-0.3 1.3 0.4 1.4 0.2 1.3 0.3 1.3 0 1.4-0.2 1.3 0.3 1.3 0.1 1.4-0.4 1.3-0.2 1.3 0.7 1.4 0.3 1.3-0.4 1.3-0.1 1.4 0.3 1.3 0.5 1.3 0.3 1.4-0.1 1.3-0.3 1.3-0.1 1.4 0.4 1.3 0 1.3-0.2 1.4 0 1.3 0.7 1.3 0.4 1.4-0.2 1.3-0.4 1.3-0.4 1.3 0 1.4-0.2 1.3 0.2 1.3 0.1 1.4 0.3 1.3 0.1 1.3 0.3 1.4 0.1 1.3 0.3 1.3 0.4 1.4 0 1.3-0.2 1.3-0.3 1.4 0.3 1.3 0.2 1.3 0.1 1.4-0.2 1.3-0.1 1.3-0.1 1.4 0.2 1.3 0.2 1.3-0.1 1.4-0.2 1.3 0 1.3 0.3 1.4 0.3 1.3 0.1"/>
<path d="M111.3 552.7l1.3-0.4 1.4 0 1.3 0.8 1.3 0.3 1.4-0.4 1.3-0.9 1.3 0 1.4 0.4 1.3 0.1 1.3-0.4 1.4-0.9 1.3-0.7 1.3-0.3 1.4 0.5 1.3-1.6 1.3-2.1 1.4 1.5 1.3 1.6 1.3-0.6 1.4-0.1 1.3-0.5 1.3-1.1 1.4-0.5 1.3 1.4 1.3 1.4 1.4-1.8 1.3-1.7 1.3-0.4 1.4 0.1 1.3 0.7 1.3 0.3 1.4-0.2 1.3-1.7 1.3-0.9 1.3 0.6 1.4 1.1 1.3 0.2 1.3-0.8 1.4 1.7 1.3-0.9 1.3-2.9 1.4-1.2 1.3 0.4 1.3-0.3 1.4-0.5 1.3-0.8 1.3 0.3 1.4 0.7 1.3-0.1 1.3-0.5 1.4-1.3 1.3-3 1.3-0.9 1.4 2.6 1.3 0.9 1.3-2 1.4-2.3 1.3 2.2 1.3 1.5 1.4 0 1.3 0.3 1.3-0.9 1.4-1 1.3-1.2 1.3 0.6 1.4 0 1.3-0.2 1.3-1.3 1.4-1.4 1.3-2.2 1.3 1.8 1.4 1 1.3-1.5 1.3-1.7 1.3-0.6 1.4 1.2 1.3 0.8 1.3 1.2 1.4 1.6 1.3-3 1.3-2 1.4-0.7 1.3 0.6 1.3-0.3 1.4 0 1.3-1.1 1.3-0.1 1.4 1.4 1.3 0 1.3-0.9 1.4 0.8 1.3 0.9 1.3 0.7 1.4 0.5 1.3-0.5 1.3 0.5 1.4 0 1.3-0.1 1.3 0.3 1.4 0.9 1.3 1.7 1.3-0.4 1.4 0.4 1.3-0.4 1.3 1 1.4 0.6 1.3 0.4 1.3 0.2 1.4-0.3 1.3-0.8 1.3-6.6 1.4-8 1.3-8.7 1.3-8.8 1.3-8.8 1.4-7 1.3-3.3 1.3 1.4 1.4 2 1.3-0.4 1.3-0.4 1.4 0.8 1.3 1.4 1.3 2.2 1.4 3.6 1.3 1.3 1.3 3.5 1.4 4.4 1.3 7.4 1.3 4.6 1.4 2.6 1.3 3.4 1.3 5.8 1.4 3.3 1.3 0.8 1.3 2.1 1.4 2.1 1.3 2.1 1.3 0.7 1.4 0.9 1.3 1.6 1.3 1.6 1.4 0.9 1.3 0.2 1.3 1 1.4 0.4 1.3 0.4 1.3 0.1 1.4 0.2 1.3 0 1.3 0.5 1.4 0.1 1.3-0.3 1.3-1.9 1.3-3 1.4-2.8 1.3-0.9 1.3-2.5 1.4-2.9 1.3-1.8 1.3 0.7 1.4 0.8 1.3-0.7 1.3 0.3 1.4 0.2 1.3 0.5 1.3-0.2 1.4 0.8 1.3 0.8 1.3 1.2 1.4 1 1.3 1.3 1.3 1.6 1.4 1 1.3 1.2 1.3 0.8 1.4 2.2 1.3 1.9 1.3 2.4 1.4 1.7 1.3 1.5 1.3 0.1 1.4 0.5 1.3 0.8 1.3 1.3 1.4 1.1 1.3 1 1.3 0.8 1.4 0.5 1.3 0 1.3 0.2 1.4 0.4 1.3 0.4 1.3 0 1.3 0.4 1.4 0.3 1.3-0.1 1.3 0.1 1.4 0.4 1.3 0 1.3 0.5 1.4-0.1 1.3 0.2 1.3 0.4 1.4 0.7 1.3-0.1 1.3-0.1 1.4 0.2 1.3-0.1 1.3 0.4 1.4 0.5 1.3 0.8 1.3-0.2 1.4-0.3 1.3-0.1 1.3 0.5 1.4 0.2 1.3-0.1 1.3-0.1 1.4 0.1 1.3 0.6 1.3 0.5 1.4 0.1 1.3-0.2 1.3 0 1.4 0.1 1.3 0.1 1.3 0 1.4 0.4 1.3 0.3 1.3 0 1.4-0.4 1.3 0 1.3 0.4 1.3 0.6 1.4 0.2 1.3-0.2 1.3-0.2 1.4 0.4 1.3 0.4 1.3 0 1.4-0.4 1.3 0 1.3 0.2 1.4 0.1 1.3 0 1.3-0.2 1.4 0.4 1.3 0.1 1.3 0.2 1.4-0.2 1.3 0.4 1.3 0.1 1.4 0.3 1.3 0.1 1.3-0.1 1.4-0.4 1.3 0 1.3 0.2 1.4 0.2 1.3 0.1 1.3 0.1 1.4 0 1.3-0.2 1.3 0.3 1.4 0.5 1.3 0.4 1.3-0.6 1.4 0 1.3 0.1 1.3 0.1 1.4-0.3 1.3 0.1 1.3 0.2 1.3 0.2 1.4 0 1.3 0.4 1.3 0 1.4 0.3 1.3-0.3 1.3-0.5 1.4 0 1.3 0.4 1.3 0.6 1.4-0.4 1.3-0.3 1.3-0.2 1.4 0.2 1.3 0.3 1.3 0.1 1.4 0.2 1.3-0.1 1.3 0 1.4-0.3 1.3 0.1"/>
<path d="M114.1 547.9l1.3-0.3 1.3 0.4 1.4 0.7 1.3-0.8 1.3-1.7 1.4-0.4 1.3 0.9 1.3 0.2 1.4-0.3 1.3-0.3 1.3-0.7 1.4-0.8 1.3 0.5 1.3 0.9 1.4-1.1 1.3-2.6 1.3 0.6 1.4 0.9 1.3-1 1.3 0.4 1.4-0.3 1.3 0.4 1.3-1.1 1.4 1.1 1.3 1 1.3-0.3 1.4-1.1 1.3-0.4 1.3-0.7 1.4-0.7 1.3-0.9 1.3-0.2 1.4 0.2 1.3-0.1 1.3-0.4 1.4 0.2 1.3 0.5 1.3-0.5 1.3 1.8 1.4-0.3 1.3-2.7 1.3-2.2 1.4-0.1 1.3 0.1 1.3 0.5 1.4-1.3 1.3-0.1 1.3 0.3 1.4 1.2 1.3-0.6 1.3-1.6 1.4-3.6 1.3-0.8 1.3 3.1 1.4 1.6 1.3-0.2 1.3 0 1.4 0 1.3-0.5 1.3-1.3 1.4-0.4 1.3-1 1.3-0.6 1.4-0.7 1.3 0.1 1.3-0.3 1.4 0.1 1.3 0.3 1.3-1.5 1.4-2.8 1.3 1.7 1.3 1.4 1.4 0.6 1.3-0.7 1.3-0.7 1.4-0.2 1.3-0.3 1.3 0.5 1.3 2.4 1.4-1.8 1.3-1.4 1.3-1.9 1.4-0.2 1.3-0.4 1.3 1.3 1.4-1.9 1.3-2.9 1.3-1.1 1.4 3.3 1.3 0.5 1.3 0.3 1.4 0.6 1.3 1.6 1.3 1.1 1.4 0.1 1.3-0.3 1.3-0.4 1.4-0.3 1.3 0.4 1.3 1.6 1.4 0.6 1.3-0.4 1.3 0.2 1.4 1.1 1.3 1.1 1.3 0.1 1.4-0.8 1.3-0.5 1.3-0.7 1.4-0.7 1.3-6.6 1.3-7 1.4-9.1 1.3-9 1.3-8.8 1.4-6.8 1.3-3.7 1.3 0.4 1.3 3.4 1.4 0.5 1.3 0 1.3-0.4 1.4 0.4 1.3 2 1.3 3.8 1.4 2.6 1.3 4.2 1.3 4.6 1.4 6.2 1.3 4.5 1.3 3.1 1.4 3.8 1.3 6.8 1.3 3.6 1.4 0.9 1.3 1.2 1.3 2.8 1.4 2.6 1.3 0.5 1.3 0.4 1.4 0.2 1.3 1.2 1.3 1.3 1.4 0.9 1.3 0.2 1.3-0.3 1.4 0.1 1.3 0.7 1.3 0.2 1.4 0.3 1.3-0.2 1.3 0.6 1.4-0.5 1.3-1.4 1.3-2.8 1.4-2.8 1.3-2.3 1.3-2.4 1.3-2 1.4-1.5 1.3 0.1 1.3 0.1 1.4 0 1.3 0.4 1.3 0.8 1.4-0.1 1.3 0.1 1.3 0.8 1.4 1.2 1.3 0.8 1.3 1 1.4 1 1.3 1.3 1.3 0.7 1.4 1.7 1.3 1.5 1.3 2.2 1.4 1.1 1.3 2.6 1.3 2.1 1.4 1.9 1.3-0.1 1.3 0.5 1.4 1.2 1.3 1.7 1.3 1 1.4 0.7 1.3 0.3 1.3 0.6 1.4 0.7 1.3 0.3 1.3 0 1.4-0.3 1.3 0.2 1.3 0.6 1.4 0.8 1.3 0 1.3-0.3 1.3 0.5 1.4 0.4 1.3 0.3 1.3-0.3 1.4-0.2 1.3 0 1.3 0.4 1.4 0.4 1.3 0.4 1.3 0.2 1.4-0.1 1.3 0.4 1.3 0.7 1.4 0.3 1.3-0.2 1.3-0.1 1.4 0.1 1.3-0.1 1.3 0.3 1.4 0.7 1.3 0.4 1.3-0.6 1.4 0.1 1.3 0 1.3 0.2 1.4-0.1 1.3 0.3 1.3 0.1 1.4 0 1.3 0 1.3 0.3 1.4 0.6 1.3 0.2 1.3-0.1 1.4 0.1 1.3 0.5 1.3-0.2 1.4-0.2 1.3 0.3 1.3 0.5 1.3 0 1.4-0.3 1.3 0.3 1.3-0.2 1.4 0 1.3 0.2 1.3 0.7 1.4 0.1 1.3-0.6 1.3-0.1 1.4 0.2 1.3 0.3 1.3 0 1.4 0.4 1.3 0.2 1.3 0 1.4 0 1.3-0.3 1.3-0.3 1.4 0.4 1.3 0.4 1.3 0.1 1.4-0.2 1.3 0.1 1.3 0.2 1.4-0.2 1.3 0.1 1.3 0.3 1.4 0.3 1.3-0.3 1.3-0.1 1.4 0.1 1.3-0.1 1.3 0.1 1.4 0 1.3 0.1 1.3-0.2 1.4-0.2 1.3 0.3 1.3 0.5 1.3 0.5 1.4-0.2 1.3-0.2 1.3 0 1.4 0.2 1.3 0.1 1.3-0.1 1.4-0.2 1.3-0.2 1.3 0 1.4 0.1 1.3 0.3 1.3 0.2 1.4-0.1 1.3 0.1"/>
<path d="M116.8 543.4l1.4-0.1 1.3-0.8 1.3-0.4 1.4-0.6 1.3-0.2 1.3 0.1 1.4 0.3 1.3 0.3 1.3-0.4 1.4 0.6 1.3-0.5 1.3-0.5 1.4-0.8 1.3 0.6 1.3-1.5 1.4-3 1.3 0.9 1.3 1.3 1.4 0.1 1.3-0.2 1.3-0.1 1.4-0.6 1.3-1.1 1.3 0.7 1.4 1.4 1.3-0.1 1.3-0.5 1.4-1.1 1.3-0.7 1.3 0.1 1.4 0.3 1.3-0.5 1.3-0.9 1.4-0.5 1.3-0.2 1.3 0.5 1.4 0.4 1.3-0.6 1.3 1.5 1.4-1.5 1.3-3 1.3-0.4 1.3 0.4 1.4 0.3 1.3-0.7 1.3-0.3 1.4-0.5 1.3-0.1 1.3 0.8 1.4-0.5 1.3-1.1 1.3-3.6 1.4 0 1.3 2.3 1.3 1.6 1.4-0.2 1.3 0 1.3-0.7 1.4-1 1.3-0.5 1.3-0.1 1.4 0.8 1.3-0.7 1.3-0.6 1.4-0.5 1.3-0.6 1.3-0.2 1.4-0.1 1.3-0.7 1.3-2.8 1.4 1.7 1.3 1 1.3-0.1 1.4-1.4 1.3-0.8 1.3 0.4 1.4 1.2 1.3 1.5 1.3 1.3 1.4-4.2 1.3-2.4 1.3-0.3 1.3-0.3 1.4-0.6 1.3 0.1 1.3-0.4 1.4-0.4 1.3 2.6 1.3 1.1 1.4-1 1.3-0.8 1.3 0.4 1.4 0.7 1.3 1.1 1.3 0 1.4 0.5 1.3-0.4 1.3 0 1.4 0.9 1.3 0.8 1.3 0.4 1.4 0.5 1.3 0.5 1.3 0.2 1.4 0.9 1.3 0.4 1.3-0.3 1.4-1.1 1.3-0.4 1.3-1.4 1.4-6.2 1.3-7.2 1.3-8.8 1.4-9.9 1.3-10 1.3-6.9 1.4-2.9 1.3 1.4 1.3 3.1 1.4 0.6 1.3-0.5 1.3-0.3 1.3 0.2 1.4 1.8 1.3 4 1.3 2.7 1.4 3.5 1.3 4 1.3 6.7 1.4 5.8 1.3 3.3 1.3 2.6 1.4 5.3 1.3 3.6 1.3 2.7 1.4 2.5 1.3 2.7 1.3 1 1.4 0.7 1.3 1.1 1.3 1.4 1.4 1.2 1.3 1 1.3 0.3 1.4 0.6 1.3 0.5 1.3 0.1 1.4 0.6 1.3-0.1 1.3 0.3 1.4-0.7 1.3-0.6 1.3-1.3 1.4-1.2 1.3-2.1 1.3-2 1.4-2.1 1.3-2.2 1.3-2.6 1.4-1.9 1.3-0.6 1.3 0.2 1.3 0.1 1.4-0.2 1.3 0.7 1.3 0.9 1.4 1.2 1.3 0.2 1.3 0.6 1.4 0.7 1.3 1.5 1.3 1 1.4 1.5 1.3 1 1.3 1.1 1.4 0.8 1.3 2.1 1.3 2.1 1.4 2.7 1.3 2 1.3 1.9 1.4 0.4 1.3 0.5 1.3 0.5 1.4 1.8 1.3 1.6 1.3 0.9 1.4 0.2 1.3 1 1.3 0.6 1.4 0 1.3-0.4 1.3 0.2 1.4 0 1.3 0.4 1.3 0.2 1.4 0.1 1.3 0.2 1.3 0.4 1.4 0.2 1.3 0.4 1.3 0.1 1.3-0.1 1.4-0.3 1.3 0.2 1.3 0 1.4 0.4 1.3 0.5 1.3 0.2 1.4 0.5 1.3 0.6 1.3 0.3 1.4-0.1 1.3-0.3 1.3-0.1 1.4-0.3 1.3 0.5 1.3 0.5 1.4 0.6 1.3-0.3 1.3 0.2 1.4 0.2 1.3 0.4 1.3 0 1.4 0.1 1.3-0.1 1.3-0.1 1.4 0.2 1.3 0.6 1.3 0.4 1.4 0 1.3-0.2 1.3 0.3 1.4 0.2 1.3 0.1 1.3-0.3 1.4 0 1.3 0.2 1.3 0.3 1.4 0.1 1.3-0.4 1.3-1.6 1.3-2.2 1.4 2.8 1.3 1.7 1.3 0.2 1.4-0.1 1.3 0.2 1.3 0.1 1.4-0.2 1.3-0.1 1.3 0.3 1.4 0 1.3 0 1.3 0.4 1.4 0 1.3-0.1 1.3 0.1 1.4 0.1 1.3-0.1 1.3 0.2 1.4 0.1 1.3-0.3 1.3-0.4 1.4 0.4 1.3 0.5 1.3 0.4 1.4 0.1 1.3 0.4 1.3-0.2 1.4-0.3 1.3-0.3 1.3 0.3 1.4 0 1.3-0.2 1.3 0.1 1.4 0.4 1.3 0.2 1.3 0.2 1.4-0.1 1.3-0.1 1.3 0.1 1.3 0.2 1.4 0 1.3-0.2 1.3 0 1.4-0.2 1.3-0.1 1.3 0.1 1.4 0.3 1.3 0.4"/>
<path d="M119.6 537.6l1.4-0.3 1.3-0.5 1.3-0.2 1.4-0.6 1.3-0.1 1.3-0.1 1.3 0.7 1.4 0.2 1.3-0.6 1.3-0.6 1.4-0.9 1.3-0.4 1.3-0.3 1.4 0.6 1.3-0.4 1.3-1.5 1.4 0.6 1.3 0.2 1.3-0.5 1.4 0.6 1.3 0 1.3-0.4 1.4-1.3 1.3 0.2 1.3 1.8 1.4-0.3 1.3-0.6 1.3-1.6 1.4-0.6 1.3-0.3 1.3 0.9 1.4 0.3 1.3-0.7 1.3-1 1.4-0.2 1.3 0.3 1.3 0.6 1.4 0.9 1.3 3 1.3-1.6 1.4-4.6 1.3-1.1 1.3 0.5 1.4 0.4 1.3 0.2 1.3-0.3 1.3-0.8 1.4-0.6 1.3 0.9 1.3-0.3 1.4-1 1.3-3.1 1.3-0.6 1.4 1.7 1.3 0.5 1.3-0.7 1.4 1.1 1.3 0.5 1.3-0.8 1.4-0.9 1.3 0.1 1.3 0.3 1.4-1 1.3-2 1.3-0.4 1.4 0.4 1.3 1.2 1.3-0.6 1.4-1.7 1.3-2.2 1.3 1.4 1.4 1 1.3-0.8 1.3-1.1 1.4-1.2 1.3 1.5 1.3 0.6 1.4 0.6 1.3 0.1 1.3-2.3 1.4-1.5 1.3 0.7 1.3 0.9 1.4-0.3 1.3-0.1 1.3-1.6 1.3-1.8 1.4 1.2 1.3 1.4 1.3 0.4 1.4-0.8 1.3 0.9 1.3 0.3 1.4 1.7 1.3-1.1 1.3-0.2 1.4-1 1.3 0.2 1.3 0.6 1.4 1.3 1.3 1.3 1.3 1 1.4-0.2 1.3-0.3 1.3-0.2 1.4 1.2 1.3 0.5 1.3-0.1 1.4-0.9 1.3-1.6 1.3-7.2 1.4-8.7 1.3-9.5 1.3-8.8 1.4-9 1.3-6.3 1.3-3.1 1.4 1.5 1.3 2.4 1.3 0.3 1.4-0.2 1.3-0.7 1.3 0.4 1.4 2.1 1.3 4.3 1.3 2.1 1.3 3.9 1.4 4.9 1.3 7 1.3 5.5 1.4 2.9 1.3 3.2 1.3 6 1.4 4.4 1.3 2 1.3 1.8 1.4 2 1.3 1.6 1.3 0.2 1.4 0.9 1.3 1.4 1.3 1.9 1.4 1.4 1.3 1 1.3 0.8 1.4-0.1 1.3-0.5 1.3-0.1 1.4 0.2 1.3 0.4 1.3-0.3 1.4-0.6 1.3-1.6 1.3-1.7 1.4-2.5 1.3-3.1 1.3-2.9 1.4-2.3 1.3-1.1 1.3-0.6 1.4 0.1 1.3-0.2 1.3-0.4 1.4 0.3 1.3 0.6 1.3 0.4 1.3-0.1 1.4 0.1 1.3 0.5 1.3 0.5 1.4 1.5 1.3 1.8 1.3 1.7 1.4 1.2 1.3 1.5 1.3 1.7 1.4 1.6 1.3 1.9 1.3 2.6 1.4 2.5 1.3 1.9 1.3 0.4 1.4 0.6 1.3 0.7 1.3 1.6 1.4 1.1 1.3 0.7 1.3 0.5 1.4 0.9 1.3 0.5 1.3 0.3 1.4-0.1 1.3-0.3 1.3-0.1 1.4 0.2 1.3 0.1 1.3-0.3 1.4 0.3 1.3 0.9 1.3 0.5 1.4 0.4 1.3 0 1.3 0.1 1.4 0 1.3 0.2 1.3 0.4 1.3 0.3 1.4 0.1 1.3-0.3 1.3 0.2 1.4 0.6 1.3 0.9 1.3-0.3 1.4-0.2 1.3-0.1 1.3 0.3 1.4 0.2 1.3 0.2 1.3 0.1 1.4-0.1 1.3 0 1.3-0.1 1.4 0.2 1.3 0.6 1.3 0.3 1.4-0.2 1.3-0.1 1.3 0 1.4 0.6 1.3 0.4 1.3 0.7 1.4 0 1.3 0 1.3-0.5 1.4-0.1 1.3 0 1.3 0.5 1.4-0.1 1.3 0 1.3-0.1 1.4 0.4 1.3 0.2 1.3 0.2 1.4-0.1 1.3 0.3 1.3 0.1 1.3 0.1 1.4-0.1 1.3-0.3 1.3 0.2 1.4 0.2 1.3 0.4 1.3 0.1 1.4 0 1.3 0 1.3-0.2 1.4-0.1 1.3 0.2 1.3 0.2 1.4-0.1 1.3 0 1.3 0.1 1.4 0.1 1.3 0.1 1.3 0.3 1.4 0 1.3 0.1 1.3-0.1 1.4 0.4 1.3 0 1.3-0.1 1.4-0.2 1.3 0.1 1.3 0.1 1.4 0 1.3 0.3 1.3 0.1 1.4 0 1.3 0.3 1.3 0.3 1.4-0.3 1.3-0.3 1.3 0.3 1.4 0.3 1.3-0.3 1.3-0.4 1.3-0.1 1.4 0.1 1.3 0.4"/>
<path d="M122.4 532.2l1.3-0.2 1.4 0.4 1.3 0.3 1.3-0.7 1.4-0.5 1.3-0.1 1.3 0.1 1.4-0.2 1.3 0 1.3 0 1.3-0.8 1.4-1 1.3-0.5 1.3 0.3 1.4-0.9 1.3-2 1.3 0.8 1.4 0.7 1.3-0.4 1.3 0.4 1.4-0.1 1.3-0.6 1.3-0.6 1.4 1.2 1.3 1.4 1.3-1.4 1.4-0.9 1.3-0.2 1.3 0.1 1.4-0.3 1.3 0 1.3 0 1.4-0.9 1.3-0.3 1.3-0.5 1.4 0.6 1.3-0.6 1.3 0.1 1.4 1.9 1.3-0.6 1.3-3.4 1.4-1.5 1.3 0.8 1.3 0.5 1.4 0.4 1.3-1 1.3-0.5 1.4 0.4 1.3 0.9 1.3 0.1 1.3-1.4 1.4-3.7 1.3-1.2 1.3 2.3 1.4 1.9 1.3-0.8 1.3-0.7 1.4-0.6 1.3 0.2 1.3-0.1 1.4 0 1.3 0.2 1.3-1.3 1.4-0.6 1.3-0.6 1.3 0.5 1.4-0.3 1.3-0.3 1.3-1.8 1.4-1.9 1.3 2.2 1.3 1.4 1.4-0.8 1.3-1.4 1.3-0.8 1.4 0.3 1.3 0 1.3 0.7 1.4 1.3 1.3-1.9 1.3-0.9 1.4 0.3 1.3 0 1.3-1.6 1.4-1.2 1.3-1.1 1.3 0.2 1.4 1.8 1.3 0.4 1.3-0.7 1.3 0.1 1.4 0.9 1.3 1.8 1.3 0.3 1.4-1.2 1.3-0.6 1.3 0.7 1.4 0.3 1.3 0.2 1.3 1.4 1.4 0.8 1.3 0.3 1.3 0.1 1.4 1.2 1.3 0.6 1.3 1 1.4-0.4 1.3-0.7 1.3-1.8 1.4-0.9 1.3-7.8 1.3-8.7 1.4-10.5 1.3-9.3 1.3-8.8 1.4-6.1 1.3-2.8 1.3 1.4 1.4 2.4 1.3-0.4 1.3 0.1 1.4 0.7 1.3 0.4 1.3 1.7 1.4 3.6 1.3 2 1.3 3.6 1.4 5.1 1.3 7.2 1.3 6 1.3 4.1 1.4 4 1.3 5.2 1.3 3.4 1.4 1.5 1.3 2.2 1.3 2.2 1.4 2.5 1.3 1 1.3 0.7 1.4 0.1 1.3 1.2 1.3 1.2 1.4 1 1.3 0.5 1.3 0.1 1.4 0.7 1.3 0.7 1.3 0.2 1.4-0.6 1.3-0.6 1.3-1.4 1.4-1.7 1.3-2.2 1.3-2.1 1.4-2.3 1.3-1.9 1.3-2.2 1.4-2.6 1.3-1.1 1.3 0.8 1.4 0.5 1.3-1 1.3-0.6 1.4 0.6 1.3 1.5 1.3 0.6 1.4-0.5 1.3-0.2 1.3 1.1 1.3 1.2 1.4 1 1.3 1.6 1.3 1.7 1.4 2 1.3 2.3 1.3 2.6 1.4 1.8 1.3 1.9 1.3 1.6 1.4 1.7 1.3 0.5 1.3 0.8 1.4 0.7 1.3 1.7 1.3 1 1.4 0.7 1.3 0.5 1.3 1.1 1.4 0.8 1.3 0.2 1.3-0.1 1.4 0.3 1.3 0.4 1.3 0.4 1.4 0.2 1.3-0.3 1.3 0.1 1.4 0.4 1.3 0.3 1.3 0.5 1.4-0.3 1.3 0.1 1.3-0.2 1.4 0.3 1.3 0.2 1.3 0.3 1.4 0.4 1.3 0.1 1.3 0.4 1.3 0.1 1.4 0.3 1.3 0.4 1.3 0 1.4-0.2 1.3-0.6 1.3 0.4 1.4 0.6 1.3 0.4 1.3-0.1 1.4 0 1.3 0.1 1.3-0.2 1.4 0 1.3 0.1 1.3-0.2 1.4 0.1 1.3 0.2 1.3 0.5 1.4 0.4 1.3 0.6 1.3 0.3 1.4 0.1 1.3-0.3 1.3-0.1 1.4-0.1 1.3 0.4 1.3 0.1 1.4 0.1 1.3-0.3 1.3-0.1 1.4-0.2 1.3 0.3 1.3 0.4 1.4 0.5 1.3 0.3 1.3-0.1 1.4 0 1.3-0.1 1.3-0.1 1.3-0.1 1.4 0.4 1.3 0.3 1.3 0 1.4 0 1.3-0.1 1.3-0.2 1.4 0 1.3 0 1.3 0.3 1.4 0.2 1.3 0.2 1.3 0 1.4-0.1 1.3 0.2 1.3 0.4 1.4 0.5 1.3 0 1.3 0 1.4-0.4 1.3-0.1 1.3-0.2 1.4 0.1 1.3-0.1 1.3 0.1 1.4 0.1 1.3 0.3 1.3 0.3 1.4 0.3 1.3-0.1 1.3-0.2 1.4-0.3 1.3 0.1 1.3 0.3 1.4 0 1.3-0.2 1.3-0.1"/>
<path d="M125.2 527.5l1.3-0.3 1.3 0.1 1.4 0.2 1.3-0.6 1.3-1.2 1.4-0.2 1.3 0.1 1.3 0.1 1.4-0.2 1.3-0.3 1.3-0.8 1.4-0.6 1.3-0.1 1.3 0 1.3-0.6 1.4-0.9 1.3 0.9 1.3 0.4 1.4-1.5 1.3-0.9 1.3 1.3 1.4 0.3 1.3-0.6 1.3 0.9 1.4 1.9 1.3-0.6 1.3-0.9 1.4-0.5 1.3-0.8 1.3-0.9 1.4-0.5 1.3 0.8 1.3-0.1 1.4-0.3 1.3-0.4 1.3 1.5 1.4 0.2 1.3-0.9 1.3 0.9 1.4-0.8 1.3-2.9 1.3-0.9 1.4 0.7 1.3-0.2 1.3-1 1.4-0.7 1.3-0.3 1.3 0.5 1.4 0 1.3 0.5 1.3-1.1 1.4-3.5 1.3-1.2 1.3 2.5 1.3 1.5 1.4-0.6 1.3 0.4 1.3-0.1 1.4-0.1 1.3-0.1 1.3-0.5 1.4-2.5 1.3 1.2 1.3 0.4 1.4-0.6 1.3-1.3 1.3 0.6 1.4-0.2 1.3-1.9 1.3-3.3 1.4 2.6 1.3 1.9 1.3-1 1.4-2.2 1.3-0.2 1.3 1.7 1.4 1 1.3 0.1 1.3 0.6 1.4-3.2 1.3-1.4 1.3-0.4 1.4 0.7 1.3-0.5 1.3 0.4 1.4-0.9 1.3-1.7 1.3 1 1.4 1.1 1.3 1 1.3 0.4 1.4 0.7 1.3 0.4 1.3 0.3 1.3-0.7 1.4 0.4 1.3 0.7 1.3 0.1 1.4 0.9 1.3 0.7 1.3 1.1 1.4-0.4 1.3 0.2 1.3-0.5 1.4 0.3 1.3 0.4 1.3-0.2 1.4-0.9 1.3-0.7 1.3-1.7 1.4-7.6 1.3-9.6 1.3-9.2 1.4-8.6 1.3-7.6 1.3-6.5 1.4-3.9 1.3 0.9 1.3 2.6 1.4 0.4 1.3-0.6 1.3-0.3 1.4-0.6 1.3 1.2 1.3 5 1.4 4.3 1.3 4.2 1.3 3.7 1.4 6.6 1.3 5.2 1.3 4.5 1.4 4.6 1.3 6.4 1.3 2.8 1.3 1.3 1.4 2.1 1.3 2.1 1.3 1.9 1.4 1.2 1.3 0.8 1.3 0.9 1.4 1.3 1.3 1.4 1.3 0.1 1.4 0.8 1.3 0.6 1.3 0.5 1.4-0.2 1.3-0.2 1.3-0.5 1.4-0.8 1.3-1.1 1.3-1.6 1.4-1.9 1.3-2.4 1.3-2.7 1.4-2.2 1.3-2.2 1.3-1.7 1.4-1.6 1.3 0 1.3 0.2 1.4-0.2 1.3 0.2 1.3 0.5 1.4 0.8 1.3-0.1 1.3 0.3 1.4 0.1 1.3 1 1.3 1.5 1.4 2 1.3 2.3 1.3 1.4 1.3 1.6 1.4 0.8 1.3 2.1 1.3 2 1.4 2.8 1.3 1.3 1.3 1.5 1.4 1.1 1.3 0.8 1.3 0.7 1.4 1.3 1.3 1.3 1.3 0.9 1.4 0.5 1.3 0.6 1.3 0.6 1.4 0.6 1.3 0.3 1.3 0.2 1.4 0.1 1.3 0.3 1.3 0.3 1.4 0.2 1.3 0.1 1.3 0.6 1.4 0.4 1.3 0.3 1.3-0.3 1.4-0.4 1.3-0.4 1.3 0.4 1.4 0.7 1.3 0.6 1.3 0.1 1.4-0.2 1.3 0.2 1.3 0.6 1.4 0.7 1.3 0.2 1.3-0.3 1.3-0.6 1.4-0.3 1.3 0.2 1.3 0.6 1.4 0.3 1.3-0.1 1.3 0.3 1.4 0.3 1.3-0.2 1.3-0.1 1.4 0.5 1.3 0.3 1.3-0.1 1.4 0 1.3 0.3 1.3 0 1.4 0.2 1.3-0.2 1.3 0.1 1.4 0.2 1.3 0.5 1.3-0.2 1.4 0.2 1.3 0.3 1.3 0.5 1.4-0.4 1.3-0.3 1.3-0.2 1.4 0.5 1.3-0.3 1.3 0.2 1.4 0.1 1.3 0.2 1.3 0.2 1.4 0.2 1.3 0.1 1.3 0 1.4 0.1 1.3 0.3 1.3 0.1 1.3-0.1 1.4-0.4 1.3 0.3 1.3 0.6 1.4 0.1 1.3-0.3 1.3-0.3 1.4 0.2 1.3 0.1 1.3 0.1 1.4 0.2 1.3 0.2 1.3 0.4 1.4-0.2 1.3 0 1.3-0.1 1.4 0 1.3 0 1.3 0.3 1.4 0.2 1.3-0.1 1.3-0.1 1.4 0.1 1.3 0.1 1.3 0.4 1.4-0.1 1.3 0 1.3-0.2 1.4 0.1 1.3 0.3 1.3 0"/>
<path d="M127.9 521.7l1.4-0.3 1.3 0 1.3 0.5 1.4-0.3 1.3-1 1.3-0.5 1.4 0.5 1.3 0.3 1.3-0.4 1.4-0.6 1.3-0.7 1.3-0.6 1.4 0.4 1.3 1.1 1.3-0.7 1.4-2.3 1.3 0.9 1.3 0.5 1.3 0 1.4 0.4 1.3-0.2 1.3-1.1 1.4-0.5 1.3 0.9 1.3 1.5 1.4-1.4 1.3-1.4 1.3-0.9 1.4-0.2 1.3-0.3 1.3-0.1 1.4 0.1 1.3-0.2 1.3 0.3 1.4-0.5 1.3 0.3 1.3 0.6 1.4 0.2 1.3 1.4 1.3-1.3 1.4-2.9 1.3-0.8 1.3 0.7 1.4 0.6 1.3-0.9 1.3-1.5 1.4-0.2 1.3 1.4 1.3 0.8 1.4-0.7 1.3-1.5 1.3-3.7 1.4-1.3 1.3 2.5 1.3 2.7 1.4 0.2 1.3-0.3 1.3-0.6 1.3-0.2 1.4-0.9 1.3-1 1.3-0.2 1.4-1.3 1.3-0.5 1.3-0.1 1.4-0.4 1.3-0.6 1.3-0.4 1.4-0.4 1.3-1.5 1.3 2.1 1.4 1.6 1.3-0.5 1.3-1.1 1.4-1.4 1.3-0.1 1.3 0 1.4 0.3 1.3 1.9 1.3-2 1.4-0.8 1.3-0.6 1.3 0.3 1.4-0.7 1.3 0.1 1.3-1.1 1.4-0.9 1.3 1.9 1.3 1.6 1.4 0.4 1.3 0 1.3-0.1 1.4 0.5 1.3 0.6 1.3-0.5 1.4-0.3 1.3 0.2 1.3-0.1 1.3 0.2 1.4 0.7 1.3 1.1 1.3 0.5 1.4 0 1.3 0.1 1.3-0.1 1.4 1.5 1.3-0.1 1.3-0.6 1.4-2.9 1.3-2.5 1.3-7.4 1.4-8.4 1.3-9.3 1.3-9.2 1.4-8.7 1.3-7.1 1.3-4 1.4 1.2 1.3 3.2 1.3 1 1.4 0 1.3-0.2 1.3 0.6 1.4 2.4 1.3 4.4 1.3 2.4 1.4 4 1.3 4.4 1.3 6.4 1.4 5.2 1.3 4.7 1.3 4.7 1.4 5.9 1.3 2.9 1.3 1 1.4 2.3 1.3 3 1.3 2.3 1.3 0.5 1.4 0.4 1.3 1.2 1.3 2.5 1.4 1.3 1.3 0 1.3-0.2 1.4 0.4 1.3 0.5 1.3 0.8 1.4 0.3 1.3-0.6 1.3-1.5 1.4-1.7 1.3-1.9 1.3-1.6 1.4-2.4 1.3-2.5 1.3-2.3 1.4-2.1 1.3-2.6 1.3-1.8 1.4 0.1 1.3 0.5 1.3-0.4 1.4 0.2 1.3 0.6 1.3 0.1 1.4-0.1 1.3 0.5 1.3 1.5 1.4 1.4 1.3 0.9 1.3 0.4 1.4 1.6 1.3 2 1.3 1.9 1.4 1.9 1.3 2.7 1.3 2 1.3 1.5 1.4 1.4 1.3 2.5 1.3 1.3 1.4 0.7 1.3 0.8 1.3 1.8 1.4 1.4 1.3 0.6 1.3 0.5 1.4 0.6 1.3 0.5 1.3 0.1 1.4 0.3 1.3 0.1 1.3 0.3 1.4-0.2 1.3 0.2 1.3 0 1.4 0.2 1.3 0.5 1.3 0.4 1.4 0.4 1.3-0.1 1.3 0 1.4-0.1 1.3 0.5 1.3 0.4 1.4 0.1 1.3-0.3 1.3-0.1 1.4 0.4 1.3 0.4 1.3 0.7 1.4 0.2 1.3-0.1 1.3-0.2 1.4 0.2 1.3 0.2 1.3 0.3 1.3 0.3 1.4-0.2 1.3 0 1.3 0.2 1.4 0.3 1.3 0.1 1.3 0 1.4 0 1.3 0.2 1.3 0.3 1.4 0.4 1.3 0.2 1.3 0.3 1.4-0.1 1.3 0.1 1.3-0.1 1.4 0.2 1.3-0.2 1.3 0.1 1.4 0.2 1.3 0.4 1.3 0 1.4-0.1 1.3 0 1.3 0.2 1.4 0.3 1.3 0.2 1.3-0.2 1.4-0.3 1.3 0.4 1.3 0.5 1.4 0.2 1.3-0.3 1.3 0.1 1.4-0.1 1.3-0.1 1.3 0 1.4-0.1 1.3-0.5 1.3 0.3 1.3 0.2 1.4 0.1 1.3 0.1 1.3 0.6 1.4 0.3 1.3-0.2 1.3-0.1 1.4 0.2 1.3 0.4 1.3 0 1.4-0.1 1.3-0.1 1.3-0.1 1.4-0.1 1.3 0.4 1.3 0.2 1.4-0.2 1.3-0.3 1.3 0.2 1.4 0.1 1.3 0.3 1.3 0.2 1.4 0.1 1.3-0.1"/>
<path d="M130.7 517.1l1.3-0.3 1.4-0.2 1.3-0.3 1.3-0.9 1.4-0.7 1.3 0 1.3 0.9 1.4 0.2 1.3-0.4 1.3-0.8 1.4-0.3 1.3-0.4 1.3-0.4 1.4 0.2 1.3-0.4 1.3-2.3 1.4 0.6 1.3 0.1 1.3 0.3 1.4 0.8 1.3 0.3 1.3-0.7 1.3-0.4 1.4 1.3 1.3 1.6 1.3-1.6 1.4-1.6 1.3-0.8 1.3 0.7 1.4-0.3 1.3-0.2 1.3-0.4 1.4 0.1 1.3-0.2 1.3 0 1.4 0.3 1.3-0.1 1.3-0.3 1.4 1.9 1.3-0.8 1.3-3.2 1.4-1 1.3 0.2 1.3-0.1 1.4 0 1.3 0.1 1.3-0.1 1.4-0.1 1.3-0.2 1.3 0.2 1.4-1.5 1.3-2.8 1.3-0.5 1.4 2.3 1.3 0 1.3-0.8 1.4 0.4 1.3 0.2 1.3-0.7 1.4-1.1 1.3 0.6 1.3 1.1 1.3 0.2 1.4-1.4 1.3-0.4 1.3-0.7 1.4-0.1 1.3 0.3 1.3-1.2 1.4-2.4 1.3 1.2 1.3 1.5 1.4-0.8 1.3-1.4 1.3-0.9 1.4 0.4 1.3 0.8 1.3 1.1 1.4 1.9 1.3-2.6 1.3-1.6 1.4-0.3 1.3 0 1.3-0.3 1.4 0.5 1.3-0.5 1.3-1.2 1.4 1.6 1.3 1.1 1.3-0.8 1.4 0.5 1.3 1 1.3 0.7 1.4-0.4 1.3-1.1 1.3-0.5 1.4 0.1 1.3 0.2 1.3 0.9 1.4 1.3 1.3 1.6 1.3 0.1 1.3-0.9 1.4 0.6 1.3 0.6 1.3 1.1 1.4-1.3 1.3-0.4 1.3-2.7 1.4-3.5 1.3-8.9 1.3-7.5 1.4-9 1.3-9.1 1.3-8.5 1.4-6.6 1.3-2.8 1.3 1.2 1.4 3.2 1.3-0.5 1.3-0.6 1.4 0 1.3 0.6 1.3 1.9 1.4 3.9 1.3 2.8 1.3 4.3 1.4 5.5 1.3 7.4 1.3 6 1.4 3.2 1.3 3.4 1.3 5.3 1.4 5 1.3 2.4 1.3 2 1.4 1.9 1.3 2 1.3 0.9 1.4 0.3 1.3 0.9 1.3 1.6 1.3 1.5 1.4 0.6 1.3 0.4 1.3 0.2 1.4-0.1 1.3 0.1 1.3 0.1 1.4 0.2 1.3-1.2 1.3-1.4 1.4-2.2 1.3-2.5 1.3-3.2 1.4-2.5 1.3-2.1 1.3-2.2 1.4-2.5 1.3-1.4 1.3 0.1 1.4 0.6 1.3-0.4 1.3-0.1 1.4 1 1.3 0.6 1.3 0.2 1.4 0 1.3 0.8 1.3 1.2 1.4 0.9 1.3 1.1 1.3 1.9 1.4 1.9 1.3 2 1.3 1.6 1.4 2.5 1.3 1.9 1.3 2.9 1.4 1.8 1.3 2 1.3 0.4 1.3 0.9 1.4 0.9 1.3 1.4 1.3 1.2 1.4 1.2 1.3 0.7 1.3 0.7 1.4 0.2 1.3 0.6 1.3 0.2 1.4 0.2 1.3 0 1.3 0.8 1.4 0.1 1.3-0.3 1.3-0.7 1.4 0.3 1.3 0.4 1.3 0.9 1.4 0.2 1.3-0.1 1.3 0 1.4 0.3 1.3 0.2 1.3-0.2 1.4 0 1.3 0 1.3 0.7 1.4 0.5 1.3 0.3 1.3-0.1 1.4-0.1 1.3-0.1 1.3-0.2 1.4 0.2 1.3 0.6 1.3 0.7 1.4-0.1 1.3-0.1 1.3 0.2 1.3 0.2 1.4 0.1 1.3-0.3 1.3 0.1 1.4 0.2 1.3 0.3 1.3 0.2 1.4 0.1 1.3 0.4 1.3 0.2 1.4 0.2 1.3-0.2 1.3-0.2 1.4 0.2 1.3 0.5 1.3 0.4 1.4 0.1 1.3-0.2 1.3-0.3 1.4-0.2 1.3 0.1 1.3 0.5 1.4 0.6 1.3 0.2 1.3-0.3 1.4 0.2 1.3-0.3 1.3-0.1 1.4-0.1 1.3 0.4 1.3 0.1 1.4 0.2 1.3 0.1 1.3-0.1 1.4-0.1 1.3 0.1 1.3 0 1.4-0.3 1.3 0.1 1.3 0.2 1.3 0.3 1.4 0 1.3 0.4 1.3 0.2 1.4 0 1.3-0.2 1.3 0.2 1.4 0.3 1.3 0.1 1.3 0.1 1.4 0 1.3-0.2 1.3-0.2 1.4 0 1.3 0.5 1.3 0.1 1.4 0.3 1.3-0.3"/>
<path d="M133.5 512.0l1.3-0.6 1.3-0.5 1.4-0.1 1.3-0.4 1.3-0.9 1.4 0.2 1.3 0.7 1.3-0.2 1.4-0.8 1.3-0.7 1.3-0.1 1.4-0.1 1.3-0.1 1.3 0.8 1.4-0.8 1.3-1.3 1.3 0.3 1.4 0.4 1.3-0.9 1.3 0.3 1.4 0.1 1.3-0.1 1.3-0.6 1.4 0.8 1.3 1.4 1.3-0.8 1.3-1.2 1.4-0.4 1.3 0.4 1.3 0 1.4 0.1 1.3-0.4 1.3-0.4 1.4-0.2 1.3 0.1 1.3-0.1 1.4-0.1 1.3-0.5 1.3 1.8 1.4-0.8 1.3-2.9 1.3-0.8 1.4 0.1 1.3-0.1 1.3-0.6 1.4-0.7 1.3-0.5 1.3 0.5 1.4 0.7 1.3-0.2 1.3-1.5 1.4-2.6 1.3-0.7 1.3 2.6 1.4 1.3 1.3-0.2 1.3-0.4 1.4-0.3 1.3-1 1.3-0.7 1.4 0.2 1.3 1.2 1.3-0.2 1.4-0.5 1.3-0.4 1.3-0.4 1.3-0.1 1.4-0.7 1.3-1.4 1.3-2.2 1.4 1.3 1.3 1.3 1.3 0.5 1.4 0.2 1.3-1.8 1.3-1.3 1.4 0.5 1.3 2 1.3 1.8 1.4-2.6 1.3-1 1.3 0.2 1.4-0.7 1.3-1 1.3 0.3 1.4-1.5 1.3-1.1 1.3 1.5 1.4 1.1 1.3-0.8 1.3 0.3 1.4 0.9 1.3 0.6 1.3 1 1.4-0.5 1.3-0.1 1.3-0.4 1.4 0.5 1.3 0.5 1.3 0.8 1.4 1.6 1.3 1.1 1.3 0.2 1.4-0.9 1.3 0.2 1.3-0.2 1.3-0.2 1.4-1 1.3-1.7 1.3-3.5 1.4-8.1 1.3-8.5 1.3-9 1.4-9.7 1.3-9.9 1.3-6.7 1.4-2.1 1.3 1.9 1.3 2.4 1.4 0.5 1.3 0 1.3-0.3 1.4 0.4 1.3 1.2 1.3 3.7 1.4 2.4 1.3 5.4 1.3 5.5 1.4 6.9 1.3 4.9 1.3 3 1.4 3.8 1.3 6.8 1.3 5.1 1.4 2.6 1.3 2.6 1.3 2 1.4 0.7 1.3 0.5 1.3 1.2 1.4 1.5 1.3 1.6 1.3 0.8 1.4 0 1.3 0.4 1.3 0.8 1.3 0.6 1.4 0 1.3 0 1.3-1 1.4-1.2 1.3-1.8 1.3-1.5 1.4-2.1 1.3-2.4 1.3-2.6 1.4-2.8 1.3-3.6 1.3-2.1 1.4-1 1.3 0.5 1.3-0.3 1.4-0.1 1.3 0.3 1.3 1.3 1.4 0.8 1.3 0.2 1.3 0 1.4 0.4 1.3 0.6 1.3 1.2 1.4 1.3 1.3 2.1 1.3 1.5 1.4 2.5 1.3 1.6 1.3 1.7 1.4 1.8 1.3 2.7 1.3 2.3 1.4 2.2 1.3 1.1 1.3 0.8 1.4 0.9 1.3 1.7 1.3 1 1.3 0.3 1.4 0.1 1.3 0.9 1.3 0.4 1.4 0.7 1.3 0.4 1.3 0.7 1.4 0 1.3 0.2 1.3 0.3 1.4-0.2 1.3 0.1 1.3 0.5 1.4 0.7 1.3 0.3 1.3-0.2 1.4-0.2 1.3 0 1.3 0.5 1.4 0.6 1.3 0.2 1.3-0.1 1.4-0.1 1.3 0.6 1.3 0.5 1.4 0.2 1.3 0 1.3-0.3 1.4-0.3 1.3 0.3 1.3 0.6 1.4 0.3 1.3-0.3 1.3-0.5 1.4 0.1 1.3 0.5 1.3 0.3 1.4 0 1.3 0.1 1.3 0 1.3 0.4 1.4 0.1 1.3 0.5 1.3 0.1 1.4 0.3 1.3 0.3 1.3 0.6 1.4 0.1 1.3-0.6 1.3-0.5 1.4 0.5 1.3 0.2 1.3 0.1 1.4-0.4 1.3 0 1.3 0 1.4 0.4 1.3 0.3 1.3 0.1 1.4 0.2 1.3 0 1.3 0.3 1.4 0 1.3-0.1 1.3-0.4 1.4 0.2 1.3 0.2 1.3 0.1 1.4 0 1.3 0.1 1.3 0 1.4 0.2 1.3 0 1.3-0.1 1.4 0 1.3 0.3 1.3-0.1 1.4 0.2 1.3 0.2 1.3 0.3 1.3-0.1 1.4-0.2 1.3 0.1 1.3 0.1 1.4-0.2 1.3 0 1.3 0.3 1.4 0 1.3-0.1 1.3-0.1 1.4 0.4 1.3 0"/>
<path d="M136.2 506.4l1.4-0.3 1.3-0.8 1.3 0.5 1.4-0.3 1.3 0.1 1.3-0.5 1.4 0.4 1.3-0.3 1.3-0.5 1.4-0.7 1.3-0.5 1.3 0 1.4 0.4 1.3 0.6 1.3-1.4 1.4-2 1.3 0.9 1.3 0.6 1.4-0.2 1.3 0.4 1.3 0.1 1.4-1 1.3-0.4 1.3 0.7 1.4 1.2 1.3-1.5 1.3-0.5 1.4 0.3 1.3 0.8 1.3-0.2 1.3-0.6 1.4-0.4 1.3-0.2 1.3-0.3 1.4-1.1 1.3 0.2 1.3 0.9 1.4-0.1 1.3 1.3 1.3-0.6 1.4-2.7 1.3-1.1 1.3 0.4 1.4-0.2 1.3-0.9 1.3-1.3 1.4-0.3 1.3 1.3 1.3 1.3 1.4-0.1 1.3-2.2 1.3-3.4 1.4-0.5 1.3 3.2 1.3 1.8 1.4-0.8 1.3-0.5 1.3 0.4 1.4 0.1 1.3-0.3 1.3-0.2 1.4 0 1.3-1 1.3-1.4 1.4-0.9 1.3 0.2 1.3 0.5 1.4-0.8 1.3-1.7 1.3-1.8 1.3 2.4 1.4 1 1.3-0.1 1.3-0.7 1.4-0.6 1.3-0.1 1.3 0.7 1.4 1.1 1.3 1 1.3-2.8 1.4-1.7 1.3-0.6 1.3 0.3 1.4-0.1 1.3 1 1.3-1.1 1.4-0.5 1.3 1.2 1.3 1 1.4-0.9 1.3 0.2 1.3 1.1 1.4 0.6 1.3-0.1 1.3-0.5 1.4 0.4 1.3-0.5 1.3 0.4 1.4 1 1.3 0.9 1.3-0.8 1.4-0.2 1.3 1 1.3 1.7 1.4 0.6 1.3 0.8 1.3-0.2 1.4-0.6 1.3-3.4 1.3-4.9 1.3-9.6 1.4-8.8 1.3-8.8 1.3-9.1 1.4-8.2 1.3-6.9 1.3-3.4 1.4 0.9 1.3 3.1 1.3 1.2 1.4-0.3 1.3-0.6 1.3 0.2 1.4 1.9 1.3 4.2 1.3 3.1 1.4 5.2 1.3 4.8 1.3 7 1.4 5.4 1.3 3.4 1.3 3.6 1.4 6.6 1.3 4.9 1.3 2.3 1.4 1.7 1.3 2 1.3 2.2 1.4 0.8 1.3 1 1.3 1.5 1.4 1.8 1.3 0.6 1.3 0.2 1.4 0.7 1.3 0.4 1.3-0.2 1.4 0 1.3 0.3 1.3 0.1 1.3-1.9 1.4-2.3 1.3-2.1 1.3-2.1 1.4-3 1.3-3.3 1.3-1.6 1.4-2.5 1.3-1.9 1.3-1.2 1.4 0.5 1.3 0 1.3-0.3 1.4-0.1 1.3 0.3 1.3 0.4 1.4 0.3 1.3 0.4 1.3 0.7 1.4 1.6 1.3 1 1.3 1.2 1.4 1.7 1.3 2.1 1.3 1.3 1.4 1.9 1.3 2.6 1.3 2.8 1.4 2.4 1.3 2.2 1.3 1.9 1.4 0.7 1.3 0.5 1.3 0.5 1.4 1.6 1.3 1.4 1.3 1.1 1.4 0.2 1.3 0.6 1.3 0.9 1.3 0.6 1.4 0.2 1.3-0.1 1.3 0 1.4 0.7 1.3 0.6 1.3 0 1.4-0.3 1.3 0.1 1.3-0.1 1.4 0.3 1.3 0.3 1.3 0.7 1.4 0 1.3 0.1 1.3 0.1 1.4 0.4 1.3 0.2 1.3-0.1 1.4 0.2 1.3 0.6 1.3 0.1 1.4 0 1.3-0.3 1.3 0.5 1.4 0 1.3 0.2 1.3 0.2 1.4 0.3 1.3 0 1.3-0.1 1.4-0.1 1.3-0.1 1.3 0 1.4 0.3 1.3 0.4 1.3 0.4 1.4 0.3 1.3 0 1.3-0.1 1.3 0.1 1.4 0.2 1.3 0.5 1.3 0.1 1.4 0.3 1.3-0.1 1.3 0.3 1.4-0.1 1.3-0.1 1.3-0.3 1.4 0.1 1.3 0 1.3 0 1.4 0 1.3 0.4 1.3 0.3 1.4-0.4 1.3 0 1.3 0.2 1.4 0.1 1.3-0.1 1.3 0.2 1.4 0.2 1.3 0.3 1.3 0.2 1.4-0.2 1.3-0.3 1.3 0 1.4 0.2 1.3 0 1.3 0.2 1.4 0.1 1.3 0.1 1.3 0 1.4 0.5 1.3 0.3 1.3 0.3 1.4-0.2 1.3 0 1.3-0.1 1.3-0.1 1.4 0 1.3 0 1.3 0 1.4-0.2 1.3-0.1"/>
<path d="M139.0 500.7l1.3 0.1 1.4 0 1.3 0.2 1.3-0.4 1.4-0.6 1.3-1 1.3 0 1.4 0.4 1.3-0.1 1.3-0.3 1.4-0.7 1.3-0.1 1.3-0.1 1.4 1.5 1.3-1.2 1.3-1.9 1.4 0.7 1.3 1.1 1.3-1.4 1.4 0.2 1.3 0.7 1.3-0.3 1.4-0.8 1.3 0.8 1.3 1.5 1.4-1.3 1.3-1.4 1.3-0.7 1.4 0.4 1.3 0.4 1.3 0.4 1.4 0.1 1.3-0.6 1.3-1.1 1.3-0.4 1.4 0.9 1.3 1.1 1.3 0.3 1.4 1.7 1.3-1.8 1.3-3.8 1.4-1.3 1.3 0.7 1.3 0.2 1.4-0.4 1.3-0.2 1.3 0.1 1.4 0.2 1.3 0 1.3 0 1.4-0.9 1.3-2.4 1.3-1.1 1.4 1.8 1.3 1.3 1.3 0 1.4-0.8 1.3-0.8 1.3 0 1.4 0.3 1.3 0.5 1.3 0.3 1.4-0.7 1.3-1.3 1.3 0 1.4 0.2 1.3-0.3 1.3-0.9 1.4-1.4 1.3-2.5 1.3 1.5 1.4 1.2 1.3 0.3 1.3-0.3 1.3-1 1.4-0.2 1.3 0.1 1.3 2.2 1.4 1.2 1.3-2.6 1.3-1.5 1.4 0.5 1.3-0.1 1.3-1.8 1.4 0.4 1.3-0.2 1.3-0.6 1.4 1 1.3 0.5 1.3-0.9 1.4-0.4 1.3 0.5 1.3 0.8 1.4 1.1 1.3 0.7 1.3 0 1.4-1.3 1.3 0 1.3 1 1.4 1.6 1.3 1.2 1.3 0.7 1.4-0.7 1.3-0.1 1.3 0.8 1.4 1.5 1.3-1.1 1.3-1.9 1.4-3 1.3-3.9 1.3-9.5 1.4-9.4 1.3-8.7 1.3-8.8 1.3-8.8 1.4-6.8 1.3-2.4 1.3 1.7 1.4 2.7 1.3 0.1 1.3-0.9 1.4-0.6 1.3-0.1 1.3 2.7 1.4 4.7 1.3 3.9 1.3 4.8 1.4 5.2 1.3 6.9 1.3 6 1.4 3.6 1.3 3.5 1.3 5.7 1.4 4.7 1.3 2.4 1.3 2.1 1.4 2.2 1.3 1.8 1.3 0.5 1.4 0.3 1.3 1.1 1.3 1.9 1.4 1.8 1.3 0.8 1.3 0.6 1.4-0.2 1.3-0.2 1.3 0 1.4-0.1 1.3-0.5 1.3-1.2 1.4-1.9 1.3-2.3 1.3-3 1.3-3.1 1.4-2.7 1.3-1.4 1.3-2 1.4-2.5 1.3-1.8 1.3-0.2 1.4 0.2 1.3-0.2 1.3 0.4 1.4 0.5 1.3 0.3 1.3-0.6 1.4 0 1.3 1 1.3 1.1 1.4 1.3 1.3 1.5 1.3 2.6 1.4 2.1 1.3 1.5 1.3 2.2 1.4 2.6 1.3 2.6 1.3 2.5 1.4 1.9 1.3 1.7 1.3 0.4 1.4 0.9 1.3 0.5 1.3 1.8 1.4 1.5 1.3 1.4 1.3 0.3 1.4 0.6 1.3 1 1.3 0.7 1.4-0.1 1.3-0.3 1.3-0.1 1.3 0.4 1.4 0.7 1.3 0.3 1.3 0.3 1.4 0 1.3-0.1 1.3 0.5 1.4 0.9 1.3 0.3 1.3-0.1 1.4-0.3 1.3-0.3 1.3 0 1.4 0.8 1.3 0.2 1.3 0.5 1.4 0.1 1.3 0.3 1.3 0 1.4 0.1 1.3-0.3 1.3-0.1 1.4 0.2 1.3 0.5 1.3 0.1 1.4-0.4 1.3-0.1 1.3 0.4 1.4 0.6 1.3 0.4 1.3-0.3 1.4-0.7 1.3 0.2 1.3 0.3 1.4 0.4 1.3-0.1 1.3 0.3 1.4 0 1.3 0.5 1.3 0.1 1.3 0.2 1.4-0.3 1.3 0.3 1.3 0 1.4 0.5 1.3-0.3 1.3-0.2 1.4-0.5 1.3 0.2 1.3 0.8 1.4 0.6 1.3-0.1 1.3-0.3 1.4 0.1 1.3 0.2 1.3 0 1.4-0.3 1.3 0.3 1.3 0.2 1.4 0.2 1.3 0.2 1.3 0.2 1.4-0.2 1.3-0.3 1.3-0.3 1.4 0.2 1.3 0.2 1.3 0.2 1.4 0 1.3 0 1.3 0.3 1.4 0.1 1.3 0.3 1.3 0.1 1.4 0.2 1.3-0.2 1.3-0.3 1.4-0.2 1.3 0.4 1.3 0.5"/>
<path d="M141.8 495.3l1.3 0.3 1.3 0 1.4-0.3 1.3-1.2 1.3-0.2 1.4 0.5 1.3 0.6 1.3-0.2 1.4-0.4 1.3-0.3 1.3 0.1 1.4-0.9 1.3 0.1 1.3 0.7 1.4-0.6 1.3-2.1 1.3 0.7 1.4 0.8 1.3-0.9 1.3-0.1 1.4-0.1 1.3-0.2 1.3-0.5 1.4 1 1.3 1.5 1.3-0.9 1.4-1 1.3-0.5 1.3 0.6 1.4 0 1.3-0.4 1.3-0.5 1.4 0.3 1.3-0.3 1.3-0.5 1.4 0.1 1.3 0.7 1.3-0.2 1.3 1.4 1.4-1.1 1.3-3.2 1.3-1.3 1.4 0 1.3 0.4 1.3 0 1.4-0.5 1.3 0.3 1.3 1 1.4 1.3 1.3-0.4 1.3-1.4 1.4-3.1 1.3-0.3 1.3 2.8 1.4 0.9 1.3-0.9 1.3-0.8 1.4-0.3 1.3-0.1 1.3 0.5 1.4 0.6 1.3-0.4 1.3-1.6 1.4-1.7 1.3-0.1 1.3 0.3 1.4 0.7 1.3-0.7 1.3-1.6 1.4-2.7 1.3 1.5 1.3 1.3 1.4 0.2 1.3-1 1.3-0.7 1.4-0.2 1.3 0.7 1.3 1.4 1.3 2.2 1.4-2.7 1.3-1.4 1.3-0.8 1.4-0.1 1.3-0.4 1.3 1.2 1.4-0.6 1.3-1.3 1.3 1.4 1.4-0.3 1.3-1.2 1.3-0.4 1.4 1.6 1.3 1.7 1.3 1.2 1.4-0.9 1.3-1 1.3-0.5 1.4 0.5 1.3 1.3 1.3 1.3 1.4 0.7 1.3-0.2 1.3 0.2 1.4 0.6 1.3 0.8 1.3 0.4 1.4-0.8 1.3-1.2 1.3-2.9 1.4-4.6 1.3-9.2 1.3-8.8 1.4-9.7 1.3-9.6 1.3-9.8 1.4-6.1 1.3-2.4 1.3 2 1.3 2.7 1.4 0.6 1.3-0.1 1.3-0.7 1.4-0.5 1.3 1.6 1.3 4.5 1.4 3.7 1.3 4.8 1.3 5.4 1.4 7.3 1.3 6.9 1.3 4 1.4 3.1 1.3 5.1 1.3 3.9 1.4 2.6 1.3 2.5 1.3 2.6 1.4 1.8 1.3 0.7 1.3 0.8 1.4 1 1.3 1.4 1.3 1.4 1.4 0.6 1.3 0.4 1.3 0.5 1.4 0.6 1.3 0 1.3-0.3 1.4-0.5 1.3-1.9 1.3-3.2 1.4-2.5 1.3-2.2 1.3-2.1 1.4-2.7 1.3-2.2 1.3-2.7 1.3-2.1 1.4-1.8 1.3-0.3 1.3 0.7 1.4 0.3 1.3 0.2 1.3 0 1.4 0.5 1.3 0.3 1.3 0.4 1.4 1.1 1.3 1.3 1.3 1.4 1.4 1.1 1.3 1.5 1.3 1.9 1.4 2.7 1.3 2.1 1.3 2.3 1.4 2.2 1.3 2.7 1.3 2.2 1.4 1.7 1.3 1 1.3 1.1 1.4 1.5 1.3 1.5 1.3 1.1 1.4 0.4 1.3-0.1 1.3 0.4 1.4 0.5 1.3 0.5 1.3 0.3 1.4 0.8 1.3 0.3 1.3 0.4 1.4 0.1 1.3 0.2 1.3 0.1 1.3 0.4 1.4 0 1.3 0.6 1.3-0.1 1.4 0.3 1.3-0.5 1.3 0 1.4-0.1 1.3 0.5 1.3 0.5 1.4 0 1.3 0.2 1.3 0.4 1.4 0.4 1.3 0.1 1.3-0.4 1.4-0.1 1.3 0.2 1.3 0.4 1.4 0.5 1.3 0.4 1.3-0.4 1.4-0.2 1.3 0 1.3 0.2 1.4 0.2 1.3 0.2 1.3-0.2 1.4 0.3 1.3 0.4 1.3 0.6 1.4 0.2 1.3 0.2 1.3-0.2 1.4 0 1.3-0.4 1.3 0.1 1.4 0.2 1.3 0.5 1.3 0 1.3 0.1 1.4-0.5 1.3 0.2 1.3 0.2 1.4 0.2 1.3-0.4 1.3 0.3 1.4 0.3 1.3 0.2 1.3 0.1 1.4 0 1.3 0.1 1.3 0.3 1.4 0 1.3 0 1.3-0.1 1.4 0.1 1.3-0.1 1.3 0.1 1.4 0.5 1.3 0.2 1.3-0.1 1.4-0.1 1.3 0.1 1.3 0.2 1.4 0.1 1.3 0 1.3 0.3 1.4 0 1.3-0.1 1.3 0 1.4 0 1.3-0.1 1.3 0"/>
</g>
<path d="M61.45 451.60V673.00H462.20" fill="none" stroke="#000" stroke-width="2.1"/>
<path d="M61.45 673.00v3.3M88.10 673.00v5.3M114.75 673.00v3.3M141.40 673.00v5.3M168.05 673.00v3.3M194.70 673.00v5.3M221.35 673.00v3.3M248.00 673.00v5.3M274.65 673.00v3.3M301.30 673.00v5.3M327.95 673.00v3.3M354.60 673.00v5.3M381.25 673.00v3.3M407.90 673.00v5.3M434.55 673.00v3.3M461.20 673.00v5.3M61.45 673.00h-5.6M61.45 645.45h-3.4M61.45 617.90h-5.6M61.45 590.35h-3.4M61.45 562.80h-5.6M61.45 535.25h-3.4M61.45 507.70h-5.6M61.45 480.15h-3.4M61.45 452.60h-5.6" fill="none" stroke="#000" stroke-width="2.1"/>
<text x="88.1" y="690.9" text-anchor="middle" font-size="13.5">16</text>
<text x="141.4" y="690.9" text-anchor="middle" font-size="13.5">18</text>
<text x="194.7" y="690.9" text-anchor="middle" font-size="13.5">20</text>
<text x="248.0" y="690.9" text-anchor="middle" font-size="13.5">22</text>
<text x="301.3" y="690.9" text-anchor="middle" font-size="13.5">24</text>
<text x="354.6" y="690.9" text-anchor="middle" font-size="13.5">26</text>
<text x="407.9" y="690.9" text-anchor="middle" font-size="13.5">28</text>
<text x="461.2" y="690.9" text-anchor="middle" font-size="13.5">30</text>
<text x="53.5" y="676.4" text-anchor="end" font-size="13.5">0</text>
<text x="53.5" y="621.3" text-anchor="end" font-size="13.5">50</text>
<text x="53.5" y="566.2" text-anchor="end" font-size="13.5">100</text>
<text x="53.5" y="511.1" text-anchor="end" font-size="13.5">150</text>
<text x="53.5" y="456.0" text-anchor="end" font-size="13.5">200</text>
<clipPath id="clip3"><rect x="570.6" y="0" width="429.4" height="720"/></clipPath>
<g clip-path="url(#clip3)" fill="none" stroke="#000" stroke-width="2.2" stroke-linejoin="round">
<path d="M572.6 638.4l1.3-0.3 1.3-0.3 1.3-0.9 1.3-0.2 1.3 0.3 1.2-1 1.3-1.5 1.3-0.2 1.3 0.3 1.3-0.8 1.3 0.1 1.3 0.5 1.3-1.1 1.3-0.4 1.3 0 1.3-2.1 1.3-1.8 1.2-0.6 1.3-0.1 1.3-0.7 1.3-0.1 1.3 0.8 1.3 0.3 1.3-2.5 1.3-1.7 1.3-0.2 1.3-0.6 1.3-0.9 1.3 0.2 1.2 0.1 1.3-1 1.3-0.3 1.3 0.7 1.3-1.2 1.3-3.2 1.3-1.8 1.3 0.5 1.3 0.6 1.3 0 1.3 0 1.3-0.5 1.2-0.2 1.3-0.6 1.3-1.6 1.3-0.9 1.3-0.6 1.3-1 1.3 0.4 1.3 0.1 1.3-1 1.3-0.2 1.3-1 1.2-1 1.3 0.3 1.3-0.3 1.3-0.8 1.3-2.4 1.3-1.4 1.3-1.2 1.3-1.4 1.3 0.9 1.3 1.5 1.3-0.2 1.3-0.5 1.2-1.2 1.3-1.8 1.3-0.4 1.3-1.1 1.3-2.5 1.3 0.4 1.3 0.9 1.3 0 1.3 0.5 1.3 0.7 1.3 1.2 1.3-0.7 1.2-3.1 1.3-2.3 1.3 3 1.3 2.3 1.3 0.1 1.3 0 1.3-0.7 1.3-2.4 1.3-1.6 1.3 1.4 1.3 1.3 1.3-1.6 1.2-0.7 1.3-0.1 1.3-0.5 1.3 0.3 1.3 0.3 1.3-0.5 1.3 0.3 1.3 0.8 1.3 0.6 1.3 0.9 1.3-1.8 1.3-1.6 1.2 0.6 1.3 0.6 1.3-0.5 1.3-0.9 1.3 0.4 1.3 0.7 1.3 0.6 1.3 0.5 1.3-1 1.3-1.4 1.3 1.7 1.2 2.9 1.3 0.9 1.3-0.1 1.3-2.5 1.3-1 1.3 1.7 1.3 1.4 1.3 0.5 1.3-0.5 1.3 0.2 1.3 2.4 1.3 1.6 1.2-0.5 1.3-0.7 1.3-0.2 1.3 0.5 1.3 2.2 1.3 0.7 1.3-0.8 1.3 1.5 1.3 2.7 1.3 0.3 1.3-1.5 1.3-0.7 1.2-0.1 1.3 0.7 1.3 2.3 1.3 1.7 1.3 0.9 1.3 0.6 1.3 0.6 1.3 0.5 1.3 0.3 1.3 0.2 1.3-0.2 1.3-0.8 1.2-0.4 1.3 1 1.3 2.2 1.3 1.7 1.3 0.2 1.3-0.7 1.3 0.5 1.3 2 1.3 1.5 1.3 1.2 1.3 0.4 1.2 0.3 1.3 0.2 1.3 1.2 1.3 2.1 1.3 0.6 1.3 0.2 1.3 0.5 1.3 0.6 1.3 1.2 1.3 0.3 1.3 0.1 1.3-0.6 1.2-1.4 1.3-0.6 1.3 0.7 1.3 1.3 1.3 0.9 1.3 0.4 1.3 1.4 1.3 1.7 1.3 1.2 1.3 0 1.3 0.6 1.3 1.6 1.2 0.9 1.3 0 1.3 0.4 1.3 1.1 1.3 0 1.3 0.2 1.3 1.3 1.3 0.4 1.3-1.2 1.3-0.1 1.3 0.8 1.3 0.6 1.2 0.4 1.3 0.3 1.3 0.3 1.3 1.3 1.3 1.3 1.3 0.4 1.3-0.2 1.3-0.4 1.3 0.2 1.3 1.5 1.3 1.4 1.2-0.2 1.3-0.9 1.3 0.7 1.3 0 1.3-0.1 1.3 0.9 1.3 0.8 1.3 0.6 1.3 0.4 1.3-0.2 1.3 0.6 1.3 0.9 1.2-0.4 1.3-0.1 1.3 0.3 1.3 0.7 1.3 1 1.3 0.4 1.3-0.5 1.3-1.2 1.3-0.1 1.3 1.4 1.3 0.9 1.3 0 1.2-0.1 1.3-0.4 1.3-0.1 1.3 0.9 1.3 1.2 1.3 0.7 1.3-0.1 1.3-0.2 1.3-0.1 1.3-0.2 1.3 0.2 1.3 0.6 1.2 0.1 1.3-0.4 1.3 0 1.3 0.9 1.3 0.1 1.3 0 1.3 0.3 1.3-0.2 1.3-0.8 1.3-0.5 1.3 0.8 1.2 1.1 1.3 0.4 1.3-0.1 1.3 0.3 1.3-0.1 1.3-0.5 1.3 0 1.3 0.1 1.3-0.1 1.3 0 1.3 0.2 1.3 0.3 1.2 0.2 1.3 0.4 1.3 0.2 1.3-0.1 1.3-0.5 1.3 0.4 1.3 0.5 1.3-0.1 1.3-0.3 1.3 0.5 1.3 0 1.3 0.1 1.2 0.4 1.3 0 1.3-0.5 1.3 0.2 1.3 0.6 1.3 0.1 1.3-0.5 1.3 0 1.3-0.5 1.3-0.3 1.3 1 1.3 0.5 1.2-1 1.3-0.2 1.3 0 1.3 0 1.3 0.2 1.3 0.1 1.3 0.1 1.3 0 1.3-0.4 1.3 0 1.3 0 1.3 0.4"/>
<path d="M575.2 633.1l1.3-1.5 1.3 0.2 1.3 0 1.3-0.6 1.3-0.4 1.3-1.3 1.3-0.5 1.3 0.4 1.3 0.9 1.3 0.3 1.3-0.4 1.2-0.6 1.3-1.3 1.3-0.5 1.3-0.7 1.3-3 1.3-1.3 1.3 0.1 1.3-0.4 1.3-1.1 1.3 0 1.3 1.4 1.3 2.2 1.2-0.8 1.3-2.5 1.3-2.5 1.3-2 1.3-0.2 1.3-0.4 1.3-0.9 1.3 0.7 1.3 0.4 1.3-0.2 1.3-0.8 1.3-0.8 1.2 0.6 1.3-0.2 1.3-2.9 1.3-0.8 1.3 0.3 1.3-0.9 1.3-0.7 1.3 0.2 1.3 0.7 1.3-0.8 1.3-2 1.3-0.8 1.2 1.2 1.3 0.8 1.3-1.5 1.3-2.3 1.3-1.7 1.3-1 1.3 0.3 1.3 0.4 1.3-1.2 1.3-2.7 1.3-0.1 1.2 1.4 1.3-0.9 1.3-1.7 1.3 1.1 1.3 0.7 1.3-1.8 1.3-1.6 1.3-0.9 1.3-1.4 1.3 0 1.3 0.4 1.3 0.6 1.2-0.4 1.3-0.8 1.3 0.1 1.3 1.8 1.3 1 1.3-2.8 1.3-2.3 1.3-1.4 1.3 1 1.3 1.2 1.3 0.9 1.3-0.5 1.2-1.6 1.3 0.5 1.3 2.1 1.3 0.2 1.3-0.9 1.3-2 1.3-1.3 1.3 0.6 1.3-0.4 1.3-1.3 1.3 0.2 1.3 1.7 1.2-0.3 1.3-0.9 1.3 1.7 1.3 0.6 1.3-2.4 1.3-0.3 1.3 1.8 1.3 0.9 1.3-0.7 1.3-1 1.3-0.7 1.2 0.1 1.3 1.4 1.3-0.4 1.3-0.6 1.3 1.3 1.3-0.3 1.3-0.7 1.3 0.1 1.3 0.8 1.3 0.8 1.3 0.8 1.3 0.1 1.2 1.7 1.3 2.1 1.3-1.1 1.3-3.1 1.3-1.9 1.3-0.1 1.3-0.1 1.3-0.2 1.3 0.5 1.3 0.6 1.3 0.4 1.3-1.4 1.2-1.5 1.3 1.5 1.3 2.7 1.3 1.3 1.3-0.2 1.3-0.5 1.3 0.5 1.3 1.2 1.3 2.4 1.3 2.3 1.3 1.9 1.3 1.8 1.2 1.1 1.3 0.6 1.3 0.1 1.3 0.3 1.3 1.3 1.3 1 1.3 0.7 1.3 0.1 1.3 0.7 1.3 1.8 1.3 1.2 1.2-0.1 1.3-0.8 1.3 0.6 1.3 3.2 1.3 2.6 1.3-0.3 1.3 0 1.3 0.9 1.3 1.7 1.3 1.1 1.3-0.2 1.3-0.8 1.2-0.4 1.3 1.3 1.3 2.7 1.3 0.6 1.3-0.8 1.3-0.4 1.3 0.3 1.3 0.8 1.3 0.8 1.3 0.4 1.3 0.8 1.3 0.7 1.2 0 1.3 0.3 1.3 1.6 1.3 1.5 1.3 0.6 1.3-0.7 1.3 0.1 1.3 1.7 1.3 1.1 1.3 0.7 1.3 0.8 1.3 0.3 1.2 0 1.3 0.1 1.3 0 1.3 0.2 1.3 0.1 1.3-0.4 1.3-0.3 1.3 0.9 1.3 1.5 1.3 1.2 1.3 0.5 1.3 1 1.2 1.4 1.3 0 1.3-0.5 1.3 0.3 1.3 0.1 1.3 0.2 1.3 0 1.3 0.3 1.3 0.3 1.3 0.5 1.3 1 1.2 0.4 1.3-1 1.3 0.3 1.3 1.4 1.3 0.4 1.3-0.3 1.3 0 1.3 0.1 1.3 0.4 1.3 0.7 1.3 0.8 1.3 1.1 1.2 0.5 1.3 0 1.3-0.4 1.3-0.7 1.3-0.1 1.3 0.4 1.3 0.2 1.3 0.2 1.3 0.8 1.3 1 1.3 0 1.3-0.1 1.2 0 1.3 0.2 1.3 0.5 1.3-0.1 1.3-0.2 1.3-0.4 1.3 0.1 1.3 0.8 1.3 0 1.3 0.1 1.3 0.4 1.3 0 1.2 0.3 1.3 0.2 1.3-0.1 1.3 0 1.3 0.1 1.3-0.5 1.3 0.1 1.3 0.7 1.3 0.3 1.3 0.2 1.3 0 1.2-0.5 1.3-0.2 1.3 0.1 1.3 0.2 1.3 0.4 1.3 0.4 1.3 0.1 1.3 0.7 1.3 0.4 1.3-0.2 1.3-0.5 1.3-0.4 1.2-0.4 1.3-0.1 1.3-0.2 1.3 0.2 1.3 0.5 1.3 0.3 1.3 0.4 1.3 0.5 1.3 0 1.3-0.5 1.3-0.1 1.3 0.9 1.2 0.3 1.3-0.3 1.3-0.1 1.3 0.1 1.3 0 1.3-0.1 1.3-0.1 1.3 0.4 1.3 0.1 1.3-0.2 1.3 0.2 1.3 0 1.2-0.4 1.3-0.1 1.3 0 1.3 0.3 1.3 0.1 1.3-0.2"/>
<path d="M577.9 627.8l1.3 0.4 1.3-0.1 1.3-2.2 1.3-1.6 1.3 0.5 1.2 1.1 1.3 0 1.3-1.1 1.3-1.2 1.3-0.5 1.3 1.8 1.3 1 1.3-2 1.3-0.8 1.3 0.8 1.3-1.3 1.3-1.5 1.2-1.1 1.3-1.8 1.3-1.7 1.3 1 1.3 0.9 1.3 0.6 1.3-0.9 1.3-0.7 1.3 0 1.3-1.7 1.3-2.4 1.3-1.3 1.2 0.3 1.3 1.4 1.3-1.1 1.3-1.8 1.3-0.4 1.3-1 1.3-0.9 1.3 0.4 1.3-0.2 1.3-1.2 1.3-0.7 1.3-1 1.2-1.3 1.3 0.3 1.3 1 1.3-0.5 1.3-1.4 1.3-0.5 1.3 0.6 1.3-0.4 1.3-3.2 1.3-0.6 1.3 1.7 1.2-0.5 1.3 0.2 1.3-1.2 1.3-1.7 1.3-0.5 1.3-0.9 1.3-1.1 1.3-0.1 1.3 0.2 1.3-0.5 1.3-1.2 1.3-0.9 1.2-0.8 1.3-1.6 1.3-1.7 1.3 0.2 1.3 0.4 1.3 0.3 1.3 0.1 1.3-0.7 1.3-0.2 1.3 2.6 1.3 1.1 1.3-2.4 1.2-2.5 1.3-3 1.3 1 1.3 1.6 1.3 0.3 1.3 0.3 1.3 0.4 1.3-0.5 1.3-0.1 1.3-0.6 1.3-1.4 1.3 0.4 1.2 2.8 1.3 0.3 1.3-2.4 1.3 1.5 1.3 2.9 1.3-1 1.3-3.3 1.3-2.5 1.3-0.5 1.3 0.4 1.3-1.4 1.3 0.9 1.2 3.4 1.3 1.1 1.3-0.8 1.3-0.7 1.3-0.8 1.3-1.5 1.3-0.1 1.3 1.7 1.3 0.9 1.3 1.2 1.3 0.1 1.2-1.3 1.3 0.5 1.3 0.3 1.3-0.3 1.3 1.3 1.3-0.3 1.3 0.2 1.3 1.7 1.3-0.6 1.3-2.1 1.3-2.4 1.3-2.1 1.2-0.7 1.3-0.1 1.3 0.3 1.3 1.4 1.3 1.2 1.3-0.2 1.3-0.1 1.3 0.3 1.3 1.2 1.3 1.8 1.3 0.8 1.3 0.5 1.2 1.2 1.3 1.7 1.3 2.2 1.3 2 1.3 0.5 1.3-0.4 1.3 2.1 1.3 3.2 1.3 0.8 1.3 0 1.3 0.4 1.3-0.1 1.2 0.3 1.3 2.1 1.3 2.7 1.3-0.4 1.3-1.1 1.3 0.9 1.3 1.7 1.3 2 1.3 1 1.3-0.2 1.3 0.6 1.2 1.6 1.3 0.1 1.3 0.6 1.3 1.3 1.3 0.3 1.3 0.2 1.3 1.3 1.3 0.5 1.3-0.6 1.3-0.1 1.3 0.7 1.3 0.4 1.2 0.4 1.3 0.5 1.3 0.6 1.3 0 1.3 0.7 1.3 1.2 1.3 0.3 1.3 0 1.3 1.6 1.3 0.9 1.3 0.4 1.3 0.8 1.2 1.1 1.3 0.5 1.3 0.3 1.3 1.2 1.3 0.3 1.3-0.3 1.3 0.5 1.3 0.5 1.3-0.6 1.3-0.1 1.3-0.1 1.3 0.3 1.2 1.2 1.3 1.4 1.3 0.6 1.3-0.6 1.3 0.1 1.3 1.3 1.3 1.4 1.3 1 1.3 0.3 1.3-0.6 1.3-0.3 1.2 0.6 1.3 0.3 1.3 0.5 1.3 0.8 1.3 0.5 1.3 0.3 1.3 0 1.3-0.4 1.3 0.6 1.3 1.5 1.3 0.8 1.3 0.1 1.2-0.7 1.3-0.2 1.3 0.7 1.3 0.4 1.3 0.5 1.3 0.7 1.3-0.7 1.3-0.9 1.3 0.2 1.3 1 1.3 0.6 1.3 0.1 1.2-0.1 1.3 0.1 1.3 0.7 1.3 0.6 1.3-0.2 1.3 0.1 1.3 0.3 1.3-0.2 1.3 0.1 1.3 0.8 1.3 0.6 1.3 0.2 1.2 0.5 1.3 0.3 1.3-0.6 1.3-0.1 1.3 0.3 1.3 0.2 1.3-0.1 1.3 0.1 1.3 0 1.3-0.4 1.3 0.6 1.2 0.4 1.3-0.6 1.3-0.1 1.3 0.6 1.3 0 1.3-0.1 1.3-0.1 1.3-0.4 1.3 0.1 1.3 0.6 1.3 0.2 1.3 0.4 1.2 0.4 1.3 0 1.3-0.3 1.3-0.1 1.3 0.2 1.3 0.3 1.3-0.1 1.3 0.6 1.3 0.6 1.3-0.1 1.3-0.4 1.3-0.4 1.2-0.1 1.3 0.2 1.3 0.2 1.3 0.2 1.3 0.1 1.3 0.3 1.3-0.2 1.3 0.1 1.3 0.3 1.3-0.3 1.3-0.3 1.3 0.2 1.2-0.3 1.3-0.1 1.3 0.7 1.3 0.4 1.3-0.2 1.3-0.3 1.3-0.6 1.3-0.4 1.3-0.1 1.3 0.5 1.3 0.5 1.3 0.4"/>
<path d="M580.6 624.5l1.2-0.3 1.3-1.4 1.3-1 1.3-1.1 1.3-0.4 1.3 0.6 1.3 0.1 1.3-0.7 1.3-1 1.3-1.2 1.3 0.6 1.2 0.9 1.3-1.3 1.3-0.6 1.3 0.9 1.3-1.5 1.3-1.1 1.3-0.7 1.3-1.6 1.3-1.5 1.3-0.2 1.3 1.2 1.3 2 1.2-1.9 1.3-2.1 1.3 0.3 1.3-0.3 1.3-1.4 1.3-1.5 1.3 0 1.3 0.8 1.3-2 1.3-1.3 1.3 1.6 1.3 0.6 1.2-0.8 1.3-0.8 1.3-1.4 1.3-0.9 1.3 0.1 1.3-0.2 1.3-1.1 1.3-0.7 1.3-0.3 1.3-0.4 1.3-1.2 1.3-0.7 1.2 1.2 1.3 0.8 1.3-2.7 1.3-2.9 1.3 0.3 1.3 0.8 1.3 0.2 1.3-1.4 1.3-1.5 1.3-1.6 1.3-0.6 1.2 0.5 1.3 1.3 1.3-0.4 1.3-2.3 1.3-1 1.3 0.4 1.3-0.7 1.3-1.9 1.3-1.3 1.3 0 1.3 0 1.3-0.5 1.2-2.4 1.3-0.4 1.3 2.4 1.3 1.8 1.3 0.8 1.3-2.4 1.3-2.9 1.3-2.2 1.3 0.9 1.3 2.1 1.3 0.1 1.3-0.3 1.2 1.6 1.3-1.5 1.3-1.9 1.3 0.9 1.3 0.5 1.3-1.6 1.3-0.9 1.3 0.7 1.3 0.1 1.3-0.1 1.3 0.4 1.3-0.3 1.2 0.5 1.3 1 1.3 0.2 1.3 1.2 1.3 0.1 1.3-0.2 1.3 1.2 1.3-0.2 1.3-1.8 1.3-0.1 1.3 0 1.2-2.7 1.3-1 1.3 0.8 1.3-1 1.3 1.7 1.3 1.6 1.3-1.2 1.3-0.2 1.3 0.7 1.3 1.1 1.3 2.9 1.3 1.8 1.2 0 1.3-1 1.3-1.4 1.3-0.9 1.3-2 1.3-3.2 1.3-1.9 1.3-0.6 1.3 0.8 1.3 1 1.3 1.1 1.3 0.1 1.2-1.8 1.3-0.9 1.3 2 1.3 2.4 1.3 2.1 1.3 0.1 1.3-1.1 1.3 2.3 1.3 4.1 1.3 2.3 1.3 1 1.3 1.4 1.2 2 1.3 1.8 1.3 2.1 1.3 1.1 1.3-0.7 1.3-0.8 1.3 0.7 1.3 1.6 1.3 2 1.3 1.1 1.3-0.1 1.2 0.2 1.3 0.5 1.3 0.9 1.3 1.7 1.3 0.5 1.3-0.6 1.3 0.7 1.3 0.5 1.3-0.1 1.3 1 1.3 1.9 1.3 1.8 1.2 1 1.3-0.4 1.3 0 1.3 0.4 1.3-0.4 1.3-0.5 1.3-0.1 1.3 0.4 1.3 1.3 1.3 1.1 1.3 0.9 1.3 0.1 1.2-0.3 1.3 0.7 1.3 1.5 1.3 0.5 1.3 0.8 1.3 1.4 1.3 0.4 1.3-0.4 1.3 0.6 1.3 0.5 1.3 0.4 1.3 0.9 1.2 0.2 1.3-0.3 1.3 0.5 1.3 1.6 1.3 0.9 1.3 0.2 1.3 0.2 1.3 0.2 1.3-0.1 1.3 0.2 1.3 0.9 1.3 1 1.2 0.8 1.3-0.1 1.3-0.4 1.3 0.3 1.3 1 1.3 0.7 1.3-1.5 1.3-2.3 1.3 2.8 1.3 1.7 1.3-0.3 1.2-0.4 1.3 0.6 1.3 1 1.3 1.3 1.3 1.5 1.3-0.2 1.3-0.9 1.3 0.1 1.3 0.5 1.3-0.4 1.3-0.1 1.3 1.3 1.2 0.9 1.3 0.6 1.3 0 1.3-0.3 1.3 0.7 1.3 1 1.3-0.6 1.3-0.7 1.3 0.5 1.3 0.7 1.3 0.4 1.3 0.7 1.2-0.4 1.3-0.8 1.3 0.5 1.3 0.7 1.3 0.1 1.3 0.3 1.3 0.1 1.3 0 1.3 0.1 1.3 0.6 1.3 0.3 1.3-0.2 1.2 0 1.3-0.4 1.3-0.6 1.3-0.3 1.3 0.4 1.3 0.7 1.3 0.1 1.3-0.4 1.3 0.5 1.3 0.4 1.3 0 1.2 0.2 1.3-0.1 1.3-0.5 1.3 0.1 1.3 0.3 1.3 0.4 1.3 0.5 1.3-0.3 1.3-0.2 1.3 0.3 1.3-0.1 1.3 0.1 1.2-0.1 1.3 0 1.3 0.5 1.3 0.6 1.3 0.1 1.3 0 1.3-0.1 1.3 0 1.3-0.1 1.3-0.2 1.3 0 1.3 0.3 1.2 0.4 1.3 0 1.3-0.1 1.3 0.1 1.3 0.1 1.3 0.1 1.3-0.1 1.3-0.4 1.3-0.1 1.3 0.2 1.3 0.7 1.3 0.6 1.2-0.5 1.3-0.8 1.3 0 1.3 0.5 1.3-0.6 1.3-0.3"/>
<path d="M583.2 618.9l1.3-0.8 1.3-0.5 1.3 0.5 1.3-0.4 1.3-1.4 1.2-1.2 1.3-1.5 1.3-2.5 1.3 1.2 1.3 1.4 1.3 1.8 1.3 0.7 1.3-2.6 1.3-1.3 1.3 0.7 1.3-1 1.3-0.5 1.2-1.2 1.3-2 1.3-0.6 1.3 0.8 1.3 0.3 1.3 1 1.3-0.6 1.3-1.4 1.3-1.5 1.3-2.6 1.3-1 1.3 1.9 1.2 0.6 1.3-2.2 1.3-2.2 1.3-1 1.3 0.2 1.3 0.7 1.3-0.1 1.3-1 1.3-0.4 1.3 0.3 1.3-0.7 1.3-0.3 1.2-0.1 1.3-1.1 1.3-0.9 1.3 0.3 1.3-0.5 1.3-2.3 1.3 0.9 1.3 2 1.3-3 1.3-3.5 1.3-1 1.2 0.5 1.3 0.8 1.3-0.9 1.3 0.2 1.3-1 1.3-1 1.3 1.2 1.3 1.2 1.3-1 1.3-0.9 1.3-1.5 1.3-2.9 1.2-1.3 1.3 0.6 1.3-0.7 1.3-1.6 1.3-0.7 1.3 1.3 1.3 2.4 1.3-0.1 1.3-1.7 1.3-0.2 1.3 1.1 1.3 0.9 1.2-2.6 1.3-3.4 1.3 2.9 1.3 0.8 1.3-2.6 1.3-0.3 1.3 0.9 1.3-1.6 1.3-1.4 1.3-0.8 1.3-0.2 1.3 1.6 1.2 2.2 1.3-1 1.3-2.2 1.3 0.4 1.3 1.4 1.3 0.4 1.3-0.6 1.3-0.9 1.3-0.4 1.3 0.2 1.3-0.6 1.3-0.4 1.2 0.2 1.3 1.4 1.3 1.9 1.3-0.7 1.3-1.3 1.3 0.7 1.3 1.2 1.3 0.4 1.3-0.9 1.3-0.4 1.3-0.1 1.2 0.6 1.3 0.8 1.3-0.6 1.3-2.6 1.3 1.5 1.3 2.4 1.3 0.9 1.3 0.8 1.3 1.1 1.3-2.4 1.3-4.7 1.3-2 1.2 0.6 1.3 0.3 1.3-0.9 1.3-1 1.3 0.1 1.3 0.1 1.3 0 1.3 0.5 1.3 2.4 1.3 3.1 1.3 0.6 1.3-0.2 1.2 1 1.3 1.2 1.3 2.6 1.3 3.5 1.3 1.2 1.3-0.2 1.3 2.9 1.3 3.3 1.3 0 1.3-1.6 1.3-1 1.3 1 1.2 2.1 1.3 1.4 1.3 1.3 1.3 1.8 1.3 1.8 1.3 0.7 1.3-0.2 1.3 0.5 1.3 1.3 1.3-0.4 1.3-1.4 1.2 0.9 1.3 1.1 1.3 1.2 1.3 1.3 1.3 0.6 1.3 0 1.3 0.4 1.3 1.4 1.3 1.3 1.3-0.2 1.3-0.9 1.3-0.2 1.2 1.1 1.3 0.7 1.3 0.6 1.3 0.5 1.3 0.8 1.3 0.2 1.3-0.4 1.3 0.1 1.3 1.2 1.3 0.9 1.3 0.7 1.3 1.3 1.2 1.1 1.3 1 1.3 0.4 1.3-0.9 1.3-0.1 1.3 1.2 1.3 0.9 1.3-0.1 1.3-0.3 1.3 0.6 1.3 0.5 1.3 0.6 1.2 0.8 1.3 0.6 1.3-0.2 1.3-0.8 1.3 0.4 1.3 1.7 1.3 2 1.3 1.1 1.3-1.1 1.3-0.8 1.3 0.7 1.2 1 1.3 0.2 1.3 0.3 1.3 1.1 1.3 0.6 1.3-0.8 1.3-0.3 1.3 0.3 1.3 0.7 1.3 0.9 1.3 0.2 1.3 0.3 1.2 0.3 1.3-0.3 1.3-0.3 1.3 0.9 1.3 1 1.3 0 1.3-0.2 1.3 0.2 1.3 0.1 1.3 0.4 1.3 0.9 1.3 0.4 1.2-0.3 1.3 0.7 1.3 0.4 1.3-0.2 1.3 0 1.3 0.8 1.3 0.1 1.3-0.6 1.3 0.3 1.3 0.5 1.3-0.5 1.3 0 1.2 0.8 1.3 0.2 1.3-0.5 1.3 0 1.3 0.5 1.3 0.4 1.3 0.1 1.3-0.4 1.3-0.4 1.3 0.1 1.3 0.3 1.2 0 1.3 0.5 1.3 0.8 1.3 0.7 1.3 0.1 1.3-0.6 1.3-0.7 1.3-0.1 1.3 0.5 1.3 0.7 1.3 0.4 1.3 0.3 1.2 0 1.3-0.4 1.3-0.2 1.3 0.1 1.3-0.1 1.3 0 1.3 0 1.3 0.3 1.3 0.3 1.3 0.3 1.3-0.3 1.3-0.5 1.2 0.6 1.3 0.9 1.3-0.3 1.3-0.3 1.3-0.1 1.3 0 1.3-0.1 1.3-0.1 1.3 0.1 1.3 0.2 1.3-0.1 1.3-0.1 1.2 0.6 1.3 0 1.3-0.5 1.3 0 1.3 0.6 1.3 0.6 1.3 0 1.3-0.6 1.3-0.6 1.3-0.1 1.3 0.2 1.3 0.2"/>
<path d="M585.9 613.6l1.3-0.1 1.3 0.2 1.3-0.8 1.3-2.1 1.3-0.7 1.3 0.9 1.3 0.1 1.3-1.2 1.3-0.6 1.3 0.1 1.3 1 1.2 0.2 1.3-1.6 1.3-0.7 1.3-0.4 1.3-1.9 1.3-0.2 1.3-0.5 1.3-1.8 1.3-0.4 1.3 1.6 1.3 0.6 1.3 1.1 1.2-0.5 1.3-2 1.3-1.1 1.3-1.1 1.3-1.7 1.3-1.5 1.3-0.1 1.3 0.5 1.3-1.7 1.3-1.1 1.3 0.7 1.3-0.7 1.2-1.8 1.3-0.4 1.3 0 1.3 0.5 1.3 0.2 1.3-0.9 1.3-0.2 1.3 0.1 1.3-1.5 1.3-1.7 1.3-0.2 1.3 0.2 1.2 0.9 1.3 0.2 1.3-2.2 1.3-2.2 1.3-0.8 1.3 0.3 1.3 0.1 1.3-1.5 1.3-1.3 1.3-1.2 1.3 0.4 1.2 1.7 1.3 0.2 1.3-1.5 1.3-0.7 1.3-0.2 1.3-0.7 1.3-1.9 1.3-1.5 1.3-0.5 1.3-0.3 1.3-0.9 1.3-0.2 1.2 0.1 1.3 0.4 1.3-0.4 1.3 0.8 1.3 1.6 1.3-1.4 1.3-1.9 1.3-1.4 1.3 0.5 1.3 0.3 1.3-0.5 1.3-0.9 1.2-0.9 1.3-0.4 1.3-0.6 1.3-0.4 1.3 2.3 1.3 0.8 1.3-0.1 1.3 0.4 1.3-1.6 1.3 0 1.3 0.4 1.3-1.3 1.2 0.6 1.3 1.1 1.3 0.3 1.3 0.9 1.3-0.9 1.3-0.6 1.3 0.7 1.3-0.1 1.3-1.9 1.3-0.3 1.3 1.2 1.2-0.4 1.3-1.3 1.3-0.3 1.3 1.3 1.3 1.2 1.3 0.3 1.3 0.6 1.3 1 1.3 1.2 1.3-0.7 1.3-0.9 1.3 0.1 1.2 0.1 1.3-1.5 1.3-1.7 1.3-0.1 1.3-1.5 1.3-3.3 1.3-1.2 1.3 0 1.3 0.3 1.3 0.7 1.3 0.4 1.3-0.4 1.2 0.1 1.3 1.5 1.3 2.8 1.3 2.8 1.3 0.6 1.3-2 1.3-0.5 1.3 3.5 1.3 3.4 1.3 1.7 1.3 1.5 1.3 0.9 1.2 1.7 1.3 2.7 1.3 0.6 1.3-0.6 1.3 1 1.3 1.3 1.3 1.1 1.3 1 1.3 0.4 1.3-0.4 1.3 0.3 1.2 2 1.3 1.9 1.3 1 1.3 1.1 1.3 0.7 1.3 0.3 1.3-0.2 1.3-1.5 1.3 0 1.3 1.5 1.3 1.9 1.3 2.1 1.2 1.2 1.3-0.2 1.3-0.1 1.3 0.2 1.3 0.7 1.3 0.2 1.3 0.5 1.3 0.5 1.3-0.7 1.3 0.1 1.3 1.3 1.3 1.1 1.2 1.4 1.3 0.6 1.3 0.1 1.3 0.2 1.3 0.9 1.3 0.4 1.3 0.1 1.3 0.6 1.3 0.4 1.3 0.6 1.3 0.7 1.3 0.5 1.2 0 1.3 0.4 1.3 0.6 1.3 1.2 1.3 0.8 1.3-0.5 1.3-0.1 1.3 0.8 1.3 0.3 1.3 0.1 1.3 0.8 1.3 0.9 1.2 0.7 1.3 0.4 1.3-0.4 1.3-0.3 1.3 0.6 1.3 1 1.3 0.4 1.3 0.1 1.3 0.4 1.3 0.2 1.3 0.2 1.2 0.7 1.3 0 1.3-0.1 1.3 0.9 1.3 0.4 1.3 0.3 1.3 0.9 1.3 0.2 1.3-0.4 1.3 0.2 1.3 0.4 1.3 0.8 1.2 0.5 1.3 0.4 1.3 0.4 1.3-0.5 1.3-0.5 1.3 0.4 1.3 0.1 1.3 0.5 1.3 0.4 1.3 0.2 1.3 0.1 1.3 0.1 1.2-0.1 1.3 0.2 1.3 0.1 1.3-0.2 1.3 0.4 1.3 0.8 1.3 0.2 1.3-0.4 1.3-0.4 1.3-0.2 1.3 0.2 1.3 0.6 1.2 0.3 1.3 0 1.3-0.4 1.3-0.3 1.3 0.4 1.3 0.8 1.3 0.6 1.3-0.2 1.3 0.2 1.3 0.5 1.3-0.1 1.2-0.3 1.3 0.1 1.3 0.1 1.3-0.1 1.3 0.1 1.3 0.5 1.3 0.3 1.3 0.2 1.3 0 1.3-0.6 1.3-0.4 1.3 0.4 1.2 0.2 1.3 0 1.3 0.1 1.3 0.2 1.3-0.3 1.3 0.4 1.3 0.7 1.3 0 1.3-0.3 1.3 0.1 1.3 0.4 1.3 0.2 1.2-0.7 1.3-0.8 1.3 0.3 1.3 0.8 1.3 0.1 1.3 0.3 1.3 0.5 1.3 0 1.3-0.1 1.3 0 1.3 0.1 1.3-0.1 1.2-0.4 1.3 0.1 1.3-0.2 1.3-0.3 1.3 0.2 1.3 0.6"/>
<path d="M588.5 608.9l1.3 0.3 1.3-0.6 1.3-0.7 1.3-0.8 1.3-1.5 1.2-0.7 1.3 0.4 1.3-0.4 1.3-0.9 1.3 0.3 1.3 1.9 1.3 0.7 1.3-2.4 1.3-1.9 1.3 0.3 1.3 0 1.3 0.4 1.2-1.5 1.3-2.6 1.3-1.5 1.3-0.1 1.3-0.4 1.3 0.8 1.3-0.2 1.3-1.4 1.3-1.6 1.3-0.9 1.3 0 1.3 0.3 1.2 0.3 1.3-0.9 1.3-1.5 1.3-0.1 1.3-0.7 1.3-0.8 1.3 0.4 1.3 0.7 1.3-0.7 1.3-1.5 1.3 0 1.3-0.6 1.2-1.9 1.3-0.4 1.3-0.6 1.3-0.7 1.3-0.1 1.3 0.2 1.3 1.3 1.3-0.7 1.3-2.7 1.3-0.5 1.3 0.2 1.2-0.4 1.3 0.5 1.3-0.4 1.3 0 1.3-0.5 1.3-2.6 1.3-1 1.3 1.7 1.3 0.2 1.3-2.9 1.3-2.3 1.3 0 1.2 0.2 1.3 0.6 1.3-1.3 1.3-1.6 1.3 0.9 1.3 1.7 1.3-0.5 1.3-1.5 1.3-1.4 1.3-0.6 1.3 0 1.3 0.3 1.2 0.7 1.3-3 1.3-1 1.3 1.7 1.3 0.6 1.3-1.4 1.3-1.5 1.3-0.1 1.3 1.1 1.3-0.1 1.3 0.2 1.3 0 1.2-0.2 1.3-0.2 1.3-1.1 1.3 0.2 1.3 1.5 1.3-0.7 1.3-1.8 1.3-1 1.3-0.1 1.3 2.5 1.3 1.1 1.3-0.6 1.2-0.9 1.3 0.6 1.3 1.5 1.3 0.5 1.3-1.1 1.3-1.3 1.3-0.4 1.3 0.1 1.3 0.8 1.3 0.9 1.3 1 1.2 1 1.3 1.3 1.3 0.9 1.3-1.5 1.3-0.4 1.3 0.5 1.3-1 1.3-2.5 1.3-0.9 1.3-5.1 1.3-2 1.3 0 1.2-1.4 1.3-0.4 1.3 0.2 1.3 0.4 1.3 1.2 1.3 0.5 1.3 0.5 1.3 1.4 1.3 1.7 1.3 1 1.3-0.2 1.3 1.5 1.2 2.5 1.3 2 1.3 2.3 1.3 3.2 1.3 1.8 1.3-0.8 1.3 1 1.3 2.1 1.3 0.9 1.3 1.1 1.3 1.9 1.3 0.6 1.2-0.3 1.3 1.4 1.3 1.8 1.3 0.8 1.3 0.4 1.3 0.4 1.3 0.5 1.3 1 1.3 1.9 1.3 0.6 1.3-1.3 1.2-0.1 1.3 2.1 1.3 1.7 1.3 0.4 1.3 1 1.3 0.8 1.3 0 1.3 1.1 1.3 1 1.3-0.6 1.3 0.1 1.3 0.6 1.2 0.7 1.3-0.2 1.3-0.5 1.3 0.4 1.3 2.3 1.3 1.9 1.3-0.8 1.3-0.8 1.3 0.3 1.3 1.4 1.3 2.3 1.3 1.1 1.2-0.6 1.3-1.4 1.3-0.2 1.3 1 1.3 1.1 1.3 1.2 1.3 0.9 1.3 0.9 1.3-0.2 1.3-1 1.3-1.4 1.3 1.5 1.2 3 1.3-0.4 1.3-1.2 1.3 1.4 1.3 2 1.3 0.2 1.3-0.1 1.3 0.9 1.3 0 1.3-0.7 1.3 0.2 1.2 0.5 1.3 0 1.3 1.3 1.3 1.4 1.3-0.2 1.3-0.4 1.3 0.3 1.3-0.2 1.3 0.1 1.3 0.8 1.3 0.9 1.3 0.2 1.2 0.1 1.3 0.3 1.3 0.3 1.3 0.6 1.3 0.4 1.3-0.6 1.3 0.4 1.3 1.1 1.3-0.3 1.3-0.1 1.3 0.4 1.3 0.5 1.2 0.4 1.3 0 1.3 0 1.3 0.2 1.3 0.1 1.3 0.5 1.3-0.4 1.3-0.8 1.3 0.4 1.3 0.9 1.3 0.3 1.3 0.1 1.2 0.5 1.3-0.1 1.3-1 1.3-0.1 1.3 1.1 1.3 1 1.3-0.2 1.3-0.5 1.3-0.2 1.3 0.2 1.3 1 1.2 0.3 1.3-0.4 1.3-0.2 1.3 0 1.3-0.1 1.3 0 1.3-0.6 1.3-0.6 1.3-0.3 1.3 0.3 1.3 1.3 1.3 1.2 1.2-0.1 1.3 0 1.3 0.8 1.3 0.6 1.3-0.5 1.3-0.8 1.3-0.8 1.3 0.4 1.3 0.6 1.3 0.1 1.3-0.1 1.3 0.3 1.2 0.3 1.3 0.1 1.3-0.1 1.3-0.2 1.3-0.1 1.3 0.3 1.3-0.1 1.3-0.3 1.3 0.1 1.3 0.1 1.3 0 1.3 0.7 1.2 0.8 1.3-0.3 1.3-0.6 1.3 0.3 1.3 0.4 1.3 0 1.3-0.6 1.3-0.5 1.3-0.4 1.3 0 1.3 0.3 1.3 0.5"/>
<path d="M591.1 604.6l1.2-0.6 1.3-1.4 1.3-0.4 1.3 0.1 1.3-0.5 1.3-1.1 1.3-0.5 1.3-0.1 1.3-0.3 1.3 0 1.3 1.2 1.2 0.5 1.3-2.6 1.3-1.8 1.3-0.4 1.3-1 1.3 0.1 1.3-0.2 1.3-0.9 1.3-2.1 1.3-0.5 1.3 1.2 1.3 1.5 1.2-0.2 1.3-1.2 1.3-1.5 1.3-1.3 1.3-0.2 1.3-1.4 1.3-2.1 1.3-0.5 1.3 0.1 1.3 0.7 1.3 0.3 1.3-1.3 1.2-1.7 1.3-0.6 1.3-0.2 1.3-0.4 1.3-0.4 1.3 0 1.3 0.3 1.3 1.2 1.3-0.2 1.3-1.9 1.3-1.3 1.3-0.8 1.2-0.2 1.3 0 1.3-1.4 1.3-1.2 1.3-0.5 1.3-0.3 1.3 1.3 1.3 0.3 1.3-2.1 1.3-2.3 1.3-0.5 1.2-0.2 1.3-0.7 1.3 0 1.3 0.9 1.3 0.6 1.3 0.2 1.3-1.9 1.3-2.6 1.3-1.6 1.3 0.3 1.3 1.1 1.3 0.3 1.2-0.9 1.3-0.1 1.3 0.3 1.3 0.7 1.3 0.3 1.3-2.6 1.3-2.1 1.3-0.7 1.3 1 1.3 0.2 1.3-1.2 1.3-1.6 1.2-0.1 1.3 0.7 1.3 1.1 1.3 0.7 1.3 0 1.3-1 1.3-0.6 1.3 0.4 1.3 0.9 1.3-0.8 1.3-2 1.3 0.6 1.2 1 1.3-0.5 1.3-0.2 1.3 1.4 1.3 1.6 1.3 1.4 1.3-0.4 1.3-1.2 1.3-1.2 1.3-0.7 1.3 0.3 1.2 0.6 1.3 0.4 1.3 0.1 1.3-0.1 1.3-1.2 1.3 0.5 1.3 1.9 1.3-1.1 1.3-0.6 1.3 0.8 1.3 0.2 1.3 0.4 1.2 0.1 1.3-2.4 1.3-4.2 1.3-2.4 1.3-0.2 1.3-1.5 1.3-1.9 1.3-0.4 1.3 0.2 1.3 0.6 1.3 2.2 1.3 0.9 1.2 0.1 1.3 1 1.3 0.2 1.3 1.6 1.3 2.4 1.3 0.1 1.3-0.5 1.3 1.2 1.3 3 1.3 3.4 1.3 2.8 1.3 1.5 1.2 0.6 1.3 1.8 1.3 1.2 1.3 0.9 1.3 1.6 1.3 0 1.3-0.3 1.3 0.6 1.3 0.9 1.3 0.5 1.3 1.2 1.2 1.9 1.3 1.1 1.3 2.3 1.3 1.1 1.3-1.3 1.3 0.2 1.3 1.2 1.3 0 1.3 1.3 1.3 1.4 1.3-0.2 1.3 0.1 1.2 0.6 1.3 0.4 1.3 1.5 1.3 1.3 1.3-0.3 1.3-1.3 1.3 0.5 1.3 1.4 1.3 0.8 1.3-0.6 1.3-0.1 1.3 1 1.2 1.3 1.3 0 1.3 0.9 1.3 2.8 1.3 1.1 1.3 0.1 1.3 0.5 1.3-0.9 1.3-0.5 1.3 1.5 1.3 1.9 1.3 0.6 1.2-0.7 1.3-0.7 1.3 0.3 1.3 0.8 1.3 0.3 1.3 1 1.3 0.8 1.3-0.3 1.3-0.2 1.3 0.7 1.3 1.3 1.3 0.5 1.2 0.4 1.3 1.1 1.3 0.2 1.3-0.4 1.3-0.3 1.3 0.3 1.3 0.8 1.3 0.8 1.3 0.6 1.3-0.3 1.3-0.1 1.2 0.2 1.3 0 1.3 0.8 1.3 1 1.3 0 1.3 0 1.3 0.2 1.3 0.3 1.3 0.5 1.3 0.3 1.3 0.6 1.3 0.8 1.2-0.4 1.3-0.5 1.3 0.3 1.3 0.6 1.3 0.4 1.3 0.2 1.3 0.3 1.3 0.6 1.3 0.3 1.3-0.1 1.3 0.2 1.3 0.2 1.2-0.5 1.3-0.1 1.3 0.2 1.3 0.2 1.3 0.7 1.3 0 1.3-0.7 1.3 0 1.3-0.1 1.3 0.5 1.3 1 1.3 0.1 1.2-0.2 1.3 0 1.3-0.6 1.3-0.3 1.3 0.7 1.3 0.5 1.3 0.4 1.3 0.3 1.3 0.1 1.3 0 1.3 0.4 1.2 0 1.3-0.4 1.3-0.5 1.3-0.3 1.3 0 1.3 0.6 1.3 0.8 1.3 0.1 1.3-0.2 1.3 0.2 1.3-0.3 1.3-0.2 1.2 0.3 1.3 0.6 1.3-0.1 1.3-0.3 1.3 0.2 1.3 0.7 1.3 0 1.3-0.1 1.3 0.2 1.3-0.4 1.3-0.6 1.3 0.7 1.2 1 1.3-0.2 1.3-0.6 1.3 0.1 1.3-0.3 1.3-0.3 1.3 0.5 1.3 0.3 1.3-0.1 1.3 0.1 1.3 0.1 1.3-0.2 1.2-0.7 1.3-0.2 1.3 0.2 1.3 0.2 1.3 0.5 1.3 0.8"/>
<path d="M593.8 599.3l1.3-0.3 1.3-1.6 1.3-0.5 1.3 0.2 1.3-0.3 1.2 0.3 1.3-0.7 1.3-1.5 1.3-0.4 1.3 0 1.3 0.4 1.3-0.3 1.3-1.8 1.3-0.5 1.3 1.2 1.3-0.5 1.3-1.1 1.2-1.3 1.3-1.1 1.3 0.1 1.3 1.5 1.3 0 1.3-0.1 1.3-1.2 1.3-1.4 1.3-0.7 1.3-1.6 1.3-2.3 1.3-1.1 1.2 0.8 1.3 0.2 1.3-1.3 1.3-0.4 1.3 0 1.3-0.2 1.3-0.9 1.3-1.1 1.3 0 1.3 0.8 1.3-0.3 1.3-1.5 1.2-1.4 1.3-0.9 1.3-0.5 1.3 0.6 1.3 0 1.3-0.9 1.3 0.2 1.3-0.3 1.3-2.1 1.3-2 1.3 0.4 1.2 2.3 1.3 1.5 1.3-1.8 1.3-1.9 1.3-0.9 1.3-0.9 1.3-0.3 1.3-1.1 1.3-2.3 1.3 0.1 1.3 1.5 1.3-0.2 1.2-1.7 1.3-1.1 1.3-0.8 1.3-0.5 1.3-0.2 1.3 0.5 1.3-0.4 1.3-0.9 1.3-0.3 1.3 1.4 1.3 1.8 1.3-1.6 1.2-1.9 1.3-0.4 1.3 2.3 1.3 1.1 1.3-2.9 1.3-3.1 1.3-0.8 1.3-0.6 1.3 0.7 1.3 0.9 1.3 0.9 1.3 1 1.2-0.5 1.3-1 1.3 0.2 1.3-0.4 1.3-0.4 1.3 1.8 1.3 1 1.3-0.5 1.3-0.1 1.3 1.8 1.3 0.3 1.3-2 1.2 0.1 1.3 1.2 1.3-0.9 1.3-1.2 1.3 0 1.3 0.4 1.3-0.5 1.3-1.1 1.3 1.2 1.3 2.1 1.3 0.1 1.2 0.1 1.3 0 1.3-1.2 1.3 0 1.3 1.5 1.3 0.5 1.3-0.3 1.3-1.6 1.3-2.7 1.3-3.9 1.3-4.1 1.3-1.5 1.2-1.5 1.3-2.3 1.3 0.2 1.3 1.5 1.3 1.7 1.3 1.3 1.3 0.2 1.3 0.9 1.3 2.2 1.3 0.1 1.3-1.3 1.3 1.1 1.2 2.4 1.3 2.5 1.3 2.8 1.3 3.3 1.3 2.5 1.3 1.5 1.3 2.2 1.3 1.1 1.3 0.6 1.3 0.9 1.3 0.1 1.3 0.7 1.2 1.9 1.3 0.8 1.3 0.3 1.3 0.4 1.3 0.3 1.3 1 1.3 1.5 1.3 1.3 1.3 1.4 1.3 1.1 1.3 0.1 1.2 0 1.3 0.4 1.3 1.9 1.3 0.5 1.3-0.4 1.3 0.9 1.3-0.1 1.3 0.3 1.3 2.2 1.3 0.7 1.3 0.2 1.3 0.1 1.2 0.1 1.3-0.7 1.3-0.3 1.3 1.1 1.3 1.4 1.3 1.9 1.3 1 1.3-0.8 1.3 0.8 1.3 1.5 1.3 0.9 1.3 0.7 1.2 0 1.3-0.5 1.3-0.3 1.3 0.6 1.3-0.1 1.3-1.5 1.3 2.6 1.3 1.5 1.3-0.4 1.3 0.5 1.3 1.1 1.3 0.7 1.2 0.8 1.3 0 1.3 0.3 1.3 0.9 1.3 0.2 1.3 0.3 1.3 0.8 1.3 0.3 1.3 0.1 1.3 0.3 1.3 0.3 1.2 0.6 1.3-0.8 1.3-0.9 1.3 1.2 1.3 1.7 1.3 0.5 1.3 0.3 1.3 0.2 1.3-0.5 1.3-0.1 1.3 1 1.3 0.9 1.2 0 1.3 0.4 1.3 0.4 1.3-0.1 1.3 0.2 1.3 0.3 1.3 0.1 1.3 0.5 1.3-0.4 1.3-0.1 1.3 0.4 1.3 0.4 1.2 0.4 1.3 0.4 1.3 0.2 1.3 0.4 1.3 0.2 1.3-0.4 1.3-0.7 1.3-0.2 1.3 0 1.3 0.7 1.3 1.2 1.3 0.6 1.2 0 1.3-0.2 1.3-0.3 1.3-0.2 1.3 0 1.3 0.3 1.3 0.3 1.3 0 1.3 0.1 1.3-0.1 1.3 0.1 1.2 0.5 1.3 0.5 1.3 0.4 1.3 0.2 1.3 0.1 1.3-0.4 1.3-0.8 1.3 0 1.3 0.1 1.3-0.1 1.3 0 1.3 0.4 1.2 0.3 1.3 0 1.3 0.8 1.3 1.3 1.3-0.5 1.3-0.6 1.3 0.2 1.3 0 1.3-0.3 1.3-0.2 1.3 0.1 1.3 1 1.2 0.7 1.3-0.1 1.3-0.5 1.3-0.1 1.3 0 1.3 0.1 1.3 0 1.3-0.3 1.3 0 1.3 0.2 1.3 0 1.3 0 1.2 0 1.3-0.1 1.3 0.1 1.3 0.3 1.3 0.1 1.3 0 1.3-0.4 1.3-0.5 1.3 0 1.3 0.5 1.3-0.1 1.3 0.2"/>
<path d="M596.5 592.6l1.3-0.5 1.3 0.1 1.3-0.1 1.3-0.2 1.3-0.2 1.3 0 1.3-0.3 1.3-1.8 1.3-0.6 1.3 1.1 1.3 1.1 1.2-0.5 1.3-3.1 1.3-0.9 1.3 0.9 1.3-1.2 1.3-0.5 1.3-0.4 1.3-1.3 1.3-1.1 1.3 1.8 1.3 1.2 1.3-1 1.2-1.2 1.3-0.7 1.3-1.9 1.3-2.2 1.3-0.4 1.3 1.1 1.3 1.4 1.3-0.2 1.3-1.7 1.3-1.1 1.3-1.6 1.3-0.9 1.2 0.5 1.3 0.5 1.3-0.5 1.3-0.7 1.3-1.1 1.3-1.4 1.3 0.6 1.3 0.8 1.3-0.8 1.3-0.8 1.3-0.7 1.3-0.1 1.2-0.1 1.3-0.2 1.3-0.3 1.3-1.7 1.3-2.1 1.3-0.8 1.3 0.4 1.3 0.1 1.3-0.5 1.3-2.6 1.3-2.3 1.2 1.2 1.3 1.7 1.3-0.6 1.3 0.5 1.3-3.2 1.3-5.7 1.3 3.3 1.3 2.1 1.3-1.1 1.3-0.1 1.3-0.4 1.3-0.4 1.2 0.6 1.3 1 1.3 0.2 1.3 0.7 1.3-0.1 1.3-2.8 1.3-2.4 1.3-2.1 1.3 0.1 1.3 1.2 1.3-0.3 1.3-0.9 1.2-0.3 1.3 0.1 1.3 1.3 1.3-0.3 1.3-0.1 1.3-0.5 1.3-1.5 1.3 1 1.3 1.9 1.3 0.6 1.3-0.6 1.3 0.4 1.2 1.6 1.3-0.1 1.3-0.7 1.3-0.3 1.3-0.4 1.3 1.4 1.3 0.4 1.3-2.4 1.3-1.4 1.3-0.1 1.3 0.1 1.2 0.9 1.3 0.5 1.3-0.2 1.3 0.6 1.3-0.3 1.3-0.5 1.3 2 1.3 2 1.3 0.4 1.3-1.3 1.3-1 1.3-0.7 1.2-0.3 1.3-2.1 1.3-5.3 1.3-4.8 1.3-2.2 1.3-1.6 1.3 0.1 1.3 0.4 1.3-0.2 1.3 1.2 1.3 1.1 1.3-0.5 1.2-0.2 1.3 1.2 1.3 1.7 1.3 2.1 1.3 2.1 1.3 1.8 1.3 2 1.3 2.2 1.3 2 1.3 2.2 1.3 2.5 1.3 2.1 1.2 2.2 1.3 1.6 1.3 0.9 1.3 0.3 1.3 1.1 1.3 1.7 1.3 0.3 1.3-0.5 1.3 0.6 1.3 0.9 1.3 1.4 1.2 1.4 1.3 0.1 1.3 0.8 1.3 2 1.3 0.5 1.3-0.3 1.3 1 1.3 1.4 1.3 1.2 1.3-0.1 1.3-0.3 1.3 1.2 1.2 0.6 1.3-0.6 1.3 0 1.3 0.3 1.3 0.6 1.3 0.2 1.3 0.1 1.3 1 1.3 0.9 1.3 0.2 1.3 0.7 1.3 1.2 1.2 1.1 1.3-0.1 1.3 0 1.3 0.4 1.3 0.5 1.3 1.2 1.3 0.7 1.3 0.2 1.3 0.3 1.3 0.3 1.3 0.4 1.3 0.7 1.2 0.4 1.3 0.4 1.3 0.7 1.3 0.6 1.3 0.5 1.3 0.1 1.3-0.5 1.3 1.2 1.3 1.3 1.3-0.8 1.3-0.2 1.3 1.6 1.2 1.7 1.3 0.1 1.3-1.1 1.3-0.2 1.3 0.8 1.3 0.8 1.3 0.4 1.3 0.1 1.3-0.3 1.3 0.3 1.3 0.7 1.2 0.1 1.3 0.3 1.3 1.1 1.3 1.2 1.3 0.6 1.3-0.7 1.3-1 1.3 0.3 1.3 0.4 1.3 0.4 1.3 1.5 1.3 0.9 1.2-1 1.3-0.5 1.3 0.5 1.3 0.5 1.3 0.6 1.3 0.1 1.3-0.3 1.3 0.8 1.3 0.6 1.3 0.2 1.3-0.1 1.3 0 1.2 0.8 1.3 0.5 1.3-0.4 1.3 0.3 1.3 0.8 1.3-0.5 1.3-0.6 1.3 0.5 1.3-0.1 1.3-0.9 1.3 0.1 1.3 0.7 1.2 0.2 1.3-0.2 1.3-0.6 1.3-0.6 1.3 0.2 1.3 0.9 1.3 0.9 1.3 0.3 1.3 0 1.3 0.1 1.3 0.2 1.2 0.1 1.3-0.3 1.3 0.1 1.3 0.3 1.3 0 1.3 0.1 1.3 0 1.3 0 1.3 0.2 1.3 0.4 1.3 0 1.3-0.1 1.2-0.3 1.3 0.1 1.3 0.2 1.3 0.1 1.3-0.1 1.3 0.1 1.3 0.6 1.3-0.1 1.3-0.3 1.3 0.6 1.3 0.3 1.3-0.1 1.2-0.2 1.3-0.5 1.3-0.3 1.3 0.7 1.3-0.1 1.3-0.6 1.3 0.4 1.3-0.1 1.3-1.4 1.3 1.5 1.3 0.8 1.3-0.2 1.2-0.3 1.3-0.5 1.3 0.1 1.3 0.5 1.3-0.2 1.3 0.3"/>
<path d="M599.1 587.8l1.3 0.2 1.3-0.3 1.3-0.4 1.3-0.3 1.3-0.6 1.2-0.8 1.3-1.1 1.3-0.4 1.3 1.5 1.3 0.3 1.3-0.8 1.3-0.2 1.3-1.3 1.3-1.3 1.3 0.3 1.3-0.2 1.3 0 1.2-0.8 1.3-1.1 1.3-0.7 1.3 0.6 1.3 0 1.3 0.3 1.3-0.2 1.3-1 1.3-0.9 1.3-1.4 1.3-1.4 1.3-0.4 1.2 0.8 1.3 0.5 1.3-2.5 1.3-3 1.3-0.8 1.3 0.5 1.3 0.2 1.3-0.4 1.3-0.2 1.3-0.3 1.3-1.1 1.3-0.5 1.2 0.6 1.3-0.1 1.3-2.1 1.3-0.6 1.3 1.1 1.3 0.2 1.3 0.4 1.3 0.6 1.3-1.3 1.3-0.8 1.3-1.2 1.2-2.1 1.3-0.6 1.3-0.2 1.3 0 1.3-1.3 1.3-1.4 1.3-0.1 1.3 0.3 1.3 0.3 1.3 0.6 1.3-1.8 1.3-1.8 1.2-0.8 1.3-1.1 1.3-1.1 1.3-0.2 1.3 0.9 1.3 0 1.3-1.9 1.3 0.4 1.3 0.4 1.3 0 1.3 1.6 1.3-0.2 1.2-1.3 1.3-2.4 1.3 0.1 1.3 0.1 1.3-1.3 1.3-0.1 1.3-0.4 1.3-1.7 1.3 0.6 1.3 1.5 1.3 2 1.3 0.6 1.2-0.3 1.3-1.6 1.3-3 1.3-1.5 1.3 1.4 1.3 2.8 1.3 0.5 1.3 0 1.3 1 1.3 0.3 1.3-0.2 1.3-0.1 1.2-0.2 1.3 0.6 1.3 0.6 1.3-1.1 1.3-1.4 1.3 0.7 1.3 1.6 1.3-0.7 1.3-1.6 1.3 0.3 1.3 2.7 1.2 2.2 1.3-1.2 1.3-0.5 1.3-0.4 1.3-1.3 1.3-0.7 1.3-0.7 1.3-2.3 1.3-3.4 1.3-2.8 1.3-2.3 1.3-2.8 1.2-1.8 1.3-0.4 1.3 0.9 1.3 0.9 1.3 0.8 1.3 0.8 1.3-0.5 1.3 0.4 1.3 2 1.3 1.3 1.3 0.7 1.3 1.2 1.2 1.9 1.3 2.5 1.3 3.2 1.3 2.8 1.3 3.5 1.3 2 1.3 0.1 1.3 2 1.3 2.5 1.3 1.5 1.3 0.9 1.3-0.4 1.2-0.2 1.3 1.2 1.3 2.8 1.3 1.8 1.3-0.2 1.3-1 1.3-1 1.3 1.2 1.3 3 1.3 1.8 1.3 0.3 1.2-0.1 1.3 0.5 1.3 0 1.3-0.2 1.3 1.1 1.3 0.9 1.3 1.1 1.3 1.4 1.3 1 1.3-0.5 1.3-1.1 1.3 0 1.2 0.4 1.3 0.3 1.3 0.4 1.3-0.1 1.3 0.1 1.3 1 1.3 1.5 1.3 0.5 1.3 0.2 1.3 0.2 1.3 0.2 1.3 1 1.2 1.2 1.3 0.8 1.3 0.3 1.3 1.2 1.3 1.3 1.3 0.3 1.3-0.4 1.3 0.8 1.3 1.1 1.3 0.5 1.3-0.5 1.3-0.3 1.2 0.6 1.3 0.1 1.3-0.4 1.3 0.4 1.3 1.5 1.3 2.2 1.3 0.8 1.3-0.8 1.3 0.2 1.3 0.4 1.3 0 1.2 0.1 1.3 0.3 1.3 0.7 1.3 0.1 1.3 0.3 1.3-0.4 1.3-0.4 1.3 0.5 1.3 0.9 1.3 0.8 1.3 0 1.3 0.3 1.2 0.1 1.3-0.4 1.3 0.4 1.3 0.7 1.3 0.4 1.3 0.1 1.3-0.3 1.3 0.6 1.3 0.4 1.3 0.2 1.3 0.9 1.3 0.9 1.2 0.1 1.3 0.1 1.3 0.3 1.3 0.4 1.3 0.2 1.3-0.5 1.3-0.6 1.3-0.2 1.3 0.4 1.3 0 1.3-0.3 1.3 0.7 1.2 0.7 1.3-0.3 1.3-0.5 1.3 0.7 1.3 0.8 1.3-0.5 1.3-0.6 1.3 0 1.3-0.1 1.3 0.4 1.3 0.9 1.2 0.1 1.3 0.2 1.3 0.7 1.3-0.1 1.3-0.5 1.3 0.1 1.3 0.1 1.3-0.5 1.3-0.2 1.3 0.8 1.3 0.5 1.3-0.1 1.2 0.1 1.3 0.2 1.3 0.3 1.3 0.7 1.3-0.4 1.3-0.7 1.3 0.1 1.3 0.6 1.3 0.2 1.3-0.2 1.3-0.2 1.3 0 1.2 0.3 1.3 0.3 1.3-0.1 1.3-0.4 1.3 0.1 1.3 0.7 1.3 0.4 1.3 0 1.3 0 1.3 0.1 1.3-0.1 1.3 0.2 1.2 0 1.3-0.5 1.3 0.1 1.3 0.4 1.3-0.2 1.3-0.4 1.3-0.7 1.3-0.6 1.3 0.4 1.3 0.8 1.3 0.5 1.3 0.4"/>
<path d="M601.8 583.8l1.2 0.3 1.3-0.7 1.3-1.7 1.3-1.2 1.3 0.2 1.3 0.1 1.3-0.5 1.3-0.1 1.3-0.1 1.3-0.3 1.3 1 1.2 0.4 1.3-1.4 1.3-0.9 1.3-0.1 1.3-1.2 1.3-0.1 1.3-0.2 1.3-1.4 1.3-1.4 1.3 0.5 1.3 0.4 1.3 0.4 1.2-0.6 1.3-1 1.3-0.3 1.3-1.1 1.3-1.3 1.3-0.7 1.3-0.4 1.3-0.2 1.3-1.6 1.3-1.3 1.3 0 1.3 0.3 1.2-1.1 1.3-1.8 1.3 0.2 1.3 0.1 1.3-0.9 1.3 0.3 1.3 0.1 1.3 0.1 1.3 0.2 1.3 0.2 1.3-0.2 1.3-2.5 1.2-1.8 1.3 1.7 1.3-0.3 1.3-2.5 1.3-1.5 1.3-0.5 1.3 2.5 1.3 1.2 1.3-2.6 1.3-2.8 1.3-0.9 1.2 0.1 1.3 0.4 1.3-0.2 1.3-0.3 1.3-0.2 1.3-0.4 1.3-0.9 1.3-0.8 1.3 0.1 1.3-0.6 1.3-1.7 1.3-0.7 1.2-0.1 1.3 1.7 1.3 0.2 1.3-1.1 1.3 1 1.3 0.4 1.3-2.6 1.3-4.1 1.3 1.1 1.3 1.7 1.3-0.6 1.3-1.2 1.2-0.5 1.3 0.4 1.3-0.1 1.3-0.8 1.3 1.1 1.3 0.3 1.3-1.5 1.3 0.2 1.3 2.2 1.3 0.4 1.3-0.9 1.3 0.9 1.2 0.4 1.3-0.6 1.3-0.2 1.3 0.7 1.3-0.6 1.3 0.3 1.3 1.3 1.3 0.5 1.3 1.6 1.3 0 1.3-2.9 1.2-1.5 1.3 1.2 1.3 0.9 1.3-0.6 1.3-0.2 1.3 0.2 1.3 0.3 1.3 0.3 1.3 1.1 1.3 0.6 1.3-0.6 1.3-1.8 1.2-1.6 1.3-2.6 1.3-3.8 1.3-4.1 1.3-4.5 1.3-2.6 1.3 1.1 1.3 1.4 1.3 0 1.3-0.4 1.3-0.2 1.3 0.1 1.2-0.4 1.3 0.6 1.3 2.1 1.3 1.7 1.3 1.8 1.3 1.4 1.3 1.5 1.3 4.3 1.3 4.1 1.3 2 1.3 1.8 1.3 0.9 1.2 1.1 1.3 2.4 1.3 3.2 1.3 1.8 1.3 0.6 1.3 0.4 1.3 1 1.3 1.1 1.3 0.7 1.3 1.8 1.3 0.5 1.2-1.1 1.3 0.9 1.3 2.5 1.3 1.1 1.3 0.3 1.3-0.4 1.3-0.2 1.3 0.4 1.3 0.3 1.3-0.2 1.3 0 1.3 2 1.2 2.5 1.3 0.7 1.3 0 1.3-0.9 1.3-0.8 1.3 0.2 1.3 0.4 1.3 0.2 1.3 0.3 1.3-0.1 1.3 0.3 1.3-0.6 1.2-2.6 1.3 3 1.3 3.3 1.3 2.4 1.3 1.4 1.3 0.6 1.3 0.2 1.3 0.4 1.3 0.3 1.3 0.7 1.3 0.6 1.3 0 1.2 0.5 1.3 1.1 1.3-0.1 1.3-0.6 1.3 0.2 1.3 0 1.3 0.6 1.3 1.6 1.3 1 1.3 0.2 1.3-0.5 1.3-0.2 1.2 1.2 1.3 0.9 1.3 0.3 1.3 0.4 1.3 0 1.3 0.4 1.3 1 1.3 0.6 1.3-0.3 1.3-0.4 1.3-0.1 1.2 0.9 1.3 1.3 1.3 0 1.3-0.2 1.3 0.7 1.3 0 1.3-0.1 1.3 0.1 1.3-0.1 1.3 0.5 1.3 0.4 1.3 0.1 1.2 0.1 1.3 0.4 1.3 0.1 1.3 0.3 1.3 0.7 1.3 0.7 1.3 0.3 1.3 0.2 1.3 0.2 1.3 0.1 1.3-0.6 1.3-0.3 1.2 0.3 1.3-0.1 1.3 0.2 1.3 0.5 1.3 0.3 1.3 0.7 1.3 0.7 1.3 0.2 1.3-0.1 1.3 0.1 1.3-0.9 1.3-0.4 1.2 0.7 1.3-0.1 1.3-0.7 1.3 0.3 1.3 0.8 1.3 0 1.3-0.1 1.3 0.4 1.3 1.3 1.3 0.1 1.3-1.5 1.2-0.7 1.3 0.4 1.3 0.7 1.3 0 1.3-0.1 1.3 0.4 1.3 0.3 1.3 0.5 1.3 0.3 1.3-0.7 1.3-0.7 1.3 0.4 1.2 0.6 1.3 0.4 1.3-0.4 1.3 0 1.3 0.2 1.3 0.2 1.3 0.4 1.3-0.4 1.3-0.4 1.3 0.5 1.3 0 1.3 0 1.2 0.4 1.3 0.2 1.3-0.3 1.3-0.6 1.3-0.2 1.3 0.4 1.3 0.5 1.3 0.3 1.3 0.2 1.3-0.1 1.3-1.1 1.3-0.7 1.2 0.4 1.3 0.5 1.3-0.2 1.3 0.2 1.3 0.5 1.3 0.6"/>
<path d="M604.4 578.7l1.3-0.2 1.3 0.3 1.3 0.2 1.3-1.4 1.3-1 1.2-0.6 1.3-0.8 1.3-0.2 1.3 0.4 1.3-0.1 1.3 0.3 1.3 0.3 1.3-1.6 1.3-1.1 1.3 0.4 1.3-1.1 1.3-0.7 1.2 0.1 1.3-1.5 1.3-1.8 1.3 1.7 1.3 1.9 1.3-0.2 1.3-1.3 1.3-0.4 1.3-1.6 1.3-1.4 1.3-0.8 1.3-1.5 1.2-0.2 1.3 0.4 1.3-1.5 1.3-1.3 1.3-0.6 1.3-0.3 1.3 0 1.3-0.7 1.3-1.1 1.3 0.2 1.3-0.4 1.3-0.9 1.2 0.4 1.3 0.7 1.3 0.5 1.3-0.2 1.3-1.5 1.3-1.5 1.3 0.9 1.3 1 1.3-2 1.3-1.3 1.3 0 1.2-1.1 1.3-0.4 1.3-0.9 1.3-1.3 1.3-0.6 1.3 0.6 1.3 0.5 1.3-0.3 1.3-1.3 1.3-1 1.3-0.4 1.3 0.3 1.2-0.3 1.3-1.9 1.3-1.2 1.3 1.8 1.3-0.4 1.3-2.6 1.3-0.9 1.3 1.3 1.3 1.1 1.3 0.2 1.3-0.4 1.3-0.8 1.2-1.9 1.3-2.6 1.3 0.7 1.3 0.2 1.3-0.4 1.3 0.5 1.3-0.5 1.3-1.4 1.3 0.1 1.3-0.6 1.3 1.4 1.3 2.9 1.2 0.3 1.3 0.6 1.3 1 1.3-1.7 1.3-2.2 1.3-1.2 1.3-0.1 1.3 2 1.3 3 1.3 0.8 1.3-2.2 1.3 0.5 1.2 2 1.3-1.9 1.3-2.5 1.3-0.3 1.3 0.5 1.3 0.2 1.3-0.8 1.3-0.9 1.3 0.4 1.3-0.1 1.3 0.4 1.2 2.6 1.3 1.2 1.3-0.6 1.3-0.7 1.3-0.4 1.3-1.6 1.3-3.2 1.3-3.8 1.3-2.9 1.3-2 1.3-3.9 1.3-3.8 1.2-0.7 1.3 0.5 1.3 1.4 1.3 0.9 1.3 0.1 1.3 0 1.3 0.7 1.3 2 1.3 2.6 1.3 2.1 1.3 1.3 1.3 1 1.2 1.3 1.3 2 1.3 2.6 1.3 3.1 1.3 3.5 1.3 1.2 1.3 1.1 1.3 2.7 1.3 1.4 1.3 1.4 1.3 1.5 1.3 0.5 1.2 1.3 1.3 0.8 1.3 1.6 1.3 2.3 1.3-0.1 1.3-0.3 1.3 1.4 1.3 1.6 1.3 1.1 1.3 0.6 1.3-0.2 1.2-1.4 1.3-1.3 1.3 1.6 1.3 2.6 1.3 0.9 1.3 0.6 1.3 0.9 1.3 0.1 1.3 0.4 1.3-0.3 1.3-0.2 1.3 0.1 1.2-0.2 1.3-0.9 1.3 0.1 1.3 0.7 1.3-0.1 1.3 0.3 1.3 0.9 1.3 0.8 1.3 1.8 1.3 1.4 1.3 0.4 1.3 0.1 1.2 0.5 1.3 0.4 1.3-0.1 1.3 0.9 1.3 1.4 1.3 0.2 1.3 0.4 1.3 1.6 1.3 0.3 1.3 0.2 1.3 0.4 1.3 0 1.2 0.6 1.3 0.5 1.3 0.1 1.3 0.8 1.3 1.3 1.3 0.3 1.3-0.1 1.3 0.1 1.3-0.1 1.3 0.4 1.3 0.7 1.2 0.3 1.3-0.4 1.3 0.7 1.3 1.3 1.3 0 1.3 0 1.3 0.5 1.3 0.1 1.3 0.2 1.3-0.1 1.3 0.1 1.3 0.6 1.2 0.6 1.3-0.4 1.3 0 1.3 0.9 1.3 0.4 1.3-0.1 1.3 0.2 1.3 0.5 1.3 0 1.3-0.1 1.3 0.6 1.3 0.6 1.2 0.1 1.3 0.6 1.3 0.8 1.3-0.2 1.3-0.9 1.3 0.2 1.3 0.5 1.3-0.2 1.3 0 1.3 0.2 1.3 0.1 1.3 0 1.2-0.2 1.3 0.4 1.3 0.3 1.3-0.1 1.3-0.3 1.3 0.4 1.3 0.6 1.3-0.3 1.3-0.4 1.3 0.6 1.3-0.2 1.2-0.7 1.3 0.6 1.3 0.7 1.3 0.6 1.3 0.3 1.3-0.3 1.3-0.5 1.3 0.1 1.3 0.3 1.3 0.3 1.3 0.2 1.3-0.1 1.2 0.1 1.3 0.8 1.3 0.2 1.3-0.7 1.3-1 1.3 0.1 1.3 0.9 1.3 0.6 1.3 0 1.3 0.3 1.3 0.3 1.3-0.2 1.2 0.1 1.3 0 1.3-0.3 1.3 0.2 1.3-0.1 1.3-0.1 1.3 0.1 1.3 0 1.3 0 1.3 0.2 1.3-0.2 1.3 0.1 1.2 1.2 1.3 0.2 1.3-0.6 1.3 0.1 1.3 0 1.3-0.5 1.3-0.4 1.3-0.1 1.3 0.3 1.3 0.7 1.3 0.5 1.3 0.1"/>
<path d="M607.1 574.3l1.2-0.9 1.3-0.8 1.3-0.9 1.3-1.2 1.3-0.1 1.3 0.4 1.3 0.1 1.3-0.1 1.3 0.1 1.3-0.1 1.3 0.4 1.2 0.1 1.3-2.2 1.3-0.9 1.3 0.9 1.3-1.4 1.3-1.8 1.3-0.9 1.3-0.9 1.3-0.3 1.3 2 1.3 0.9 1.3-0.3 1.2-1.7 1.3-1.5 1.3-0.7 1.3-1.4 1.3-1 1.3-0.8 1.3 0 1.3 0.9 1.3-0.4 1.3-1.3 1.3-0.4 1.3 1.2 1.2 0.1 1.3-1.7 1.3-1.5 1.3 0.8 1.3 1.7 1.3 0.4 1.3-1 1.3-2.4 1.3-1.9 1.3-0.1 1.3 0.3 1.3-1.1 1.2-1 1.3 1.4 1.3-0.7 1.3-2.8 1.3 0.3 1.3 1.3 1.3-0.2 1.3-2.5 1.3-2.8 1.3-0.6 1.3 1.3 1.2-0.1 1.3 0 1.3 1.9 1.3-0.1 1.3-2.9 1.3-1.7 1.3 0.2 1.3 0.9 1.3-0.5 1.3-1.4 1.3-1.4 1.3-0.1 1.2 0 1.3 0.3 1.3-0.2 1.3 0 1.3 1.7 1.3-0.9 1.3-2.3 1.3-1.7 1.3 0.8 1.3-0.3 1.3-1.8 1.3-0.7 1.2 0.3 1.3 0.4 1.3 1.5 1.3-0.7 1.3-1 1.3-0.2 1.3-1.3 1.3-0.1 1.3 2.4 1.3 2.1 1.3-0.8 1.3-1.5 1.2 0.3 1.3 0.1 1.3 0.1 1.3 1.2 1.3-0.1 1.3-0.2 1.3-0.8 1.3-0.3 1.3 2.1 1.3 1.8 1.3-1.1 1.2 0.1 1.3 0.5 1.3-1.4 1.3-0.6 1.3 1.5 1.3 1.3 1.3 0.2 1.3-0.8 1.3 0 1.3-1.3 1.3-2 1.3-0.6 1.2-2.4 1.3-4.5 1.3-4.3 1.3-3.5 1.3-3.6 1.3-3.5 1.3 0.9 1.3 3.4 1.3 1.1 1.3-0.4 1.3-0.3 1.3-1 1.2-0.3 1.3 1.8 1.3 3 1.3 1.9 1.3 1.5 1.3 2.4 1.3 1.3 1.3 1.6 1.3 3.3 1.3 2.6 1.3 2.2 1.3 2.5 1.2 2.3 1.3 1.1 1.3 1.2 1.3 2 1.3 1.8 1.3 1.1 1.3 0.3 1.3 1.1 1.3 2.3 1.3 0.7 1.3-0.5 1.2 1.2 1.3 1.6 1.3 0.1 1.3-0.3 1.3 1 1.3 0.8 1.3-0.2 1.3-0.1 1.3 0.4 1.3 1 1.3 1.6 1.3 1 1.2 0.4 1.3 0.8 1.3 1.1 1.3 0.6 1.3 0.1 1.3-0.7 1.3-1 1.3-1.7 1.3-0.1 1.3 1.5 1.3 1 1.3-0.2 1.2 0.2 1.3 1.1 1.3 0.4 1.3-0.3 1.3 1.2 1.3 2.2 1.3 0.7 1.3 0 1.3 1.5 1.3 1.1 1.3-0.6 1.3 0.1 1.2 0.9 1.3 0.2 1.3-0.3 1.3 0.4 1.3 1.5 1.3 1.6 1.3 0.4 1.3-0.5 1.3-0.1 1.3 1 1.3 0.9 1.3 0.6 1.2 0.7 1.3-0.1 1.3-0.2 1.3 0.3 1.3 0.1 1.3 0.6 1.3 1.1 1.3 1 1.3 0.1 1.3-0.2 1.3-0.4 1.2 0 1.3 0.7 1.3 0.6 1.3 0.6 1.3 0.4 1.3-0.6 1.3 0.1 1.3 0.9 1.3 0.4 1.3 0.4 1.3 0.4 1.3-0.4 1.2 0 1.3 0.9 1.3 0.3 1.3-0.1 1.3-0.1 1.3 0.9 1.3 0.4 1.3-0.9 1.3 0 1.3 0.6 1.3 0.2 1.3 0.6 1.2-0.2 1.3-0.9 1.3-0.2 1.3 0.6 1.3 0.7 1.3 0.7 1.3 0.2 1.3-0.3 1.3-0.2 1.3 0.2 1.3 0.1 1.3-0.5 1.2 0.3 1.3 0.4 1.3-0.5 1.3 0 1.3 0.7 1.3 0.5 1.3 0.1 1.3-0.5 1.3 0 1.3 0.6 1.3 0.5 1.2-0.3 1.3-0.2 1.3-0.4 1.3-0.1 1.3 0.7 1.3 0.7 1.3-0.4 1.3-0.1 1.3 0.1 1.3-0.1 1.3-0.2 1.3 0.2 1.2 0.3 1.3 0.2 1.3 0.3 1.3 0.1 1.3-0.5 1.3 0.3 1.3 0.6 1.3 0 1.3-0.5 1.3-0.1 1.3 0.5 1.3 0.9 1.2-0.2 1.3-0.8 1.3 0 1.3 0.2 1.3 0 1.3 0.7 1.3 0.4 1.3-0.4 1.3 0.2 1.3 0.2 1.3-0.2 1.3-0.1 1.2-0.7 1.3-0.5 1.3 0.3 1.3 0.6 1.3 0.2 1.3 0.2"/>
<path d="M609.7 568.6l1.3-0.3 1.3-0.3 1.3-0.5 1.3-0.5 1.3-0.2 1.2-0.7 1.3-0.5 1.3 0.3 1.3-0.1 1.3-0.8 1.3 0.6 1.3 0.8 1.3-1.8 1.3-1.1 1.3 0.2 1.3-0.9 1.3-0.2 1.2-0.4 1.3-0.8 1.3-1.8 1.3-0.6 1.3 1.4 1.3 0.9 1.3-2.3 1.3-1.6 1.3 0.7 1.3 1 1.3-1 1.3-2.2 1.2 0.2 1.3 0.9 1.3-2.1 1.3-1.9 1.3 0.4 1.3 0.6 1.3-0.4 1.3-1 1.3-0.9 1.3 0.2 1.3 0 1.3-1 1.2-1.6 1.3-1 1.3 0.4 1.3 0.4 1.3-0.7 1.3-0.3 1.3 1.5 1.3 0.1 1.3-3.1 1.3-2.2 1.3 0.6 1.2 0.4 1.3-0.3 1.3-1 1.3-0.4 1.3-0.4 1.3-1 1.3-0.1 1.3 0.7 1.3 0.2 1.3-0.4 1.3-1.1 1.3-1 1.2-1 1.3-1 1.3-0.8 1.3 0.1 1.3-0.1 1.3-0.6 1.3-0.5 1.3 1.7 1.3 1.9 1.3-1.2 1.3-1.8 1.3-0.2 1.2 0.2 1.3-1.5 1.3 0.9 1.3 0.9 1.3-2.3 1.3-3 1.3-1.2 1.3 0.3 1.3 1.8 1.3 0.3 1.3 0.4 1.3 0.5 1.2-0.2 1.3 0.2 1.3-1.2 1.3-2.1 1.3 0.1 1.3 2.4 1.3 1.6 1.3-0.2 1.3 0.3 1.3 0.9 1.3 0.1 1.3 0.1 1.2-1.4 1.3-1.4 1.3 0.1 1.3-0.1 1.3-0.4 1.3-0.9 1.3-0.3 1.3 1.5 1.3 2.3 1.3 1.4 1.3-0.2 1.2-1.1 1.3-0.5 1.3 1.1 1.3-0.4 1.3-1.7 1.3-1.9 1.3-2.7 1.3-4 1.3-4.4 1.3-3.3 1.3-2.5 1.3-3.7 1.2-2.8 1.3-0.1 1.3 2.1 1.3 2.1 1.3 0.8 1.3 1.4 1.3 2 1.3-0.2 1.3-0.3 1.3 1.4 1.3 1.8 1.3 1.8 1.2 2.7 1.3 3.2 1.3 3.2 1.3 1.7 1.3-0.3 1.3 6.1 1.3 4.4 1.3 1.1 1.3 1.2 1.3 1.3 1.3 1.1 1.3 0.9 1.2 0.7 1.3 0.3 1.3 1.8 1.3 1.2 1.3-0.8 1.3 0.9 1.3 1.5 1.3-0.4 1.3 0.1 1.3 1.9 1.3 1.1 1.2 0.2 1.3 0.6 1.3 0.7 1.3 0.8 1.3 0.9 1.3-0.3 1.3 0.7 1.3 1.8 1.3 0.1 1.3-0.1 1.3-0.1 1.3-1.5 1.2-0.6 1.3-0.2 1.3-0.3 1.3 0.2 1.3 1.1 1.3 0.9 1.3-0.5 1.3-0.3 1.3 1.7 1.3 1.3 1.3 0.7 1.3 1.1 1.2 1.2 1.3 0.5 1.3 0.7 1.3 0.9 1.3 0.8 1.3 1.4 1.3-0.1 1.3-0.8 1.3 0.1 1.3 0.9 1.3 0.4 1.3 0.4 1.2 1.1 1.3 0.3 1.3-0.5 1.3 1 1.3 1.5 1.3 0.9 1.3 0.7 1.3-0.5 1.3-0.7 1.3 0.8 1.3 0.9 1.2 0.5 1.3 0.3 1.3 0.2 1.3-0.9 1.3-0.6 1.3 0.5 1.3 0.4 1.3 0.3 1.3 0.7 1.3 0.6 1.3 0.4 1.3 0.3 1.2-0.3 1.3 0 1.3 1 1.3 0.5 1.3 0.1 1.3 0.9 1.3 0.1 1.3-0.4 1.3 0.1 1.3 0.4 1.3 0.5 1.3 0 1.2-0.3 1.3 0.8 1.3-0.2 1.3-0.7 1.3 0.4 1.3 0.8 1.3 0.9 1.3 0.7 1.3-0.2 1.3-0.1 1.3 0.1 1.3-0.1 1.2-0.6 1.3-0.1 1.3 0.5 1.3 0.5 1.3 0 1.3-0.5 1.3 0 1.3 0.1 1.3 0 1.3 0.2 1.3 0 1.2 0.5 1.3 1 1.3 0 1.3-0.7 1.3-0.3 1.3 0.2 1.3 0.1 1.3-0.3 1.3-0.2 1.3 0.4 1.3 0.8 1.3 0.4 1.2-0.4 1.3 0.1 1.3 0.4 1.3 0.7 1.3-0.1 1.3-0.6 1.3-0.1 1.3 0.5 1.3-0.1 1.3 0.3 1.3 0.3 1.3 0 1.2-0.1 1.3 0 1.3-0.3 1.3 0 1.3-0.6 1.3-0.3 1.3 0.6 1.3 0.3 1.3 0.1 1.3 0.2 1.3 0.1 1.3 0.5 1.2 0.2 1.3-0.7 1.3-0.1 1.3 0.4 1.3 0.1 1.3 0.2 1.3-0.2 1.3-0.9 1.3 0.2 1.3 1.2 1.3 0 1.3-0.3"/>
<path d="M612.4 564.1l1.2-0.3 1.3-1.1 1.3-1.5 1.3-0.8 1.3-0.1 1.3-0.7 1.3-0.7 1.3 0.2 1.3 0.4 1.3 0.5 1.3 1.7 1.2 0.9 1.3-1.7 1.3-2 1.3-0.6 1.3-1.1 1.3-1.7 1.3-1.2 1.3 0.7 1.3 1.2 1.3 0.5 1.3-0.3 1.3-0.1 1.2-1.6 1.3-1 1.3-0.1 1.3-1.5 1.3-1.6 1.3-0.8 1.3 0.3 1.3 0.5 1.3-0.9 1.3-0.9 1.3 0.1 1.3-0.2 1.2-0.7 1.3 0.1 1.3 0.1 1.3-0.3 1.3-0.5 1.3-0.2 1.3-0.3 1.3-0.6 1.3-1.5 1.3-1.4 1.3-0.7 1.3 0.4 1.2 2.7 1.3 0.3 1.3-2.9 1.3-1.8 1.3-0.7 1.3 0.5 1.3 0.1 1.3-2.1 1.3-0.1 1.3 0.7 1.3-1.3 1.2-2.3 1.3-0.4 1.3 1.4 1.3 1.5 1.3-0.7 1.3-2.6 1.3-2 1.3-0.1 1.3-0.9 1.3-0.2 1.3 2.6 1.3 1.6 1.2-0.9 1.3-1.1 1.3-0.1 1.3 1.3 1.3 0.2 1.3-2.8 1.3-3.1 1.3-2.1 1.3 1.5 1.3 1.5 1.3-0.8 1.3-0.5 1.2 0.2 1.3-1.8 1.3-0.5 1.3 0 1.3-0.1 1.3 0.3 1.3-0.6 1.3 0.4 1.3 0.7 1.3-0.5 1.3 0.6 1.3 2.5 1.2 1.2 1.3-0.6 1.3 0 1.3 0.6 1.3-1 1.3 0 1.3 1.3 1.3-0.6 1.3-0.6 1.3 0.5 1.3-0.1 1.2-1.3 1.3-0.9 1.3 0.8 1.3 1.7 1.3 1.4 1.3 0.6 1.3 0.3 1.3-1 1.3-1.8 1.3-1.6 1.3-0.2 1.3-1.6 1.2-3.4 1.3-2.8 1.3-4.7 1.3-5.6 1.3-3.3 1.3-3.4 1.3-1.3 1.3 1.1 1.3 1.2 1.3 2 1.3 2.3 1.3 2 1.2-0.1 1.3-1.5 1.3 0.4 1.3 3.5 1.3 3.1 1.3-0.7 1.3 1.2 1.3 5.4 1.3 4.1 1.3 2 1.3 3.4 1.3 3.6 1.2 2.7 1.3 2.3 1.3 0.1 1.3-0.1 1.3 2.2 1.3 1.6 1.3 0.4 1.3 1.2 1.3 0.3 1.3-0.8 1.3 1 1.2 1.3 1.3-0.1 1.3 0.7 1.3 1.4 1.3 0.4 1.3 0.7 1.3 1.2 1.3-0.5 1.3-0.1 1.3 0.9 1.3 0.3 1.3 1.3 1.2 1.8 1.3 0.3 1.3 0.7 1.3-0.1 1.3-1.8 1.3-1.6 1.3-2.3 1.3-2.1 1.3 0.4 1.3 1.2 1.3 1.4 1.3 0.7 1.2 0.4 1.3 1.6 1.3 1.7 1.3 0.5 1.3 1.1 1.3 1.9 1.3 1.6 1.3 0.6 1.3 0.4 1.3 1.1 1.3 0.1 1.3-0.2 1.2 1.4 1.3 1.1 1.3 0.2 1.3 0.4 1.3 0.7 1.3 0 1.3-0.7 1.3 1 1.3 0.7 1.3 0.1 1.3 1.2 1.3 1.3 1.2 0.7 1.3-0.7 1.3-0.3 1.3 1.2 1.3 0.3 1.3 0 1.3 0.1 1.3 0.1 1.3 0.2 1.3 0 1.3-0.3 1.2 0.1 1.3 0.8 1.3 1 1.3 0.6 1.3 0.4 1.3 0.4 1.3 0.1 1.3-0.6 1.3 0 1.3 0.8 1.3 0.8 1.3 0.6 1.2-0.7 1.3-0.6 1.3 0.5 1.3 0.6 1.3-0.3 1.3 0.3 1.3 0.7 1.3 0.2 1.3-0.2 1.3 0.9 1.3 1 1.3-0.4 1.2-0.4 1.3 0.2 1.3 0.4 1.3 0.4 1.3-0.1 1.3 0 1.3 0.3 1.3 0.2 1.3-0.3 1.3-0.2 1.3-0.1 1.3 0.3 1.2 0.3 1.3-0.5 1.3-0.6 1.3 0 1.3 0.8 1.3 0.7 1.3 0.4 1.3 0.4 1.3 0.1 1.3-0.5 1.3-0.3 1.2-0.1 1.3 0.1 1.3 0 1.3 0 1.3 0 1.3 0.7 1.3 0.6 1.3-0.2 1.3-0.3 1.3 0.1 1.3 0.2 1.3 0.2 1.2-0.7 1.3-0.7 1.3 0.3 1.3 1.1 1.3 0.5 1.3-0.2 1.3-0.4 1.3-0.3 1.3 0.2 1.3 0.7 1.3-0.1 1.3-0.4 1.2-0.1 1.3 0 1.3-0.1 1.3 0.2 1.3 0.5 1.3 0.8 1.3 0.6 1.3-0.3 1.3-0.4 1.3-0.1 1.3-0.1 1.3-0.2 1.2-0.3 1.3 0 1.3 0.3 1.3 0.5 1.3 0.2 1.3 0.2"/>
<path d="M615.0 560.3l1.3 0.1 1.3-1.1 1.3-0.9 1.3-1.1 1.3-0.4 1.2 0 1.3-0.5 1.3-0.5 1.3 0.2 1.3 0.1 1.3-0.1 1.3-0.6 1.3-2.1 1.3-1.1 1.3 1.3 1.3 1.3 1.3 1.3 1.2-1.4 1.3-4 1.3-2 1.3 1.1 1.3 1.1 1.3 0.6 1.3-1.1 1.3-0.6 1.3-1.2 1.3-2 1.3-0.7 1.3-1.3 1.2-0.5 1.3 0.5 1.3-1.3 1.3-0.8 1.3 0.6 1.3 0.1 1.3-0.3 1.3 0.4 1.3-0.1 1.3-1.4 1.3-1.1 1.3 1.2 1.2 0.6 1.3-1.3 1.3-1.9 1.3-0.5 1.3 1.5 1.3-0.6 1.3-1.3 1.3 0.4 1.3-0.4 1.3-1.6 1.3-1.1 1.2 0.6 1.3 1.6 1.3-0.3 1.3-2.1 1.3-2.7 1.3-0.2 1.3 1.7 1.3 0.4 1.3-1.2 1.3-1.5 1.3-0.6 1.3 1.2 1.2-0.2 1.3-0.7 1.3 0.3 1.3-0.8 1.3-1.9 1.3-0.9 1.3-0.2 1.3 1 1.3 0.7 1.3-0.1 1.3-1.5 1.3-2.2 1.2-0.5 1.3-1.2 1.3 0.6 1.3 0.6 1.3-2.2 1.3-2.6 1.3 0.2 1.3 0 1.3 1 1.3 2 1.3 0.8 1.3 0.8 1.2-0.3 1.3-0.2 1.3 0.4 1.3-1 1.3 1.3 1.3 2.2 1.3-0.6 1.3-1.1 1.3-0.3 1.3 0.2 1.3-0.2 1.3 1.1 1.2 0.6 1.3-1.5 1.3-0.9 1.3-0.1 1.3-1 1.3-0.1 1.3 1.7 1.3 1.5 1.3 0.4 1.3-2 1.3-1.4 1.2 1.9 1.3 1.2 1.3 0 1.3-0.7 1.3-1.7 1.3-3.1 1.3-3.5 1.3-3.3 1.3-3.4 1.3-4.7 1.3-4.6 1.3-2.3 1.2-0.9 1.3 0.2 1.3 0.6 1.3 0.5 1.3 1.7 1.3 2.3 1.3 1.5 1.3 0.1 1.3 1.4 1.3 2 1.3 1.5 1.3 0.9 1.2 0.4 1.3 3 1.3 4.4 1.3 3.1 1.3 4 1.3 4 1.3 2.1 1.3-0.7 1.3-2.4 1.3 3.4 1.3 3.5 1.3 2 1.2 0 1.3 0.7 1.3 2 1.3-0.1 1.3-0.7 1.3 0.3 1.3 1.3 1.3 1 1.3 1.5 1.3 1.7 1.3 0.4 1.2 1.1 1.3 1.3 1.3 0.7 1.3 0.6 1.3 1 1.3 1 1.3 0.2 1.3-1.6 1.3-1 1.3-0.2 1.3 0.2 1.3 0.1 1.2-1.2 1.3-2 1.3-1 1.3-0.2 1.3 1.4 1.3 1.1 1.3-1.2 1.3 0.1 1.3 2.4 1.3 2 1.3 1 1.3 1.3 1.2 1.3 1.3 0.4 1.3 0.5 1.3 0.7 1.3 0.5 1.3 1.4 1.3 1.7 1.3 1 1.3 0.4 1.3-0.2 1.3-0.7 1.3 0.4 1.2 1 1.3 0.6 1.3 0.2 1.3 0.5 1.3 0.5 1.3 0.7 1.3 1 1.3 0.7 1.3 0.1 1.3 0 1.3-0.1 1.2 0.6 1.3 1 1.3 0.8 1.3-0.4 1.3-0.9 1.3-0.2 1.3 0.4 1.3 0.3 1.3 0.4 1.3 0.8 1.3 0.8 1.3 0.4 1.2 0.1 1.3 0.1 1.3-0.1 1.3 0.5 1.3 0.5 1.3 0.4 1.3 0 1.3-0.4 1.3-0.1 1.3 0.6 1.3 0 1.3 0.1 1.2 0.7 1.3 0.7 1.3 0.1 1.3 0.1 1.3 0.2 1.3 0.5 1.3 0 1.3 0 1.3-0.2 1.3-0.4 1.3 0.3 1.3 0.5 1.2-0.1 1.3-0.3 1.3 0.4 1.3 0.4 1.3 0 1.3 0.1 1.3 0 1.3 0 1.3-0.2 1.3 0.1 1.3 0.5 1.2 0.2 1.3 0.9 1.3 0.1 1.3-0.1 1.3 0.4 1.3-0.5 1.3-0.5 1.3 0.1 1.3 0.1 1.3 0.2 1.3-0.3 1.3-0.4 1.2 0.1 1.3 0.5 1.3 0.6 1.3 0.7 1.3-0.2 1.3-0.5 1.3-0.2 1.3 0.5 1.3 0.5 1.3 0.2 1.3 0.2 1.3-0.1 1.2-0.6 1.3 0.1 1.3 0.2 1.3-0.3 1.3-0.1 1.3 0.7 1.3-0.1 1.3-0.3 1.3 0.3 1.3-0.1 1.3-0.1 1.3 0.1 1.2 0 1.3-0.2 1.3-0.1 1.3 0.4 1.3 0.2 1.3 0.2 1.3 0 1.3-0.8 1.3-0.5 1.3 0.4 1.3-0.2 1.3 0.4"/>
<path d="M617.6 553.6l1.3-0.4 1.3 0.3 1.3 0 1.3-1.1 1.3-0.4 1.3-0.5 1.3-0.6 1.3-0.1 1.3 0.1 1.3 0 1.3 0.3 1.2 0 1.3-1.3 1.3-0.1 1.3 0.9 1.3-1.2 1.3-1.2 1.3-0.9 1.3-1.7 1.3-1.3 1.3 1.2 1.3 0.9 1.3-0.2 1.2-1.1 1.3-0.3 1.3 0.5 1.3-1.3 1.3-1.4 1.3-0.6 1.3-0.3 1.3 0.4 1.3-0.6 1.3-1.1 1.3-0.3 1.3-0.6 1.2-1.6 1.3-0.6 1.3 0.2 1.3-0.5 1.3-0.8 1.3 0 1.3 1.2 1.3 0.6 1.3-2.6 1.3-2 1.3-0.2 1.3 0.8 1.2 2.5 1.3 1 1.3-1.5 1.3-1.6 1.3-1.4 1.3-1 1.3-1.2 1.3-1.5 1.3-0.3 1.3-0.3 1.3 0 1.2-0.3 1.3-0.9 1.3-0.2 1.3 0.3 1.3-0.4 1.3 0.1 1.3-1 1.3-1.1 1.3-0.7 1.3-0.8 1.3-1.4 1.3 0.4 1.2 2.3 1.3 1.5 1.3 0.2 1.3-1.1 1.3-1.8 1.3-2.1 1.3-1.2 1.3-1.5 1.3 0.9 1.3 1.3 1.3-0.5 1.3-2.1 1.2-2 1.3-0.7 1.3 0.7 1.3 0.5 1.3 0.6 1.3 0.3 1.3-0.4 1.3 0.2 1.3 0.9 1.3 0.3 1.3 0.8 1.3 1.3 1.2 0.6 1.3 1 1.3-0.3 1.3-1.1 1.3-0.2 1.3 0.8 1.3 1.4 1.3 0 1.3-1.3 1.3-0.9 1.3-0.7 1.2 0.2 1.3-0.1 1.3 0.1 1.3 2.3 1.3 2 1.3-1.4 1.3-1.9 1.3 0.3 1.3 0.6 1.3-1.3 1.3-2.8 1.3-3.7 1.2-2 1.3-2.6 1.3-4.3 1.3-2.9 1.3-4.4 1.3-5.7 1.3-0.4 1.3 2.2 1.3 0.9 1.3 1 1.3 1 1.3-0.4 1.2 0.6 1.3 1.8 1.3 1.1 1.3 1.4 1.3 1.7 1.3 0.9 1.3 2.1 1.3 3.7 1.3 3.4 1.3 3.7 1.3 4.1 1.3 3.4 1.2 2.5 1.3 1.8 1.3 2.2 1.3 1.3 1.3-0.1 1.3-0.6 1.3 0.9 1.3 1.9 1.3 0.9 1.3 0.4 1.3 0.2 1.2 1 1.3 1.6 1.3 0.6 1.3 0.7 1.3 1.7 1.3 0.1 1.3-0.5 1.3 0.9 1.3 1.8 1.3 0.9 1.3 0 1.3-0.3 1.2-0.3 1.3 0.8 1.3 1.1 1.3-0.3 1.3-0.1 1.3-1.5 1.3-3.2 1.3-2.2 1.3-0.4 1.3-0.1 1.3 0.2 1.3 0.7 1.2 0.8 1.3 0.8 1.3 1.7 1.3 1.1 1.3 0.5 1.3 1.8 1.3 1.8 1.3 0.4 1.3 1.1 1.3 1.5 1.3 0.6 1.3 1.5 1.2 1.6 1.3 0.8 1.3 0.7 1.3 0.9 1.3 0.4 1.3-0.2 1.3 0.3 1.3 1.2 1.3 0.5 1.3-0.1 1.3-0.3 1.3 0.4 1.2 0.8 1.3 0.8 1.3 0.5 1.3-0.2 1.3-0.1 1.3 0.8 1.3 0.8 1.3 0.3 1.3-0.3 1.3 0.3 1.3 0.3 1.2 0.1 1.3 0.4 1.3 0.8 1.3 0.6 1.3 0 1.3 0.1 1.3 0.2 1.3-0.5 1.3-0.5 1.3 0.6 1.3 1.4 1.3 1.3 1.2-0.2 1.3-0.9 1.3 0.2 1.3 1.3 1.3 0.9 1.3 0.1 1.3-0.6 1.3-0.1 1.3 0.1 1.3-0.2 1.3-0.3 1.3 0.3 1.2 0.6 1.3 0.2 1.3-0.2 1.3-0.1 1.3 0.4 1.3 0.3 1.3-0.1 1.3 0 1.3-0.5 1.3 0 1.3 0.8 1.3 0.4 1.2 0.2 1.3-0.1 1.3-0.4 1.3-0.2 1.3 0.4 1.3 0.6 1.3 0.4 1.3-0.2 1.3 0.1 1.3 0.6 1.3 0.1 1.2-0.7 1.3-0.5 1.3 0.3 1.3 0.8 1.3 0.4 1.3-0.3 1.3-0.1 1.3 0.9 1.3 0.3 1.3 0 1.3-0.4 1.3-0.5 1.2-0.3 1.3 0.4 1.3 0.4 1.3 0.4 1.3 0.4 1.3 0.5 1.3-0.2 1.3-0.6 1.3 0 1.3 0.6 1.3-0.1 1.3-0.3 1.2-0.4 1.3-0.2 1.3 0.2 1.3 0 1.3 0 1.3 0.3 1.3 0.2 1.3-0.1 1.3 0.1 1.3 0.3 1.3-0.4 1.3-0.4 1.2-0.1 1.3 0 1.3 0.1 1.3 0.4"/>
<path d="M620.3 548.7l1.3 0.5 1.3 0 1.3-0.9 1.3-1.1 1.3-0.9 1.2-0.3 1.3-0.1 1.3-0.3 1.3 0.1 1.3 0.2 1.3 0.6 1.3 1 1.3-1.1 1.3-1.8 1.3 0.2 1.3-0.1 1.3-1 1.2-1.2 1.3-1.1 1.3-1.4 1.3-0.2 1.3 0.5 1.3 1.5 1.3-0.2 1.3-1.1 1.3-1 1.3-1.1 1.3-1 1.3-0.2 1.2 0.9 1.3-1 1.3-3.2 1.3-1.1 1.3 0.8 1.3 0 1.3-0.4 1.3 0.2 1.3 0.5 1.3 0.3 1.3-0.9 1.3-0.3 1.2 0.1 1.3-1.1 1.3-0.3 1.3 0.5 1.3-0.8 1.3-1 1.3 0.6 1.3 0.9 1.3-1 1.3-1.9 1.3-1 1.2-0.7 1.3-0.3 1.3-0.9 1.3-1.6 1.3-1.7 1.3-0.2 1.3 0.7 1.3 0.4 1.3 0.2 1.3 0.9 1.3-0.7 1.3-2.8 1.2-2 1.3-0.2 1.3 0.1 1.3 0 1.3-0.8 1.3 0 1.3 0.6 1.3 0.7 1.3 0.7 1.3 0.4 1.3 0.3 1.3-0.6 1.2-1.9 1.3-2.6 1.3-0.6 1.3-0.6 1.3-0.4 1.3-1 1.3-0.3 1.3 1 1.3 0.9 1.3-1.7 1.3 0 1.3 2.5 1.2 0.7 1.3 0.6 1.3 0.1 1.3-0.4 1.3 0.5 1.3 0.7 1.3-0.2 1.3-0.2 1.3 0 1.3-0.6 1.3-0.2 1.3 1.3 1.2-0.5 1.3-0.6 1.3 1.6 1.3-0.1 1.3-2.1 1.3-1.2 1.3-0.3 1.3 0.8 1.3 1 1.3 1.5 1.3 0.9 1.2-1.4 1.3-0.2 1.3 2.1 1.3-0.3 1.3-2.5 1.3-4.2 1.3-5 1.3-5 1.3-4.2 1.3-3.5 1.3-3.8 1.3-3.6 1.2-1.2 1.3 0.6 1.3 1.7 1.3 1.7 1.3 1 1.3-0.6 1.3-0.5 1.3 0.8 1.3 1.2 1.3 1.8 1.3 2.8 1.3 2.9 1.2 2 1.3 3 1.3 3.8 1.3 2.7 1.3 3.9 1.3 4 1.3 2 1.3 2.1 1.3 2.9 1.3 0.6 1.3-0.7 1.3 1.3 1.2 2.1 1.3 1.4 1.3 1.6 1.3 0.9 1.3 0.2 1.3 0.1 1.3 0.3 1.3 1.2 1.3 0.6 1.3 0.3 1.3 0.8 1.2 0.7 1.3 0.7 1.3 0.8 1.3 1.4 1.3 1.2 1.3-1.4 1.3-0.3 1.3 2.1 1.3 0.4 1.3-1.1 1.3-0.9 1.3-2.6 1.2-2.6 1.3-1.2 1.3-0.9 1.3-1.3 1.3 0.3 1.3 1.1 1.3-0.4 1.3 0.7 1.3 2.6 1.3 1.1 1.3 0.6 1.3 1.9 1.2 1.3 1.3 0.9 1.3 1.6 1.3 1.6 1.3 0.9 1.3 1.3 1.3 1.7 1.3 1.4 1.3 0.1 1.3 0.4 1.3 0.8 1.3-0.1 1.2 0 1.3 0.4 1.3 0 1.3-0.1 1.3 0.9 1.3 1.7 1.3 1.2 1.3 0.9 1.3-0.2 1.3-0.6 1.3 1 1.2 1.4 1.3 0 1.3-0.1 1.3 0.8 1.3 0.5 1.3-1 1.3-0.3 1.3 0.1 1.3 0.7 1.3 2.1 1.3 0.3 1.3-0.8 1.2 0.6 1.3 0.1 1.3-0.5 1.3 0.6 1.3 0.8 1.3 0.4 1.3-0.4 1.3-0.1 1.3 0.5 1.3 0.6 1.3 0.1 1.3-0.5 1.2 0.2 1.3 0.7 1.3 0 1.3 0.3 1.3 0.1 1.3-0.6 1.3-0.1 1.3 0.2 1.3-0.2 1.3 0.5 1.3 0.9 1.3 0.6 1.2-0.3 1.3-0.3 1.3-0.1 1.3 0.3 1.3 0.4 1.3 0 1.3 0.3 1.3-0.1 1.3-1.1 1.3-0.3 1.3 0.9 1.2 0.7 1.3 0.7 1.3 0.3 1.3-0.3 1.3 0 1.3 0.1 1.3 0.1 1.3-0.2 1.3-0.3 1.3-0.1 1.3-0.1 1.3 0.7 1.2 1.1 1.3 0.7 1.3 0 1.3 0 1.3 0 1.3-0.4 1.3-1.1 1.3-0.3 1.3 0.6 1.3 1 1.3 0.3 1.3-0.3 1.2-0.4 1.3 0.4 1.3-0.1 1.3-0.5 1.3 0.2 1.3 0.7 1.3-0.1 1.3-0.5 1.3-0.2 1.3 0.7 1.3 0.6 1.3-0.3 1.2-0.6 1.3 0.4 1.3 0.2 1.3-0.7 1.3-0.6 1.3 0.2 1.3 0.6 1.3 0.5"/>
<path d="M623.0 543.6l1.2-0.2 1.3 0.1 1.3-0.8 1.3-0.8 1.3 0.4 1.3 0 1.3-1.2 1.3-1.1 1.3 0.5 1.3 0.7 1.3 0.5 1.2 0.6 1.3-1.2 1.3-1.3 1.3 0.3 1.3-0.8 1.3-0.9 1.3-1.3 1.3-1.6 1.3-1.2 1.3-0.1 1.3 0.8 1.3 1.5 1.2-1.1 1.3-1.4 1.3-0.3 1.3-0.5 1.3-0.1 1.3-0.7 1.3-0.6 1.3 0.2 1.3-0.8 1.3-1.2 1.3 0.1 1.3 0.4 1.2-0.3 1.3-0.7 1.3-1.4 1.3-0.3 1.3 0.5 1.3-0.4 1.3-0.3 1.3-0.9 1.3-1.1 1.3 0.8 1.3-0.1 1.3-1.6 1.2-0.6 1.3 0.4 1.3-0.5 1.3-1 1.3 0.9 1.3 0.1 1.3-3 1.3-1.6 1.3 0.8 1.3-1 1.3-0.4 1.2 0.7 1.3 0.3 1.3 0 1.3-0.9 1.3-2.4 1.3-0.4 1.3 2 1.3 0.3 1.3-1.4 1.3-0.6 1.3-0.2 1.3 0.8 1.2-0.8 1.3-2.1 1.3-0.1 1.3 1.8 1.3 0 1.3-1.5 1.3-0.7 1.3-2 1.3-0.3 1.3-0.4 1.3-2.6 1.3-1.8 1.2 1.3 1.3 1 1.3-0.1 1.3-0.4 1.3 0 1.3 1.1 1.3 2.6 1.3 1.2 1.3-1.5 1.3-1.7 1.3 0.7 1.3 1 1.2-0.7 1.3 0 1.3 1.8 1.3 2.5 1.3-1.4 1.3-1.9 1.3 1.2 1.3 0 1.3-0.6 1.3 0.2 1.3-1.6 1.2-0.4 1.3 2.5 1.3 0.6 1.3-1.4 1.3 0 1.3 0.4 1.3 0.2 1.3 0.2 1.3 0.3 1.3-0.9 1.3-2.8 1.3-3.2 1.2-2.6 1.3-5.7 1.3-5.7 1.3-3.4 1.3-4.1 1.3-3.8 1.3-1.9 1.3-0.6 1.3 1.7 1.3 1.4 1.3-1.1 1.3 0 1.2 3.6 1.3 2.8 1.3 0.8 1.3 0.7 1.3 0.5 1.3 2 1.3 3.5 1.3 3.7 1.3 3.8 1.3 4 1.3 4.7 1.3 4.3 1.2 2.3 1.3 1.9 1.3 2.5 1.3 1.9 1.3 0.9 1.3-0.9 1.3-0.2 1.3 1.1 1.3 1 1.3 1.6 1.3 2.5 1.2 1.6 1.3-1.1 1.3-0.8 1.3 0.9 1.3 1.6 1.3 0.5 1.3-0.1 1.3 0.5 1.3 0.2 1.3 1.3 1.3 2.1 1.3-0.8 1.2-0.4 1.3 1.9 1.3 0.7 1.3-1.8 1.3-2.6 1.3-3.9 1.3-4.1 1.3-2.3 1.3 0.1 1.3 1.7 1.3 1.6 1.3 0.1 1.2 0.4 1.3 0.7 1.3 1 1.3 1.6 1.3 1.7 1.3 1.6 1.3 1.5 1.3 0.9 1.3 1.4 1.3 1.5 1.3 1.5 1.3 2.3 1.2 1.7 1.3 1.3 1.3 0.8 1.3-0.5 1.3-1.4 1.3 0.6 1.3 1.4 1.3 0.7 1.3 0.4 1.3 0.7 1.3-0.5 1.3-2.8 1.2 3.9 1.3 2.1 1.3-0.2 1.3 0.2 1.3 0.5 1.3 0.8 1.3 0.3 1.3-0.5 1.3 0 1.3 0.2 1.3-0.8 1.2 0.5 1.3 1.1 1.3 0.4 1.3 1 1.3 1.1 1.3-0.1 1.3-0.7 1.3-0.6 1.3 0.3 1.3 0.7 1.3 0.1 1.3 0.5 1.2 0.8 1.3 0 1.3 0.3 1.3 0.8 1.3-0.2 1.3-0.1 1.3 0.8 1.3-0.1 1.3-0.5 1.3 0.7 1.3 0.6 1.3-0.1 1.2 0 1.3 0 1.3 0.2 1.3 0.1 1.3-0.3 1.3-0.2 1.3 0.6 1.3 0.8 1.3-0.1 1.3-0.2 1.3-0.5 1.3-0.5 1.2 0 1.3-0.2 1.3 0 1.3 0.8 1.3 0.6 1.3 0.2 1.3 0.1 1.3 0.1 1.3 0.6 1.3 0.2 1.3-0.5 1.2-0.5 1.3-0.1 1.3 0.6 1.3 0.1 1.3-0.3 1.3 0.9 1.3 0.8 1.3 0.3 1.3 0.1 1.3-0.3 1.3-0.6 1.3 0.1 1.2 0 1.3 0.2 1.3 0.1 1.3 0.4 1.3 0.1 1.3-0.1 1.3 0.2 1.3 0.4 1.3-0.3 1.3-0.6 1.3-0.2 1.3 0.2 1.2 0.3 1.3 0.2 1.3-0.2 1.3-0.3 1.3-0.2 1.3 0.5 1.3 0.4 1.3-0.7 1.3-0.3 1.3 0.7 1.3 0.3 1.3 0"/>
<path d="M625.6 539.0l1.3-1 1.3-0.8 1.3-0.1 1.3-0.7 1.3-0.1 1.2-0.1 1.3-0.5 1.3 0.3 1.3-0.1 1.3-1.5 1.3-0.4 1.3 2 1.3 0 1.3-0.5 1.3 0.2 1.3-1.9 1.3-0.6 1.2-0.6 1.3-1.2 1.3-0.4 1.3-0.1 1.3-0.6 1.3 1.2 1.3-0.1 1.3-1.7 1.3-0.2 1.3-0.6 1.3-0.9 1.3 0.6 1.2 0.1 1.3-1.1 1.3-1.5 1.3-0.6 1.3-0.3 1.3-0.9 1.3-0.4 1.3 0.8 1.3 0.5 1.3-0.7 1.3-1.7 1.3-1.2 1.2-0.8 1.3-0.2 1.3 0.9 1.3 0.6 1.3-1.5 1.3-1.3 1.3 0.6 1.3-0.3 1.3-1.2 1.3 0.4 1.3 0.6 1.2-1 1.3-0.8 1.3-1.1 1.3-1.1 1.3 0.5 1.3-0.3 1.3-2.2 1.3 0.4 1.3 2.9 1.3 0.5 1.3-2.6 1.3-2.1 1.2-0.5 1.3 0.8 1.3 0.4 1.3-1.1 1.3-1.3 1.3 0.9 1.3 1.2 1.3-0.2 1.3-1.2 1.3 0.1 1.3 0.7 1.3-1.7 1.2-1.5 1.3-1.6 1.3-0.8 1.3-1.7 1.3-1.8 1.3-0.7 1.3 0.9 1.3 1 1.3-0.2 1.3-0.5 1.3 1.2 1.3 0.7 1.2-0.1 1.3 0 1.3 1 1.3 1.3 1.3 0.7 1.3 0.7 1.3-1.4 1.3-2.8 1.3-0.1 1.3 2.3 1.3 0.3 1.3 0.5 1.2 0.6 1.3-1.3 1.3-0.3 1.3 1.6 1.3 0.1 1.3-1.4 1.3 1.4 1.3 2.5 1.3-1.3 1.3-2.3 1.3 0.4 1.2 1.3 1.3 0.6 1.3-0.6 1.3-2.5 1.3-1.9 1.3-3 1.3-5.2 1.3-5.6 1.3-5.1 1.3-3.9 1.3-3.7 1.3-4 1.2-2 1.3 0.3 1.3 1.5 1.3 2.2 1.3 0.8 1.3-0.9 1.3-0.2 1.3-0.3 1.3 1.9 1.3 4 1.3 1.9 1.3 1.4 1.2 2.6 1.3 3.4 1.3 4.8 1.3 4.8 1.3 4 1.3 3.9 1.3 3.3 1.3 2 1.3 1.8 1.3 0.7 1.3 0.8 1.3 2 1.2 2.1 1.3 1.2 1.3 0.4 1.3 0.9 1.3 0.5 1.3-0.5 1.3 0.5 1.3 1.2 1.3 0.6 1.3 0.8 1.3-0.2 1.2 0.7 1.3 2.4 1.3 0.4 1.3-0.7 1.3 0.4 1.3 1 1.3 1.4 1.3 0.3 1.3-0.9 1.3-1.9 1.3-3.3 1.3-4.3 1.2-2.6 1.3-1.7 1.3-0.5 1.3 1.2 1.3 1.2 1.3 0.4 1.3 0.8 1.3 1.5 1.3 1.7 1.3 0.6 1.3 0.9 1.3 1.7 1.2 1.2 1.3 1.3 1.3 2 1.3 2.2 1.3 1.2 1.3 0.2 1.3 1.2 1.3 2.4 1.3 1.6 1.3 0.1 1.3-0.2 1.3 0.1 1.2 0.6 1.3 1.4 1.3 1.3 1.3-0.1 1.3 0.3 1.3 1.1 1.3 0.9 1.3 0.3 1.3-0.1 1.3-0.2 1.3 0.1 1.2 1.4 1.3 0.8 1.3-0.1 1.3-0.7 1.3-0.1 1.3 0.9 1.3 1 1.3-0.2 1.3-0.9 1.3 0.4 1.3 1.9 1.3 0.9 1.2-0.6 1.3-0.8 1.3-0.3 1.3 0.6 1.3 1 1.3 0.7 1.3 0.1 1.3 0.4 1.3 0 1.3 0 1.3 0.6 1.3 0.7 1.2-0.3 1.3 0.1 1.3 0.4 1.3-0.4 1.3-0.2 1.3 0.6 1.3-0.1 1.3-0.3 1.3 0.8 1.3 0.8 1.3-0.5 1.3-0.4 1.2 0 1.3-0.3 1.3-0.1 1.3 0.8 1.3 0.6 1.3-0.2 1.3-0.6 1.3 0 1.3 0.4 1.3 0.5 1.3 0.4 1.2-0.1 1.3-0.1 1.3 0.6 1.3 0.3 1.3-0.4 1.3 0.2 1.3 0.1 1.3-0.9 1.3-0.1 1.3 0.7 1.3 0.5 1.3 0.5 1.2 0.2 1.3-0.1 1.3-0.3 1.3-1.3 1.3-2.7 1.3 2.8 1.3 1.9 1.3-0.4 1.3-0.5 1.3 0.2 1.3 0.1 1.3 0.5 1.2 0.7 1.3 0.1 1.3-0.2 1.3-0.2 1.3-0.2 1.3 0 1.3-0.3 1.3-0.6 1.3-0.1 1.3 0.7 1.3 0.6 1.3 0.2 1.2-0.1 1.3-0.4 1.3-0.2 1.3 0.1"/>
<path d="M628.2 533.5l1.3 0 1.3-0.2 1.3-0.2 1.3-0.9 1.3-1.3 1.3 0 1.3 0.1 1.3-0.7 1.3 0.5 1.3 0.7 1.3 0.1 1.2 0 1.3-0.9 1.3-0.7 1.3 0 1.3-1.6 1.3-1.4 1.3-2.1 1.3-1.2 1.3 1.2 1.3 1.7 1.3-0.1 1.3 1.1 1.2 0.1 1.3-1 1.3-0.9 1.3-2.3 1.3-1.8 1.3 0.8 1.3 1 1.3-0.4 1.3-1.7 1.3-0.9 1.3-0.6 1.3-0.9 1.2 0.3 1.3 0.5 1.3 0 1.3-0.1 1.3-1.2 1.3-0.8 1.3-0.1 1.3-1.2 1.3-0.7 1.3 1 1.3 0.6 1.3-0.3 1.2 1 1.3 0.6 1.3-3 1.3-2.2 1.3 0.5 1.3-0.4 1.3-0.5 1.3-0.2 1.3-0.2 1.3-1 1.3-1 1.2-0.6 1.3 0.6 1.3 1.2 1.3 0.7 1.3-1.7 1.3-1.9 1.3 0.4 1.3 0.3 1.3-1.5 1.3-1.3 1.3-0.7 1.3 0.6 1.2 0.7 1.3 0.5 1.3 0.4 1.3-0.5 1.3-0.7 1.3-0.4 1.3-1.2 1.3-2.8 1.3-0.2 1.3-0.3 1.3-1.8 1.3-1.2 1.2 1.4 1.3 1.5 1.3-0.1 1.3-1.4 1.3-0.7 1.3 1.1 1.3 2 1.3-0.1 1.3-1.5 1.3-1.3 1.3 0 1.3 1.6 1.2 1 1.3 0.4 1.3 0.7 1.3 0.7 1.3-0.8 1.3-1.3 1.3-0.3 1.3 0.7 1.3 0.5 1.3-0.1 1.3-0.7 1.2-0.1 1.3 0.4 1.3-0.8 1.3 0.2 1.3 2.1 1.3 1.1 1.3-0.2 1.3 1.3 1.3 1.9 1.3-2.8 1.3-5.8 1.3-4 1.2-3 1.3-5.3 1.3-6.9 1.3-6.6 1.3-6 1.3-3.9 1.3-1 1.3 0.7 1.3 2.8 1.3 2.6 1.3 0.5 1.3 0 1.2 0.9 1.3 0.1 1.3-1.1 1.3 0.6 1.3 3.8 1.3 3.6 1.3 3.6 1.3 5.1 1.3 4.2 1.3 5.5 1.3 6.3 1.3 3.3 1.2 2.5 1.3 2.2 1.3 2.1 1.3 1.7 1.3-0.4 1.3 0.1 1.3 1.4 1.3 1.1 1.3 2 1.3 1.7 1.3 0.5 1.2 0.3 1.3-0.3 1.3 0.4 1.3 1.1 1.3 0.8 1.3 0.2 1.3-0.3 1.3-0.1 1.3 1.2 1.3 1.2 1.3-0.1 1.3 0.4 1.2 1.3 1.3-0.1 1.3-0.9 1.3-2 1.3-3.5 1.3-4.2 1.3-4 1.3-1.7 1.3 0.6 1.3 0.9 1.3 1.6 1.3 1.1 1.2 0.3 1.3-0.1 1.3 0.8 1.3 2.2 1.3 1.6 1.3 1.2 1.3 1.9 1.3 2.3 1.3 2.3 1.3 2.1 1.3 1.3 1.3 0.9 1.2 0.5 1.3 0.8 1.3 1.6 1.3 1.5 1.3-0.1 1.3-0.2 1.3 0.5 1.3 0.5 1.3 0.4 1.3 1 1.3 1.7 1.3 1 1.2 0.5 1.3 0.7 1.3-0.8 1.3-1.7 1.3 2.7 1.3 0.9 1.3-0.9 1.3 0.3 1.3 0.4 1.3-0.1 1.3-0.2 1.2 0.3 1.3 0.7 1.3 0.8 1.3 0.2 1.3-0.1 1.3 0.6 1.3 0.7 1.3 0.2 1.3-0.2 1.3 0.5 1.3 0.7 1.3-0.1 1.2-0.4 1.3 0.2 1.3 0.3 1.3 0.3 1.3 0.6 1.3 0.7 1.3 0.2 1.3 0.1 1.3 0.2 1.3 0.4 1.3 0.3 1.3 0 1.2-0.3 1.3 0.3 1.3 0.3 1.3 0.5 1.3 0.1 1.3-0.8 1.3 0.2 1.3 0.7 1.3-0.7 1.3-0.8 1.3 0.5 1.3 0.9 1.2 0.6 1.3-0.3 1.3-0.8 1.3-0.1 1.3 0.8 1.3 0 1.3-0.1 1.3 0.2 1.3 0.6 1.3 1 1.3 0 1.2-0.9 1.3-0.6 1.3 0 1.3 0.5 1.3 0.2 1.3-0.5 1.3-0.2 1.3 0.8 1.3 0.1 1.3 0.3 1.3 1 1.3 0.2 1.2-1.1 1.3-0.1 1.3 0.6 1.3 1 1.3 0.2 1.3-0.8 1.3-0.8 1.3 0.1 1.3 0.4 1.3 0.7 1.3 0 1.3-0.6 1.2-0.3 1.3 0.2 1.3 0.2 1.3 0 1.3-0.2 1.3 0.1 1.3 0.1 1.3 0.1"/>
<path d="M630.9 529.8l1.3-0.2 1.3-0.7 1.3-1 1.3-0.9 1.3-0.4 1.2-0.4 1.3 0.5 1.3 0.5 1.3 0 1.3-0.2 1.3 0.2 1.3 0.5 1.3-1.1 1.3-1.1 1.3-0.8 1.3-1.9 1.3-0.7 1.2-0.4 1.3-0.3 1.3-0.3 1.3 0.7 1.3 1.2 1.3 0.3 1.3-1.3 1.3-1.3 1.3-1.8 1.3-0.6 1.3 0 1.3-0.9 1.2 0.6 1.3 0.4 1.3-1.5 1.3 0.3 1.3 0.2 1.3-1.5 1.3-0.7 1.3-0.2 1.3-0.7 1.3 0.6 1.3 0.5 1.3-0.8 1.2-0.7 1.3-0.5 1.3-0.5 1.3-0.2 1.3 0.1 1.3-0.3 1.3 0.6 1.3 1.1 1.3-1.7 1.3-1.9 1.3-1.2 1.2-0.8 1.3-0.4 1.3-0.8 1.3 0 1.3-0.9 1.3-1.3 1.3 0.4 1.3 0.3 1.3-1.4 1.3-0.1 1.3-0.1 1.3-0.2 1.2 0.5 1.3-1 1.3-0.9 1.3 0.8 1.3-0.7 1.3-0.4 1.3 0.5 1.3-0.2 1.3-0.3 1.3 1.6 1.3 0.3 1.3-2.4 1.2-1 1.3-1.9 1.3-1.7 1.3-0.9 1.3-0.1 1.3-0.5 1.3-0.9 1.3-0.2 1.3 0.6 1.3-0.5 1.3 0.9 1.3 0.8 1.2-0.6 1.3 0.3 1.3 1.6 1.3 0.5 1.3-0.7 1.3 1.7 1.3 1.3 1.3-1.8 1.3-0.7 1.3 0.4 1.3-0.7 1.3 1.3 1.2 2.5 1.3-0.2 1.3-1 1.3 0.7 1.3-0.5 1.3-1.8 1.3 0.3 1.3 1.3 1.3 0.5 1.3 0.1 1.3-0.7 1.2-0.4 1.3 0.6 1.3 0.5 1.3-1.4 1.3-2.7 1.3-4.3 1.3-6.2 1.3-5.3 1.3-4.8 1.3-6.9 1.3-6.9 1.3-4.4 1.2-0.8 1.3 1 1.3 1.2 1.3 0.9 1.3 0.9 1.3 1.1 1.3 0.5 1.3 0.2 1.3 1.8 1.3 2.1 1.3-0.1 1.3 2.1 1.2 6.2 1.3 5.8 1.3 3.8 1.3 4.4 1.3 5 1.3 4.6 1.3 3.7 1.3 2.2 1.3 1.6 1.3 1.4 1.3 0.9 1.3 0.7 1.2 0.9 1.3 0.4 1.3 0.8 1.3 1.3 1.3 0.7 1.3 0.8 1.3 1.1 1.3 1.5 1.3 0.3 1.3 0 1.3 1.2 1.2 1.2 1.3 0.3 1.3 0.3 1.3 0.6 1.3 0.8 1.3 0.5 1.3 0.9 1.3 0.7 1.3-2 1.3-5.4 1.3-5.5 1.3-3.7 1.2-1.8 1.3-1.3 1.3-0.7 1.3 0.9 1.3 2 1.3 1.1 1.3 0.8 1.3 0.9 1.3 1.3 1.3 1.7 1.3 1.4 1.3 1.6 1.2 1.8 1.3 1.8 1.3 2.5 1.3 2.2 1.3 1.2 1.3 1.4 1.3 1.5 1.3 1.8 1.3 0.8 1.3-0.9 1.3-0.3 1.3 1.3 1.2 1.4 1.3 0.9 1.3 0.4 1.3 0.7 1.3 1.7 1.3 0.7 1.3-0.4 1.3 0.2 1.3 0.3 1.3 0.3 1.3 1.2 1.2 0.8 1.3-0.6 1.3 0.1 1.3 0.4 1.3-0.8 1.3-0.3 1.3 1 1.3 0.7 1.3 0.5 1.3 0.9 1.3 0.5 1.3-0.2 1.2-0.4 1.3 0.2 1.3 0.5 1.3 0.5 1.3 0.4 1.3 0 1.3-0.3 1.3 0 1.3 0.1 1.3 0.3 1.3 0.2 1.3 0.4 1.2 0.3 1.3 0.3 1.3 0.2 1.3 0.6 1.3 0.2 1.3-0.4 1.3-0.3 1.3-0.1 1.3 0.3 1.3 0.2 1.3 0.3 1.3 1.2 1.2 0.7 1.3-0.4 1.3-0.6 1.3-0.8 1.3-0.3 1.3 0.4 1.3 0.5 1.3 0.6 1.3 0 1.3-0.4 1.3 0.4 1.2 0.9 1.3 0.2 1.3-0.2 1.3 0.1 1.3-0.2 1.3-0.1 1.3-0.6 1.3-0.7 1.3 0.3 1.3 0.7 1.3 0.7 1.3 0.1 1.2-0.5 1.3 0 1.3 0.4 1.3 0.5 1.3 0 1.3-0.1 1.3 0.3 1.3 0 1.3-0.3 1.3 0.1 1.3 0.2 1.3 0.1 1.2-0.4 1.3 0.1 1.3 0.5 1.3 0 1.3 0 1.3 0.4 1.3 0.2 1.3-0.2 1.3-0.6 1.3-0.1 1.3 0.2 1.3 0.3"/>
<path d="M633.6 523.7l1.2 0.4 1.3 0 1.3-1.3 1.3-0.9 1.3 0.6 1.3 0.3 1.3-1.2 1.3-1.1 1.3 0.5 1.3-0.5 1.3-0.2 1.2 1.3 1.3-0.4 1.3-0.7 1.3 0.1 1.3-1.1 1.3-0.7 1.3-0.8 1.3-0.8 1.3-0.4 1.3-0.6 1.3-0.3 1.3 1.9 1.2 0.3 1.3-1.8 1.3-1.5 1.3-1.1 1.3-1.1 1.3-1 1.3 0.9 1.3 1.8 1.3-0.5 1.3-1.3 1.3 0.1 1.3-0.1 1.2-1.7 1.3-0.2 1.3 0.4 1.3-0.5 1.3-0.6 1.3-0.7 1.3-0.2 1.3 0.2 1.3-0.2 1.3-0.3 1.3 0.6 1.3-0.4 1.2-0.5 1.3 0 1.3-2.3 1.3-1.7 1.3 0.3 1.3-0.6 1.3-1.3 1.3-0.5 1.3 0.6 1.3-0.1 1.3-0.8 1.2-0.8 1.3-0.1 1.3 0.6 1.3 1 1.3-0.6 1.3-1.2 1.3-1.1 1.3-1.5 1.3-0.8 1.3-0.4 1.3-1.2 1.3 0.9 1.2 0.6 1.3-0.4 1.3 0.8 1.3-0.1 1.3-1.3 1.3-0.1 1.3 0.3 1.3-2.4 1.3 0.2 1.3-0.2 1.3-2.7 1.3-0.7 1.2 0 1.3 0.4 1.3 2.1 1.3-0.4 1.3-0.5 1.3 0.2 1.3-0.3 1.3-0.4 1.3-0.3 1.3 0.9 1.3 0.5 1.3 0.5 1.2-0.2 1.3-1.7 1.3 0.8 1.3 2.2 1.3-0.2 1.3 1.3 1.3 1.9 1.3 0 1.3-0.1 1.3-0.9 1.3-1.5 1.2 0.1 1.3 0.9 1.3 0.3 1.3 0.4 1.3-0.2 1.3-0.5 1.3 1.2 1.3 1.6 1.3 0.2 1.3-2.1 1.3-4.5 1.3-6.8 1.2-7.1 1.3-6.1 1.3-4.6 1.3-5.3 1.3-6.6 1.3-4.6 1.3-2 1.3 0.1 1.3 2.9 1.3 2.8 1.3 0.1 1.3-0.1 1.2 0.8 1.3 0.3 1.3 2.1 1.3 3.1 1.3 2 1.3 1.4 1.3 3.5 1.3 5.3 1.3 5.5 1.3 5.3 1.3 4.2 1.3 4.4 1.2 3.8 1.3 1.5 1.3 2.4 1.3 2.2 1.3 0.5 1.3 0.2 1.3 1 1.3 1.5 1.3 1.3 1.3 0.5 1.3 0.3 1.2 0.8 1.3 0.8 1.3 0.6 1.3 0.6 1.3 1.3 1.3 0.7 1.3-0.3 1.3 0.4 1.3 1.9 1.3 1.3 1.3 0.8 1.3 0.1 1.2-1.6 1.3-1.5 1.3-1.6 1.3-3.3 1.3-3.5 1.3-4.9 1.3-4.2 1.3-0.6 1.3 1.3 1.3 1.3 1.3 1.2 1.3 0.3 1.2-0.3 1.3 0.5 1.3 1.9 1.3 1.8 1.3 2 1.3 2.6 1.3 1.8 1.3 0.8 1.3 2.6 1.3 3.4 1.3 1.8 1.3 1.2 1.2 2.2 1.3 1.9 1.3 0.3 1.3 0.1 1.3 0.5 1.3 0.7 1.3 0.4 1.3 0.7 1.3 0.6 1.3 0.7 1.3 1 1.3 0.8 1.2 0.7 1.3-0.1 1.3-0.4 1.3 1.1 1.3 0.9 1.3-0.2 1.3 0.3 1.3 0.4 1.3-0.3 1.3 0.3 1.3 0.6 1.2-0.2 1.3-0.6 1.3 0.7 1.3 1.3 1.3 0.5 1.3 0.3 1.3 0.4 1.3-0.7 1.3-0.7 1.3 0.9 1.3 1.1 1.3 0.7 1.2 0.1 1.3-0.4 1.3-0.1 1.3 0 1.3 0.1 1.3 0.8 1.3 0.5 1.3 0.1 1.3 0.1 1.3 0.4 1.3 0.2 1.3 0.1 1.2-0.3 1.3 0 1.3 0.4 1.3 0.4 1.3 0.1 1.3-0.1 1.3-0.4 1.3 0.1 1.3 0.4 1.3 0.6 1.3-0.4 1.3-0.9 1.2 0 1.3 0.2 1.3 0.2 1.3 0 1.3-0.1 1.3 0.2 1.3 0.7 1.3 0.3 1.3 0.3 1.3 0.8 1.3 0.4 1.2-0.5 1.3-0.9 1.3-0.5 1.3 0.7 1.3 0.7 1.3-0.2 1.3 0.1 1.3 0.6 1.3-0.3 1.3-0.3 1.3 0.1 1.3 0.1 1.2-0.2 1.3-0.1 1.3 0.1 1.3 0.2 1.3 0.5 1.3 0.5 1.3-0.3 1.3-0.6 1.3 0 1.3 0.8 1.3 0.2 1.3 0.2 1.2 0.1 1.3-0.4 1.3-0.4 1.3 0.3"/>
<path d="M636.2 517.9l1.3 0.6 1.3 0.4 1.3-0.7 1.3-1.4 1.3-0.6 1.2 0.5 1.3-0.2 1.3-0.5 1.3 0.2 1.3 0 1.3-0.1 1.3 0.7 1.3-0.8 1.3-1.1 1.3 0.9 1.3-0.6 1.3-2.2 1.2-1.4 1.3-0.9 1.3-1.1 1.3 2.1 1.3 2.7 1.3 0.4 1.3-1.8 1.3-2 1.3-0.5 1.3 0.1 1.3-1 1.3-1.7 1.2 0 1.3 0.5 1.3-1.5 1.3-1.3 1.3-0.1 1.3 0.4 1.3-0.8 1.3-1.2 1.3 0.2 1.3 0.5 1.3-0.6 1.3-0.1 1.2 1 1.3-0.5 1.3-1.4 1.3-0.3 1.3 0.1 1.3-0.1 1.3-0.3 1.3-0.5 1.3-0.6 1.3-0.7 1.3-0.1 1.2 0 1.3 0.2 1.3-0.2 1.3-0.3 1.3-1.6 1.3-1.3 1.3 0.1 1.3 0.7 1.3-0.3 1.3-1.5 1.3-0.6 1.3 1.1 1.2-0.7 1.3-2 1.3-0.6 1.3 0.6 1.3-1 1.3 0 1.3 0.6 1.3-0.5 1.3 0.2 1.3 0.4 1.3-0.1 1.3-0.2 1.2-2.5 1.3-3.5 1.3 0.3 1.3-1.4 1.3-1.7 1.3 0.8 1.3 0.8 1.3 0.7 1.3 0.5 1.3-0.1 1.3 0.2 1.3 0 1.2 0.7 1.3 0.3 1.3-0.4 1.3 0.5 1.3 1.8 1.3 1.2 1.3-0.2 1.3 0.3 1.3 1 1.3 0.4 1.3-1.2 1.3-0.2 1.2 0.3 1.3 0.3 1.3 0.2 1.3-1.4 1.3-2 1.3-0.1 1.3 0.8 1.3 1.2 1.3 0.6 1.3-0.6 1.3 0.3 1.2 0.8 1.3 0.2 1.3 0.3 1.3-1.3 1.3-3.3 1.3-5.3 1.3-6.7 1.3-6.9 1.3-6.3 1.3-6.7 1.3-6 1.3-4.2 1.2-1 1.3 0.6 1.3 0.3 1.3 1 1.3 1.3 1.3-0.5 1.3-0.3 1.3 1.4 1.3 1 1.3 1.6 1.3 3.6 1.3 3.3 1.2 3.7 1.3 6.3 1.3 6.7 1.3 4.4 1.3 4 1.3 3.7 1.3 3.8 1.3 3.7 1.3 1.6 1.3 0.9 1.3 1.3 1.3 1.3 1.2 2.2 1.3 1.7 1.3 0.5 1.3 0.7 1.3 1.2 1.3 0.5 1.3-0.5 1.3 0.8 1.3 1.5 1.3 0.4 1.3-0.2 1.2 0.5 1.3 0.5 1.3 0.7 1.3 0.5 1.3-0.4 1.3 0.8 1.3 1.4 1.3-1.7 1.3-4.1 1.3-4.4 1.3-4.5 1.3-4.3 1.2-2.8 1.3-0.7 1.3 0.9 1.3 1 1.3 0.9 1.3 0.6 1.3 0.8 1.3 0.8 1.3 0.3 1.3 1.6 1.3 3.1 1.3 2.7 1.2 1.7 1.3 1.4 1.3 2 1.3 2.2 1.3 1.6 1.3 2.2 1.3 2.1 1.3 1 1.3 1.3 1.3 2.1 1.3 0.6 1.3-0.4 1.2 0.5 1.3 0.9 1.3 0.6 1.3 1.4 1.3 1.6 1.3 0.4 1.3-0.4 1.3 0.4 1.3 0.2 1.3-0.4 1.3 0.1 1.2 0.9 1.3 0.5 1.3 0.3 1.3 0.3 1.3 0.4 1.3 0.3 1.3-0.4 1.3-0.3 1.3 0.5 1.3 1.1 1.3 0.6 1.3 0.2 1.2 0.3 1.3-0.1 1.3-0.5 1.3-0.4 1.3 0.1 1.3 1.1 1.3 0.6 1.3 0 1.3-0.1 1.3 0.7 1.3 0.9 1.3 0.4 1.2 0.2 1.3-0.2 1.3-0.1 1.3 0.7 1.3 0.3 1.3 0.4 1.3 0.6 1.3-0.5 1.3-1 1.3 0.5 1.3 0.6 1.3-0.6 1.2-0.3 1.3 0.4 1.3-0.1 1.3-0.1 1.3 0 1.3 0.6 1.3 0.4 1.3-0.7 1.3-0.2 1.3 0.8 1.3 0.5 1.2-0.2 1.3 0 1.3 0 1.3 0.2 1.3 0.4 1.3 0.1 1.3-0.3 1.3-1 1.3-0.3 1.3 0.6 1.3 0.6 1.3 0.2 1.2 0 1.3 0.3 1.3 0.3 1.3 0.1 1.3 0 1.3 0.2 1.3-0.1 1.3-0.1 1.3 0.2 1.3 0.6 1.3-0.1 1.3 0.2 1.2 0.5 1.3 0 1.3-0.2 1.3-0.1 1.3-0.2 1.3 0.5 1.3 0.6 1.3-0.3"/>
<path d="M638.9 513.6l1.3 0.8 1.3-0.9 1.3-1.4 1.3-0.3 1.3-0.2 1.3-0.5 1.3 0.4 1.3 0.1 1.3-0.4 1.3-0.6 1.3 0.9 1.2 1.3 1.3-1.8 1.3-1 1.3 1 1.3-0.9 1.3-0.3 1.3-0.3 1.3-1.2 1.3-1.1 1.3-0.2 1.3 0.4 1.3 1 1.2-0.4 1.3-1.1 1.3-1.5 1.3-1.5 1.3-0.2 1.3 0.3 1.3-0.2 1.3-0.3 1.3-1.3 1.3 0.2 1.3 0.7 1.3-1.5 1.2-0.9 1.3 0.8 1.3 0.1 1.3-0.7 1.3-0.4 1.3 0.5 1.3-0.1 1.3-0.2 1.3-0.4 1.3-0.3 1.3 0.1 1.3-1.8 1.2-0.3 1.3 0.2 1.3-1.9 1.3-0.4 1.3 0.5 1.3-0.5 1.3-0.9 1.3-0.8 1.3 0.3 1.3 0.4 1.3-0.1 1.2-1.6 1.3-1.5 1.3-0.8 1.3 0.2 1.3 0.8 1.3-0.2 1.3-0.9 1.3-0.9 1.3-0.6 1.3 0.7 1.3 0 1.3-1 1.2 0.4 1.3 0.7 1.3-0.5 1.3 0.3 1.3 0.8 1.3-1.6 1.3-2.1 1.3-1.5 1.3-0.5 1.3-1.3 1.3-2.1 1.3-1.6 1.2 0.5 1.3 0.5 1.3 0.1 1.3 0.3 1.3 1.4 1.3 0.8 1.3-1 1.3-0.9 1.3 0.6 1.3 1.6 1.3 1.3 1.3 1.3 1.2 0.4 1.3-0.9 1.3-0.2 1.3 1.6 1.3-0.9 1.3-2.3 1.3 0.7 1.3 2.2 1.3-0.5 1.3-1 1.3 0.9 1.2 0.1 1.3-0.5 1.3-0.4 1.3-0.4 1.3 1.4 1.3 0.7 1.3-0.4 1.3 0.7 1.3-0.5 1.3-2.6 1.3-2.2 1.3-4.7 1.2-7 1.3-6.9 1.3-7 1.3-7.2 1.3-6.5 1.3-5.1 1.3-2.9 1.3-0.1 1.3 2 1.3 2.5 1.3 1.6 1.3 0.4 1.2 0 1.3 0 1.3 1.4 1.3 1.9 1.3 2.7 1.3 4.2 1.3 3.6 1.3 4 1.3 6.6 1.3 6.9 1.3 4.7 1.3 3.4 1.2 4.3 1.3 3.6 1.3 3 1.3 2.4 1.3 0.2 1.3 0.6 1.3 1.2 1.3 0.5 1.3 1.5 1.3 1.9 1.3 1.1 1.2 0.2 1.3 0.9 1.3 1.5 1.3 0.2 1.3 0.7 1.3 0.6 1.3-0.6 1.3 1 1.3 1.6 1.3-0.6 1.3 0.4 1.3 0.4 1.2-2 1.3-2.7 1.3-3.4 1.3-4.4 1.3-4 1.3-2.9 1.3-2 1.3-2.5 1.3-0.9 1.3 1.9 1.3 1.9 1.3 0 1.2 0.2 1.3 1.4 1.3 0.6 1.3 0.8 1.3 2.8 1.3 3 1.3 2.7 1.3 2.7 1.3 1.7 1.3 1.7 1.3 2 1.3 2.3 1.2 2.5 1.3 1.3 1.3 0.1 1.3 1.5 1.3 1.8 1.3 0.6 1.3 0.4 1.3 0.9 1.3 0.6 1.3 0.9 1.3 0.9 1.3 0.2 1.2-0.2 1.3 0.6 1.3 1.1 1.3 0 1.3-0.1 1.3 1.1 1.3 0.9 1.3-0.4 1.3-1.3 1.3 0.2 1.3 1.2 1.2 0.6 1.3 0.1 1.3 0.9 1.3 1.2 1.3-0.1 1.3-0.8 1.3-0.6 1.3-0.2 1.3 0.4 1.3 0.9 1.3 1.3 1.3 0.5 1.2-0.3 1.3 0 1.3-0.1 1.3-0.2 1.3 0.2 1.3 0.8 1.3 0.2 1.3-0.4 1.3 0.1 1.3 0.2 1.3-0.4 1.3 0.2 1.2 0.8 1.3 1.1 1.3 0.3 1.3-0.6 1.3 0 1.3 0.2 1.3-0.1 1.3-0.2 1.3-0.2 1.3 0.2 1.3 0.3 1.3-0.4 1.2-0.8 1.3 0.2 1.3 0.9 1.3 0.8 1.3 0.2 1.3-0.2 1.3-0.2 1.3-0.1 1.3 0.1 1.3-0.1 1.3 0.1 1.2 0 1.3 0 1.3-0.2 1.3-0.2 1.3 0.3 1.3 0.5 1.3 0.5 1.3 0.6 1.3 0.1 1.3 0.3 1.3-0.5 1.3-0.9 1.2 0.3 1.3 0.7 1.3 0 1.3 0.3 1.3-0.1 1.3-0.3 1.3 0 1.3 0 1.3-0.1 1.3 0.5 1.3 0.5"/>
<path d="M641.5 509.5l1.3-0.3 1.3-0.4 1.3-0.4 1.3-0.3 1.3-1 1.2-0.6 1.3 0.9 1.3-0.5 1.3-0.8 1.3-0.1 1.3 0.2 1.3 0.6 1.3-0.5 1.3-0.3 1.3 0 1.3-2.4 1.3-1.9 1.2-0.3 1.3-0.6 1.3-0.5 1.3 0.6 1.3 1.3 1.3 2.3 1.3-0.6 1.3-1.8 1.3-0.8 1.3-0.5 1.3-0.8 1.3-1.3 1.2-0.6 1.3 0.3 1.3-1.2 1.3-0.4 1.3 1 1.3-1.1 1.3-1.4 1.3 0.6 1.3-0.2 1.3-1.1 1.3-0.7 1.3 0.1 1.2 0.3 1.3-0.7 1.3 0.2 1.3 0.7 1.3 0.1 1.3 0 1.3 0.5 1.3-0.4 1.3-2.2 1.3-0.8 1.3-0.3 1.2-2.2 1.3-0.6 1.3 0.8 1.3 0.3 1.3 0.1 1.3-0.1 1.3-1.6 1.3-1.8 1.3 0.1 1.3 1.4 1.3 0.3 1.3 0.1 1.2-0.6 1.3-1.6 1.3-1 1.3 0.5 1.3 1.1 1.3 0 1.3-2.5 1.3-1.1 1.3 1 1.3 0.2 1.3-0.4 1.3 0.2 1.2 0.4 1.3-2.2 1.3-2.1 1.3-2.4 1.3-2.2 1.3 0.4 1.3 2.3 1.3 0.4 1.3 0.2 1.3 0.3 1.3-0.8 1.3-0.7 1.2 0.1 1.3 0.6 1.3 0.3 1.3-0.5 1.3 0.6 1.3 2.5 1.3 1.8 1.3-0.2 1.3 0.1 1.3 0.8 1.3-0.9 1.3-0.3 1.2 1.1 1.3 0.6 1.3-1.1 1.3-1.6 1.3-0.3 1.3 1.1 1.3-0.3 1.3-1.5 1.3 1.4 1.3 3.3 1.3-0.1 1.2-1.2 1.3 0.3 1.3-0.4 1.3-2.6 1.3-5 1.3-7 1.3-6 1.3-6.2 1.3-8.1 1.3-7.1 1.3-6.1 1.3-6.5 1.2-4 1.3-0.8 1.3 5.6 1.3 4.3 1.3 2.1 1.3-0.5 1.3 0.1 1.3 1.5 1.3 1.1 1.3 0.5 1.3 1.7 1.3 3.5 1.2 3.5 1.3 5.3 1.3 7.9 1.3 6.9 1.3 5.2 1.3 3.8 1.3 3.9 1.3 4.2 1.3 2.5 1.3 1.1 1.3 1 1.3 0.9 1.2 0.5 1.3-0.6 1.3 0.7 1.3 3 1.3 2 1.3-0.4 1.3-0.6 1.3 1.3 1.3 2.4 1.3 0.6 1.3-0.4 1.2 0.1 1.3 0.3 1.3 1.8 1.3 1.7 1.3-0.3 1.3-0.9 1.3-0.9 1.3-3.4 1.3-5.2 1.3-4.3 1.3-3.4 1.3-4.2 1.2-3.4 1.3-0.8 1.3 0.7 1.3 0.8 1.3 0.9 1.3 0.6 1.3 1.6 1.3 1 1.3 0 1.3 1.8 1.3 2.6 1.3 1.8 1.2 3.1 1.3 3.6 1.3 2.7 1.3 1.9 1.3 1.6 1.3 2.8 1.3 3 1.3 1.7 1.3 0.2 1.3 0.8 1.3 1.2 1.3 0 1.2-0.3 1.3 0.5 1.3 1.8 1.3 2.5 1.3 1.3 1.3-0.3 1.3-0.6 1.3 0.3 1.3 0.5 1.3-0.2 1.3-0.4 1.2 0.8 1.3 1.1 1.3 0.6 1.3-0.9 1.3 0 1.3 1 1.3 0.1 1.3 0 1.3 0.5 1.3 0.7 1.3 0.8 1.3 0.4 1.2-0.7 1.3-0.4 1.3 0.5 1.3 0.2 1.3-0.2 1.3 0.2 1.3 0.6 1.3 0.5 1.3 0.3 1.3-0.2 1.3-0.4 1.3 0.5 1.2 0.9 1.3 0.3 1.3-0.2 1.3 0 1.3 0.1 1.3 0.2 1.3 0.2 1.3 0.2 1.3 0.4 1.3 0.5 1.3 0 1.3-0.1 1.2-0.5 1.3-0.6 1.3-0.2 1.3 0.4 1.3 0.6 1.3 0.6 1.3 0.4 1.3 0.4 1.3 0 1.3-0.5 1.3-0.5 1.2-0.1 1.3 0.6 1.3 0.3 1.3 0.4 1.3 0.1 1.3-0.4 1.3-0.6 1.3-0.4 1.3 0.3 1.3 0.5 1.3 0.3 1.3-0.1 1.2 0.1 1.3 0.6 1.3 0 1.3-0.2 1.3-0.1 1.3 0.2 1.3 0.2 1.3 0.2 1.3 0.5 1.3 0.5 1.3-0.6 1.3 0.1 1.2 0.8 1.3 0 1.3-0.5"/>
<path d="M644.1 504.6l1.2 0.2 1.3-0.3 1.3-1.4 1.3-1.3 1.3-0.4 1.3-0.5 1.3 0.5 1.3 0.8 1.3 0.6 1.3 0.1 1.3-0.6 1.2-0.7 1.3-1.7 1.3-0.7 1.3 0.8 1.3-0.2 1.3-0.7 1.3-1.5 1.3-1.1 1.3 0.1 1.3 0.9 1.3 0.1 1.3 1.2 1.2-0.1 1.3-1.9 1.3-0.5 1.3 0 1.3-0.7 1.3-1 1.3-0.5 1.3-0.3 1.3-2.1 1.3-0.7 1.3 0.9 1.3-0.1 1.2-0.6 1.3-0.2 1.3 0.1 1.3 0.7 1.3 0.3 1.3-1.2 1.3-1.2 1.3 0.3 1.3-0.4 1.3-1.6 1.3-0.3 1.3 0.4 1.2 0.3 1.3 0.5 1.3-0.5 1.3-1.6 1.3-2.2 1.3-0.5 1.3 1.7 1.3 0.3 1.3-1 1.3-1.4 1.3 1.1 1.2 1 1.3-1.6 1.3-1.5 1.3 0 1.3 0.2 1.3-0.8 1.3-0.9 1.3-0.3 1.3-0.1 1.3 0.4 1.3-1.1 1.3-1.5 1.2 0.1 1.3 1.1 1.3 0.2 1.3-0.5 1.3-0.5 1.3-0.7 1.3-0.4 1.3-2.4 1.3-1 1.3 0.4 1.3-0.7 1.3-1.7 1.2-0.2 1.3 0.5 1.3-0.5 1.3-1.9 1.3 0.7 1.3 1.9 1.3 0.2 1.3 0.8 1.3 0.4 1.3 0.2 1.3 1 1.3 0.6 1.2-0.4 1.3-1.4 1.3-0.7 1.3 1.9 1.3 1.2 1.3 0.5 1.3 0.6 1.3 0 1.3 0.3 1.3 0.2 1.3-0.1 1.2 0.1 1.3-0.9 1.3-0.4 1.3 0.1 1.3 0.3 1.3 0.3 1.3-1 1.3 0.6 1.3 2.1 1.3-1.9 1.3-5.3 1.3-6.9 1.2-7.9 1.3-7.3 1.3-6.6 1.3-6.7 1.3-6.4 1.3-6.8 1.3-3.1 1.3 1.7 1.3 1.8 1.3 1.6 1.3 1.2 1.3-0.4 1.2-0.2 1.3 2.3 1.3 3.2 1.3 0.6 1.3 1 1.3 4.7 1.3 4.4 1.3 3.9 1.3 6.6 1.3 7.4 1.3 5.9 1.3 4.9 1.2 4.1 1.3 2.8 1.3 2.4 1.3 3.5 1.3 2.9 1.3 0.7 1.3 0.5 1.3 0.9 1.3 0.3 1.3 0.5 1.3 1.4 1.2 0.4 1.3 0 1.3 0.7 1.3 0.1 1.3 1.2 1.3 1.3 1.3-0.3 1.3-0.1 1.3 1.3 1.3 1.3 1.3 0.5 1.3-1.3 1.2-3.8 1.3-4 1.3-3.4 1.3-4.3 1.3-4.1 1.3-3.9 1.3-3.7 1.3-0.9 1.3 1.7 1.3 1.6 1.3 1.4 1.3 0.3 1.2-0.2 1.3 1.2 1.3 2.4 1.3 2.5 1.3 2.2 1.3 2.1 1.3 2 1.3 1.5 1.3 2.5 1.3 3.2 1.3 2.7 1.3 2.9 1.2 2.4 1.3 2 1.3 1.1 1.3 0.7 1.3 1.3 1.3 0.5 1.3 0.5 1.3 0.9 1.3 0.1 1.3 0.8 1.3 1.1 1.3 0.2 1.2 0.3 1.3 0.8 1.3 0.2 1.3 0.4 1.3 0.5 1.3-0.2 1.3-0.1 1.3 1.1 1.3 0.6 1.3-0.6 1.3 0.1 1.2 1.4 1.3 0.8 1.3-0.2 1.3 0 1.3 0 1.3-0.2 1.3-0.4 1.3-0.2 1.3 0.2 1.3 0.6 1.3 0.7 1.3 0.7 1.2 0 1.3 0.1 1.3 0.3 1.3 0.4 1.3 0.6 1.3 0.3 1.3-0.1 1.3-0.1 1.3-0.2 1.3 0.8 1.3 0.8 1.3-0.4 1.2-0.8 1.3 0.3 1.3 0.6 1.3 0.2 1.3 0.6 1.3 0.3 1.3-0.9 1.3-0.3 1.3 0.6 1.3 0 1.3-0.2 1.3-0.3 1.2-0.4 1.3 0.4 1.3 0.3 1.3-0.6 1.3 0.3 1.3 0.8 1.3 0.7 1.3 0.4 1.3 0.1 1.3 0.3 1.3-0.3 1.2-1.2 1.3-0.8 1.3 0.2 1.3 0.9 1.3 0.5 1.3-0.1 1.3-0.2 1.3 0.7 1.3 0.9 1.3 0.5 1.3-0.8 1.3-1.1 1.2-0.3 1.3 0.8 1.3 0.6 1.3 0.6 1.3 0.6 1.3-0.3 1.3-0.2"/>
<path d="M646.8 499.7l1.3-0.2 1.3-0.4 1.3-0.4 1.3-0.9 1.3-0.8 1.2 0 1.3 0.5 1.3-0.5 1.3-1.1 1.3-0.3 1.3 1 1.3 0.8 1.3-1.9 1.3-0.3 1.3 1.9 1.3-1.8 1.3-2.2 1.2-0.2 1.3 0.1 1.3-0.6 1.3 0.6 1.3 0.9 1.3-0.1 1.3-1.7 1.3-0.5 1.3-0.1 1.3-1.2 1.3-1 1.3-0.5 1.2-0.1 1.3 0 1.3-0.7 1.3 0 1.3 0.6 1.3 0.1 1.3-2.2 1.3-1.5 1.3 1.6 1.3 0.9 1.3-0.3 1.3-0.3 1.2-1 1.3-0.7 1.3 0.5 1.3-0.2 1.3-1.4 1.3-0.8 1.3 1.1 1.3 0.4 1.3-2.5 1.3-1.6 1.3 0.9 1.2 0.4 1.3-0.8 1.3-0.2 1.3-0.7 1.3-2 1.3 0.2 1.3 0.8 1.3-0.5 1.3-0.6 1.3-0.2 1.3 0.2 1.3-0.1 1.2-1.5 1.3 0.1 1.3 0.4 1.3-0.7 1.3-0.8 1.3-0.5 1.3-0.5 1.3 0 1.3 0.8 1.3 0.9 1.3-0.1 1.3-1.5 1.2-1.7 1.3-1 1.3 0.3 1.3-1.9 1.3-2.3 1.3-0.6 1.3 0.8 1.3-0.2 1.3-0.4 1.3 0.7 1.3 1 1.3 0.6 1.2 0.4 1.3 0.3 1.3-0.1 1.3-0.5 1.3 0.5 1.3 1.6 1.3 1.5 1.3 0.4 1.3-0.7 1.3 0.1 1.3 0.3 1.3 0.1 1.2 0.7 1.3 1 1.3-0.9 1.3-1.9 1.3-0.3 1.3 0.9 1.3-0.5 1.3-0.9 1.3 0.3 1.3 1.6 1.3 1 1.2-0.5 1.3 1 1.3 1.3 1.3-3.5 1.3-7 1.3-6.1 1.3-6.3 1.3-7.6 1.3-7.9 1.3-8.8 1.3-8.8 1.3-4.6 1.2-1 1.3-0.3 1.3 1.7 1.3 2 1.3 2.7 1.3 2.8 1.3 0.3 1.3-0.9 1.3-0.8 1.3 0.2 1.3 2.9 1.3 5.1 1.2 5.9 1.3 6.2 1.3 6.3 1.3 6.3 1.3 6.3 1.3 4.6 1.3 3.7 1.3 4 1.3 2.9 1.3 1.4 1.3 0.4 1.3 0.6 1.2 2.6 1.3 1.2 1.3 0.1 1.3 1.5 1.3 1 1.3 0.4 1.3 1.2 1.3 1 1.3 0.5 1.3 1 1.3 0.6 1.2 0.5 1.3 1.4 1.3 1 1.3-0.8 1.3-0.8 1.3-1.2 1.3-2.7 1.3-2.9 1.3-4.3 1.3-6.2 1.3-5.2 1.3-4 1.2-2.1 1.3-0.4 1.3-0.4 1.3 0.3 1.3 2.3 1.3 1.7 1.3-0.3 1.3-0.1 1.3 1.4 1.3 1.8 1.3 2.7 1.3 3.1 1.2 2.7 1.3 2.4 1.3 3.7 1.3 4.6 1.3 2.6 1.3 1.6 1.3 2.6 1.3 2 1.3 0.7 1.3 1.4 1.3 0.9 1.3 0.1 1.2 0.6 1.3 1 1.3 0.9 1.3 1 1.3 0.2 1.3 0 1.3 0.6 1.3 0.1 1.3-0.2 1.3 0.7 1.3 0.3 1.2 0.3 1.3 1.2 1.3 1.1 1.3-0.2 1.3 0 1.3-0.4 1.3-0.9 1.3 0.6 1.3 1 1.3 0.3 1.3 0.4 1.3 0.8 1.2 0.2 1.3-0.2 1.3 0.3 1.3 0.5 1.3 0.6 1.3 0.1 1.3-0.6 1.3-0.1 1.3 0.3 1.3 0.4 1.3 0.6 1.3 0.5 1.2 0.3 1.3 0.4 1.3 0.2 1.3-0.2 1.3 0 1.3 0.1 1.3-0.1 1.3-0.3 1.3-0.2 1.3 0.2 1.3 0 1.3 0.3 1.2 0.3 1.3 0.5 1.3-0.1 1.3-0.2 1.3 0.4 1.3 0.3 1.3 0.1 1.3-0.2 1.3-0.4 1.3-0.1 1.3 0 1.2 0.2 1.3 0.5 1.3 0.5 1.3 0.7 1.3 0.1 1.3-0.3 1.3-0.1 1.3 0.1 1.3 0.2 1.3-0.1 1.3-0.1 1.3-0.1 1.2-0.1 1.3 0.7 1.3 0.4 1.3-0.1 1.3-0.2 1.3 0.3 1.3 0 1.3-0.6 1.3-0.4 1.3 0.4 1.3 0.7"/>
<path d="M649.5 493.2l1.3-0.3 1.3 0.1 1.3 0.6 1.3-0.2 1.3-1.6 1.3-0.8 1.3 0.9 1.3-0.3 1.3-0.5 1.3 0.6 1.3 0.5 1.2 0.3 1.3-1.8 1.3-0.9 1.3 1.4 1.3-0.9 1.3 0 1.3 0.1 1.3-2.5 1.3-1.5 1.3 1.5 1.3 0.4 1.3 0 1.2-0.4 1.3-0.2 1.3-0.3 1.3-1.5 1.3-1.9 1.3-0.3 1.3 1.1 1.3 0.5 1.3-1.7 1.3-2 1.3-0.5 1.3 0.6 1.2 0.1 1.3-0.3 1.3 0.2 1.3 1.2 1.3 1 1.3-1.4 1.3-1.8 1.3 0.2 1.3-0.5 1.3-1.6 1.3-0.3 1.3 0.2 1.2 0.4 1.3 0.9 1.3-1.4 1.3-1.8 1.3 0.5 1.3 0.2 1.3-0.7 1.3-0.7 1.3-0.5 1.3-1.3 1.3 0.5 1.2 0.8 1.3-0.3 1.3-0.2 1.3 0 1.3-0.7 1.3-0.9 1.3-0.3 1.3-0.1 1.3-0.8 1.3-0.8 1.3-1.3 1.3 0.2 1.2 1 1.3-0.4 1.3-0.7 1.3 0.4 1.3 0.2 1.3-0.8 1.3-0.6 1.3-2.6 1.3-1.5 1.3-1.2 1.3-1 1.3-0.7 1.2-0.2 1.3 0.8 1.3 0.1 1.3 0.8 1.3 1.5 1.3 0.1 1.3 0.5 1.3 0.6 1.3 0.1 1.3 1.2 1.3 0.7 1.3-0.9 1.2-0.5 1.3 0.5 1.3 0.3 1.3 0.5 1.3-0.9 1.3 0.1 1.3 2.4 1.3 0.6 1.3-0.4 1.3-0.8 1.3-1.4 1.2 0.2 1.3-0.1 1.3 0 1.3 1.5 1.3 0.9 1.3 0.2 1.3 0.5 1.3-0.2 1.3-0.5 1.3-2 1.3-5.4 1.3-7 1.2-6.6 1.3-9 1.3-10.4 1.3-8.1 1.3-7.8 1.3-6.5 1.3-1.6 1.3 1.3 1.3 3.3 1.3 3.3 1.3 1.3 1.3-1.2 1.2-1.4 1.3-0.1 1.3 1.4 1.3 2.5 1.3 3.1 1.3 4.8 1.3 6.3 1.3 6.8 1.3 6.2 1.3 5.6 1.3 5.9 1.3 5.3 1.2 4 1.3 3.1 1.3 3.6 1.3 3 1.3 0.8 1.3 0.2 1.3 1.1 1.3 1.6 1.3 1.9 1.3 1.3 1.3 0.4 1.2 1 1.3 0.6 1.3 0 1.3 0.5 1.3 0.6 1.3 0.6 1.3 0.3 1.3 0.1 1.3 1.3 1.3 1.2 1.3-0.3 1.3-3.3 1.2-5.1 1.3-3.8 1.3-3.6 1.3-5.1 1.3-4.5 1.3-3.3 1.3-2.4 1.3-1.5 1.3 0 1.3 0.7 1.3 1.4 1.3 1.4 1.2 1.1 1.3 1.2 1.3 1.4 1.3 2.3 1.3 3.6 1.3 2.6 1.3 2 1.3 2.6 1.3 2.8 1.3 3.3 1.3 3.1 1.3 1.7 1.2 1.3 1.3 2.4 1.3 2.1 1.3 1.3 1.3 0.7 1.3 0.9 1.3 1 1.3 0.9 1.3 0.6 1.3 0.5 1.3 0.8 1.3 1.3 1.2 0.8 1.3-0.1 1.3-0.2 1.3 0.5 1.3 0.7 1.3 0.5 1.3 0.5 1.3 0.4 1.3-0.2 1.3 0.2 1.3 0.8 1.2-0.8 1.3-1.3 1.3 0.5 1.3 0.9 1.3 0.1 1.3 0.4 1.3 0.2 1.3-0.2 1.3 0.4 1.3 1.1 1.3 0.4 1.3 0 1.2 0 1.3 0.5 1.3 0.1 1.3-0.5 1.3-0.1 1.3 0.7 1.3 0.9 1.3 0.8 1.3 0.2 1.3 0.1 1.3 0.4 1.3 0.3 1.2-0.1 1.3-0.4 1.3-0.1 1.3 0.5 1.3 0.3 1.3-0.3 1.3-0.1 1.3 0.4 1.3-0.3 1.3 0 1.3 0.6 1.3 0.4 1.2-0.3 1.3-0.2 1.3 0 1.3-0.6 1.3-0.1 1.3 0.4 1.3 0.5 1.3 0.5 1.3 0.4 1.3-0.2 1.3-0.5 1.2-0.2 1.3 0.4 1.3 0.1 1.3-0.4 1.3 0.3 1.3 0.4 1.3-0.1 1.3 0.5 1.3 0.3 1.3 0.1 1.3-0.1 1.3-0.2 1.2-0.1 1.3 0.5 1.3 0.3"/>
</g>
<path d="M572.60 460.42V675.20H961.05" fill="none" stroke="#000" stroke-width="2.1"/>
<path d="M572.60 675.20v3.3M598.43 675.20v5.3M624.26 675.20v3.3M650.09 675.20v5.3M675.92 675.20v3.3M701.75 675.20v5.3M727.58 675.20v3.3M753.41 675.20v5.3M779.24 675.20v3.3M805.07 675.20v5.3M830.90 675.20v3.3M856.73 675.20v5.3M882.56 675.20v3.3M908.39 675.20v5.3M934.22 675.20v3.3M960.05 675.20v5.3M572.60 675.20h-5.6M572.60 659.93h-3.4M572.60 644.66h-5.6M572.60 629.39h-3.4M572.60 614.12h-5.6M572.60 598.85h-3.4M572.60 583.58h-5.6M572.60 568.31h-3.4M572.60 553.04h-5.6M572.60 537.77h-3.4M572.60 522.50h-5.6M572.60 507.23h-3.4M572.60 491.96h-5.6M572.60 476.69h-3.4M572.60 461.42h-5.6" fill="none" stroke="#000" stroke-width="2.1"/>
<text x="598.4" y="692.5" text-anchor="middle" font-size="13.5">16</text>
<text x="650.1" y="692.5" text-anchor="middle" font-size="13.5">18</text>
<text x="701.8" y="692.5" text-anchor="middle" font-size="13.5">20</text>
<text x="753.4" y="692.5" text-anchor="middle" font-size="13.5">22</text>
<text x="805.1" y="692.5" text-anchor="middle" font-size="13.5">24</text>
<text x="856.7" y="692.5" text-anchor="middle" font-size="13.5">26</text>
<text x="908.4" y="692.5" text-anchor="middle" font-size="13.5">28</text>
<text x="960.0" y="692.5" text-anchor="middle" font-size="13.5">30</text>
<text x="564.6" y="678.6" text-anchor="end" font-size="13.5">0</text>
<text x="564.6" y="648.1" text-anchor="end" font-size="13.5">20</text>
<text x="564.6" y="617.5" text-anchor="end" font-size="13.5">40</text>
<text x="564.6" y="587.0" text-anchor="end" font-size="13.5">60</text>
<text x="564.6" y="556.4" text-anchor="end" font-size="13.5">80</text>
<text x="564.6" y="525.9" text-anchor="end" font-size="13.5">100</text>
<text x="564.6" y="495.4" text-anchor="end" font-size="13.5">120</text>
<text x="564.6" y="464.8" text-anchor="end" font-size="13.5">140</text>
<text x="148.66" y="18.0" font-size="20" textLength="194.1" lengthAdjust="spacingAndGlyphs">PEO-PCL 5K-3K at 40</text><text x="342.6" y="6.7" font-size="11.5">o</text><text x="348.6" y="18.0" font-size="20">C</text>
<text x="701.56" y="21.8" font-size="20" textLength="209.7" lengthAdjust="spacingAndGlyphs">PEO-PCL 5k-10k at 40</text><text x="916.3" y="11.0" font-size="11.5">o</text><text x="923.6" y="21.9" font-size="20">C</text>
<text x="203.16" y="388.0" font-size="20" textLength="207.6" lengthAdjust="spacingAndGlyphs">PEO-PCL 5k-15k at 40</text><text x="410.8" y="377.6" font-size="11.5">o</text><text x="417.2" y="388.0" font-size="20">C</text>
<text x="700.06" y="384.5" font-size="20" textLength="201.9" lengthAdjust="spacingAndGlyphs">PEO-PCL 5k-20k at 40</text><text x="901.6" y="374.3" font-size="11.5">o</text><text x="908.4" y="384.8" font-size="20">C</text>
<text x="236.2" y="359.0" font-size="18">2</text><text x="246.39999999999998" y="359.3" font-size="18" font-family="Liberation Serif">θ</text>
<text x="768.0" y="359.4" font-size="18">2</text><text x="778.2" y="359.7" font-size="18" font-family="Liberation Serif">θ</text>
<text x="251.2" y="718.6" font-size="18">2</text><text x="261.4" y="718.9" font-size="18" font-family="Liberation Serif">θ</text>
<text x="756.7" y="718.9" font-size="18">2</text><text x="766.9000000000001" y="719.1999999999999" font-size="18" font-family="Liberation Serif">θ</text>
<text transform="translate(13.8,275) rotate(-90)" font-size="17" textLength="117.5" lengthAdjust="spacingAndGlyphs">Intensity(a. u.)</text>
<text transform="translate(532.6,268.4) rotate(-90)" font-size="17" textLength="117.5" lengthAdjust="spacingAndGlyphs">Intensity(a. u.)</text>
<text transform="translate(19.3,629.6) rotate(-90)" font-size="17" textLength="111" lengthAdjust="spacingAndGlyphs">Intensity(a. u.)</text>
<text transform="translate(530.8,610.8) rotate(-90)" font-size="17">Intensity</text>
</svg>
</body></html>
